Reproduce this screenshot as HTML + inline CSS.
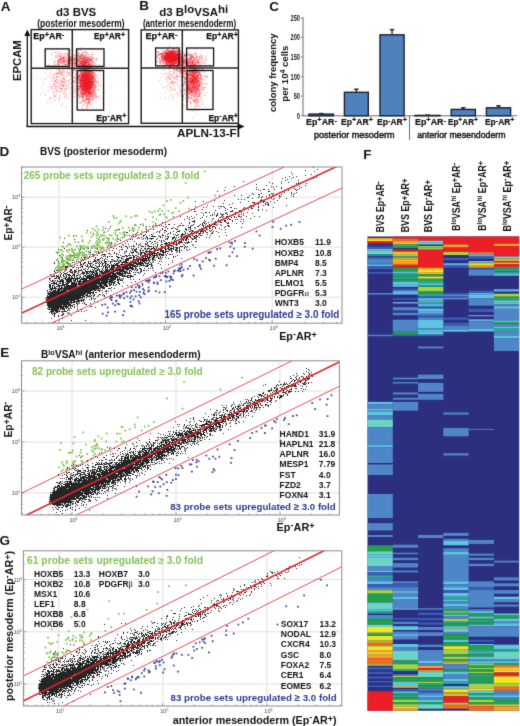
<!DOCTYPE html>
<html><head><meta charset="utf-8"><style>
html,body{margin:0;padding:0;background:#fff;width:520px;height:726px;overflow:hidden}
svg{display:block}
text{font-family:"Liberation Sans",sans-serif}
</style></head><body>
<svg width="520" height="726" viewBox="0 0 520 726"><defs><filter id="bl" filterUnits="userSpaceOnUse" x="-6" y="-6" width="532" height="738" color-interpolation-filters="sRGB"><feConvolveMatrix order="3" kernelMatrix="0.0113 0.0838 0.0113 0.0838 0.6193 0.0838 0.0113 0.0838 0.0113" edgeMode="duplicate" preserveAlpha="true"/></filter></defs><g filter="url(#bl)">
<rect x="-6" y="-6" width="532" height="738" fill="#fff"/>
<text x="0.8" y="10.7" font-size="13.5" font-weight="bold" fill="#111" text-anchor="start" >A</text>
<text x="139.3" y="9.8" font-size="13.5" font-weight="bold" fill="#111" text-anchor="start" >B</text>
<text x="56" y="16.3" font-size="11.5" font-weight="bold" fill="#111" text-anchor="start" textLength="40.3" lengthAdjust="spacingAndGlyphs" >d3 BVS</text>
<text x="37.3" y="26.6" font-size="10.3" font-weight="bold" fill="#111" text-anchor="start" textLength="87.3" lengthAdjust="spacingAndGlyphs" >(posterior mesoderm)</text>
<text x="159.2" y="16.3" font-size="11.5" font-weight="bold" fill="#111">d3 B<tspan dy="-3.5">lo</tspan><tspan dy="3.5">VSA</tspan><tspan dy="-3.5">hi</tspan></text>
<text x="142.9" y="26.6" font-size="10.3" font-weight="bold" fill="#111" text-anchor="start" textLength="93.3" lengthAdjust="spacingAndGlyphs" >(anterior mesendoderm)</text>
<radialGradient id="rg1"><stop offset="0" stop-color="#ee1c25" stop-opacity="0.9"/><stop offset="0.55" stop-color="#ee1c25" stop-opacity="0.54"/><stop offset="1" stop-color="#ee1c25" stop-opacity="0"/></radialGradient>
<ellipse cx="86" cy="81" rx="9.0" ry="15.3" fill="url(#rg1)"/>
<radialGradient id="rg2"><stop offset="0" stop-color="#ee1c25" stop-opacity="0.35"/><stop offset="0.55" stop-color="#ee1c25" stop-opacity="0.21"/><stop offset="1" stop-color="#ee1c25" stop-opacity="0"/></radialGradient>
<ellipse cx="83" cy="62" rx="10.8" ry="8.1" fill="url(#rg2)"/>
<path d="M84.8 85.3h1M84.9 78.3h1M81.5 79.2h1M91.3 84.6h1M91.0 83.1h1M87.9 82.6h1M78.0 88.3h1M88.4 85.2h1M77.9 66.2h1M81.7 77.0h1M87.5 80.6h1M88.5 75.5h1M87.5 84.4h1M82.8 95.6h1M88.7 91.2h1M83.0 74.7h1M84.3 80.1h1M89.0 83.1h1M83.9 72.9h1M83.5 91.4h1M82.1 83.1h1M88.0 68.3h1M86.2 92.1h1M76.3 78.3h1M85.5 74.1h1M88.4 80.5h1M79.0 88.0h1M89.2 89.0h1M92.9 84.1h1M86.6 70.0h1M89.0 75.8h1M83.8 70.2h1M81.4 76.5h1M92.2 63.7h1M79.0 83.0h1M92.9 85.9h1M76.9 59.6h1M87.7 74.7h1M80.6 89.3h1M91.3 82.3h1M87.2 84.7h1M93.7 86.3h1M88.5 85.7h1M78.5 91.9h1M90.6 85.5h1M76.5 75.6h1M90.0 65.6h1M85.1 89.7h1M79.7 94.7h1M88.6 79.7h1M87.6 86.5h1M86.6 90.7h1M82.8 77.5h1M91.0 81.2h1M81.8 89.0h1M93.0 77.2h1M79.4 79.9h1M85.3 78.5h1M92.7 72.3h1M92.1 70.2h1M82.2 86.4h1M91.4 88.3h1M87.7 82.2h1M86.7 85.9h1M85.2 83.4h1M88.7 81.0h1M89.7 85.8h1M95.7 83.8h1M83.9 77.8h1M85.9 88.9h1M84.4 84.3h1M94.8 59.2h1M80.6 83.1h1M87.9 83.0h1M83.9 86.6h1M87.4 76.6h1M97.7 84.0h1M83.3 80.2h1M84.9 80.5h1M72.9 76.9h1M90.8 71.1h1M85.7 89.1h1M90.1 93.7h1M77.8 78.0h1M84.4 86.3h1M91.2 58.2h1M91.2 68.7h1M89.3 68.3h1M86.8 91.2h1M85.3 82.6h1M89.8 82.2h1M85.6 94.0h1M91.0 78.5h1M99.2 71.3h1M90.4 78.7h1M86.6 87.0h1M87.1 86.4h1M78.7 68.2h1M89.0 72.8h1M81.1 68.5h1M92.1 87.3h1M93.1 73.0h1M86.0 71.3h1M89.7 94.5h1M81.7 94.3h1M90.7 79.5h1M76.5 93.0h1M85.5 75.9h1M87.9 84.5h1M93.2 72.3h1M91.5 93.6h1M93.0 79.5h1M82.4 89.7h1M86.6 82.1h1M92.8 78.8h1M75.0 77.7h1M77.1 88.0h1M87.5 75.8h1M86.0 88.1h1M86.4 92.3h1M85.7 89.8h1M93.2 94.7h1M82.8 88.5h1M77.0 71.8h1M76.6 90.1h1M80.1 80.9h1M85.1 80.8h1M83.2 83.0h1M94.6 81.4h1M88.5 89.5h1M85.0 70.3h1M83.3 90.1h1M78.1 75.9h1M90.8 87.7h1M86.0 87.8h1M86.8 71.0h1M78.5 75.6h1M90.4 76.2h1M81.7 74.4h1M78.6 80.0h1M80.3 84.1h1M74.7 83.8h1M82.9 64.5h1M89.5 78.7h1M75.3 73.6h1M87.4 77.1h1M89.7 87.4h1M89.2 83.8h1M92.4 86.6h1M88.2 63.3h1M90.3 92.1h1M84.6 77.0h1M95.3 66.1h1M88.3 101.6h1M81.5 86.9h1M95.1 80.0h1M88.7 88.7h1M81.7 80.2h1M87.4 88.0h1M85.8 79.3h1M81.1 77.9h1M90.3 81.9h1M81.9 73.8h1M98.8 90.7h1M89.1 59.0h1M89.0 85.1h1M94.1 84.6h1M85.7 85.4h1M76.7 89.8h1M87.6 75.0h1M92.4 96.4h1M79.3 75.3h1M87.4 82.6h1M84.1 72.7h1M96.2 89.8h1M80.3 69.6h1M94.2 89.4h1M94.7 87.9h1M81.8 83.2h1M75.6 74.6h1M85.7 85.4h1M82.5 79.9h1M88.2 84.2h1M89.1 82.8h1M84.4 87.7h1M86.2 74.0h1M83.0 81.0h1M85.5 82.3h1M86.0 82.5h1M85.4 70.3h1M88.0 90.0h1M88.1 79.4h1M88.1 72.8h1M76.9 81.5h1M81.5 87.3h1M80.8 58.7h1M81.0 94.4h1M84.2 69.4h1M82.3 85.4h1M88.4 82.5h1M93.1 87.0h1M85.9 86.1h1M93.9 89.3h1M90.9 71.8h1M85.3 87.2h1M84.6 90.1h1M88.9 88.7h1M85.0 102.6h1M92.0 79.2h1M86.4 103.1h1M84.4 88.4h1M90.7 81.1h1M80.4 82.6h1M87.7 90.6h1M89.8 81.2h1M90.1 85.6h1M87.0 81.5h1M84.8 86.8h1M80.9 75.7h1M86.0 68.6h1M83.9 63.9h1M82.7 85.8h1M88.7 80.5h1M84.9 69.0h1M94.8 85.4h1M91.2 73.5h1M85.1 65.5h1M89.7 88.9h1M76.9 80.6h1M89.0 66.0h1M77.2 71.9h1M83.0 69.1h1M86.2 83.1h1M89.0 87.0h1M93.2 90.9h1M79.7 76.7h1M80.9 71.8h1M85.6 81.0h1M88.4 67.5h1M80.1 80.8h1M85.0 78.4h1M85.7 74.5h1M89.4 84.0h1M85.6 75.3h1M85.2 57.9h1M81.3 81.3h1M78.8 82.7h1M86.7 69.3h1M84.8 78.3h1M88.2 86.2h1M85.8 73.8h1M85.3 80.4h1M89.5 83.5h1M82.5 69.5h1M84.2 74.7h1M80.7 80.0h1M83.6 81.9h1M88.5 77.5h1M97.2 78.3h1M91.3 82.0h1M91.4 60.8h1M82.4 83.1h1M88.9 100.9h1M87.5 91.9h1M89.7 89.1h1M88.4 79.7h1M88.4 71.8h1M91.7 72.4h1M87.2 99.0h1M84.9 81.2h1M91.6 81.2h1M82.1 83.2h1M88.8 87.0h1M82.3 95.9h1M94.0 81.2h1M87.3 77.4h1M92.8 75.0h1M89.2 76.9h1M82.7 87.1h1M92.4 80.9h1M82.7 87.9h1M85.8 83.6h1M93.3 90.6h1M83.5 100.4h1M86.0 87.7h1M82.9 80.6h1M77.6 96.2h1M92.6 70.7h1M78.8 67.2h1M91.6 77.1h1M85.7 78.3h1M85.4 71.8h1M86.1 68.8h1M85.7 83.6h1M88.2 79.0h1M81.7 82.4h1M83.7 94.3h1M89.7 80.0h1M83.7 75.0h1M81.5 78.0h1M87.4 85.4h1M88.7 98.8h1M82.6 81.1h1M99.4 65.1h1M83.5 82.4h1M86.7 84.5h1M84.9 84.1h1M86.3 87.6h1M76.9 73.5h1M86.0 72.2h1M81.0 86.3h1M82.9 86.4h1M89.6 83.6h1M88.4 80.1h1M79.2 80.7h1M88.2 76.5h1M85.5 87.4h1M81.8 86.4h1M94.9 76.3h1M86.7 79.7h1M93.4 83.7h1M90.3 75.1h1M85.9 80.9h1M77.5 93.2h1M90.3 66.1h1M89.6 79.9h1M88.2 84.1h1M78.8 79.2h1M93.2 76.1h1M81.1 69.4h1M80.1 83.9h1M94.1 84.7h1M87.2 100.0h1M83.5 75.3h1M88.5 85.7h1M81.1 71.1h1M87.4 83.1h1M79.7 79.3h1M83.4 84.9h1M85.4 80.3h1M84.3 90.0h1M92.7 77.9h1M90.1 74.6h1M86.3 87.4h1M93.3 77.7h1M85.6 82.7h1M78.8 81.1h1M82.8 84.2h1M80.6 64.2h1M86.2 83.2h1M83.4 88.6h1M84.7 75.9h1M88.3 67.7h1M82.7 80.8h1M90.1 79.6h1M87.5 75.4h1M87.4 95.1h1M82.7 101.1h1M82.9 81.1h1M86.8 89.7h1M80.1 63.1h1M88.9 87.8h1M89.0 103.4h1M87.0 83.2h1M90.5 84.1h1M94.0 70.5h1M84.2 51.7h1M89.9 77.8h1M90.4 99.3h1M86.0 78.8h1M83.6 73.9h1M83.0 86.4h1M86.2 81.6h1M85.2 88.8h1M88.4 79.8h1M89.2 79.7h1M80.5 93.4h1M88.2 72.9h1M91.2 83.9h1M78.5 94.7h1M87.6 88.6h1M86.9 79.7h1M78.6 89.3h1M86.1 78.6h1M87.7 81.7h1M89.2 77.8h1M85.8 62.8h1M84.0 86.7h1M92.4 77.9h1M85.4 94.5h1M84.4 87.2h1M94.1 81.3h1M91.9 75.0h1M87.0 80.3h1M86.6 90.6h1M97.5 75.3h1M83.2 85.2h1M80.9 85.2h1M88.7 78.6h1M88.5 67.8h1M89.6 67.9h1M82.7 76.3h1M84.1 88.3h1M86.4 77.6h1M88.6 94.4h1M86.0 84.1h1M92.0 83.3h1M79.8 102.2h1M96.6 64.1h1M85.8 84.5h1M90.6 86.7h1M84.7 72.0h1M86.5 89.8h1M80.8 72.3h1M85.9 64.5h1M84.8 77.3h1M88.2 75.0h1M81.8 77.6h1M85.8 75.4h1M86.1 87.4h1M91.7 95.5h1M82.2 77.4h1M74.1 97.1h1M82.5 80.7h1M88.5 69.5h1M88.2 80.8h1M77.2 83.5h1M91.7 65.1h1M89.9 82.8h1M88.3 84.8h1M92.3 79.1h1M90.2 77.5h1M89.5 74.1h1M85.5 95.7h1M88.1 79.7h1M80.5 74.3h1M86.9 89.0h1M88.0 85.5h1M85.8 92.5h1M84.1 76.3h1M90.3 81.5h1M84.7 76.1h1M84.8 86.3h1M87.7 70.7h1M88.0 82.5h1M81.2 87.6h1M84.7 78.1h1M89.8 92.2h1M82.7 84.7h1M81.8 100.7h1M83.6 91.2h1M82.9 87.9h1M96.7 59.4h1M83.9 85.3h1M85.6 75.3h1M96.3 81.7h1M78.1 88.3h1M77.7 90.8h1M83.2 82.2h1M92.1 82.0h1M79.3 66.6h1M91.7 87.3h1M82.1 88.3h1M88.4 86.5h1M75.2 78.4h1M90.3 87.2h1M90.2 60.1h1M86.8 85.2h1M98.2 72.9h1M84.4 81.3h1M90.3 77.2h1M91.5 74.3h1M87.3 76.5h1M86.8 75.1h1M78.3 90.3h1M87.5 76.3h1M87.0 89.4h1M81.3 80.1h1M88.6 85.5h1M84.4 63.1h1M92.0 83.8h1M86.1 78.6h1M87.3 77.4h1M81.1 74.7h1M83.1 75.8h1M80.4 86.4h1M79.7 86.6h1M81.1 84.0h1M92.6 82.7h1M82.5 81.4h1M86.7 66.3h1M83.1 82.4h1M83.7 81.7h1M89.5 87.5h1M90.3 86.0h1M84.6 80.8h1M84.7 78.3h1M85.1 66.3h1M84.4 80.8h1M81.3 80.8h1M88.5 79.6h1M96.0 58.8h1M85.0 65.5h1M90.7 103.6h1M74.0 82.1h1M88.5 78.4h1M88.6 61.9h1M90.1 84.2h1M86.1 76.0h1M89.1 76.9h1M87.1 76.7h1M75.2 80.7h1M87.0 87.4h1M81.8 80.7h1M89.0 82.2h1M92.0 97.9h1M81.6 64.7h1M90.1 94.0h1M90.4 87.9h1M83.0 74.9h1M90.3 73.3h1M77.3 72.5h1M98.0 97.3h1M82.7 74.8h1M87.1 74.6h1M92.3 80.3h1M80.8 92.1h1M83.2 82.9h1M85.9 78.3h1M87.6 75.1h1M77.1 62.2h1M79.9 74.6h1M85.9 81.5h1M88.7 82.0h1M82.2 75.0h1M75.8 79.6h1M88.3 85.5h1M85.4 79.5h1M90.5 81.1h1M89.5 86.0h1M87.0 92.1h1M83.3 77.9h1M82.1 74.2h1M93.5 96.0h1M86.1 85.8h1M91.6 87.9h1M91.8 70.3h1M82.9 84.8h1M92.9 81.9h1M81.9 78.0h1M82.8 73.7h1M93.2 75.7h1M86.1 99.4h1M91.7 83.9h1M83.1 84.5h1M93.8 86.3h1M92.1 81.8h1M88.5 79.3h1M88.0 92.1h1M79.1 80.5h1M87.2 76.1h1M84.5 87.7h1M95.6 86.4h1M87.6 67.8h1M95.3 81.7h1M85.8 71.5h1M85.7 71.7h1M86.3 85.0h1M86.1 83.4h1M81.9 93.2h1M82.9 65.5h1M85.1 74.5h1M81.2 78.0h1M87.4 71.0h1M85.3 93.1h1M89.3 79.7h1M86.6 80.0h1M85.8 87.2h1M85.6 60.6h1M85.9 73.4h1M89.1 75.8h1M86.7 99.5h1M81.0 71.4h1M79.2 60.6h1M77.0 84.1h1M82.9 65.1h1M78.9 86.2h1M82.3 77.9h1M87.6 92.5h1M95.3 89.8h1M86.7 82.6h1M94.7 93.1h1M84.5 84.9h1M87.4 81.4h1M83.6 69.7h1M83.4 67.9h1M91.9 85.6h1M80.2 92.9h1M90.3 64.8h1M94.8 87.9h1M95.9 70.5h1M88.5 84.6h1M87.0 82.5h1M91.1 68.3h1M80.0 69.1h1M83.3 75.9h1M87.8 83.3h1M86.2 75.2h1M83.9 89.1h1M89.7 81.9h1M84.5 94.2h1M83.1 86.5h1M91.5 78.7h1M90.0 71.5h1M90.9 82.7h1M78.4 86.7h1M81.7 91.9h1M82.7 79.6h1M87.4 78.2h1M87.2 76.3h1M89.2 81.0h1M87.0 57.6h1M91.6 81.3h1M77.4 81.8h1M88.2 90.1h1M80.8 94.1h1M85.2 101.4h1M85.3 86.8h1M84.2 71.5h1M91.3 88.7h1M93.4 88.3h1M83.2 66.9h1M82.9 75.3h1M82.1 86.0h1M87.6 78.7h1M86.8 79.8h1M87.0 87.4h1M90.6 75.2h1M78.8 93.1h1M86.5 90.4h1M78.1 78.2h1M86.1 68.7h1M83.5 87.2h1M91.2 94.5h1M81.9 69.1h1M88.5 89.0h1M86.9 69.9h1M89.8 87.7h1M88.7 76.9h1M87.5 87.7h1M83.3 65.3h1M87.6 85.1h1M86.1 88.6h1M83.2 80.3h1M84.5 85.9h1M93.7 78.9h1M95.9 94.0h1M89.8 86.0h1M94.5 79.5h1M85.5 72.0h1M88.3 92.4h1M88.6 84.6h1M85.0 82.4h1M79.2 89.9h1M84.0 71.6h1M82.4 74.0h1M90.1 90.0h1M79.5 88.9h1M90.3 76.1h1M78.9 74.7h1M83.0 83.9h1M84.3 63.8h1M87.1 68.0h1M90.3 70.7h1M82.7 73.7h1M83.4 92.0h1M90.1 86.1h1M87.5 67.8h1M83.5 76.3h1M81.3 85.3h1M82.4 75.0h1M81.0 63.5h1M88.9 92.3h1M86.8 72.7h1M73.0 82.5h1M91.8 83.5h1M90.5 93.6h1M91.4 77.2h1M91.1 87.6h1M78.6 77.6h1M79.2 80.1h1M88.8 71.9h1M76.1 92.0h1M87.8 93.5h1M79.6 90.0h1M96.0 98.1h1M85.0 83.3h1M85.3 89.5h1M91.0 81.7h1M79.5 87.3h1M83.7 86.3h1M87.3 94.8h1M91.5 77.2h1M87.7 96.0h1M83.4 84.7h1M91.7 91.7h1M88.5 69.8h1M79.9 83.1h1M87.9 102.7h1M81.9 90.7h1M89.7 66.8h1M82.1 82.4h1M83.6 79.7h1M88.3 74.1h1M88.2 75.6h1M83.4 85.6h1M83.2 83.4h1M93.7 81.2h1M85.3 87.2h1M84.2 90.2h1M79.8 86.3h1M83.5 74.2h1M94.5 73.8h1M94.4 86.6h1M93.0 72.7h1M91.8 93.4h1M85.4 79.9h1M97.8 82.5h1M84.0 75.6h1M88.1 83.8h1M86.9 95.6h1M84.4 85.0h1M93.0 72.5h1M91.0 96.6h1M79.5 71.7h1M81.0 65.3h1M88.2 65.2h1M88.4 93.4h1M78.2 78.3h1M76.8 87.6h1M82.5 78.7h1M86.3 85.6h1M84.3 81.1h1M83.4 82.0h1M80.4 81.5h1M76.7 76.8h1M95.2 81.7h1M80.0 83.2h1M81.3 67.0h1M82.5 87.3h1M87.8 80.2h1M81.6 71.8h1M92.5 83.1h1M81.4 63.1h1M79.4 102.0h1M80.5 80.3h1M87.0 79.7h1M84.7 69.3h1M81.0 95.4h1M82.4 88.2h1M77.9 78.7h1M87.3 89.8h1M80.6 86.1h1M87.9 74.7h1M88.3 73.4h1M82.2 80.8h1M73.0 80.1h1M81.2 68.6h1M84.0 87.5h1M84.1 91.8h1M80.4 69.8h1M93.4 84.4h1M90.5 74.0h1M89.9 83.2h1M89.1 81.2h1M91.8 75.5h1M81.4 68.4h1M91.6 74.7h1M81.0 73.0h1M83.9 70.2h1M84.6 75.7h1M83.4 72.8h1M86.2 77.1h1M86.6 83.1h1M87.6 62.4h1M83.4 74.2h1M89.7 67.6h1M82.6 78.5h1M84.4 89.4h1M83.9 89.2h1M79.0 65.6h1M91.9 84.7h1M88.3 82.0h1M88.3 70.7h1M90.6 76.5h1M90.7 81.7h1M76.5 70.1h1M91.4 79.8h1M84.1 83.1h1M84.0 76.4h1M86.5 82.2h1M93.3 81.4h1M95.0 96.3h1M94.2 90.0h1M86.6 82.2h1M85.3 74.8h1M85.7 75.6h1M93.9 85.5h1M83.9 64.7h1M85.7 77.5h1M80.8 71.3h1M75.2 85.8h1M85.7 102.9h1M85.9 79.7h1M92.9 82.1h1M86.8 77.8h1M83.1 93.7h1M90.8 95.6h1M84.3 81.3h1M81.8 89.2h1M79.3 85.8h1M91.3 93.0h1M81.5 90.3h1M82.6 74.6h1M79.6 90.8h1M93.9 75.9h1M82.4 78.1h1M98.0 89.5h1M83.4 65.7h1M82.8 91.1h1M95.0 78.7h1M82.7 76.7h1M76.9 88.7h1M80.8 90.0h1M77.8 70.2h1M87.4 74.5h1M89.8 81.1h1M80.4 86.3h1M90.0 64.7h1M94.8 85.2h1M89.6 65.2h1M82.5 78.0h1M91.2 68.6h1M81.8 63.7h1M84.8 83.9h1M77.9 76.0h1M88.4 94.5h1M89.2 78.4h1M80.3 73.0h1M82.8 82.2h1M85.8 95.2h1M87.4 71.9h1M93.4 89.1h1M86.5 74.9h1M77.0 72.3h1M90.4 74.2h1M79.7 82.7h1M87.2 86.2h1M89.1 93.0h1M82.0 89.3h1M81.3 86.9h1M86.9 83.1h1M90.6 80.9h1M91.3 88.4h1M86.7 76.2h1M82.4 76.5h1M85.0 80.8h1M100.3 86.4h1M89.7 73.7h1M82.6 78.3h1M86.9 72.2h1M93.7 76.2h1M91.2 61.1h1M86.0 83.4h1M86.9 86.1h1M87.3 82.4h1M76.9 74.9h1M74.8 86.3h1M87.5 79.3h1M82.1 76.1h1M94.9 95.7h1M85.7 91.9h1M78.4 64.6h1M83.7 73.6h1M83.3 82.6h1M100.5 75.4h1M86.2 83.3h1M85.8 88.9h1M94.5 70.4h1M86.8 78.7h1M87.7 68.0h1M77.6 61.3h1M88.5 82.6h1M86.4 60.9h1M84.2 74.6h1M79.2 73.2h1M89.3 85.6h1M85.9 85.4h1M83.1 81.6h1M86.2 85.7h1M85.7 79.8h1M85.4 75.5h1M96.7 85.4h1M88.1 100.5h1M92.7 67.8h1M89.3 88.1h1M95.0 92.2h1M89.7 71.0h1M81.8 83.3h1M88.4 72.3h1M84.2 77.6h1M86.3 83.9h1M84.6 70.5h1M92.0 94.6h1M85.5 89.7h1M88.1 86.6h1M88.3 74.5h1M88.8 89.6h1M81.7 97.7h1M96.0 96.5h1M95.5 87.3h1M84.4 75.9h1M82.1 82.0h1M85.8 86.7h1M76.3 100.7h1M96.9 80.8h1M89.2 85.0h1M87.3 79.2h1M85.4 74.0h1M86.9 80.8h1M87.5 73.7h1M86.2 81.4h1M88.9 72.0h1M88.0 89.4h1M88.9 77.9h1M83.6 79.0h1M89.5 94.2h1M85.2 75.5h1M87.8 82.7h1M81.6 74.7h1M85.5 86.7h1M80.3 72.3h1M88.4 70.6h1M86.5 84.0h1M85.5 72.3h1M85.7 78.2h1M87.6 73.9h1M91.2 66.8h1M85.2 81.1h1M90.6 75.8h1M88.6 76.2h1M89.5 95.8h1M84.1 84.8h1M81.5 89.3h1M91.8 81.3h1M80.6 84.4h1M91.5 90.3h1M89.9 65.4h1M82.7 93.1h1M80.1 90.6h1M95.0 87.5h1M91.4 78.2h1M80.1 80.1h1M85.0 80.6h1M89.3 79.8h1M86.9 84.6h1M86.0 96.7h1M88.1 81.7h1M85.0 75.7h1M92.5 82.3h1M80.8 76.2h1M85.3 77.2h1M91.2 71.1h1M88.4 82.2h1M80.3 81.4h1M85.5 85.3h1M83.8 83.6h1M78.0 71.8h1M89.8 89.9h1M85.9 75.9h1M91.2 63.2h1M82.2 86.7h1M89.1 72.2h1M76.9 93.3h1M86.7 73.4h1M86.3 88.7h1M73.6 90.4h1M89.6 63.3h1M89.7 65.9h1M91.5 84.4h1M96.8 75.8h1M86.0 89.9h1M82.9 75.0h1M84.2 80.4h1M80.8 85.1h1M88.6 81.6h1M94.2 78.2h1M92.3 76.4h1M89.6 64.6h1M87.0 79.5h1M83.6 75.8h1M84.3 74.9h1M75.5 75.9h1M83.4 76.5h1M80.9 79.8h1M89.8 78.9h1M83.6 92.5h1M90.7 88.8h1M91.5 78.2h1M85.4 90.5h1M83.3 80.0h1M87.8 84.2h1M84.7 89.4h1M85.1 87.2h1M91.1 86.6h1M89.5 71.1h1M79.7 75.7h1M88.3 93.8h1M80.1 83.6h1M81.9 74.8h1M84.7 86.9h1M87.0 91.0h1M81.3 88.6h1M90.5 81.6h1M88.3 76.2h1M80.8 77.6h1M82.9 105.6h1M83.7 95.0h1M87.0 83.7h1M89.6 74.4h1M90.4 84.2h1M78.7 86.1h1M88.7 84.8h1M93.6 77.5h1M88.5 87.4h1M81.7 91.2h1M79.0 69.9h1M88.5 71.7h1M85.4 67.0h1M86.3 71.4h1M87.6 68.0h1M88.2 78.7h1M86.3 80.4h1M86.6 69.8h1M73.7 81.3h1M81.5 77.1h1M88.0 64.1h1M82.3 75.8h1M80.9 83.8h1M85.3 74.0h1M81.3 87.9h1M82.8 86.0h1M88.2 64.9h1M80.8 81.0h1M87.6 87.6h1M89.9 89.8h1M84.2 79.2h1M89.7 77.4h1M91.1 67.5h1M89.1 79.5h1M76.6 89.3h1M87.5 81.2h1M80.8 77.0h1M93.3 74.0h1M69.3 73.7h1M80.2 79.9h1M84.1 73.2h1M82.0 89.9h1M79.1 97.6h1M83.4 71.7h1M89.8 85.8h1M81.0 87.4h1M77.2 73.1h1M91.4 78.8h1M79.8 85.4h1M90.4 80.8h1M77.3 78.1h1M88.0 87.5h1M94.9 78.9h1M83.7 80.7h1M91.8 73.0h1M92.3 57.6h1M89.8 75.3h1M88.2 86.9h1M80.3 80.3h1M87.2 86.0h1M81.5 72.6h1M76.8 102.6h1M85.1 79.1h1M78.8 88.9h1M83.4 93.2h1M90.1 81.2h1M89.5 71.5h1M84.4 76.1h1M79.9 81.1h1M85.3 93.2h1M69.9 75.3h1M81.6 77.1h1M88.0 84.4h1M86.1 77.0h1M88.4 84.1h1M77.2 78.8h1M79.4 71.0h1M86.7 81.5h1M86.5 73.6h1M85.0 73.2h1M87.8 86.9h1M94.4 91.8h1M82.1 77.1h1M81.5 83.6h1M95.5 87.0h1M75.4 70.3h1M79.8 85.4h1M86.0 83.5h1M94.6 74.0h1M81.9 97.7h1M87.6 74.4h1M76.3 68.0h1M74.3 81.6h1M86.2 89.4h1M85.3 75.1h1M82.4 97.2h1M77.5 82.5h1M86.1 86.2h1M84.1 85.2h1M89.9 79.7h1M83.8 79.4h1M81.4 79.2h1M84.6 82.8h1M92.4 92.1h1M83.9 86.1h1M87.4 87.5h1M86.1 83.3h1M83.7 74.3h1M90.2 92.0h1M89.2 84.7h1M87.3 77.2h1M77.4 86.6h1M87.0 76.3h1M81.4 91.9h1M77.3 96.0h1M89.1 101.2h1M82.6 80.8h1M83.6 82.3h1M85.0 74.6h1M91.2 74.3h1M83.6 85.7h1M83.4 77.3h1M87.7 77.9h1M80.0 80.1h1M84.9 95.5h1M80.7 89.2h1M82.2 78.0h1M84.4 83.3h1M90.1 95.9h1M82.9 92.3h1M90.8 87.9h1M82.4 88.7h1M85.5 84.0h1M84.7 86.6h1M91.4 90.6h1M85.0 89.5h1M93.0 73.0h1M93.1 69.6h1M88.6 86.0h1M93.1 83.4h1M83.7 74.2h1M80.0 87.5h1M84.9 74.9h1M88.6 74.5h1M83.9 77.1h1M93.9 93.4h1M85.2 67.6h1M87.3 81.6h1M87.7 85.8h1M84.5 88.9h1M90.0 82.8h1M84.0 76.9h1M89.3 71.7h1M85.2 74.6h1M79.3 86.1h1M85.9 81.3h1M90.2 68.3h1M85.7 83.5h1M90.0 71.8h1M89.4 82.9h1M92.5 90.7h1M88.6 99.3h1M86.0 77.4h1M84.4 73.0h1M85.9 65.0h1M85.6 84.6h1M90.8 78.0h1M92.7 75.5h1M85.4 65.0h1M82.3 74.3h1M93.0 85.4h1M80.8 85.4h1M88.3 79.1h1M86.1 78.5h1M83.5 66.3h1M85.6 91.7h1M92.7 78.7h1M82.5 79.2h1M90.2 83.9h1M83.3 84.0h1M85.0 85.3h1M84.1 68.8h1M86.3 87.3h1M80.8 80.1h1M90.1 77.9h1M83.0 97.8h1M89.9 89.5h1M81.6 94.5h1M78.3 76.7h1M89.5 92.0h1M81.7 75.5h1M86.9 65.0h1M89.0 85.6h1M83.9 85.4h1M89.6 83.6h1M88.4 93.5h1M83.8 82.3h1M83.6 89.5h1M84.1 84.9h1M86.6 81.5h1M94.0 80.3h1M92.6 87.8h1M92.1 79.6h1M90.3 87.2h1M83.1 83.2h1M85.4 80.7h1M92.0 75.1h1M78.2 66.7h1M83.9 75.7h1M86.1 85.6h1M94.2 83.5h1M88.1 75.0h1M88.7 92.1h1M92.2 65.0h1M90.1 94.0h1M89.8 68.8h1M84.6 85.8h1M87.9 74.4h1M81.9 88.9h1M79.8 92.7h1M86.1 83.5h1M79.8 76.1h1M89.2 69.0h1M95.6 69.5h1M80.4 81.4h1M88.2 87.0h1M84.3 79.3h1M84.9 76.3h1M74.1 88.9h1M87.2 82.3h1M83.1 83.1h1M85.9 80.4h1M91.1 66.9h1M87.2 72.3h1M84.5 93.2h1M81.0 80.2h1M83.3 88.8h1M81.5 67.3h1M88.4 78.1h1M84.5 89.8h1M81.9 78.0h1M86.7 84.4h1M83.6 89.4h1M96.3 77.7h1M94.6 63.8h1M92.5 78.2h1M86.6 78.2h1M83.1 70.6h1M84.2 91.6h1M91.3 78.2h1M83.6 75.3h1M80.5 95.7h1M89.1 82.0h1M83.7 72.7h1M92.1 87.4h1M81.6 89.1h1M80.9 86.2h1M81.6 77.6h1M88.3 84.5h1M90.7 74.2h1M93.3 92.0h1M86.0 84.8h1M82.4 79.8h1M79.9 81.7h1M86.9 92.0h1M90.4 87.6h1M84.3 79.2h1M84.4 82.8h1M77.1 87.3h1M78.8 76.8h1M86.1 76.8h1M93.7 80.2h1M93.2 90.6h1M83.7 84.3h1M92.0 78.3h1M86.4 76.4h1M86.3 78.1h1M86.4 89.2h1M92.4 82.1h1M86.9 88.0h1M84.7 72.4h1M91.1 73.4h1M90.3 73.1h1M94.4 72.5h1M89.9 93.2h1M81.6 93.1h1M82.2 66.6h1M89.3 86.7h1M85.1 60.4h1M85.7 78.5h1M84.3 78.6h1M77.8 76.4h1M94.3 93.6h1M84.3 75.2h1M87.8 89.7h1M89.3 71.5h1M86.7 82.1h1M92.6 90.8h1M88.4 90.9h1M84.2 93.6h1M84.0 84.2h1M90.2 73.5h1M82.8 66.7h1M86.8 80.6h1M84.5 85.1h1M76.2 80.8h1M86.4 78.8h1M89.7 95.3h1M83.9 73.3h1M83.2 81.8h1M88.7 74.0h1M90.6 72.6h1M89.8 84.5h1M88.1 98.6h1M84.8 79.6h1M88.2 88.0h1M79.8 83.2h1M82.6 86.1h1M92.3 81.4h1M85.5 82.5h1M72.4 87.3h1M88.6 82.3h1M84.2 75.0h1M85.2 90.9h1M85.5 92.0h1M74.1 77.2h1M87.3 80.9h1M78.4 75.6h1M91.8 70.5h1M81.4 72.0h1M83.5 86.2h1M88.7 64.4h1M92.7 76.2h1M83.3 94.6h1M85.6 70.9h1M83.1 75.1h1M81.3 78.3h1M90.0 83.9h1M79.6 103.7h1M81.4 81.9h1M86.1 87.2h1M84.5 84.7h1M95.7 81.8h1M81.0 83.7h1M82.3 78.0h1M86.9 83.7h1M84.7 87.9h1M85.1 70.4h1M90.0 78.0h1M91.6 75.7h1M88.6 83.6h1M73.6 68.8h1M80.8 92.5h1M77.3 88.5h1M91.0 85.0h1M89.1 77.0h1M86.0 82.8h1M87.9 86.8h1M85.0 75.3h1M83.4 84.4h1M78.3 70.8h1M84.1 76.5h1M84.8 59.3h1M84.4 79.0h1M89.6 64.8h1M84.6 84.9h1M88.3 90.8h1M90.9 72.4h1M88.9 78.3h1M82.3 93.5h1M83.1 74.0h1M84.1 74.0h1M90.6 84.1h1M92.5 84.4h1M83.2 89.6h1M83.0 77.2h1M85.2 81.3h1M91.5 76.0h1M87.6 80.8h1M80.2 72.0h1M85.0 84.3h1M87.5 84.9h1M86.2 77.3h1M88.0 72.8h1M79.8 78.3h1M79.4 76.8h1M82.5 76.5h1M85.8 74.4h1M84.0 67.0h1M86.7 73.8h1M87.9 57.8h1M82.3 83.0h1M74.7 78.0h1M86.4 81.8h1M79.1 82.9h1M86.7 73.0h1M89.4 80.6h1M86.1 77.3h1M88.5 81.8h1M91.3 84.7h1M83.1 79.2h1M90.3 78.0h1M87.8 85.3h1M85.2 61.9h1M86.6 82.8h1M86.6 74.8h1M91.6 79.9h1M83.1 75.1h1M87.7 72.0h1M81.4 97.4h1M92.1 89.7h1M92.3 85.9h1M78.2 90.8h1M91.8 85.0h1M76.9 91.2h1M92.3 77.0h1M86.6 87.4h1M85.6 90.0h1M86.4 86.7h1M86.4 68.8h1M81.4 107.1h1M87.3 91.8h1M91.3 95.1h1M88.6 76.1h1M86.1 65.2h1M85.1 88.5h1M75.9 82.6h1M89.8 91.9h1M81.7 75.6h1M77.3 72.6h1M88.5 98.1h1M80.7 92.4h1M88.0 76.9h1M96.2 60.2h1M85.7 82.8h1M95.9 95.8h1M96.6 82.1h1M90.6 92.3h1M88.4 84.0h1M85.1 77.6h1M80.3 97.1h1M83.9 63.8h1M87.2 80.7h1M86.8 96.0h1M85.5 78.8h1M82.5 80.8h1M84.0 82.7h1M100.6 84.3h1M82.0 97.0h1M90.0 87.7h1M89.3 87.8h1M89.2 92.7h1M90.7 92.2h1M83.7 81.0h1M82.6 88.9h1M89.9 77.1h1M88.7 102.7h1M91.8 71.8h1M85.6 86.3h1M85.8 84.2h1M91.5 83.7h1M80.9 86.9h1M85.5 81.9h1M83.4 69.6h1M80.2 78.1h1M81.0 58.5h1M91.4 71.4h1M82.6 85.4h1M74.7 92.1h1M82.4 86.5h1M83.7 83.5h1M86.5 81.0h1M77.5 68.8h1M85.8 92.7h1" stroke="#ee1c25" stroke-width="1" stroke-opacity="0.45" fill="none"/>
<path d="M84.9 98.1h1M87.6 97.8h1M90.9 86.2h1M88.1 94.0h1M85.8 90.0h1M83.9 89.0h1M82.7 109.7h1M93.6 95.1h1M89.9 89.3h1M76.2 84.3h1M87.6 103.4h1M86.8 89.1h1M86.1 89.2h1M81.6 93.6h1M85.4 90.3h1M83.5 89.6h1M87.9 103.1h1M86.2 108.1h1M80.7 96.6h1M82.5 94.1h1M87.4 98.3h1M91.4 91.8h1M82.2 93.9h1M88.1 90.9h1M90.5 104.8h1M81.5 97.1h1M91.0 83.8h1M87.8 93.7h1M81.5 102.7h1M87.8 92.2h1M88.7 98.8h1M90.0 98.4h1M88.6 88.1h1M85.4 95.8h1M76.2 107.5h1M85.5 88.8h1M79.9 96.5h1M87.1 91.6h1M85.4 89.8h1M84.1 94.4h1M84.5 99.0h1M86.4 95.8h1M88.6 102.4h1M89.3 96.3h1M86.4 90.3h1M85.7 99.0h1M87.9 92.7h1M81.8 86.0h1M88.3 101.0h1M88.5 87.0h1M86.2 96.3h1M83.4 97.0h1M86.2 90.1h1M82.2 99.7h1M88.4 89.8h1M83.0 100.2h1M89.3 93.2h1M93.2 93.3h1M82.9 101.4h1M86.3 97.0h1M87.1 89.1h1M82.4 93.9h1M92.5 89.1h1M92.3 96.3h1M82.7 96.6h1M89.2 89.7h1M78.7 97.1h1M82.7 97.6h1M79.6 94.2h1M83.8 86.4h1M86.1 96.0h1M84.8 88.1h1M87.8 84.8h1M89.1 97.9h1M93.5 100.2h1M88.4 96.5h1M87.1 87.3h1M92.7 98.1h1M85.9 88.3h1M92.8 98.1h1M82.4 98.9h1M94.4 94.9h1M88.6 92.6h1M84.6 101.3h1M99.0 95.7h1M86.5 99.6h1M85.8 99.2h1M90.2 89.1h1M82.8 94.6h1M90.2 96.6h1M91.8 87.0h1M88.9 91.4h1M87.4 96.9h1M83.2 93.7h1M82.5 96.5h1M83.7 92.1h1M87.8 91.2h1M91.5 91.3h1M90.3 96.6h1M83.0 93.7h1M83.8 92.9h1M85.9 105.6h1M85.4 104.1h1M88.7 87.4h1M78.0 98.9h1M79.3 99.2h1M91.0 97.3h1M86.2 93.5h1M88.0 93.2h1M84.9 92.8h1M91.5 91.4h1M88.5 88.3h1M84.2 87.0h1M86.2 99.0h1M88.2 92.1h1M89.4 93.0h1M88.4 96.6h1M89.1 80.6h1M82.0 99.5h1M86.6 108.0h1M86.1 91.8h1M92.8 98.2h1M94.3 98.0h1M86.2 99.2h1M84.0 92.4h1M84.9 93.7h1M90.0 92.2h1M88.2 92.1h1M90.4 79.0h1M86.2 96.0h1M82.8 100.9h1M87.8 102.4h1M90.7 98.7h1M86.4 88.7h1M86.1 92.3h1M88.0 92.3h1M98.8 85.7h1M91.5 92.3h1M86.1 100.4h1M87.0 88.0h1M88.6 93.9h1M79.0 96.1h1M82.9 90.7h1M88.9 96.7h1M85.9 107.6h1M88.6 91.4h1M87.9 94.3h1M78.5 85.9h1M81.6 107.0h1M86.3 93.4h1M84.8 100.7h1M87.1 104.9h1M90.0 104.5h1M86.5 97.2h1M85.3 94.0h1M80.3 91.6h1M83.3 91.2h1M91.7 96.5h1M91.7 100.0h1M90.5 100.8h1M84.7 99.6h1M85.8 91.9h1M91.6 107.5h1M83.2 105.0h1M90.2 90.1h1M88.1 97.1h1M88.4 92.9h1M82.0 95.2h1M90.3 99.5h1M89.5 101.4h1M83.2 94.8h1M88.3 100.8h1M87.6 98.0h1M87.5 107.1h1M78.6 94.9h1M96.5 96.4h1M79.9 95.8h1M81.5 91.1h1M87.9 104.9h1M88.8 98.9h1M90.9 96.2h1M83.7 94.4h1M88.3 93.4h1M84.4 92.9h1M81.2 89.1h1M86.7 92.9h1M87.1 103.1h1M88.2 94.8h1M82.5 88.8h1M88.4 90.0h1M88.7 88.8h1M87.5 94.6h1M90.8 92.7h1M85.6 96.4h1M87.2 104.8h1M86.0 91.9h1M85.8 97.7h1M87.9 99.0h1M81.7 109.3h1M94.1 94.8h1M82.3 95.9h1M88.6 82.1h1M87.1 86.5h1M88.8 103.0h1M91.0 86.3h1M92.3 100.2h1M85.6 97.9h1M92.8 93.1h1M86.9 91.8h1M91.5 82.6h1M92.5 89.4h1M90.6 85.6h1M83.4 91.5h1M90.2 85.6h1M89.3 91.3h1M91.8 93.2h1M88.9 94.0h1M93.9 92.9h1M86.9 106.5h1M87.3 99.0h1M84.2 96.2h1M78.3 95.6h1M84.5 86.3h1M81.5 101.6h1M88.6 86.2h1M94.0 91.0h1M85.6 96.4h1M82.6 85.7h1M84.1 101.8h1M90.7 85.9h1M91.6 95.2h1M88.9 95.3h1M88.6 89.2h1M83.5 90.9h1M85.6 98.6h1M82.3 104.2h1M84.6 91.6h1M89.7 97.5h1M85.7 88.8h1M83.2 85.8h1M91.4 101.3h1M94.2 97.9h1M88.3 99.4h1M90.7 93.5h1M88.4 107.4h1M80.5 86.9h1M83.3 99.4h1M91.6 93.0h1M89.6 94.7h1M88.2 91.9h1" stroke="#ee1c25" stroke-width="1" stroke-opacity="0.35" fill="none"/>
<path d="M82.9 61.0h1M88.4 70.7h1M74.3 63.3h1M83.0 65.2h1M88.1 64.4h1M86.9 56.9h1M74.8 68.2h1M88.8 56.9h1M89.2 63.9h1M71.2 64.9h1M78.2 66.1h1M79.7 57.8h1M75.6 60.1h1M87.9 58.1h1M74.0 70.3h1M91.9 64.0h1M80.4 55.7h1M75.1 63.4h1M89.3 56.4h1M83.0 59.8h1M81.8 63.2h1M93.1 58.2h1M87.1 65.7h1M81.6 60.4h1M76.5 65.7h1M80.4 58.2h1M83.3 57.3h1M78.0 59.7h1M90.2 60.1h1M85.5 54.6h1M73.6 68.9h1M81.1 54.3h1M82.5 63.6h1M74.7 57.2h1M84.3 57.0h1M86.8 65.2h1M85.1 59.1h1M82.8 58.3h1M82.4 62.4h1M81.6 65.2h1M95.5 58.6h1M84.7 64.6h1M86.1 60.0h1M80.7 65.4h1M86.0 63.2h1M79.1 63.7h1M86.8 60.2h1M86.1 70.4h1M73.9 63.6h1M77.3 55.1h1M81.9 63.4h1M83.3 55.9h1M76.1 58.6h1M83.1 57.4h1M75.7 68.6h1M78.9 60.3h1M80.3 58.5h1M83.2 59.7h1M86.0 55.8h1M75.8 69.5h1M82.6 64.3h1M88.7 63.4h1M83.2 54.2h1M75.3 65.3h1M86.3 63.5h1M75.0 51.7h1M77.9 55.9h1M83.8 56.5h1M90.7 58.3h1M80.3 64.8h1M84.6 57.1h1M87.0 69.4h1M77.1 59.9h1M77.8 52.5h1M86.0 64.0h1M87.7 62.9h1M73.2 60.9h1M79.8 55.9h1M77.6 64.3h1M81.6 69.6h1M85.3 52.7h1M87.3 66.5h1M83.2 55.7h1M91.6 55.3h1M82.6 52.7h1M76.9 53.6h1M88.3 66.2h1M81.0 55.1h1M82.7 62.7h1M75.6 55.9h1M82.5 64.1h1M83.4 63.0h1M76.9 50.1h1M84.5 57.0h1M82.4 59.3h1M85.3 57.6h1M90.0 61.1h1M85.6 63.8h1M88.1 62.8h1M74.5 58.2h1M92.1 63.1h1M85.7 63.1h1M79.9 58.0h1M79.8 66.1h1M84.8 68.8h1M85.4 69.3h1M85.2 55.8h1M91.5 62.5h1M88.8 61.9h1M81.4 61.7h1M77.5 55.7h1M78.6 58.7h1M76.4 60.5h1M84.5 69.9h1M92.0 60.8h1M87.3 60.0h1M84.9 60.9h1M80.3 61.3h1M75.7 62.9h1M81.6 56.2h1M81.2 63.4h1M79.7 63.1h1M85.8 67.9h1M77.7 60.5h1M85.5 67.6h1M84.3 64.3h1M75.8 58.4h1M91.2 59.7h1M93.6 57.8h1M81.6 53.9h1M86.1 62.2h1M92.9 61.7h1M81.8 54.8h1M82.6 65.2h1M86.7 66.5h1M87.3 60.8h1M86.0 61.8h1M76.4 68.6h1M84.8 56.3h1M84.9 62.3h1M87.9 67.4h1M68.0 63.5h1M90.6 56.8h1M73.8 62.2h1M84.7 62.6h1M77.5 58.9h1M84.0 64.3h1M93.8 62.3h1M80.0 50.5h1M88.3 60.4h1M82.5 56.6h1M86.6 53.0h1M83.5 61.5h1M84.5 66.8h1M82.5 61.4h1M87.2 54.1h1M81.6 61.3h1M87.7 57.4h1M87.0 62.7h1M75.6 54.4h1M75.9 61.6h1M84.0 64.2h1M87.1 58.5h1M88.3 64.7h1M85.3 63.1h1M76.6 62.6h1M77.9 55.7h1M81.3 61.6h1M82.7 59.5h1M78.0 61.8h1M79.3 54.7h1M83.5 67.5h1M81.0 56.2h1M89.9 68.7h1M81.5 60.1h1M84.1 74.2h1M83.7 65.5h1M85.2 52.9h1M77.5 55.5h1M85.2 61.5h1M91.9 59.8h1M84.5 61.3h1M83.7 71.4h1M84.4 67.6h1M89.5 58.3h1M86.4 59.3h1M83.5 61.7h1M83.1 58.9h1M90.8 59.8h1M86.5 68.5h1M86.1 65.6h1M89.9 65.9h1M91.6 54.6h1M92.8 61.1h1M74.3 58.1h1M76.0 60.9h1M75.6 56.5h1M84.5 61.7h1M79.0 59.9h1M82.5 61.3h1M83.0 60.0h1M87.4 53.8h1M80.5 61.6h1M81.0 58.5h1M80.8 61.9h1M89.2 60.2h1M81.7 62.6h1M81.8 52.3h1M84.3 59.3h1M80.1 63.8h1M83.2 58.5h1M72.1 53.3h1M83.1 60.5h1M85.2 62.0h1M80.6 55.3h1M77.5 60.4h1M77.3 64.4h1M76.4 52.9h1M82.0 53.0h1M91.1 56.5h1M82.7 59.9h1M78.9 53.0h1M73.7 64.9h1M88.1 70.7h1M75.7 63.5h1M82.9 64.8h1M80.4 64.2h1M87.5 63.7h1M90.2 60.2h1M90.7 57.8h1M91.3 48.6h1M83.1 57.4h1M83.0 65.6h1M86.6 61.4h1M91.5 54.4h1M78.9 67.8h1M84.6 51.7h1M84.7 55.7h1M90.4 66.1h1M80.3 66.8h1M78.8 65.1h1M85.9 60.4h1M75.9 59.7h1M71.6 58.5h1M73.7 66.5h1M78.2 50.1h1M85.9 62.7h1M80.5 70.5h1M86.9 61.3h1M79.8 47.7h1M85.4 65.3h1M80.0 54.6h1M82.8 53.5h1M83.0 64.5h1M90.5 62.2h1M84.0 64.4h1M90.0 59.6h1M76.9 57.4h1M76.7 57.0h1M82.4 62.5h1M83.8 61.3h1M81.2 62.9h1M87.4 64.4h1M90.5 59.7h1M81.7 68.6h1M84.0 62.9h1M81.3 65.4h1M81.0 56.5h1M82.7 59.0h1M87.2 59.3h1M83.6 60.0h1M84.7 58.2h1M88.5 54.6h1M81.1 57.8h1M86.2 61.2h1M85.4 59.5h1M79.4 56.0h1M81.3 58.6h1M84.4 62.6h1M87.9 60.5h1M79.3 56.2h1M83.3 62.6h1M92.7 61.8h1M91.8 69.4h1M77.8 66.4h1M88.7 67.1h1M83.0 65.3h1M80.6 60.7h1M83.1 69.0h1M81.9 65.3h1M83.3 57.8h1M84.2 64.0h1M79.4 63.9h1M79.4 57.1h1M84.1 59.9h1M78.1 53.7h1M83.1 62.1h1M80.7 61.8h1M75.4 62.8h1M85.1 62.3h1M79.9 61.4h1M83.7 65.8h1M84.4 62.1h1M79.4 64.9h1M88.9 58.8h1M86.2 62.4h1M82.8 55.2h1M91.8 52.6h1M84.5 59.3h1M88.7 59.1h1M83.2 63.7h1M85.3 58.7h1M86.4 62.8h1M87.9 58.7h1M82.8 59.2h1M78.8 62.1h1M85.0 67.4h1M81.4 62.7h1M88.7 60.5h1M83.3 61.6h1M79.6 56.6h1M88.6 61.8h1M82.6 55.4h1M83.6 66.3h1M77.3 57.0h1M88.5 67.4h1M90.7 58.5h1M86.0 57.6h1M85.6 59.4h1M84.0 67.0h1M84.7 59.9h1M83.3 62.2h1M80.4 61.9h1M86.0 68.0h1M72.7 55.7h1M76.8 64.9h1M95.1 61.9h1M83.6 66.1h1M70.9 60.2h1M67.5 61.7h1M80.5 58.8h1M84.7 58.4h1M88.5 61.0h1M84.9 72.3h1M80.8 65.1h1M78.9 66.6h1M87.8 61.6h1M87.9 68.2h1M89.8 61.0h1M82.7 65.9h1M75.7 58.3h1M85.4 63.5h1M92.2 68.9h1M84.6 63.0h1M76.5 60.2h1M84.3 60.0h1M83.3 63.7h1M78.3 58.5h1M74.2 66.1h1M77.8 53.4h1M86.8 60.0h1M87.8 59.4h1M93.5 64.2h1M83.7 61.5h1M82.0 64.6h1M92.9 59.1h1M77.6 63.7h1M88.3 54.4h1M79.6 56.6h1M85.8 63.2h1M79.4 56.0h1M86.4 51.9h1M86.2 60.3h1M92.5 65.4h1M80.1 59.8h1M81.6 57.8h1M83.4 65.3h1M75.6 60.0h1M90.4 64.3h1M79.0 57.4h1" stroke="#ee1c25" stroke-width="1" stroke-opacity="0.4" fill="none"/>
<path d="M54.1 62.6h1M67.9 80.8h1M55.2 64.5h1M57.4 74.5h1M71.9 75.0h1M60.8 91.6h1M64.6 78.0h1M45.0 95.2h1M64.1 75.3h1M59.4 69.7h1M53.8 63.9h1M63.5 85.6h1M61.2 88.4h1M63.7 81.3h1M53.9 86.4h1M68.2 86.8h1M68.6 74.9h1M53.3 93.5h1M56.0 82.6h1M58.7 80.2h1M58.1 74.2h1M47.7 100.6h1M61.4 59.2h1M53.8 67.8h1M54.9 52.5h1M64.0 97.7h1M58.3 88.0h1M64.1 66.6h1M68.4 61.8h1M56.1 76.1h1M68.6 81.3h1M59.1 71.3h1M60.6 80.5h1M65.0 95.0h1M65.1 80.2h1M59.0 97.3h1M61.4 79.8h1M72.3 96.9h1M63.9 78.8h1M55.7 91.5h1M56.9 90.3h1M54.6 81.1h1M62.8 81.6h1M61.6 84.1h1M52.3 68.1h1M59.0 99.4h1M59.1 70.0h1M55.5 80.4h1M68.1 73.9h1M63.8 82.0h1M57.6 69.8h1M59.0 72.2h1M63.7 61.1h1M67.7 88.2h1M64.0 96.1h1M64.1 61.6h1M60.4 84.8h1M55.3 67.9h1M63.0 85.5h1M57.1 77.4h1M56.5 73.9h1M59.6 91.5h1M49.0 76.3h1M71.0 83.4h1M61.1 89.0h1M53.1 67.0h1M48.7 64.4h1M61.7 89.1h1M57.2 72.7h1M62.8 86.6h1M61.8 59.6h1M56.3 52.8h1M61.7 70.9h1M55.5 96.1h1M69.0 85.2h1M61.9 81.9h1M56.0 79.5h1M73.0 70.6h1M55.5 81.7h1M66.1 88.9h1M53.4 78.6h1M58.2 66.8h1M60.5 74.9h1M66.3 84.6h1M54.7 80.9h1M57.6 73.2h1M56.7 91.4h1M57.2 61.7h1M54.7 88.6h1M74.7 68.7h1M57.6 76.5h1M50.4 84.3h1M59.7 83.0h1M75.2 77.2h1M65.4 88.9h1M55.7 73.7h1M70.6 87.7h1M61.0 68.3h1M66.0 85.6h1M75.0 95.8h1M65.5 82.9h1M60.4 74.1h1M62.1 82.6h1M64.4 91.6h1M62.1 74.2h1M65.5 96.6h1M54.3 84.5h1M63.7 85.7h1M63.4 79.0h1M59.3 98.0h1M71.8 65.0h1M42.7 84.7h1M55.4 74.5h1M49.2 83.8h1M59.6 74.2h1M66.1 106.0h1M70.0 92.6h1M57.2 87.0h1M59.7 92.4h1M64.0 79.6h1M63.8 72.3h1M65.4 96.1h1M57.5 85.9h1M48.7 90.0h1M66.0 69.1h1M71.9 81.2h1M48.2 65.4h1M65.9 77.1h1M67.5 63.4h1M59.3 90.4h1M55.4 87.3h1M57.6 83.7h1M62.2 103.9h1M51.6 88.3h1M68.9 68.0h1M60.6 104.7h1M67.1 48.3h1M58.4 61.7h1M62.1 72.2h1M56.2 71.1h1M62.0 75.0h1M53.9 77.6h1M62.8 70.9h1M67.6 62.3h1M62.8 75.8h1M70.7 73.1h1M55.5 65.7h1M73.5 86.6h1M52.6 76.4h1M53.5 96.3h1M62.8 58.2h1M61.4 89.8h1M60.0 85.1h1M59.3 82.2h1M61.4 72.4h1M62.4 81.8h1M59.7 72.7h1M53.1 82.6h1M65.6 54.2h1M56.4 94.5h1M66.2 72.4h1M69.2 69.5h1M54.6 100.7h1M57.0 77.7h1M48.8 69.2h1M52.0 78.5h1M47.5 91.4h1M57.6 73.5h1M55.7 88.0h1M70.4 75.6h1M71.0 97.2h1M69.1 83.2h1M49.9 87.2h1M57.2 82.1h1M47.2 77.0h1M61.6 70.0h1M62.0 97.9h1M61.6 72.7h1M76.2 57.0h1M53.7 84.4h1M56.0 55.4h1M61.8 88.9h1M54.6 95.7h1M63.4 92.8h1M49.6 80.0h1M70.9 101.6h1M69.0 80.0h1M61.2 73.3h1M67.5 72.6h1M60.8 57.9h1M49.7 99.1h1M60.4 82.3h1M45.0 79.6h1M74.1 64.0h1M43.8 78.3h1M56.4 77.7h1M51.4 65.4h1M51.6 86.9h1M59.7 88.8h1M52.6 86.3h1M57.0 81.0h1M66.4 80.4h1M57.6 62.1h1M60.4 88.4h1M55.7 79.3h1M47.9 65.6h1M62.8 93.9h1M57.9 62.0h1M57.4 63.2h1M58.1 100.8h1M62.1 78.4h1M67.1 75.9h1M62.3 82.2h1M63.1 64.2h1M64.9 89.5h1M44.3 50.7h1M53.9 96.1h1M60.1 87.3h1M63.8 89.6h1M55.6 73.7h1M62.6 86.6h1M63.9 83.7h1M56.7 91.9h1M63.2 91.5h1M42.5 90.9h1M43.2 82.3h1M55.4 81.3h1M56.7 76.6h1M61.3 83.8h1M54.5 52.6h1M54.6 85.9h1M54.2 84.6h1M57.5 69.8h1M68.1 98.0h1M59.3 79.5h1M66.6 65.6h1M54.0 92.3h1M66.2 74.6h1M54.6 83.8h1M50.3 74.6h1M58.4 53.3h1M64.1 88.3h1M67.4 64.4h1M51.1 71.1h1M51.0 102.4h1M53.2 76.6h1M61.4 85.0h1M70.1 68.1h1M66.1 81.6h1M51.9 81.6h1M50.3 97.7h1M54.9 91.0h1M69.0 73.3h1M53.8 81.4h1M52.7 89.8h1M61.2 71.7h1M55.2 87.9h1M49.9 98.4h1M54.5 77.9h1M53.6 97.7h1M65.7 94.2h1M64.5 81.0h1M71.8 87.3h1M63.0 86.3h1M65.1 83.0h1M58.8 62.5h1M74.3 65.8h1M45.0 72.2h1M73.5 93.4h1M55.8 82.9h1M59.8 58.2h1M57.7 83.2h1M68.2 66.8h1M44.3 62.7h1M62.3 80.9h1M61.0 81.6h1M57.4 65.0h1M63.2 84.2h1M64.0 93.7h1M51.3 54.3h1M47.5 103.5h1M53.6 84.4h1M59.9 88.0h1M82.5 74.3h1M58.8 73.4h1M61.7 85.7h1M53.2 94.5h1M68.0 84.9h1M59.2 77.4h1M48.5 87.2h1M53.2 74.5h1M67.0 69.9h1M56.3 89.4h1M73.0 72.4h1M67.7 72.8h1M62.7 85.3h1M52.0 91.3h1M72.6 80.6h1M61.9 67.1h1M72.5 80.7h1M51.1 88.4h1M49.8 72.5h1M45.1 95.1h1M75.5 73.0h1M55.4 73.6h1M56.0 86.1h1M70.2 68.9h1M63.1 60.2h1M70.7 79.0h1M55.1 96.8h1M59.3 95.1h1M67.5 98.2h1M54.4 80.6h1M62.6 77.9h1M70.7 72.1h1M67.0 95.0h1M46.3 69.3h1M53.7 74.0h1M62.7 78.1h1M60.6 74.9h1M59.4 85.3h1M65.2 71.4h1M59.2 71.6h1M58.8 64.2h1M66.7 87.4h1M59.1 72.5h1M56.8 72.7h1M49.2 98.0h1M83.0 66.5h1M51.8 86.4h1" stroke="#ee1c25" stroke-width="1" stroke-opacity="0.35" fill="none"/>
<path d="M66.0 53.7h1M53.4 62.2h1M53.0 65.7h1M60.5 60.3h1M63.0 57.8h1M62.3 58.8h1M69.2 59.6h1M62.8 57.9h1M59.8 57.1h1M63.1 67.3h1M68.6 60.9h1M71.3 64.1h1M64.0 59.3h1M57.5 61.0h1M61.4 53.7h1M56.6 67.7h1M64.1 62.0h1M64.0 58.1h1M65.3 64.3h1M61.5 62.0h1M68.1 58.1h1M63.8 57.0h1M66.0 58.5h1M68.7 56.9h1M71.4 58.8h1M58.8 56.4h1M66.3 56.6h1M72.0 65.1h1M65.6 54.3h1M62.9 57.1h1M53.9 61.7h1M74.0 57.9h1M67.0 65.1h1M58.2 58.6h1M64.3 61.9h1M57.3 60.9h1M62.5 63.8h1M55.0 57.7h1M60.5 58.7h1M66.6 57.5h1M76.7 57.2h1M67.2 64.1h1M67.8 59.2h1M58.9 59.0h1M66.3 60.5h1M65.9 62.3h1M58.6 56.3h1M70.2 58.1h1M55.1 67.4h1M58.8 56.3h1M67.8 55.5h1M58.6 64.2h1M58.9 70.0h1M63.5 70.7h1M63.6 60.2h1M59.8 59.1h1M60.5 59.9h1M66.9 54.9h1M58.4 51.6h1M70.5 59.7h1M62.9 59.8h1M68.0 61.3h1M67.3 59.3h1M62.4 59.8h1M53.7 64.4h1M55.1 56.0h1M66.4 60.2h1M67.1 66.8h1M72.3 65.5h1M61.9 68.2h1M58.6 59.7h1M68.0 59.1h1M62.4 58.6h1M69.8 50.1h1M69.4 64.2h1M62.6 62.2h1M58.2 64.4h1M78.3 56.3h1M70.0 59.8h1M61.3 58.1h1M62.1 55.0h1M56.2 66.6h1M62.9 62.2h1M64.6 61.9h1M55.4 56.2h1M66.2 64.0h1M57.3 57.7h1M57.7 62.6h1M64.7 60.1h1M59.8 61.4h1M63.2 57.0h1M64.7 57.3h1M67.8 62.5h1M59.6 62.3h1M63.3 57.2h1M58.4 53.3h1M57.3 61.4h1M69.0 57.5h1M63.8 61.4h1M66.9 61.8h1M69.1 63.1h1M59.2 61.6h1M51.3 59.3h1M63.1 62.3h1M61.5 63.3h1M69.6 56.6h1M60.3 61.0h1M65.5 60.6h1M67.2 55.3h1M66.9 64.7h1M68.6 61.7h1M61.8 61.6h1M62.6 53.7h1M60.0 59.8h1M60.4 56.3h1M61.8 58.5h1M63.3 59.8h1M63.9 64.0h1M63.7 61.6h1M56.9 48.2h1M61.0 62.7h1M61.3 57.5h1M56.8 63.6h1M60.4 61.0h1M68.7 62.1h1M74.2 59.5h1M67.8 62.8h1M59.7 60.2h1M60.2 55.9h1M64.5 56.9h1M71.4 57.0h1M60.3 60.4h1M60.4 60.2h1M60.0 54.3h1M50.9 54.8h1M70.6 61.8h1M63.8 58.1h1M62.3 61.2h1M56.1 56.8h1M58.5 65.0h1M57.7 64.7h1M60.7 70.9h1M62.6 60.1h1M69.8 63.5h1M67.7 55.7h1M68.7 66.7h1M62.5 58.1h1M57.5 64.1h1M64.5 60.0h1M56.8 66.5h1M67.4 59.9h1M70.4 56.2h1M67.4 56.0h1M70.1 58.9h1M69.1 58.3h1M65.0 64.6h1M58.5 60.4h1M58.8 63.4h1M60.0 58.5h1M62.0 64.7h1M57.8 59.9h1M61.4 57.8h1M59.1 59.4h1M64.0 53.8h1M64.2 55.3h1M63.1 69.1h1M58.2 59.7h1M61.7 63.9h1M60.6 52.9h1M54.9 60.7h1M64.3 64.3h1M60.3 62.7h1M57.7 65.2h1M62.6 57.3h1M63.9 67.0h1M58.8 55.0h1M57.9 55.4h1M62.7 61.4h1M62.2 60.8h1M68.9 58.8h1" stroke="#ee1c25" stroke-width="1" stroke-opacity="0.4" fill="none"/>
<path d="M67.0 52.9h1M73.0 59.3h1M71.0 63.6h1M73.9 55.7h1M68.2 62.3h1M71.4 66.6h1M70.0 53.7h1M76.7 55.5h1M68.1 63.6h1M67.8 72.0h1M73.0 64.1h1M70.3 70.9h1M74.2 59.1h1M77.0 55.2h1M69.7 63.2h1M72.6 58.2h1M78.3 67.9h1M68.3 63.5h1M69.5 60.3h1M75.9 62.5h1M71.6 62.4h1M67.3 66.9h1M69.0 67.2h1M70.2 60.2h1M77.9 62.8h1M69.4 59.9h1M74.4 69.5h1M74.5 60.4h1M67.5 59.3h1M71.5 63.0h1M69.4 67.1h1M68.2 59.1h1M74.0 63.9h1M70.4 65.8h1M66.4 68.5h1M80.7 69.8h1M72.5 69.9h1M72.2 67.3h1M71.2 62.8h1M74.1 55.0h1M71.2 68.9h1M60.3 63.5h1M75.7 63.3h1M72.8 67.5h1M73.3 54.4h1M68.2 60.8h1M72.6 60.2h1M71.6 68.7h1M60.3 66.6h1M75.7 64.4h1M72.1 62.3h1M73.5 63.0h1M69.1 65.1h1M68.7 61.8h1M70.6 57.4h1M74.4 61.7h1M67.3 61.7h1M66.5 67.7h1M74.1 69.9h1M69.7 64.8h1M68.1 58.6h1M71.6 63.6h1M75.7 60.9h1M76.4 65.9h1M68.5 61.3h1M68.3 68.8h1M69.8 65.5h1M75.6 61.0h1M70.1 63.4h1M68.9 57.0h1M68.1 63.4h1M72.8 69.0h1M64.7 64.0h1M67.4 66.6h1M74.8 62.5h1M77.9 60.5h1M69.9 57.8h1M69.4 62.5h1M74.7 67.1h1M70.9 59.1h1M70.7 60.3h1M70.1 60.4h1M68.5 61.8h1M70.0 61.3h1M66.5 62.6h1M74.3 64.6h1M69.8 57.5h1M66.8 57.3h1M69.4 60.8h1M65.0 64.7h1M65.9 59.3h1M69.1 65.3h1M79.3 60.6h1M70.9 60.4h1M71.2 61.3h1M81.8 57.7h1M71.6 58.9h1M73.4 59.9h1M74.3 57.7h1M80.4 62.8h1M65.0 64.8h1M70.1 57.4h1M73.7 60.0h1M74.9 59.8h1M75.6 62.6h1M73.4 62.6h1M70.6 60.6h1M73.8 64.8h1M70.4 70.8h1M78.7 57.5h1M76.3 61.7h1M72.9 58.9h1M78.5 58.7h1M71.7 59.1h1M79.6 67.0h1M66.8 60.2h1M73.4 60.3h1M70.6 57.8h1M73.0 57.7h1M75.3 71.5h1" stroke="#ee1c25" stroke-width="1" stroke-opacity="0.4" fill="none"/>
<path d="M67.9 115.7h0.8M83.1 65.5h0.8M67.5 59.2h0.8M77.5 95.2h0.8M95.2 74.0h0.8M49.1 78.4h0.8M111.3 86.1h0.8M73.6 35.1h0.8M65.6 91.8h0.8M54.5 109.2h0.8M62.7 61.2h0.8M62.4 78.0h0.8M96.7 67.8h0.8M36.3 78.3h0.8M86.3 113.4h0.8M50.7 112.1h0.8M89.7 89.9h0.8M58.4 61.0h0.8M54.3 100.2h0.8M79.7 103.1h0.8M114.4 80.5h0.8M74.0 121.5h0.8M46.7 70.4h0.8M67.0 71.9h0.8M78.1 62.0h0.8M100.2 50.7h0.8M57.4 43.6h0.8M44.7 92.8h0.8M88.6 75.8h0.8M93.3 93.4h0.8M62.5 79.2h0.8M65.5 88.1h0.8M86.8 106.4h0.8M84.2 103.2h0.8M52.0 74.4h0.8M33.1 79.0h0.8M125.4 85.3h0.8M76.9 85.8h0.8M78.1 51.6h0.8M60.0 76.4h0.8M78.7 61.5h0.8M72.7 64.3h0.8M46.5 65.9h0.8M57.6 98.2h0.8M104.0 92.6h0.8M70.4 68.2h0.8M41.0 68.8h0.8M108.8 104.9h0.8M79.9 74.8h0.8M75.1 89.2h0.8M74.8 89.3h0.8M58.3 81.1h0.8M67.4 103.3h0.8M48.2 108.0h0.8M73.2 69.3h0.8M75.5 82.8h0.8M70.0 89.2h0.8M62.5 43.8h0.8M90.1 79.6h0.8M111.0 88.4h0.8M31.7 106.8h0.8M60.1 91.9h0.8M123.0 103.6h0.8M51.4 78.2h0.8M40.3 94.5h0.8M87.2 58.1h0.8M84.8 100.2h0.8M92.5 65.8h0.8M60.0 56.1h0.8M47.1 86.9h0.8M75.9 108.1h0.8M80.9 73.3h0.8M44.2 113.3h0.8M78.6 79.5h0.8M53.3 57.7h0.8M88.7 59.3h0.8M87.6 93.6h0.8M66.8 45.5h0.8M83.9 110.3h0.8M57.2 53.2h0.8M98.5 83.3h0.8M61.5 106.4h0.8M69.0 89.9h0.8M66.3 64.1h0.8M79.7 61.8h0.8M36.7 68.6h0.8M101.7 103.7h0.8M122.0 101.4h0.8M109.9 85.6h0.8M65.6 90.2h0.8M54.5 95.9h0.8M65.3 85.7h0.8M56.6 77.3h0.8M96.2 75.6h0.8M60.5 86.3h0.8M94.0 76.2h0.8M49.8 46.9h0.8M46.1 103.0h0.8M73.1 90.4h0.8M98.2 86.3h0.8M85.4 69.4h0.8M40.3 93.6h0.8M72.9 92.5h0.8M52.0 77.2h0.8M118.5 62.3h0.8M77.1 108.1h0.8M70.0 82.9h0.8M65.5 107.6h0.8M73.0 72.3h0.8M84.4 75.1h0.8M63.9 113.1h0.8M96.2 82.6h0.8M92.4 97.8h0.8M87.5 81.2h0.8M76.6 88.9h0.8M87.2 87.8h0.8M63.1 78.7h0.8M84.9 59.4h0.8M74.8 96.3h0.8M78.6 74.2h0.8M74.5 70.0h0.8M96.2 72.3h0.8M39.1 54.7h0.8M81.5 84.7h0.8M64.8 52.5h0.8M71.8 62.5h0.8M60.9 80.3h0.8M58.5 86.9h0.8M59.1 70.5h0.8M70.1 111.2h0.8M109.0 100.2h0.8M59.1 80.4h0.8M94.7 97.3h0.8M39.9 79.1h0.8M59.1 96.2h0.8M88.7 69.0h0.8M121.1 74.5h0.8M127.6 76.8h0.8M73.2 120.3h0.8M63.7 70.4h0.8M106.8 79.5h0.8M85.3 53.8h0.8M113.5 101.0h0.8M82.7 95.2h0.8M64.2 70.4h0.8M41.2 88.1h0.8M101.6 98.3h0.8M94.8 95.3h0.8M55.2 52.9h0.8M88.8 83.8h0.8M96.2 74.6h0.8M56.0 89.7h0.8M63.0 45.9h0.8M61.9 61.9h0.8M51.0 68.8h0.8M112.2 71.6h0.8M99.6 78.8h0.8" stroke="#ee1c25" stroke-width="0.8" stroke-opacity="0.3" fill="none"/>
<rect x="31.2" y="29.6" width="97.4" height="94.0" fill="none" stroke="#1a1a1a" stroke-width="1.4" />
<line x1="72.3" y1="29.6" x2="72.3" y2="123.6" stroke="#222" stroke-width="1.5" />
<line x1="31.2" y1="68.3" x2="128.6" y2="68.3" stroke="#222" stroke-width="1.5" />
<rect x="45.2" y="48.9" width="23.89999999999999" height="17.500000000000007" fill="none" stroke="#111" stroke-width="1.3" />
<rect x="76.6" y="48.9" width="27.400000000000006" height="17.500000000000007" fill="none" stroke="#111" stroke-width="1.3" />
<rect x="77.2" y="70.5" width="26.39999999999999" height="39.599999999999994" fill="none" stroke="#111" stroke-width="1.3" />
<text x="33.3" y="39.3" font-size="9" font-weight="bold" fill="#111" textLength="31" lengthAdjust="spacingAndGlyphs" stroke="#111" stroke-width="0.25">Ep<tspan dy="-2.3" font-size="7.6">+</tspan><tspan dy="2.3">AR</tspan><tspan dy="-2.7" font-size="7.6">-</tspan></text>
<text x="94" y="39.3" font-size="9" font-weight="bold" fill="#111" textLength="31" lengthAdjust="spacingAndGlyphs" stroke="#111" stroke-width="0.25">Ep<tspan dy="-2.3" font-size="7.6">+</tspan><tspan dy="2.3">AR</tspan><tspan dy="-2.3" font-size="7.6">+</tspan></text>
<text x="96.3" y="120.6" font-size="9" font-weight="bold" fill="#111" textLength="30.3" lengthAdjust="spacingAndGlyphs" stroke="#111" stroke-width="0.25">Ep<tspan dy="-2.7" font-size="7.6">-</tspan><tspan dy="2.7">AR</tspan><tspan dy="-2.3" font-size="7.6">+</tspan></text>
<radialGradient id="rg3"><stop offset="0" stop-color="#ee1c25" stop-opacity="0.95"/><stop offset="0.55" stop-color="#ee1c25" stop-opacity="0.57"/><stop offset="1" stop-color="#ee1c25" stop-opacity="0"/></radialGradient>
<ellipse cx="171" cy="57.5" rx="9.9" ry="7.6" fill="url(#rg3)"/>
<radialGradient id="rg4"><stop offset="0" stop-color="#ee1c25" stop-opacity="0.55"/><stop offset="0.55" stop-color="#ee1c25" stop-opacity="0.33"/><stop offset="1" stop-color="#ee1c25" stop-opacity="0"/></radialGradient>
<ellipse cx="193" cy="81" rx="9.0" ry="16.2" fill="url(#rg4)"/>
<path d="M173.2 55.0h1M170.6 51.2h1M180.6 54.6h1M174.2 55.3h1M172.5 53.1h1M169.0 61.0h1M174.2 50.2h1M175.6 52.6h1M172.5 59.5h1M167.5 56.4h1M169.7 59.1h1M175.9 62.8h1M172.8 65.2h1M165.9 64.3h1M169.6 60.5h1M170.3 57.9h1M166.1 59.0h1M181.9 58.1h1M170.9 57.6h1M174.8 56.8h1M171.0 58.4h1M178.0 61.2h1M165.3 55.2h1M171.1 60.8h1M176.2 56.8h1M182.5 56.9h1M178.6 63.0h1M179.6 58.3h1M174.1 51.8h1M161.4 55.2h1M174.9 61.6h1M170.4 61.5h1M174.1 63.4h1M162.4 54.4h1M165.8 53.6h1M179.9 54.1h1M166.5 56.1h1M175.8 55.8h1M175.0 59.7h1M167.6 48.6h1M166.1 52.8h1M179.8 54.8h1M165.2 59.0h1M171.3 54.0h1M176.9 61.0h1M172.5 54.7h1M166.3 49.8h1M173.1 59.1h1M166.0 57.7h1M188.7 53.3h1M161.8 59.9h1M168.7 55.7h1M174.4 57.1h1M176.4 59.5h1M177.3 58.0h1M159.4 62.7h1M161.8 61.5h1M172.4 52.3h1M171.4 60.9h1M165.5 57.7h1M167.0 53.7h1M167.7 62.4h1M174.7 57.4h1M170.6 58.0h1M172.5 58.3h1M161.7 61.0h1M166.4 47.6h1M174.8 53.0h1M170.2 57.2h1M167.8 59.6h1M169.5 56.5h1M165.8 56.5h1M165.4 57.7h1M178.1 61.4h1M173.3 52.4h1M176.6 61.1h1M182.1 49.0h1M171.1 56.3h1M176.9 53.4h1M168.9 66.4h1M176.4 50.0h1M171.1 62.7h1M167.7 59.8h1M171.5 52.0h1M167.6 61.9h1M177.4 55.2h1M177.1 54.8h1M172.3 57.5h1M164.2 58.8h1M168.9 47.1h1M166.5 54.3h1M166.5 53.8h1M167.3 48.2h1M175.8 57.8h1M172.4 56.5h1M171.3 56.5h1M165.1 51.7h1M171.4 61.4h1M172.3 63.7h1M163.6 56.5h1M167.7 62.2h1M180.2 55.5h1M175.0 56.6h1M165.6 57.1h1M165.4 63.4h1M174.2 62.1h1M172.9 48.2h1M175.3 57.9h1M158.1 57.9h1M176.5 64.1h1M165.5 60.5h1M172.8 56.9h1M169.5 59.5h1M174.1 60.0h1M168.8 52.5h1M178.1 62.5h1M167.9 57.4h1M175.4 50.8h1M173.7 66.8h1M172.5 54.8h1M182.1 57.6h1M172.1 55.9h1M172.0 50.6h1M164.1 51.9h1M175.9 57.2h1M177.2 49.7h1M167.8 63.1h1M166.7 50.4h1M167.0 56.2h1M170.9 62.5h1M178.2 63.5h1M174.1 55.6h1M168.3 51.8h1M177.9 62.3h1M171.5 54.1h1M174.7 59.4h1M171.8 53.1h1M172.3 55.3h1M175.0 59.8h1M173.4 55.9h1M179.2 60.5h1M177.9 60.7h1M174.6 59.0h1M165.2 50.5h1M165.9 59.9h1M175.9 58.2h1M171.5 64.5h1M168.9 50.7h1M162.6 56.3h1M174.8 60.3h1M169.8 60.6h1M170.7 54.7h1M169.0 60.4h1M176.2 53.2h1M165.7 58.0h1M182.5 53.0h1M164.2 59.1h1M173.7 55.2h1M170.9 59.4h1M161.6 57.4h1M174.2 61.0h1M177.3 57.2h1M163.2 62.7h1M175.2 55.1h1M176.6 61.5h1M170.2 48.5h1M168.5 54.6h1M166.5 57.2h1M165.2 59.0h1M181.2 52.9h1M176.6 55.5h1M173.9 57.0h1M177.9 54.8h1M175.0 54.5h1M172.2 57.4h1M176.9 51.5h1M163.7 62.8h1M173.1 64.0h1M165.5 58.3h1M174.3 64.3h1M170.7 55.8h1M174.9 57.1h1M167.0 60.4h1M160.7 53.6h1M178.3 55.6h1M169.3 58.9h1M177.0 59.5h1M165.8 55.3h1M176.6 57.0h1M167.6 60.9h1M177.1 65.8h1M165.2 54.8h1M167.3 58.9h1M168.4 61.8h1M156.5 61.2h1M167.5 56.4h1M174.1 58.3h1M165.6 63.3h1M174.1 55.6h1M172.1 53.3h1M164.4 56.3h1M173.0 57.9h1M166.8 52.2h1M162.0 63.6h1M173.0 54.4h1M177.4 59.6h1M168.8 55.1h1M177.1 58.8h1M179.8 58.9h1M167.9 55.2h1M167.2 58.5h1M172.4 59.8h1M173.4 53.5h1M169.9 53.9h1M173.6 52.5h1M167.9 54.2h1M167.7 56.5h1M179.1 56.5h1M163.3 56.3h1M175.0 59.6h1M172.3 65.1h1M176.9 57.9h1M177.5 52.4h1M170.1 54.2h1M172.0 63.7h1M168.3 63.6h1M165.5 63.0h1M161.9 54.2h1M176.3 57.1h1M171.8 57.5h1M172.0 56.8h1M165.8 56.4h1M171.6 54.0h1M173.5 64.3h1M162.2 55.4h1M169.5 57.6h1M171.5 54.7h1M170.8 57.5h1M170.5 63.4h1M171.7 51.8h1M162.6 59.8h1M169.2 55.1h1M163.8 56.3h1M170.5 54.9h1M169.1 60.9h1M175.2 59.6h1M170.1 52.3h1M175.2 63.2h1M177.8 62.0h1M172.5 58.9h1M170.9 62.3h1M169.6 65.7h1M175.2 56.3h1M171.0 51.3h1M167.1 56.3h1M184.1 54.4h1M175.9 57.8h1M169.4 59.9h1M160.4 61.1h1M181.3 58.6h1M170.7 58.1h1M174.5 55.6h1M171.6 59.4h1M169.1 59.0h1M172.8 60.2h1M165.7 55.4h1M168.7 62.1h1M172.3 51.2h1M164.2 64.9h1M172.8 52.5h1M166.1 58.0h1M178.6 63.7h1M169.1 56.4h1M181.3 53.7h1M179.4 58.8h1M171.5 62.4h1M173.6 54.3h1M162.9 57.6h1M173.7 62.7h1M157.0 62.7h1M174.3 63.3h1M175.3 58.3h1M173.3 59.0h1M167.6 57.1h1M171.7 55.8h1M163.2 52.0h1M173.7 59.5h1M171.6 53.0h1M175.5 56.0h1M159.9 63.5h1M163.0 66.2h1M173.8 55.8h1M158.4 54.8h1M178.9 62.7h1M172.4 50.9h1M169.0 56.4h1M173.5 57.0h1M172.8 51.2h1M167.6 63.0h1M163.2 61.1h1M183.3 60.0h1M163.6 62.3h1M161.1 58.8h1M168.8 62.3h1M177.3 58.2h1M180.6 61.3h1M168.4 53.7h1M184.1 55.9h1M173.2 57.1h1M168.5 51.3h1M170.2 57.1h1M176.2 55.5h1M162.6 53.4h1M170.8 58.5h1M174.9 56.0h1M173.9 58.1h1M180.0 57.3h1M171.8 59.7h1M177.5 54.0h1M168.5 56.4h1M159.6 62.5h1M176.7 57.6h1M189.0 62.4h1M181.8 63.5h1M175.8 52.0h1M179.2 59.1h1M164.6 57.7h1M175.0 61.3h1M171.9 55.5h1M175.1 54.6h1M170.6 60.4h1M163.3 58.9h1M160.5 53.9h1M164.4 57.2h1M174.8 57.3h1M175.9 57.9h1M169.9 59.4h1M169.7 58.0h1M176.6 55.3h1M177.2 53.2h1M169.8 50.8h1M168.2 63.6h1M172.9 62.4h1M163.1 53.6h1M173.5 60.7h1M175.5 51.0h1M173.7 57.2h1M171.6 59.3h1M169.5 51.0h1M165.3 51.9h1M164.0 57.0h1M178.0 54.7h1M166.9 53.1h1M161.8 57.8h1M168.4 56.6h1M165.9 59.4h1M164.6 59.6h1M167.5 60.5h1M166.3 59.2h1M173.4 57.2h1M179.7 58.2h1M166.3 60.2h1M166.6 55.4h1M171.1 58.2h1M180.1 50.8h1M169.6 61.9h1M170.1 58.7h1M179.2 52.7h1M171.2 60.6h1M167.9 50.7h1M165.7 58.3h1M172.0 64.6h1M178.1 51.5h1M176.6 61.0h1M179.7 56.9h1M168.0 58.1h1M179.3 59.9h1M180.1 60.5h1M167.9 53.6h1M180.9 51.6h1M169.1 56.3h1M166.1 55.3h1M171.0 66.7h1M170.7 55.5h1M171.7 61.1h1M166.6 55.9h1M161.6 60.2h1M174.6 63.3h1M164.6 65.9h1M175.7 56.4h1M168.9 56.3h1M164.5 60.5h1M167.7 54.7h1M173.8 57.9h1M167.9 56.6h1M168.4 62.7h1M176.4 54.7h1M170.8 62.8h1M169.5 64.4h1M173.4 60.1h1M159.9 60.8h1M172.8 59.8h1M173.6 59.5h1M168.3 61.0h1M171.3 53.4h1M165.5 58.1h1M172.8 49.0h1M159.9 61.6h1M170.9 68.5h1M162.8 56.5h1M167.8 59.7h1M178.6 63.7h1M165.6 62.3h1M164.5 58.7h1M171.9 59.9h1M166.7 62.7h1M170.6 57.4h1M169.6 53.4h1M174.9 58.8h1M173.4 64.7h1M166.3 56.4h1M171.0 60.8h1M170.0 61.1h1M173.5 50.7h1M167.3 49.6h1M169.5 55.9h1M174.2 58.2h1M170.7 62.4h1M174.2 52.7h1M167.3 58.8h1M180.1 56.7h1M170.1 58.5h1M175.2 57.2h1M172.6 55.9h1M168.0 54.4h1M174.5 55.3h1M174.0 59.1h1M176.2 47.1h1M165.8 52.8h1M170.1 60.6h1M184.6 63.5h1M178.3 59.0h1M168.9 59.6h1M159.3 61.1h1M171.0 59.9h1M165.5 53.2h1M167.5 57.3h1M172.9 56.1h1M172.9 60.1h1M164.8 57.1h1M162.6 55.4h1M175.9 54.7h1M181.0 59.5h1M175.8 57.9h1M175.6 61.8h1M171.6 55.4h1M168.0 65.0h1M170.0 55.7h1M167.2 50.9h1M168.3 58.8h1M168.4 54.6h1M173.2 59.3h1M168.7 58.7h1M165.8 60.8h1M165.7 56.2h1M171.7 55.9h1M164.8 65.7h1M179.2 50.7h1M171.7 52.6h1M172.7 52.4h1M174.1 59.6h1M180.2 62.2h1M168.5 61.2h1M168.5 57.1h1M168.3 50.6h1M174.2 49.6h1M169.7 59.5h1M171.6 51.4h1M167.5 60.1h1M176.9 63.7h1M161.2 59.3h1M168.4 60.5h1M161.9 56.9h1M174.8 55.0h1M169.1 53.7h1M177.0 52.3h1M166.1 56.2h1M169.3 65.7h1M172.5 54.3h1M174.1 58.8h1M172.5 57.2h1M173.5 52.9h1M164.5 55.8h1M165.1 60.2h1M181.4 62.3h1M173.4 58.8h1M167.3 52.4h1M173.9 51.7h1M172.6 57.0h1M175.0 57.7h1M171.6 55.2h1M161.7 56.2h1M174.7 61.6h1M178.4 53.6h1M166.0 60.2h1M168.6 67.5h1M172.7 51.6h1M168.0 63.6h1M161.2 58.1h1M163.5 63.7h1M168.6 53.5h1M161.8 54.7h1M157.3 55.7h1M182.7 57.9h1M169.6 53.0h1M172.8 55.7h1M166.4 62.9h1M173.4 54.0h1M178.9 57.3h1M173.7 58.1h1M177.3 59.9h1M169.1 60.3h1M168.9 58.0h1M179.8 53.4h1M165.4 55.9h1M168.3 62.6h1M162.4 66.4h1M179.5 55.7h1M172.0 56.1h1M174.6 60.1h1M175.0 60.5h1M181.4 56.8h1M174.8 56.8h1M171.2 58.4h1M170.7 58.8h1M166.4 56.9h1M167.7 52.9h1M167.2 55.6h1M170.2 51.4h1M169.6 53.1h1M166.6 58.2h1M177.0 58.6h1M168.4 55.8h1M178.2 51.2h1M177.1 51.6h1M167.6 57.7h1M169.8 64.0h1M173.7 57.3h1M176.1 57.6h1M166.7 61.9h1M179.1 62.5h1M164.7 64.9h1M168.8 60.5h1M177.4 66.8h1M162.3 53.5h1M177.3 59.4h1M169.3 46.1h1M173.4 56.8h1M156.9 68.0h1M157.5 55.3h1M171.0 58.4h1M175.1 56.5h1M166.2 56.1h1M159.7 53.1h1M181.6 54.8h1M170.6 64.9h1M176.7 58.0h1M175.0 56.4h1M166.1 61.4h1M171.7 63.8h1M169.6 56.0h1M172.9 56.8h1M169.3 54.0h1M172.4 58.8h1M180.9 57.4h1M161.5 59.3h1M183.3 55.8h1M166.7 56.8h1M155.6 56.2h1M170.0 51.6h1M174.1 54.1h1M161.0 54.7h1M174.4 65.0h1M177.7 58.3h1M168.2 56.5h1M176.2 55.5h1M173.2 61.3h1M166.1 55.2h1M173.4 57.5h1M170.3 55.4h1M170.7 64.8h1M178.3 51.2h1M171.3 57.9h1M171.2 52.1h1M170.3 58.1h1M167.3 58.7h1M157.9 51.6h1M171.5 59.0h1M170.1 55.7h1M172.0 61.7h1M175.9 57.2h1M168.5 61.7h1M173.9 61.0h1M169.5 54.1h1M172.0 55.1h1M177.2 60.8h1M159.2 60.1h1M178.2 61.6h1M168.4 54.1h1M176.2 61.5h1M171.3 53.0h1M162.8 58.5h1M166.5 54.8h1M173.4 61.6h1M159.9 54.9h1M178.0 57.3h1M169.2 60.0h1M164.9 52.7h1M171.1 63.6h1M176.5 57.5h1M176.5 55.9h1M164.6 50.9h1M172.5 61.0h1M173.0 57.4h1M168.8 61.8h1M170.7 51.9h1M178.4 55.0h1M173.1 57.5h1M176.7 58.5h1M177.6 58.3h1M168.5 55.5h1M174.5 54.3h1M176.0 56.6h1M166.0 54.1h1M170.2 64.4h1M175.2 57.6h1M166.1 65.0h1M169.5 57.5h1M168.7 62.7h1M172.0 55.7h1M172.0 53.6h1M165.3 56.9h1M155.5 62.1h1M181.7 53.1h1M170.2 51.3h1M171.9 58.3h1M175.0 52.3h1M167.8 55.0h1M169.7 66.5h1M169.9 57.3h1M168.3 60.6h1M184.8 62.1h1M179.3 53.3h1M176.7 57.6h1M177.8 61.7h1M174.5 50.9h1M171.7 55.5h1M173.4 57.6h1M176.7 51.2h1M167.0 57.2h1M172.7 55.9h1M170.8 57.7h1M176.7 57.1h1M172.3 50.4h1M156.9 51.8h1M172.9 48.5h1M173.2 57.1h1M171.0 54.6h1M168.7 60.8h1M172.9 57.4h1M168.4 58.3h1M177.4 57.4h1M169.0 52.9h1M171.5 53.9h1M163.2 60.9h1M167.6 49.5h1M167.1 64.7h1M170.4 52.3h1M165.0 60.3h1M173.2 58.3h1M169.9 59.4h1M179.3 59.4h1M170.1 52.0h1M173.4 63.7h1M174.5 52.6h1M172.0 62.6h1M167.6 59.4h1M177.5 63.9h1M162.4 50.6h1M173.0 60.3h1M169.1 57.4h1M168.8 62.2h1M159.0 58.5h1M164.1 54.8h1M162.7 53.9h1M170.9 57.6h1M180.7 56.6h1M172.9 58.9h1M172.4 63.3h1M171.8 58.1h1M170.4 57.5h1M170.7 61.4h1M171.1 57.8h1M170.7 60.5h1M168.4 61.2h1M167.9 60.2h1M181.4 58.4h1M170.5 52.9h1M175.0 57.6h1M175.9 54.9h1M173.8 64.6h1M173.2 56.2h1M163.9 57.5h1M174.6 59.9h1M164.9 53.5h1M165.7 53.5h1M169.5 58.5h1M181.4 58.3h1M178.9 51.0h1M179.4 60.6h1M173.4 60.8h1M174.4 65.0h1M175.4 50.6h1M161.5 63.9h1M170.5 62.7h1M169.1 54.9h1M169.1 58.7h1M172.0 55.1h1M173.9 59.9h1M166.0 53.1h1M160.3 56.3h1M171.1 54.8h1M167.7 57.0h1M171.2 59.8h1M175.5 59.2h1M177.1 53.7h1M174.3 59.0h1M165.3 54.8h1M173.4 57.8h1M164.2 55.3h1M179.3 60.8h1M171.4 62.8h1M166.1 56.8h1M176.2 56.2h1M164.9 59.8h1M179.7 47.5h1M171.8 52.6h1M169.4 51.9h1M185.1 54.8h1M171.2 54.7h1M165.6 55.7h1M172.1 64.4h1M172.6 63.7h1M165.2 57.8h1M168.6 51.3h1M191.3 56.5h1M172.3 54.5h1M167.9 53.4h1M176.6 55.9h1M170.2 58.2h1M164.3 58.4h1M170.1 59.3h1M168.9 57.7h1M173.8 61.3h1M167.3 61.3h1M165.6 56.8h1M171.7 58.1h1M157.4 53.6h1M170.0 61.2h1M167.2 63.5h1M161.2 57.8h1M173.9 57.6h1M172.4 61.2h1M166.6 59.8h1M176.8 56.6h1M158.4 52.8h1M166.4 53.3h1M173.3 54.3h1M184.5 59.8h1M163.9 56.4h1M179.3 60.2h1M165.5 61.6h1M168.4 66.3h1M168.0 59.9h1M174.1 55.7h1M170.2 62.1h1M173.7 57.3h1M173.4 64.4h1M176.1 59.4h1M172.8 51.3h1M171.7 55.6h1M175.0 55.1h1M173.4 53.3h1M175.9 54.6h1M170.8 59.8h1M169.2 57.5h1M176.8 64.5h1M161.2 53.9h1M174.7 61.2h1M168.4 57.9h1M170.0 66.5h1M169.9 52.8h1M162.6 52.5h1M178.1 56.0h1M181.6 60.0h1M173.1 60.0h1M175.3 61.1h1M165.7 55.3h1M168.0 57.9h1M169.6 52.6h1M167.2 64.6h1M182.5 54.1h1M173.1 57.4h1M166.4 60.3h1M170.6 64.1h1M173.5 56.3h1M156.6 57.1h1M175.6 54.7h1M175.8 60.2h1M161.4 56.7h1M172.7 60.5h1M171.8 57.4h1M169.1 56.4h1M171.0 53.3h1M174.5 56.2h1M173.8 55.5h1M173.2 58.0h1M175.8 59.3h1M176.1 56.8h1M170.7 56.5h1M164.2 57.0h1M176.9 60.5h1M166.4 58.7h1M175.1 52.1h1M172.9 58.8h1M175.1 58.5h1M161.5 49.5h1M181.8 55.9h1M177.9 62.5h1M171.5 53.0h1M178.4 57.4h1M173.8 59.4h1M176.2 61.5h1M163.3 51.9h1M171.8 57.5h1M175.2 57.0h1M170.0 65.5h1M178.5 62.1h1M176.6 54.4h1M170.5 57.2h1M165.1 54.1h1M171.9 52.7h1M173.9 59.4h1M169.7 56.2h1M174.3 59.4h1M173.0 52.7h1M162.2 65.6h1M167.5 56.1h1M161.1 54.4h1M167.0 60.6h1M156.6 52.0h1M168.8 55.6h1M166.8 55.8h1M162.4 58.6h1M177.5 58.1h1M168.1 62.5h1M173.7 53.4h1M167.9 55.1h1M170.8 62.3h1M167.2 56.9h1M171.6 52.8h1M168.4 59.9h1M177.2 50.1h1M174.8 56.4h1M178.0 59.9h1M181.7 58.7h1M168.9 54.2h1M163.2 59.7h1M173.8 60.7h1M172.9 51.6h1M168.8 56.5h1M171.9 60.5h1M178.7 58.6h1M159.8 53.5h1M159.4 54.5h1M164.5 58.4h1M169.8 61.9h1M176.9 55.7h1M176.1 57.6h1M173.5 62.8h1M164.8 57.2h1M179.4 54.5h1M172.2 58.0h1M168.7 52.4h1M167.3 53.6h1M176.9 58.5h1M174.8 52.8h1M173.7 58.1h1M176.7 54.7h1M175.4 62.9h1M180.8 53.9h1M164.9 51.8h1M176.2 59.8h1M172.9 54.1h1M177.8 63.8h1M170.8 57.0h1M177.5 59.5h1M178.3 55.9h1M172.8 56.2h1M167.9 56.3h1M169.5 59.5h1M169.4 57.8h1M166.6 52.7h1M178.8 53.6h1M180.9 61.2h1M158.6 55.0h1M168.7 57.6h1M170.0 55.1h1M177.8 57.0h1M176.2 54.8h1M167.3 62.7h1M169.5 53.2h1M170.1 61.6h1M170.1 54.7h1M174.5 61.4h1M169.9 56.3h1M169.0 68.1h1M170.0 64.3h1M170.2 59.1h1M159.9 58.2h1M171.3 56.3h1M168.8 52.2h1M162.9 58.2h1M167.5 57.2h1M170.0 55.5h1M167.1 64.8h1M165.0 55.5h1M169.4 53.0h1M165.8 60.9h1M176.1 58.0h1M188.6 60.7h1M177.7 54.3h1M176.9 64.1h1M169.0 64.6h1M166.6 53.1h1M170.8 54.3h1M174.5 53.2h1M171.5 49.9h1M170.8 61.6h1M169.6 58.7h1M176.9 53.2h1M164.1 57.8h1M172.5 56.5h1M165.7 62.2h1M164.7 56.5h1M170.8 60.3h1M168.6 54.3h1M181.9 54.2h1M175.3 56.9h1M168.4 57.3h1M169.6 58.7h1M157.2 57.4h1M171.4 53.7h1M168.9 66.6h1M181.0 60.0h1M172.3 56.3h1M178.6 55.8h1M166.6 60.2h1M165.8 54.4h1M178.9 51.2h1M170.7 58.0h1M172.4 51.8h1M169.8 56.2h1M181.5 61.4h1M166.9 60.9h1M174.6 57.1h1M169.7 56.4h1M162.6 55.0h1M176.1 63.1h1M181.1 56.0h1M174.4 48.1h1M169.6 52.6h1M175.5 51.0h1M165.4 53.2h1M173.2 60.8h1M166.0 64.5h1M171.9 54.2h1M172.9 57.4h1M175.5 58.8h1M182.9 62.1h1M167.6 60.6h1M175.2 53.6h1M167.0 54.4h1M157.6 60.0h1M169.9 62.3h1M168.0 57.8h1M175.0 61.3h1M172.8 53.4h1M183.0 60.9h1M178.4 63.8h1M178.6 59.1h1M173.6 60.0h1M162.9 60.7h1M165.7 59.1h1M165.5 60.3h1M168.4 67.2h1M172.1 59.5h1M166.1 56.4h1M170.7 56.4h1M168.7 54.1h1M175.2 56.0h1M166.6 58.9h1M166.6 56.8h1M168.3 53.9h1M169.8 54.3h1M164.2 58.9h1M169.4 51.8h1M168.9 58.2h1M173.4 59.0h1M172.4 59.8h1M168.4 54.4h1M174.4 55.9h1M171.1 60.0h1M176.1 62.3h1M167.3 56.1h1M174.1 51.9h1M164.2 59.9h1M167.7 53.9h1M175.4 59.6h1M176.0 56.2h1M169.5 56.2h1M172.7 49.6h1M167.3 60.3h1M166.8 57.3h1M171.7 59.5h1M168.5 53.1h1M184.6 54.7h1M180.3 50.7h1M171.6 56.7h1M181.3 65.4h1M176.3 53.6h1M166.7 54.6h1M168.3 58.5h1M166.8 56.5h1M179.0 63.1h1M161.0 53.8h1M169.0 62.5h1M169.3 64.9h1M173.0 63.1h1M166.4 56.3h1M176.6 59.7h1M161.0 56.4h1M172.0 60.0h1M167.6 64.3h1M171.9 63.1h1M173.2 57.8h1M169.3 53.0h1M175.7 60.4h1M176.1 56.0h1M165.6 56.0h1M169.4 57.5h1M176.4 54.0h1M168.4 60.2h1M175.9 66.1h1M173.9 54.2h1M165.4 54.4h1M171.4 58.5h1M170.7 55.1h1M170.1 57.2h1M174.3 57.8h1M166.7 53.0h1M179.1 57.2h1M170.1 57.4h1M177.2 56.3h1M172.0 56.6h1M174.2 53.6h1M172.2 61.5h1M177.5 59.9h1M172.7 63.6h1M174.9 62.9h1M164.6 53.3h1M175.4 56.5h1M168.7 53.8h1M179.1 52.9h1M171.6 52.1h1M170.1 66.2h1M184.2 55.6h1M165.6 63.8h1M166.5 50.6h1M172.9 53.3h1M163.2 61.9h1M167.1 53.4h1M172.0 56.8h1M177.1 57.9h1M179.7 61.9h1M180.7 61.9h1M171.5 59.6h1M171.2 51.5h1M164.7 60.4h1M158.3 54.3h1" stroke="#ee1c25" stroke-width="1" stroke-opacity="0.5" fill="none"/>
<path d="M186.9 79.8h1M187.8 82.7h1M192.5 76.9h1M190.9 61.4h1M194.6 69.9h1M191.3 84.1h1M197.6 87.6h1M201.5 69.4h1M195.0 94.9h1M196.0 71.6h1M195.5 76.7h1M189.0 89.9h1M193.2 71.3h1M188.1 97.7h1M188.4 86.5h1M192.9 91.2h1M192.5 72.7h1M190.9 71.8h1M205.5 84.0h1M190.4 91.8h1M196.4 79.8h1M195.9 83.7h1M197.1 95.9h1M191.6 80.6h1M191.1 91.5h1M194.3 88.0h1M198.0 76.0h1M192.5 93.1h1M196.9 88.5h1M192.0 77.8h1M189.1 78.3h1M194.0 68.6h1M199.4 75.0h1M193.8 86.4h1M192.0 65.1h1M197.4 85.0h1M190.9 90.7h1M198.3 73.2h1M194.2 65.7h1M190.6 93.1h1M188.3 87.8h1M186.0 77.7h1M196.2 96.4h1M194.6 87.8h1M203.6 60.7h1M183.1 96.6h1M204.5 87.4h1M193.2 83.3h1M193.8 75.7h1M193.1 79.9h1M195.7 87.3h1M197.3 86.6h1M187.2 92.6h1M180.0 80.7h1M195.1 76.6h1M203.1 72.5h1M187.9 76.1h1M194.4 88.1h1M193.0 86.9h1M190.2 75.5h1M194.9 69.5h1M194.3 77.7h1M197.3 72.6h1M191.0 75.9h1M192.2 72.2h1M193.0 69.2h1M195.1 87.1h1M193.2 79.4h1M189.6 72.3h1M192.8 73.1h1M187.2 81.9h1M193.3 77.5h1M189.2 80.2h1M190.1 77.0h1M193.4 87.4h1M197.3 76.1h1M199.9 71.6h1M191.1 92.2h1M204.4 83.3h1M191.7 77.6h1M187.3 79.2h1M191.7 74.3h1M199.5 74.9h1M200.5 89.1h1M196.7 76.3h1M192.4 63.5h1M194.6 78.8h1M195.5 75.4h1M196.7 68.3h1M182.1 84.1h1M201.0 54.3h1M199.6 78.6h1M193.6 67.6h1M187.6 86.7h1M189.6 80.3h1M190.6 98.2h1M198.5 70.0h1M191.8 70.9h1M187.0 74.5h1M198.3 82.0h1M196.4 80.2h1M191.0 81.5h1M191.0 97.7h1M201.4 85.2h1M197.7 64.1h1M190.4 101.7h1M188.5 87.7h1M199.3 78.2h1M192.4 77.0h1M196.9 81.6h1M199.3 92.0h1M190.8 103.5h1M192.1 75.6h1M192.7 73.3h1M191.1 80.2h1M198.7 67.8h1M187.0 73.7h1M191.2 84.8h1M188.0 93.7h1M190.7 78.9h1M192.3 91.2h1M194.5 81.4h1M190.3 82.2h1M195.3 78.2h1M194.6 65.1h1M189.5 91.0h1M199.9 81.1h1M181.1 95.9h1M190.0 103.2h1M190.2 89.5h1M188.9 92.6h1M199.5 72.3h1M196.8 106.4h1M193.0 70.4h1M194.7 77.7h1M186.8 71.2h1M195.6 67.9h1M197.9 85.4h1M191.0 93.1h1M188.0 86.5h1M186.8 77.5h1M196.6 76.7h1M191.9 86.6h1M199.2 93.1h1M195.5 79.0h1M184.6 95.2h1M203.9 63.2h1M197.3 81.1h1M196.2 84.1h1M192.1 80.9h1M191.9 91.1h1M192.3 76.2h1M195.6 86.9h1M194.9 83.7h1M199.1 91.4h1M194.2 79.3h1M197.8 65.1h1M191.2 74.6h1M194.2 77.7h1M204.2 88.6h1M193.0 100.8h1M193.3 78.2h1M198.2 88.8h1M196.4 92.0h1M191.9 75.1h1M189.5 81.6h1M198.8 72.3h1M191.7 69.1h1M201.9 88.9h1M195.2 70.5h1M188.7 74.9h1M194.3 70.0h1M190.9 91.5h1M193.0 81.9h1M183.3 77.6h1M193.0 74.9h1M186.5 79.7h1M188.6 75.8h1M185.5 79.4h1M198.1 74.1h1M195.9 68.0h1M195.3 86.0h1M190.4 88.5h1M188.8 81.0h1M201.1 81.6h1M186.7 90.5h1M195.9 78.9h1M186.0 63.7h1M184.5 93.2h1M195.2 73.7h1M197.3 94.3h1M188.6 84.8h1M184.8 83.5h1M203.0 69.6h1M193.9 75.5h1M192.5 81.7h1M193.6 88.9h1M194.6 90.4h1M196.9 91.1h1M189.5 84.3h1M192.0 73.5h1M202.1 84.5h1M195.1 62.7h1M191.3 87.6h1M192.6 76.2h1M200.4 79.0h1M191.5 80.0h1M191.0 90.1h1M195.8 80.7h1M191.5 78.9h1M201.4 79.1h1M197.5 67.6h1M194.0 87.2h1M198.8 84.4h1M195.5 84.1h1M196.3 99.4h1M194.7 74.0h1M196.0 80.3h1M195.4 88.1h1M194.2 77.2h1M195.6 70.3h1M195.1 73.4h1M195.1 82.3h1M193.1 70.4h1M193.9 75.1h1M191.8 87.0h1M198.7 70.2h1M196.3 93.4h1M198.2 84.0h1M191.1 96.2h1M192.9 67.5h1M193.2 83.6h1M189.2 69.9h1M202.4 82.9h1M197.3 76.3h1M186.0 78.7h1M200.0 75.8h1M184.7 78.6h1M191.7 81.0h1M188.4 77.8h1M189.7 88.5h1M193.0 88.7h1M194.7 62.3h1M183.3 84.8h1M196.5 89.1h1M194.3 65.4h1M190.4 84.3h1M199.9 78.7h1M191.1 74.0h1M197.1 89.1h1M183.3 90.7h1M190.0 67.7h1M186.1 73.9h1M201.8 104.4h1M187.7 74.5h1M193.4 84.7h1M192.2 66.9h1M191.7 74.9h1M184.4 81.4h1M187.6 65.1h1M199.5 90.0h1M199.8 82.7h1M191.2 80.1h1M185.9 86.8h1M194.6 78.5h1M184.3 79.1h1M199.5 94.5h1M197.5 78.3h1M193.2 85.9h1M193.1 90.3h1M191.9 60.4h1M182.3 71.9h1M185.9 86.2h1M198.2 81.5h1M195.6 81.9h1M194.3 77.0h1M190.1 91.2h1M191.8 80.5h1M197.9 90.2h1M191.0 83.0h1M188.1 81.7h1M194.6 81.1h1M193.5 84.3h1M181.7 72.6h1M193.9 76.7h1M188.7 78.5h1M200.9 79.8h1M190.4 76.5h1M187.0 84.7h1M187.6 88.5h1M196.9 86.5h1M198.1 80.8h1M184.7 79.6h1M197.5 67.8h1M186.3 90.0h1M194.0 93.0h1M196.2 81.9h1M194.4 88.6h1M193.1 79.2h1M194.8 78.4h1M205.2 75.5h1M187.0 69.0h1M198.4 78.0h1M194.0 79.2h1M195.7 68.4h1M194.0 76.0h1M197.7 87.0h1M187.9 71.9h1M194.7 91.7h1M196.9 80.0h1M200.4 60.9h1M191.4 72.2h1M187.6 85.4h1M194.1 83.6h1M191.9 86.4h1M197.3 76.4h1M198.4 73.3h1M202.6 70.4h1M192.6 71.4h1M192.1 92.6h1M187.9 96.2h1M199.5 85.1h1M189.4 88.6h1M180.0 72.9h1M197.7 81.1h1M205.6 76.3h1M186.9 78.5h1M194.3 96.2h1M184.5 81.5h1M199.7 75.7h1M191.9 70.2h1M196.0 88.7h1M195.7 83.5h1M197.9 80.4h1M195.8 88.5h1M198.9 86.1h1M192.8 87.3h1M187.2 64.8h1M200.7 83.0h1M188.5 75.4h1M192.3 81.6h1M188.5 89.4h1M182.4 104.8h1M186.4 95.1h1M197.8 66.5h1M187.1 80.9h1M194.8 77.4h1M193.0 82.4h1M187.5 81.0h1M204.6 76.4h1M187.6 86.4h1M198.7 90.8h1M190.1 80.0h1M194.2 79.3h1M194.0 90.7h1M195.7 81.2h1M190.5 96.7h1M185.3 98.1h1M196.6 82.1h1M187.8 96.8h1M198.2 89.6h1M204.8 66.2h1M193.8 78.3h1M189.5 81.3h1M195.2 85.9h1M193.6 69.3h1M195.2 86.6h1M202.6 90.3h1M194.2 70.9h1M206.9 76.4h1M193.4 87.7h1M194.3 93.0h1M188.6 74.4h1M195.0 70.2h1M188.8 92.9h1M194.6 80.3h1M190.2 81.2h1M193.9 71.5h1M198.1 70.1h1M199.6 78.6h1M183.3 66.2h1M195.3 73.5h1M200.7 94.1h1M202.6 89.9h1M200.2 76.3h1M199.8 77.8h1M194.0 68.9h1M193.0 84.6h1M193.7 71.2h1M196.7 89.5h1M191.9 87.9h1M198.8 72.8h1M194.6 64.5h1M187.6 84.3h1M188.4 84.1h1M196.7 62.9h1M189.3 94.2h1M193.0 82.1h1M191.0 66.4h1M182.7 105.8h1M192.9 73.2h1M195.3 63.8h1M198.4 96.9h1M189.1 83.5h1M187.8 88.2h1M189.0 79.3h1M199.1 86.3h1M192.8 67.3h1M184.1 90.9h1M195.6 81.8h1M199.2 82.9h1M189.6 79.7h1M192.6 80.8h1M204.9 87.4h1M194.6 78.9h1M190.6 71.8h1M184.2 76.0h1M187.2 63.7h1M190.2 62.4h1M198.8 92.8h1M186.4 98.8h1M198.6 58.8h1M194.1 72.1h1M184.6 77.8h1M198.4 85.6h1M186.4 74.4h1M188.3 90.9h1M193.5 72.2h1M190.3 62.9h1M188.1 88.6h1M183.4 81.8h1M191.8 88.2h1M186.5 88.6h1M198.7 102.3h1M185.0 79.9h1M191.9 82.0h1M187.4 88.2h1M203.4 95.7h1M188.8 75.4h1M196.6 82.6h1M188.1 91.7h1M194.7 90.4h1M191.0 92.4h1M191.7 70.8h1M194.3 68.5h1M198.6 88.2h1M184.5 81.7h1M197.6 78.2h1M195.6 76.0h1M192.8 80.2h1M196.3 72.6h1M187.1 83.4h1M190.0 85.4h1M191.7 69.0h1M196.5 83.8h1M197.0 78.3h1M190.1 92.2h1M183.0 95.8h1M195.7 80.7h1M192.9 86.5h1M188.9 83.1h1M189.9 63.9h1M193.9 82.0h1M195.8 86.3h1M195.8 88.5h1M186.7 91.4h1M206.9 77.3h1M186.1 86.5h1M196.7 90.5h1M201.9 69.3h1M194.5 85.4h1M200.1 73.6h1M193.5 77.7h1M192.3 79.6h1M193.9 65.0h1M192.8 81.6h1M194.3 48.9h1M190.1 74.8h1M187.2 95.0h1M197.8 79.8h1M193.1 110.9h1M187.7 84.8h1M188.7 94.0h1M198.7 80.5h1M196.8 74.2h1M184.3 87.8h1M201.5 79.1h1M192.0 64.6h1M204.8 71.3h1M188.3 78.8h1M199.0 82.1h1M192.9 81.2h1M197.3 81.1h1M193.9 80.4h1M186.2 92.5h1M190.7 68.8h1M190.8 81.1h1M198.4 68.2h1M186.5 82.0h1M195.9 71.3h1M187.2 82.0h1M193.8 66.4h1M187.3 93.9h1M186.8 89.9h1M184.0 93.6h1M201.6 76.1h1M189.0 86.3h1M186.3 85.3h1M198.9 84.0h1M194.8 79.7h1M198.8 74.1h1M201.0 81.6h1M192.9 66.1h1M190.6 82.9h1M200.7 67.1h1M193.0 74.8h1M187.0 80.4h1M188.4 88.5h1M178.9 86.3h1M185.2 62.5h1M195.9 78.2h1M194.5 72.4h1M188.4 73.9h1M193.5 73.4h1M191.7 73.1h1M195.2 70.9h1M185.0 56.3h1M192.8 81.9h1M198.5 74.8h1M188.7 67.0h1M197.4 75.8h1M198.0 80.8h1M193.3 64.1h1M188.9 87.8h1M189.3 86.8h1M183.9 89.3h1M205.9 92.4h1M195.7 70.1h1M191.0 74.8h1M195.8 62.9h1M188.0 87.7h1M193.1 87.7h1M198.3 71.1h1M185.9 84.5h1M193.1 81.7h1M188.0 89.8h1M194.5 91.5h1M190.6 87.0h1M193.6 72.5h1M194.1 66.1h1M191.9 82.5h1M197.4 71.9h1M187.0 73.8h1M183.2 74.1h1M205.9 83.6h1M189.8 74.5h1M202.9 71.4h1M192.5 80.2h1M190.0 74.2h1M185.4 72.6h1M198.2 94.4h1M191.0 87.2h1M195.2 82.2h1M191.2 91.9h1M196.0 79.3h1M191.0 89.3h1M190.7 74.3h1M192.1 76.4h1M199.0 84.8h1M193.0 76.2h1M199.7 85.7h1M202.6 90.2h1M192.4 76.0h1M191.4 82.5h1M196.5 85.8h1M202.2 68.1h1M194.4 68.3h1M188.4 75.1h1M190.6 72.0h1M184.4 90.5h1M190.5 89.5h1M189.6 59.6h1M189.2 88.6h1M189.9 84.3h1M186.4 93.0h1M194.2 90.7h1M190.5 92.4h1M193.8 76.6h1M189.8 81.2h1M189.5 69.8h1M193.0 87.4h1M190.8 88.4h1M202.1 70.4h1M195.2 72.5h1M189.6 82.3h1M180.6 85.2h1M196.7 86.3h1M194.6 97.6h1M190.2 90.6h1M199.8 86.1h1M184.2 78.7h1M193.0 66.3h1M192.0 87.8h1M191.9 79.2h1M200.9 76.2h1M188.3 80.9h1M198.1 86.9h1M193.8 76.6h1M198.4 89.6h1M184.0 83.1h1M179.7 93.2h1M196.6 75.6h1M186.8 77.6h1M183.8 85.2h1M192.0 64.8h1M191.8 91.6h1M187.0 77.2h1M201.9 83.6h1M190.1 82.4h1M197.8 72.4h1M194.0 66.3h1M186.5 66.4h1M196.9 84.2h1M195.6 92.3h1M193.0 83.1h1M194.6 85.4h1M187.9 78.0h1M192.2 81.2h1M189.4 79.4h1M194.3 82.8h1M195.2 88.7h1M194.9 89.9h1M195.9 93.9h1M196.7 75.7h1M203.6 92.3h1M198.6 88.2h1M194.3 70.7h1M195.5 78.0h1M192.9 61.6h1M201.8 71.3h1M187.1 84.6h1M196.5 74.2h1M192.7 83.3h1M193.3 85.8h1M197.2 78.1h1M183.0 99.6h1M192.0 71.9h1M196.2 86.6h1M187.8 101.8h1M180.1 91.3h1M192.5 83.7h1M194.8 79.1h1M195.8 69.5h1M189.3 97.4h1M179.0 90.8h1M182.6 72.2h1M197.7 77.8h1M191.5 67.2h1M192.6 79.3h1M191.2 66.6h1M193.4 84.8h1M198.2 86.2h1M199.5 92.5h1M177.4 94.5h1M193.4 71.5h1M194.3 89.8h1M186.4 69.1h1M196.9 76.4h1M200.1 83.7h1M191.4 68.8h1M197.5 65.8h1M187.7 68.6h1M200.0 97.2h1M192.2 77.4h1M195.4 92.5h1M187.0 100.4h1M190.9 91.1h1M181.2 79.3h1M187.7 98.5h1M193.1 69.4h1M203.4 75.8h1M194.1 69.8h1M196.2 83.1h1M191.9 77.2h1M190.8 74.2h1M184.9 91.1h1M198.7 68.9h1M186.8 84.1h1M204.5 80.3h1M191.7 78.6h1M194.4 79.5h1M197.5 90.4h1M194.3 95.4h1M192.3 75.9h1M209.6 65.1h1M187.3 59.0h1M195.7 71.6h1M200.2 62.7h1M192.7 77.4h1M186.6 90.5h1M190.6 84.8h1M190.2 82.1h1M190.7 81.4h1M193.1 74.8h1M195.3 79.5h1M189.1 71.1h1M194.0 93.2h1M186.8 76.6h1M194.3 90.6h1M197.6 70.7h1M192.4 89.1h1M194.4 79.1h1M186.9 81.9h1M192.6 81.2h1M199.4 92.4h1M188.8 82.7h1M191.4 81.7h1M200.3 90.0h1M193.8 75.1h1M191.9 84.2h1M189.5 90.6h1M194.2 70.4h1M205.8 55.9h1M191.8 79.8h1M196.9 91.5h1M198.9 95.7h1M194.5 82.2h1M198.1 81.3h1M187.1 76.3h1M195.8 86.8h1M186.4 91.2h1M195.9 67.6h1M194.4 90.3h1M195.9 78.5h1M188.0 90.7h1M194.1 81.1h1M191.9 71.5h1M183.9 77.0h1M197.8 88.4h1M188.2 94.4h1M192.8 71.8h1M196.6 93.9h1M192.2 69.8h1M194.9 59.1h1M191.9 94.7h1M195.0 74.5h1M197.0 76.9h1M199.6 78.4h1M203.5 78.9h1M194.8 72.7h1M186.3 83.4h1M195.6 72.4h1M196.2 77.6h1M190.3 80.1h1M194.3 87.7h1M198.8 85.0h1M190.0 74.5h1M195.9 70.4h1M192.5 77.5h1M192.3 82.6h1M196.7 96.2h1M196.5 90.5h1M186.7 89.8h1M200.7 69.5h1M206.1 77.2h1M179.5 95.7h1M194.0 73.8h1M189.2 90.3h1M194.6 77.8h1M199.6 73.1h1M189.3 75.5h1M188.6 86.8h1M192.8 71.4h1M192.5 62.9h1M193.7 82.0h1M196.3 79.2h1M195.8 72.8h1M193.0 82.4h1M186.4 85.6h1M193.7 81.5h1M188.8 98.7h1M193.7 74.1h1M188.2 85.9h1M192.7 73.8h1M188.5 89.0h1M192.5 90.5h1M194.0 70.4h1M197.0 84.3h1M190.0 77.9h1M187.4 88.0h1M190.5 85.1h1M194.5 78.8h1M195.1 79.0h1M187.5 76.7h1M186.4 87.2h1M196.8 76.1h1M195.9 83.5h1M198.7 73.1h1M194.0 72.1h1M188.4 92.9h1M183.8 71.8h1M194.7 88.2h1M190.9 62.4h1M184.1 83.4h1M197.7 89.7h1M188.1 92.7h1M191.5 86.4h1M190.6 95.2h1M192.4 61.5h1M191.3 82.5h1M195.0 74.7h1M192.9 70.7h1M191.8 81.7h1M192.7 95.8h1M182.6 84.6h1M196.2 70.9h1M193.4 81.0h1M187.4 86.9h1M201.9 88.0h1M195.9 90.9h1M191.5 89.6h1M188.8 82.2h1M195.3 93.0h1M191.8 78.2h1M195.4 80.5h1M193.0 88.2h1M188.4 88.4h1M195.1 78.8h1M187.3 74.7h1M191.9 89.4h1M182.6 86.4h1M195.0 71.0h1M196.9 85.0h1M196.0 72.5h1M186.7 88.5h1M199.6 85.0h1M192.4 76.9h1M183.6 88.9h1M191.4 91.9h1M188.5 90.0h1M188.9 85.9h1M200.4 75.4h1M197.5 81.4h1M188.2 82.3h1M196.8 75.0h1M192.2 75.8h1M189.4 78.8h1M197.5 77.0h1M199.5 78.2h1M188.6 90.2h1M200.5 75.9h1M196.9 71.0h1M191.3 77.5h1M197.6 70.2h1M191.1 74.6h1M194.6 70.1h1M183.9 105.4h1M195.4 67.7h1M198.3 69.7h1M182.2 94.9h1M199.9 74.2h1M187.2 84.7h1M202.5 87.3h1M197.3 70.8h1M183.9 83.5h1M197.9 82.7h1M191.7 93.3h1M187.9 90.3h1M197.6 75.9h1M193.5 82.0h1M196.7 72.6h1M191.8 81.7h1M193.1 81.2h1M194.4 79.4h1M189.6 89.9h1M190.1 77.9h1M189.7 70.4h1M195.2 80.8h1M191.9 84.9h1M191.5 86.9h1M201.6 85.0h1M190.2 95.5h1M197.9 66.6h1M199.3 83.5h1M198.2 71.2h1M189.4 74.9h1M196.7 71.3h1M188.7 89.1h1M189.7 81.7h1M190.1 65.5h1M192.7 79.9h1M185.1 88.9h1M196.2 89.2h1M191.5 70.6h1M192.4 82.4h1M192.7 75.7h1M188.8 74.0h1M193.0 76.7h1M201.4 79.4h1M195.6 77.1h1" stroke="#ee1c25" stroke-width="1" stroke-opacity="0.4" fill="none"/>
<path d="M183.1 61.2h1M181.6 58.6h1M173.8 72.6h1M178.8 68.1h1M183.4 63.2h1M187.6 63.3h1M186.1 64.2h1M188.8 70.7h1M184.3 71.4h1M186.5 73.6h1M183.4 58.4h1M185.0 67.2h1M182.2 65.0h1M182.7 59.8h1M192.4 62.2h1M178.7 58.2h1M179.9 65.8h1M191.2 68.9h1M180.4 59.9h1M178.5 65.6h1M188.2 63.6h1M191.8 75.5h1M184.8 55.4h1M189.3 65.5h1M187.3 70.8h1M179.1 66.3h1M184.9 62.3h1M187.4 65.4h1M182.0 75.2h1M184.8 74.0h1M183.2 71.1h1M180.3 66.7h1M189.3 55.3h1M186.6 64.7h1M189.3 66.9h1M183.6 59.7h1M198.4 62.4h1M182.4 62.5h1M182.5 67.1h1M177.4 71.2h1M182.7 68.9h1M173.7 63.4h1M182.5 64.1h1M180.7 67.5h1M186.0 61.2h1M174.4 69.6h1M182.4 71.2h1M188.2 65.5h1M177.0 64.2h1M180.4 72.1h1M175.7 70.5h1M176.5 63.2h1M177.1 62.6h1M181.8 67.8h1M181.1 69.4h1M192.5 66.8h1M178.3 65.1h1M183.5 64.2h1M189.6 71.6h1M193.8 68.6h1M171.0 65.3h1M187.2 62.0h1M181.0 70.4h1M184.7 60.5h1M181.1 50.9h1M184.0 60.0h1M183.7 60.2h1M179.4 63.5h1M197.6 60.2h1M178.2 63.3h1M189.1 69.9h1M187.4 64.4h1M184.6 62.2h1M183.1 62.0h1M176.9 61.1h1M193.4 67.9h1M180.3 65.4h1M181.8 72.0h1M183.8 62.9h1M187.3 67.5h1M180.6 62.2h1M184.7 58.0h1M179.5 70.9h1M188.2 71.4h1M181.8 63.1h1M182.6 63.6h1M190.2 64.9h1M190.6 62.5h1M185.8 73.9h1M180.3 62.8h1M181.0 58.1h1M182.5 62.8h1M194.7 63.6h1M173.5 70.6h1M188.6 65.8h1M185.4 69.5h1M181.2 66.2h1M184.6 74.1h1M190.8 66.8h1M177.4 70.3h1M183.7 71.7h1M184.2 66.9h1M187.1 62.4h1M180.7 77.2h1M179.7 70.5h1M187.3 70.0h1M190.6 59.4h1M188.6 55.9h1M184.2 67.6h1M189.0 71.3h1M179.4 64.6h1M183.2 62.6h1M180.0 62.7h1M189.5 72.6h1M187.6 74.2h1M184.4 60.7h1M180.8 67.0h1M188.9 71.9h1M179.6 70.7h1M181.3 68.9h1M188.4 73.2h1M181.4 67.2h1M186.0 63.9h1M184.4 68.9h1M175.9 62.8h1M195.2 68.2h1M181.2 57.0h1M179.3 68.5h1M187.2 68.2h1M186.8 63.0h1M191.7 60.5h1M186.4 64.7h1M175.6 70.4h1M182.6 69.5h1M190.1 66.8h1M180.7 64.9h1M183.6 73.1h1M188.1 73.8h1M187.6 62.2h1M188.4 70.7h1M183.3 68.3h1M182.4 59.8h1M183.5 69.7h1M182.2 55.0h1M180.0 71.3h1M185.0 71.5h1M180.3 63.9h1M179.1 62.2h1M186.4 66.7h1M181.6 67.5h1M177.6 64.1h1M176.6 58.6h1M177.3 60.6h1M191.6 72.7h1M190.0 63.1h1M187.0 60.4h1M181.3 67.2h1M176.2 67.0h1M186.9 55.8h1M172.0 64.6h1M183.3 66.7h1M178.4 68.8h1M184.5 62.4h1M191.9 67.3h1M187.5 75.1h1M181.5 64.9h1M175.5 64.9h1M186.1 78.3h1M186.7 67.0h1M177.8 61.8h1M174.9 59.2h1M184.5 67.5h1M179.5 64.9h1M180.0 69.0h1M187.0 63.2h1M181.7 60.0h1M181.6 76.8h1M183.9 70.2h1M186.7 73.3h1M182.3 61.5h1M189.0 70.5h1M180.7 71.4h1M183.9 65.8h1M192.9 68.6h1M185.4 64.4h1M184.9 71.2h1M186.1 62.3h1M186.1 65.4h1M185.4 65.0h1M173.3 58.0h1M182.0 55.1h1M176.6 76.0h1M187.3 63.7h1M185.5 54.9h1M185.1 70.9h1M184.8 59.5h1M188.6 63.4h1M181.1 67.0h1M182.4 76.1h1M183.2 76.6h1M186.1 59.9h1M183.9 66.3h1M190.9 72.3h1M196.4 62.7h1M181.8 77.5h1M179.5 67.8h1M191.8 61.0h1M182.2 62.3h1M186.5 68.0h1M183.7 69.3h1M180.1 64.1h1M186.2 76.0h1M183.7 66.3h1M190.3 66.4h1M190.3 67.2h1M189.6 66.9h1M179.4 61.8h1M186.0 75.3h1M193.0 64.4h1M196.1 60.5h1M179.8 70.6h1M176.5 70.5h1M185.8 69.1h1M178.0 67.9h1M188.5 65.7h1M189.0 66.1h1M185.6 64.4h1M177.3 65.2h1M186.4 62.2h1M174.4 58.3h1M190.4 64.9h1M180.2 72.2h1M183.1 58.5h1M181.8 61.6h1M183.0 61.5h1M184.3 68.3h1M181.1 65.0h1M183.2 70.1h1M180.4 69.7h1M190.0 65.0h1M179.2 64.5h1M175.2 63.3h1M178.1 65.2h1M182.1 68.6h1M184.5 68.1h1M183.7 67.4h1M178.4 69.3h1M190.3 71.5h1M177.3 68.1h1M175.9 69.8h1M182.9 63.7h1M180.3 64.8h1M183.9 61.2h1M184.2 67.3h1M186.5 65.8h1M183.9 77.6h1M188.9 67.6h1M177.1 69.1h1M186.7 52.7h1M183.1 67.9h1M184.1 66.5h1M183.2 72.9h1M185.8 64.6h1M182.8 76.4h1M179.7 63.4h1M185.5 66.7h1M185.4 72.8h1M189.5 68.1h1M184.1 65.7h1M182.8 71.0h1M177.7 60.8h1M181.7 61.2h1M180.3 72.0h1M172.9 68.9h1M177.5 64.8h1M181.1 61.0h1M176.6 66.4h1M169.4 55.4h1M182.0 71.5h1M193.1 64.5h1M180.0 64.6h1M186.2 70.7h1M179.2 68.4h1M183.8 71.7h1M181.9 65.0h1M179.7 59.4h1M185.3 69.6h1M189.5 67.3h1M181.7 61.4h1M178.2 62.4h1M185.6 66.5h1M172.6 65.5h1M182.5 60.8h1M183.8 68.7h1M178.8 59.2h1M182.3 67.3h1M182.7 73.7h1M184.7 61.0h1M187.8 62.8h1M187.3 66.5h1M190.0 61.0h1M187.5 68.1h1M179.5 69.5h1M195.1 67.8h1M180.2 65.2h1M190.4 67.3h1M191.3 62.7h1M190.4 58.1h1M183.1 64.5h1M181.5 72.1h1M181.0 67.8h1M193.1 70.1h1M181.9 62.3h1M174.0 67.9h1M188.3 71.5h1M185.2 76.8h1M187.8 54.4h1M179.6 70.0h1M182.0 70.2h1M196.7 62.2h1M194.9 65.6h1M176.7 66.5h1M188.4 63.1h1M191.8 61.6h1M183.0 70.6h1M182.9 63.2h1M183.9 69.3h1M192.6 72.8h1M193.3 65.9h1M175.7 65.8h1M181.9 61.0h1M181.4 65.7h1M184.2 70.6h1M179.4 71.7h1M184.2 69.7h1M190.2 59.8h1M191.9 62.4h1M186.0 71.4h1M188.6 58.2h1M184.8 71.7h1M183.4 65.6h1M184.3 74.2h1M181.3 61.3h1M178.5 63.4h1M182.8 67.7h1M183.6 57.4h1M176.1 69.4h1M187.6 59.2h1M188.6 53.8h1M195.6 69.0h1" stroke="#ee1c25" stroke-width="1" stroke-opacity="0.4" fill="none"/>
<path d="M182.1 62.0h1M191.8 58.2h1M189.8 59.1h1M191.4 56.4h1M188.6 62.2h1M195.1 54.7h1M189.0 66.3h1M196.3 66.6h1M183.9 55.8h1M179.0 52.2h1M189.7 55.8h1M185.5 57.2h1M190.9 63.3h1M195.3 53.0h1M200.9 58.7h1M186.0 59.9h1M189.6 54.4h1M201.3 57.7h1M188.4 62.2h1M202.0 61.9h1M186.6 61.8h1M198.6 61.5h1M195.9 58.1h1M191.6 53.3h1M187.7 55.4h1M192.0 66.0h1M178.5 54.7h1M186.4 59.6h1M199.0 56.9h1M187.3 64.9h1M194.2 62.1h1M197.0 57.0h1M193.3 57.4h1M187.7 60.5h1M194.6 54.9h1M187.4 62.4h1M193.0 62.7h1M190.1 56.8h1M196.7 62.4h1M174.9 63.5h1M187.4 62.7h1M201.4 58.9h1M186.2 61.0h1M192.5 62.3h1M183.5 61.0h1M197.4 62.8h1M195.8 64.8h1M187.0 64.9h1M193.3 56.0h1M190.2 61.1h1M194.0 65.4h1M193.1 58.0h1M205.1 58.7h1M187.0 63.7h1M189.5 56.8h1M185.6 64.8h1M185.6 60.4h1M189.2 59.2h1M187.1 60.6h1M195.6 64.2h1M189.8 55.3h1M183.1 60.0h1M177.0 65.3h1M192.2 60.5h1M183.6 57.4h1M187.5 62.7h1M189.5 62.5h1M195.1 52.3h1M190.6 65.1h1M188.9 60.5h1M191.2 55.1h1M205.1 59.5h1M195.8 58.2h1M200.4 64.6h1M199.1 63.8h1M196.2 65.6h1M194.4 60.6h1M196.9 56.4h1M176.7 63.3h1M192.9 57.2h1M190.4 56.2h1M186.9 60.8h1M192.7 63.4h1M191.4 62.6h1M196.1 57.2h1M181.8 57.3h1M190.5 57.9h1M205.3 57.3h1M194.9 57.0h1M196.2 55.0h1M197.7 60.8h1M189.6 55.3h1M202.0 57.7h1M200.7 50.4h1M184.8 67.3h1M202.7 60.1h1M198.0 62.5h1M189.8 60.6h1M185.1 54.7h1M192.7 63.0h1M193.0 55.1h1M197.1 60.4h1M196.5 58.9h1M190.4 64.2h1M200.3 55.2h1M185.3 63.9h1M194.2 60.3h1M186.1 64.1h1M193.1 60.9h1M194.3 58.0h1M194.4 60.6h1M196.3 61.6h1M184.3 57.2h1M190.4 64.7h1M188.1 64.6h1M198.5 63.5h1M205.6 60.0h1M193.9 64.9h1M194.4 64.0h1M191.2 65.7h1M194.1 52.4h1M198.5 59.3h1M186.7 58.9h1M190.3 64.6h1M194.0 59.8h1M191.9 56.5h1M188.1 58.2h1M190.6 55.4h1M189.6 64.1h1M194.7 60.1h1M194.1 59.1h1M184.9 63.6h1M205.5 62.1h1M196.1 69.9h1M184.7 62.2h1M189.9 59.0h1M182.0 59.7h1M194.4 53.7h1M190.7 58.1h1M186.0 62.6h1M201.9 61.7h1M198.2 63.1h1M191.6 62.4h1M200.0 58.4h1M191.1 54.6h1M180.8 56.8h1M197.4 61.5h1M193.6 65.3h1M181.4 65.5h1M192.5 63.1h1M200.3 56.8h1M186.8 61.7h1M191.7 57.7h1M191.2 57.2h1M192.8 58.5h1M202.2 55.9h1M195.5 60.4h1M201.5 56.2h1M189.2 66.9h1M188.0 58.5h1M189.6 56.2h1M199.4 66.1h1M191.1 57.1h1M183.8 62.7h1M188.8 62.2h1M177.5 58.4h1M195.8 61.7h1M174.7 61.2h1M192.8 60.0h1M189.9 58.3h1M192.9 62.1h1M172.9 60.0h1M197.6 59.2h1M199.4 56.4h1M203.5 63.9h1M189.6 71.0h1M200.7 66.3h1M184.8 59.6h1M194.8 64.2h1M192.5 54.9h1M199.4 59.4h1M194.6 58.8h1M191.3 54.6h1M196.0 57.6h1M181.3 61.7h1M191.8 63.9h1M196.9 55.2h1M190.9 60.0h1M192.5 55.9h1M192.5 63.9h1M199.5 65.8h1M196.6 50.1h1M190.4 57.9h1M174.5 66.2h1M197.5 60.0h1M194.2 62.0h1M190.7 65.5h1M203.0 63.3h1M188.7 61.0h1M197.9 62.9h1M187.9 63.8h1M196.4 62.4h1M189.5 59.9h1M180.5 59.9h1M189.3 58.9h1M190.3 58.8h1M192.5 60.4h1M188.3 59.5h1M191.5 62.0h1M194.7 58.6h1M187.0 53.6h1M184.5 61.7h1M186.5 66.4h1M191.0 58.5h1M191.1 57.9h1M188.2 60.3h1M183.3 60.6h1M191.4 56.5h1M198.2 61.5h1M198.5 57.4h1M184.5 55.4h1M182.5 52.6h1M201.4 58.2h1M193.2 57.9h1M191.1 66.3h1M181.6 56.1h1M192.8 56.5h1M196.2 65.2h1M197.4 63.0h1M191.0 64.0h1M187.2 55.3h1M190.4 59.0h1M199.4 56.1h1M198.9 57.0h1M184.4 53.3h1M191.8 54.3h1M193.3 60.2h1M189.6 52.4h1M188.9 61.8h1M181.3 62.8h1M192.1 57.9h1M193.2 62.6h1M191.9 57.0h1M196.7 57.3h1M194.2 63.9h1M199.9 66.3h1M198.2 60.6h1M190.8 60.8h1M195.2 71.8h1M196.0 56.8h1" stroke="#ee1c25" stroke-width="1" stroke-opacity="0.35" fill="none"/>
<path d="M181.2 62.4h1M178.0 65.4h1M165.4 73.1h1M170.3 64.7h1M175.7 76.9h1M180.1 68.0h1M161.1 84.9h1M170.6 87.7h1M157.9 65.7h1M172.5 97.4h1M164.6 59.2h1M169.3 92.0h1M181.5 64.6h1M168.3 59.9h1M166.9 68.5h1M174.6 89.3h1M186.3 74.5h1M176.9 80.2h1M172.8 97.2h1M176.2 93.5h1M173.8 86.6h1M175.1 77.1h1M167.8 74.1h1M172.1 74.3h1M170.0 71.1h1M177.2 75.6h1M171.3 75.9h1M179.9 72.7h1M180.5 69.5h1M181.2 84.1h1M169.1 82.6h1M178.8 68.6h1M170.6 81.1h1M170.8 75.2h1M172.1 81.1h1M176.7 92.7h1M170.1 107.1h1M170.0 95.6h1M171.2 63.7h1M169.4 74.6h1M178.4 58.1h1M168.2 76.7h1M176.0 82.0h1M177.2 76.5h1M170.6 90.0h1M182.3 81.8h1M172.9 69.6h1M184.6 82.0h1M175.7 62.2h1M175.7 102.1h1M171.0 76.0h1M181.2 76.2h1M177.1 97.3h1M165.0 69.8h1M176.1 79.2h1M172.3 76.4h1M172.8 81.6h1M169.2 75.3h1M173.4 67.3h1M174.7 56.3h1M175.9 76.8h1M165.0 91.4h1M165.0 98.5h1M167.7 90.0h1M171.6 94.0h1M170.7 88.2h1M170.1 59.5h1M174.4 82.8h1M174.4 94.6h1M167.6 63.9h1M173.6 71.2h1M171.4 78.0h1M167.1 88.9h1M171.3 95.8h1M173.5 88.5h1M170.3 71.5h1M168.9 69.3h1M174.7 79.4h1M165.6 62.8h1M166.9 60.0h1M166.7 63.0h1M176.2 66.6h1M168.5 76.8h1M172.2 82.2h1M176.6 84.4h1M170.0 90.4h1M174.2 71.0h1M181.0 66.3h1M174.9 90.5h1M172.7 81.5h1M172.8 84.6h1M173.4 78.1h1M176.2 59.3h1M173.5 75.0h1M183.7 80.9h1M168.1 84.5h1M169.7 66.3h1M170.4 83.0h1M179.1 88.4h1M173.4 76.4h1M173.2 90.0h1M171.3 89.5h1M167.3 77.9h1M176.6 85.0h1M173.2 72.9h1M161.4 73.7h1M167.0 74.0h1M181.4 70.4h1M177.1 77.8h1M165.5 79.1h1M176.5 66.3h1M165.1 74.3h1M176.3 72.1h1M174.5 82.6h1M172.1 82.5h1M179.6 76.1h1M174.0 67.5h1M167.8 77.0h1M176.8 71.4h1M163.8 87.2h1M186.1 52.5h1M165.7 79.2h1M174.9 68.7h1M174.0 88.9h1M170.4 85.2h1M172.8 68.8h1M168.4 72.0h1M179.9 89.5h1M173.5 62.6h1M169.1 74.1h1M160.6 77.8h1M173.7 64.9h1M169.5 73.5h1M182.9 84.6h1M176.6 78.9h1M164.5 87.1h1M168.1 59.0h1M176.3 74.6h1M172.0 83.1h1M170.7 82.1h1M179.6 74.8h1M169.9 78.2h1M175.8 74.1h1M172.5 71.3h1M171.6 83.4h1M167.2 76.2h1M163.4 71.1h1M172.5 83.3h1M166.0 77.0h1M166.6 81.1h1M173.6 82.4h1M170.8 64.0h1M168.7 64.8h1M168.0 77.4h1M178.3 71.7h1M167.5 80.0h1M159.9 97.6h1M163.0 88.0h1M177.8 87.5h1M171.4 85.2h1M170.0 87.5h1M168.2 70.0h1M174.2 73.6h1M175.9 69.5h1M173.6 68.3h1M171.4 99.2h1M165.7 65.9h1M162.6 75.8h1M181.5 73.6h1M177.5 76.2h1M168.3 97.8h1M178.3 59.9h1M166.3 82.1h1M175.8 75.8h1M173.8 83.3h1M170.0 87.8h1M167.1 85.4h1M177.4 80.0h1M170.0 77.8h1M159.1 80.5h1M163.7 58.2h1M176.5 69.0h1M174.1 78.5h1M161.8 69.1h1M170.4 82.6h1M172.4 65.6h1M168.9 79.0h1M164.6 73.7h1M168.8 57.1h1M182.1 86.6h1M169.3 87.3h1M165.9 93.1h1M169.8 79.4h1M168.6 78.9h1M173.9 78.3h1M167.2 85.5h1M175.3 78.0h1M178.1 70.8h1M179.4 76.4h1M180.8 73.7h1" stroke="#ee1c25" stroke-width="1" stroke-opacity="0.3" fill="none"/>
<path d="M194.0 99.3h1M199.3 106.5h1M193.2 93.7h1M198.0 105.3h1M197.7 96.1h1M199.9 97.9h1M195.7 101.7h1M192.8 84.6h1M195.9 102.2h1M196.7 101.2h1M195.6 104.2h1M195.5 106.8h1M195.2 102.7h1M192.9 99.8h1M196.7 98.8h1M201.0 98.3h1M199.4 100.1h1M199.2 92.7h1M193.6 103.7h1M191.8 100.3h1M197.2 99.2h1M196.7 101.2h1M194.1 100.4h1M193.0 95.3h1M188.9 97.4h1M188.4 98.2h1M195.8 91.6h1M195.3 99.7h1M193.7 92.6h1M194.6 100.4h1M198.6 109.4h1M187.4 100.0h1M196.7 94.2h1M196.3 110.4h1M195.4 106.1h1M199.1 95.4h1M186.1 104.9h1M201.0 87.6h1M194.2 93.9h1M195.8 98.4h1M199.4 94.5h1M202.5 87.9h1M195.8 113.9h1M194.6 101.7h1M193.2 117.5h1M198.5 95.9h1M187.6 99.3h1M197.8 85.9h1M193.1 101.3h1M185.7 96.9h1M188.9 90.1h1M196.6 104.7h1M199.5 94.1h1M197.0 87.5h1M189.3 101.2h1M193.5 92.0h1M187.8 96.6h1M203.7 86.1h1M191.0 104.7h1M187.6 94.3h1M195.3 104.7h1M194.7 108.8h1M194.9 97.3h1M196.7 100.1h1M189.2 92.4h1M194.1 100.0h1M190.3 93.8h1M192.1 100.0h1M193.3 101.6h1M196.5 92.6h1M193.9 90.6h1M195.4 102.8h1M191.2 87.5h1M197.0 96.3h1M194.9 100.7h1M196.5 103.5h1M193.2 84.9h1M193.1 96.2h1M193.4 100.3h1M194.0 105.7h1M192.5 98.0h1M193.6 110.6h1M191.3 92.1h1M193.5 102.5h1M195.1 97.0h1M189.3 85.6h1M194.2 96.6h1M201.9 100.2h1M196.7 103.8h1M191.5 90.7h1M193.6 106.8h1M198.9 94.5h1M190.2 103.5h1M199.3 91.5h1M201.3 93.4h1M197.9 96.8h1M193.7 94.4h1M197.7 101.7h1M198.1 96.3h1M191.7 110.8h1M201.7 96.9h1M190.5 106.9h1M195.5 98.3h1M198.3 100.1h1M195.4 109.9h1M187.6 101.8h1M191.2 98.4h1M194.3 99.6h1M185.6 102.1h1M204.1 95.5h1M198.5 101.7h1M196.2 95.0h1M197.5 99.6h1M200.7 103.0h1M192.2 80.6h1M200.9 100.9h1M195.7 94.4h1M204.8 106.0h1M195.4 95.8h1M197.3 106.1h1M197.0 103.6h1M196.0 100.1h1M190.0 98.7h1M195.2 97.6h1M194.1 99.8h1M192.7 96.8h1M189.8 111.8h1M191.5 90.8h1M192.9 95.5h1M190.8 83.4h1M201.5 104.1h1M193.5 101.3h1M190.6 88.3h1M196.3 101.4h1M192.3 98.0h1M182.9 97.2h1M199.2 99.0h1M195.7 101.5h1M186.8 90.3h1M190.0 99.4h1M192.5 86.7h1M198.5 96.9h1M198.9 110.0h1M188.5 90.4h1M199.3 106.4h1M196.6 100.2h1M197.7 101.9h1M190.0 102.5h1M198.9 95.6h1M191.4 95.1h1" stroke="#ee1c25" stroke-width="1" stroke-opacity="0.3" fill="none"/>
<rect x="141.2" y="29.9" width="97.2" height="93.4" fill="none" stroke="#1a1a1a" stroke-width="1.4" />
<line x1="182.3" y1="29.9" x2="182.3" y2="123.3" stroke="#222" stroke-width="1.5" />
<line x1="141.2" y1="67.9" x2="238.4" y2="67.9" stroke="#222" stroke-width="1.5" />
<rect x="155.6" y="48" width="23.5" height="17.900000000000006" fill="none" stroke="#111" stroke-width="1.3" />
<rect x="186.6" y="48" width="27.0" height="17.900000000000006" fill="none" stroke="#111" stroke-width="1.3" />
<rect x="187" y="70.5" width="26" height="39.0" fill="none" stroke="#111" stroke-width="1.3" />
<text x="145.5" y="39.3" font-size="9" font-weight="bold" fill="#111" textLength="32" lengthAdjust="spacingAndGlyphs" stroke="#111" stroke-width="0.25">Ep<tspan dy="-2.3" font-size="7.6">+</tspan><tspan dy="2.3">AR</tspan><tspan dy="-2.7" font-size="7.6">-</tspan></text>
<text x="206.3" y="39.3" font-size="9" font-weight="bold" fill="#111" textLength="31.7" lengthAdjust="spacingAndGlyphs" stroke="#111" stroke-width="0.25">Ep<tspan dy="-2.3" font-size="7.6">+</tspan><tspan dy="2.3">AR</tspan><tspan dy="-2.3" font-size="7.6">+</tspan></text>
<text x="208.5" y="120.6" font-size="9" font-weight="bold" fill="#111" textLength="29.5" lengthAdjust="spacingAndGlyphs" stroke="#111" stroke-width="0.25">Ep<tspan dy="-2.7" font-size="7.6">-</tspan><tspan dy="2.7">AR</tspan><tspan dy="-2.3" font-size="7.6">+</tspan></text>
<line x1="26.5" y1="126.5" x2="239" y2="126.5" stroke="#111" stroke-width="1.3" />
<path d="M244.5 126.5 L237.5 123.3 L237.5 129.7Z" fill="#111"/>
<line x1="27.3" y1="126.5" x2="27.3" y2="33" stroke="#111" stroke-width="1.3" />
<path d="M27.3 29.5 L24.3 36 L30.3 36Z" fill="#111"/>
<text x="0" y="0" font-size="11.5" font-weight="bold" fill="#111" transform="translate(21.4 81) rotate(-90)" textLength="40.7" lengthAdjust="spacingAndGlyphs">EPCAM</text>
<text x="177" y="137" font-size="11" font-weight="bold" fill="#111" text-anchor="start" textLength="63" lengthAdjust="spacingAndGlyphs" >APLN-13-FI</text>
<text x="269.2" y="10.7" font-size="13.5" font-weight="bold" fill="#111" text-anchor="start" >C</text>
<line x1="303" y1="17.2" x2="303" y2="116.2" stroke="#6a6a6a" stroke-width="1" />
<line x1="303" y1="115.8" x2="517" y2="115.8" stroke="#6a6a6a" stroke-width="1" />
<line x1="301" y1="115.6" x2="303" y2="115.6" stroke="#6a6a6a" stroke-width="0.8" />
<text x="300" y="118.5" font-size="8.3" font-weight="bold" fill="#222" text-anchor="end" textLength="3.2" lengthAdjust="spacingAndGlyphs" >0</text>
<line x1="301" y1="96.1" x2="303" y2="96.1" stroke="#6a6a6a" stroke-width="0.8" />
<text x="300" y="99.0" font-size="8.3" font-weight="bold" fill="#222" text-anchor="end" textLength="6.3" lengthAdjust="spacingAndGlyphs" >50</text>
<line x1="301" y1="76.6" x2="303" y2="76.6" stroke="#6a6a6a" stroke-width="0.8" />
<text x="300" y="79.5" font-size="8.3" font-weight="bold" fill="#222" text-anchor="end" textLength="9.5" lengthAdjust="spacingAndGlyphs" >100</text>
<line x1="301" y1="57.0" x2="303" y2="57.0" stroke="#6a6a6a" stroke-width="0.8" />
<text x="300" y="59.9" font-size="8.3" font-weight="bold" fill="#222" text-anchor="end" textLength="9.5" lengthAdjust="spacingAndGlyphs" >150</text>
<line x1="301" y1="37.5" x2="303" y2="37.5" stroke="#6a6a6a" stroke-width="0.8" />
<text x="300" y="40.4" font-size="8.3" font-weight="bold" fill="#222" text-anchor="end" textLength="9.5" lengthAdjust="spacingAndGlyphs" >200</text>
<line x1="301" y1="18.0" x2="303" y2="18.0" stroke="#6a6a6a" stroke-width="0.8" />
<text x="300" y="20.9" font-size="8.3" font-weight="bold" fill="#222" text-anchor="end" textLength="9.5" lengthAdjust="spacingAndGlyphs" >250</text>
<line x1="321.15" y1="114.11648" x2="321.15" y2="113.6" stroke="#1b2230" stroke-width="1.3" />
<line x1="318.95" y1="113.6" x2="323.34999999999997" y2="113.6" stroke="#1b2230" stroke-width="1.5" />
<rect x="308.9" y="114.1" width="24.5" height="1.7" fill="#4f81bd" stroke="#1b2230" stroke-width="1.4" />
<line x1="356.35" y1="92.25407999999999" x2="356.35" y2="89.3" stroke="#1b2230" stroke-width="1.3" />
<line x1="354.15000000000003" y1="89.3" x2="358.55" y2="89.3" stroke="#1b2230" stroke-width="1.5" />
<rect x="344.4" y="92.3" width="23.9" height="23.5" fill="#4f81bd" stroke="#1b2230" stroke-width="1.4" />
<line x1="392.05" y1="34.78720000000001" x2="392.05" y2="29.7" stroke="#1b2230" stroke-width="1.3" />
<line x1="389.85" y1="29.7" x2="394.25" y2="29.7" stroke="#1b2230" stroke-width="1.5" />
<rect x="380" y="34.8" width="24.1" height="81.0" fill="#4f81bd" stroke="#1b2230" stroke-width="1.4" />
<line x1="427.5" y1="115.36576" x2="427.5" y2="115.2" stroke="#1b2230" stroke-width="1.3" />
<line x1="425.3" y1="115.2" x2="429.7" y2="115.2" stroke="#1b2230" stroke-width="1.5" />
<rect x="415" y="115.4" width="25" height="0.4" fill="#4f81bd" stroke="#1b2230" stroke-width="1.4" />
<line x1="463.29999999999995" y1="109.3536" x2="463.29999999999995" y2="107.8" stroke="#1b2230" stroke-width="1.3" />
<line x1="461.09999999999997" y1="107.8" x2="465.49999999999994" y2="107.8" stroke="#1b2230" stroke-width="1.5" />
<rect x="451.2" y="109.4" width="24.2" height="6.4" fill="#4f81bd" stroke="#1b2230" stroke-width="1.4" />
<line x1="498.5" y1="107.792" x2="498.5" y2="105.8" stroke="#1b2230" stroke-width="1.3" />
<line x1="496.3" y1="105.8" x2="500.7" y2="105.8" stroke="#1b2230" stroke-width="1.5" />
<rect x="486.4" y="107.8" width="24.2" height="8.0" fill="#4f81bd" stroke="#1b2230" stroke-width="1.4" />
<line x1="409.5" y1="115.8" x2="409.5" y2="140" stroke="#6a6a6a" stroke-width="1" />
<text x="306" y="125.2" font-size="9" font-weight="bold" fill="#111" textLength="31" lengthAdjust="spacingAndGlyphs" stroke="#111" stroke-width="0.2">Ep<tspan dy="-2.9" font-size="7.6">+</tspan><tspan dy="2.9">AR</tspan><tspan dy="-2.7" font-size="7.6">-</tspan></text>
<text x="341" y="125.2" font-size="9" font-weight="bold" fill="#111" textLength="32" lengthAdjust="spacingAndGlyphs" stroke="#111" stroke-width="0.2">Ep<tspan dy="-2.9" font-size="7.6">+</tspan><tspan dy="2.9">AR</tspan><tspan dy="-2.9" font-size="7.6">+</tspan></text>
<text x="377" y="125.2" font-size="9" font-weight="bold" fill="#111" textLength="30" lengthAdjust="spacingAndGlyphs" stroke="#111" stroke-width="0.2">Ep<tspan dy="-2.7" font-size="7.6">-</tspan><tspan dy="2.7">AR</tspan><tspan dy="-2.9" font-size="7.6">+</tspan></text>
<text x="415" y="125.2" font-size="9" font-weight="bold" fill="#111" textLength="31" lengthAdjust="spacingAndGlyphs" stroke="#111" stroke-width="0.2">Ep<tspan dy="-2.9" font-size="7.6">+</tspan><tspan dy="2.9">AR</tspan><tspan dy="-2.7" font-size="7.6">-</tspan></text>
<text x="448" y="125.2" font-size="9" font-weight="bold" fill="#111" textLength="30" lengthAdjust="spacingAndGlyphs" stroke="#111" stroke-width="0.2">Ep<tspan dy="-2.9" font-size="7.6">+</tspan><tspan dy="2.9">AR</tspan><tspan dy="-2.9" font-size="7.6">+</tspan></text>
<text x="485" y="125.2" font-size="9" font-weight="bold" fill="#111" textLength="29.5" lengthAdjust="spacingAndGlyphs" stroke="#111" stroke-width="0.2">Ep<tspan dy="-2.7" font-size="7.6">-</tspan><tspan dy="2.7">AR</tspan><tspan dy="-2.9" font-size="7.6">+</tspan></text>
<text x="314" y="137.6" font-size="9.8"  fill="#111" text-anchor="start" textLength="80.5" lengthAdjust="spacingAndGlyphs" stroke="#111" stroke-width="0.45">posterior mesoderm</text>
<text x="417.2" y="137.6" font-size="9.8"  fill="#111" text-anchor="start" textLength="88.4" lengthAdjust="spacingAndGlyphs" stroke="#111" stroke-width="0.45">anterior mesendoderm</text>
<text x="0" y="0" font-size="9.5" font-weight="bold" fill="#111" transform="translate(276.3 112) rotate(-90)" textLength="78.5" lengthAdjust="spacingAndGlyphs">colony frequency</text>
<text x="0" y="0" font-size="9.5" font-weight="bold" fill="#111" transform="translate(288 101.7) rotate(-90)" textLength="56" lengthAdjust="spacingAndGlyphs">per 10<tspan dy="-3" font-size="7">4</tspan><tspan dy="3"> cells</tspan></text>
<line x1="59.0" y1="167" x2="59.0" y2="323.2" stroke="#d8d8d8" stroke-width="0.8" />
<line x1="21.6" y1="297.2" x2="342" y2="297.2" stroke="#d8d8d8" stroke-width="0.8" />
<line x1="165.6" y1="167" x2="165.6" y2="323.2" stroke="#d8d8d8" stroke-width="0.8" />
<line x1="21.6" y1="247.2" x2="342" y2="247.2" stroke="#d8d8d8" stroke-width="0.8" />
<line x1="272.2" y1="167" x2="272.2" y2="323.2" stroke="#d8d8d8" stroke-width="0.8" />
<line x1="21.6" y1="197.2" x2="342" y2="197.2" stroke="#d8d8d8" stroke-width="0.8" />
<clipPath id="cD"><rect x="21.6" y="167" width="320.4" height="156.2"/></clipPath>
<g clip-path="url(#cD)">
<path d="M316 157h1m-33 5h1m26 2h1m-1 1h1m5 1h1m-5 1h1m3 2h1m-13 1h1m8 1h1m-24 1h1m0 2h1m18 0h1m-7 1h1m-17 1h1m6 0h1m-12 1h1m7 0h1m22 0h1m-35 1h1m8 0h1m21 0h1m-27 1h1m-3 1h1m12 0h1m-56 1h1m37 0h1m-13 1h1m18 0h1m9 0h1m-27 1h1m8 0h1m14 0h1m1 0h1m7 0h1m-51 1h1m9 1h1m38 0h1m-72 1h1m36 0h1m4 0h1m15 0h1m6 0h1m-75 1h1m30 0h1m16 0h1m7 0h1m19 0h1m-21 1h1m12 0h1m4 0h1m-44 1h1m1 0h1m4 0h1m0 0h1m3 0h1m5 0h1m12 0h1m7 0h1m1 0h1m-74 1h1m35 0h1m27 0h1m7 0h1m-80 1h1m50 0h1m0 0h1m14 1h1m6 0h1m4 0h1m-45 1h1m8 0h1m9 0h1m1 0h1m17 0h1m2 0h1m-42 1h1m4 0h1m0 0h1m9 0h1m2 0h1m8 0h1m11 0h1m-75 1h1m14 0h1m6 0h1m7 0h1m19 0h1m9 0h1m11 0h1m-33 1h1m2 0h1m3 0h1m6 0h1m5 0h1m0 0h1m12 0h1m-47 1h1m0 0h1m9 0h1m2 0h1m-10 1h1m15 0h1m2 0h1m2 0h1m4 0h1m6 0h1m-49 1h1m2 0h1m2 0h1m16 0h1m11 0h1m-60 1h1m9 0h1m35 0h1m0 0h1m15 0h1m-83 1h1m7 0h1m44 0h1m14 0h1m0 0h1m5 0h1m-31 1h1m11 0h1m0 0h1m0 0h1m8 0h1m2 0h1m0 0h1m6 0h1m-52 1h1m8 0h1m21 0h1m3 0h1m6 0h1m2 0h1m-40 1h1m28 0h1m6 0h1m1 0h1m0 0h1m-62 1h1m42 0h1m2 0h1m9 0h1m4 0h1m17 0h1m-92 1h1m17 0h1m4 0h1m1 0h1m0 0h1m1 0h1m29 0h1m4 0h1m-56 1h1m2 0h1m17 0h1m5 0h1m0 0h1m12 0h1m6 0h1m6 0h1m14 0h1m-55 1h1m5 0h1m8 0h1m1 0h1m6 0h1m7 0h1m0 0h1m-62 1h1m2 0h1m7 0h1m24 0h1m20 0h1m9 0h1m3 0h1m-48 1h1m9 0h1m6 0h1m6 0h1m0 0h1m1 0h1m15 0h1m7 0h1m-79 1h1m5 0h1m0 0h1m34 0h1m0 0h1m0 0h1m-32 1h1m3 0h1m0 0h1m2 0h1m4 0h1m11 0h1m8 0h1m5 0h1m5 0h1m-45 1h1m13 0h1m2 0h1m4 0h1m0 0h1m16 0h1m8 0h1m-93 1h1m35 0h1m15 0h1m1 0h1m2 0h1m3 0h1m0 0h1m0 0h1m3 0h1m4 0h1m2 0h1m3 0h1m1 0h1m-39 1h1m6 0h1m1 0h1m3 0h1m0 0h1m4 0h1m15 0h1m4 0h1m-71 1h1m6 0h1m6 0h1m3 0h1m14 0h1m9 0h1m4 0h1m1 0h1m2 0h1m0 0h1m6 0h1m3 0h1m0 0h1m1 0h1m4 0h1m7 0h1m4 0h1m-71 1h1m4 0h1m7 0h1m16 0h1m0 0h1m1 0h1m3 0h1m4 0h1m2 0h1m1 0h1m3 0h1m-54 1h1m4 0h1m7 0h1m12 0h1m10 0h1m0 0h1m2 0h1m21 0h1m-106 1h1m38 0h1m4 0h1m22 0h1m5 0h1m4 0h1m3 0h1m1 0h1m0 0h1m4 0h1m1 0h1m3 0h1m1 0h1m-50 1h1m9 0h1m13 0h1m5 0h1m0 0h1m6 0h1m-41 1h1m0 0h1m0 0h1m10 0h1m5 0h1m3 0h1m2 0h1m0 0h1m0 0h1m3 0h1m0 0h1m6 0h1m7 0h1m2 0h1m-82 1h1m2 0h1m23 0h1m4 0h1m8 0h1m0 0h1m3 0h1m5 0h1m5 0h1m0 0h1m4 0h1m1 0h1m-74 1h1m25 0h1m7 0h1m12 0h1m1 0h1m1 0h1m6 0h1m1 0h1m11 0h1m0 0h1m7 0h1m5 0h1m-103 1h1m24 0h1m2 0h1m0 0h1m4 0h1m18 0h1m6 0h1m1 0h1m2 0h1m3 0h1m3 0h1m0 0h1m0 0h1m1 0h1m2 0h1m-87 1h1m8 0h1m9 0h1m2 0h1m2 0h1m1 0h1m17 0h1m0 0h1m1 0h1m0 0h1m4 0h1m2 0h1m0 0h1m6 0h1m2 0h1m0 0h1m3 0h1m2 0h1m5 0h1m4 0h1m5 0h1m0 0h1m-119 1h1m35 0h1m2 0h1m2 0h1m10 0h1m2 0h1m11 0h1m11 0h1m6 0h1m0 0h1m4 0h1m1 0h1m2 0h1m0 0h1m0 0h1m1 0h1m0 0h1m0 0h1m10 0h1m2 0h1m0 0h1m-98 1h1m32 0h1m7 0h1m3 0h1m10 0h1m0 0h1m0 0h1m3 0h1m9 0h1m0 0h1m0 0h1m2 0h1m2 0h1m2 0h1m8 0h1m16 0h1m-137 1h1m3 0h1m52 0h1m4 0h1m3 0h1m0 0h1m2 0h1m9 0h1m4 0h1m4 0h1m5 0h1m2 0h1m1 0h1m2 0h1m0 0h1m4 0h1m3 0h1m-102 1h1m0 0h1m26 0h1m6 0h1m8 0h1m13 0h1m0 0h1m7 0h1m0 0h1m1 0h1m1 0h1m8 0h1m0 0h1m1 0h1m0 0h1m2 0h1m0 0h1m4 0h1m8 0h1m3 0h1m-139 1h1m28 0h1m12 0h1m30 0h1m3 0h1m0 0h1m13 0h1m6 0h1m4 0h1m0 0h1m8 0h1m0 0h1m1 0h1m0 0h1m3 0h1m1 0h1m-79 1h1m12 0h1m1 0h1m8 0h1m1 0h1m6 0h1m6 0h1m3 0h1m0 0h1m0 0h1m4 0h1m4 0h1m0 0h1m1 0h1m0 0h1m1 0h1m2 0h1m1 0h1m0 0h1m0 0h1m0 0h1m1 0h1m4 0h1m2 0h1m2 0h1m-91 1h1m0 0h1m9 0h1m8 0h1m9 0h1m2 0h1m4 0h1m5 0h1m5 0h1m8 0h1m5 0h1m4 0h1m0 0h1m2 0h1m2 0h1m2 0h1m0 0h1m4 0h1m5 0h1m6 0h1m-133 1h1m42 0h1m16 0h1m14 0h1m1 0h1m11 0h1m2 0h1m1 0h1m2 0h1m2 0h1m0 0h1m1 0h1m1 0h1m0 0h1m0 0h1m1 0h1m8 0h1m0 0h1m-98 1h1m17 0h1m1 0h1m5 0h1m3 0h1m5 0h1m10 0h1m4 0h1m5 0h1m1 0h1m2 0h1m2 0h1m0 0h1m0 0h1m0 0h1m3 0h1m0 0h1m0 0h1m1 0h1m6 0h1m7 0h1m-91 1h1m6 0h1m4 0h1m2 0h1m3 0h1m6 0h1m0 0h1m4 0h1m2 0h1m5 0h1m3 0h1m0 0h1m12 0h1m0 0h1m3 0h1m0 0h1m2 0h1m0 0h1m5 0h1m2 0h1m0 0h1m1 0h1m1 0h1m0 0h1m8 0h1m15 0h1m-154 1h1m57 0h1m1 0h1m1 0h1m7 0h1m2 0h1m4 0h1m0 0h1m0 0h1m0 0h1m0 0h1m3 0h1m0 0h1m4 0h1m1 0h1m0 0h1m5 0h1m5 0h1m0 0h1m1 0h1m0 0h1m1 0h1m0 0h1m0 0h1m0 0h1m0 0h1m2 0h1m0 0h1m1 0h1m0 0h1m21 0h1m-121 1h1m22 0h1m15 0h1m2 0h1m4 0h1m0 0h1m12 0h1m1 0h1m5 0h1m3 0h1m0 0h1m0 0h1m1 0h1m1 0h1m2 0h1m3 0h1m0 0h1m0 0h1m2 0h1m3 0h1m0 0h1m0 0h1m2 0h1m6 0h1m2 0h1m-146 1h1m42 0h1m9 0h1m19 0h1m1 0h1m3 0h1m1 0h1m1 0h1m1 0h1m0 0h1m0 0h1m0 0h1m0 0h1m3 0h1m8 0h1m0 0h1m4 0h1m0 0h1m1 0h1m5 0h1m0 0h1m1 0h1m1 0h1m0 0h1m3 0h1m0 0h1m1 0h1m0 0h1m-122 1h1m23 0h1m16 0h1m2 0h1m11 0h1m1 0h1m9 0h1m4 0h1m3 0h1m4 0h1m8 0h1m1 0h1m4 0h1m2 0h1m3 0h1m2 0h1m0 0h1m1 0h1m0 0h1m1 0h1m3 0h1m0 0h1m2 0h1m-77 1h1m38 0h1m1 0h1m1 0h1m10 0h1m1 0h1m4 0h1m1 0h1m1 0h1m0 0h1m-70 1h1m9 0h1m6 0h1m11 0h1m2 0h1m0 0h1m3 0h1m0 0h1m5 0h1m2 0h1m6 0h1m2 0h1m0 0h1m3 0h1m0 0h1m0 0h1m6 0h1m2 0h1m3 0h1m0 0h1m-134 1h1m14 0h1m26 0h1m3 0h1m1 0h1m35 0h1m4 0h1m4 0h1m3 0h1m4 0h1m1 0h1m0 0h1m2 0h1m1 0h1m1 0h1m1 0h1m0 0h1m0 0h1m0 0h1m0 0h1m1 0h1m1 0h1m0 0h1m0 0h1m0 0h1m-79 1h1m13 0h1m10 0h1m3 0h1m4 0h1m1 0h1m3 0h1m3 0h1m8 0h1m0 0h1m0 0h1m0 0h1m1 0h1m0 0h1m1 0h1m0 0h1m0 0h1m1 0h1m1 0h1m0 0h1m5 0h1m1 0h1m-79 1h1m0 0h1m11 0h1m5 0h1m7 0h1m2 0h1m5 0h1m0 0h1m6 0h1m3 0h1m3 0h1m0 0h1m2 0h1m0 0h1m1 0h1m4 0h1m1 0h1m0 0h1m0 0h1m5 0h1m8 0h1m-100 1h1m3 0h1m10 0h1m5 0h1m8 0h1m9 0h1m4 0h1m1 0h1m6 0h1m0 0h1m8 0h1m2 0h1m5 0h1m1 0h1m0 0h1m0 0h1m0 0h1m0 0h1m3 0h1m7 0h1m8 0h1m-84 1h1m8 0h1m1 0h1m3 0h1m0 0h1m2 0h1m1 0h1m1 0h1m0 0h1m6 0h1m0 0h1m0 0h1m1 0h1m2 0h1m0 0h1m0 0h1m0 0h1m1 0h1m1 0h1m1 0h1m3 0h1m0 0h1m1 0h1m2 0h1m0 0h1m2 0h1m1 0h1m6 0h1m0 0h1m0 0h1m2 0h1m1 0h1m-108 1h1m11 0h1m6 0h1m7 0h1m3 0h1m9 0h1m5 0h1m10 0h1m14 0h1m2 0h1m4 0h1m0 0h1m0 0h1m1 0h1m2 0h1m0 0h1m3 0h1m1 0h1m0 0h1m0 0h1m1 0h1m4 0h1m1 0h1m8 0h1m-132 1h1m19 0h1m3 0h1m2 0h1m5 0h1m15 0h1m2 0h1m10 0h1m3 0h1m1 0h1m2 0h1m4 0h1m2 0h1m0 0h1m1 0h1m0 0h1m0 0h1m1 0h1m0 0h1m0 0h1m0 0h1m1 0h1m1 0h1m1 0h1m0 0h1m0 0h1m1 0h1m0 0h1m1 0h1m0 0h1m1 0h1m0 0h1m0 0h1m0 0h1m2 0h1m0 0h1m1 0h1m4 0h1m-127 1h1m1 0h1m13 0h1m5 0h1m16 0h1m23 0h1m0 0h1m9 0h1m1 0h1m0 0h1m0 0h1m3 0h1m4 0h1m1 0h1m2 0h1m0 0h1m2 0h1m0 0h1m2 0h1m0 0h1m0 0h1m0 0h1m3 0h1m0 0h1m1 0h1m0 0h1m0 0h1m0 0h1m1 0h1m1 0h1m0 0h1m2 0h1m6 0h1m2 0h1m-124 1h1m12 0h1m10 0h1m18 0h1m2 0h1m6 0h1m6 0h1m5 0h1m1 0h1m0 0h1m4 0h1m1 0h1m0 0h1m2 0h1m2 0h1m4 0h1m0 0h1m0 0h1m0 0h1m0 0h1m1 0h1m0 0h1m0 0h1m0 0h1m1 0h1m3 0h1m1 0h1m3 0h1m0 0h1m0 0h1m1 0h1m1 0h1m5 0h1m-102 1h1m1 0h1m9 0h1m7 0h1m17 0h1m1 0h1m3 0h1m2 0h1m1 0h1m0 0h1m3 0h1m4 0h1m0 0h1m0 0h1m0 0h1m0 0h1m0 0h1m0 0h1m8 0h1m0 0h1m0 0h1m0 0h1m1 0h1m0 0h1m0 0h1m0 0h1m2 0h1m0 0h1m4 0h1m1 0h1m-107 1h1m15 0h1m0 0h1m5 0h1m1 0h1m3 0h1m11 0h1m4 0h1m5 0h1m5 0h1m0 0h1m0 0h1m2 0h1m0 0h1m2 0h1m0 0h1m0 0h1m0 0h1m0 0h1m1 0h1m2 0h1m0 0h1m0 0h1m1 0h1m0 0h1m2 0h1m0 0h1m3 0h1m0 0h1m0 0h1m0 0h1m10 0h1m2 0h1m-123 1h1m22 0h1m18 0h1m8 0h1m0 0h1m4 0h1m1 0h1m7 0h1m4 0h1m2 0h1m5 0h1m1 0h1m0 0h1m2 0h1m0 0h1m1 0h1m0 0h1m0 0h1m1 0h1m0 0h1m0 0h1m0 0h1m0 0h1m0 0h1m0 0h1m1 0h1m0 0h1m2 0h1m3 0h1m-82 1h1m3 0h1m1 0h1m0 0h1m8 0h1m0 0h1m0 0h1m0 0h1m4 0h1m5 0h1m1 0h1m19 0h1m1 0h1m0 0h1m2 0h1m0 0h1m0 0h1m0 0h1m1 0h1m0 0h1m0 0h1m0 0h1m1 0h1m1 0h1m1 0h1m0 0h1m0 0h1m0 0h1m0 0h1m0 0h1m1 0h1m3 0h1m0 0h1m1 0h1m-114 1h1m10 0h1m0 0h1m0 0h1m0 0h1m1 0h1m7 0h1m10 0h1m2 0h1m3 0h1m2 0h1m15 0h1m4 0h1m0 0h1m1 0h1m0 0h1m0 0h1m1 0h1m0 0h1m1 0h1m0 0h1m3 0h1m1 0h1m0 0h1m0 0h1m2 0h1m1 0h1m0 0h1m1 0h1m0 0h1m0 0h1m0 0h1m0 0h1m0 0h1m1 0h1m1 0h1m0 0h1m0 0h1m2 0h1m10 0h1m-100 1h1m5 0h1m4 0h1m3 0h1m9 0h1m1 0h1m1 0h1m1 0h1m1 0h1m0 0h1m3 0h1m0 0h1m4 0h1m0 0h1m0 0h1m1 0h1m0 0h1m5 0h1m0 0h1m2 0h1m0 0h1m2 0h1m0 0h1m0 0h1m1 0h1m0 0h1m0 0h1m1 0h1m1 0h1m1 0h1m0 0h1m2 0h1m2 0h1m12 0h1m1 0h1m-114 1h1m7 0h1m4 0h1m5 0h1m2 0h1m0 0h1m9 0h1m5 0h1m5 0h1m9 0h1m0 0h1m0 0h1m1 0h1m7 0h1m0 0h1m0 0h1m1 0h1m0 0h1m1 0h1m2 0h1m0 0h1m1 0h1m0 0h1m1 0h1m1 0h1m0 0h1m0 0h1m0 0h1m1 0h1m0 0h1m0 0h1m1 0h1m1 0h1m1 0h1m1 0h1m2 0h1m7 0h1m-112 1h1m21 0h1m3 0h1m6 0h1m4 0h1m1 0h1m2 0h1m12 0h1m2 0h1m0 0h1m3 0h1m0 0h1m0 0h1m0 0h1m0 0h1m0 0h1m1 0h1m2 0h1m0 0h1m0 0h1m1 0h1m1 0h1m0 0h1m0 0h1m0 0h1m0 0h1m0 0h1m0 0h1m0 0h1m2 0h1m0 0h1m4 0h1m0 0h1m1 0h1m6 0h1m12 0h1m-120 1h1m5 0h1m13 0h1m1 0h1m9 0h1m2 0h1m0 0h1m0 0h1m4 0h1m2 0h1m3 0h1m0 0h1m4 0h1m5 0h1m1 0h1m0 0h1m0 0h1m0 0h1m4 0h1m0 0h1m0 0h1m1 0h1m0 0h1m0 0h1m0 0h1m0 0h1m0 0h1m0 0h1m0 0h1m0 0h1m0 0h1m1 0h1m1 0h1m1 0h1m0 0h1m0 0h1m5 0h1m-105 1h1m4 0h1m1 0h1m9 0h1m7 0h1m1 0h1m10 0h1m0 0h1m1 0h1m0 0h1m3 0h1m1 0h1m8 0h1m0 0h1m2 0h1m1 0h1m0 0h1m0 0h1m3 0h1m0 0h1m0 0h1m0 0h1m3 0h1m0 0h1m0 0h1m0 0h1m0 0h1m0 0h1m0 0h1m1 0h1m0 0h1m0 0h1m0 0h1m0 0h1m0 0h1m0 0h1m0 0h1m0 0h1m0 0h1m2 0h1m2 0h1m16 0h1m-115 1h1m5 0h1m11 0h1m1 0h1m9 0h1m1 0h1m2 0h1m0 0h1m0 0h1m0 0h1m2 0h1m1 0h1m2 0h1m0 0h1m0 0h1m1 0h1m1 0h1m0 0h1m0 0h1m1 0h1m0 0h1m0 0h1m1 0h1m1 0h1m2 0h1m0 0h1m0 0h1m0 0h1m3 0h1m0 0h1m0 0h1m2 0h1m1 0h1m0 0h1m1 0h1m1 0h1m0 0h1m0 0h1m1 0h1m2 0h1m3 0h1m5 0h1m1 0h1m-108 1h1m6 0h1m5 0h1m4 0h1m1 0h1m5 0h1m3 0h1m0 0h1m2 0h1m3 0h1m4 0h1m1 0h1m1 0h1m2 0h1m0 0h1m4 0h1m7 0h1m0 0h1m1 0h1m0 0h1m0 0h1m0 0h1m0 0h1m0 0h1m0 0h1m2 0h1m0 0h1m0 0h1m0 0h1m0 0h1m0 0h1m0 0h1m1 0h1m0 0h1m0 0h1m0 0h1m0 0h1m1 0h1m0 0h1m2 0h1m1 0h1m1 0h1m19 0h1m-119 1h1m3 0h1m8 0h1m0 0h1m1 0h1m9 0h1m2 0h1m0 0h1m3 0h1m0 0h1m0 0h1m0 0h1m3 0h1m0 0h1m1 0h1m1 0h1m1 0h1m0 0h1m1 0h1m0 0h1m3 0h1m3 0h1m1 0h1m0 0h1m0 0h1m3 0h1m2 0h1m3 0h1m0 0h1m0 0h1m1 0h1m0 0h1m0 0h1m0 0h1m0 0h1m0 0h1m0 0h1m0 0h1m0 0h1m0 0h1m0 0h1m1 0h1m0 0h1m0 0h1m0 0h1m2 0h1m6 0h1m-85 1h1m5 0h1m0 0h1m1 0h1m3 0h1m2 0h1m2 0h1m5 0h1m2 0h1m2 0h1m1 0h1m0 0h1m2 0h1m1 0h1m1 0h1m0 0h1m0 0h1m2 0h1m0 0h1m0 0h1m0 0h1m0 0h1m1 0h1m0 0h1m0 0h1m0 0h1m0 0h1m0 0h1m0 0h1m0 0h1m2 0h1m0 0h1m0 0h1m0 0h1m0 0h1m0 0h1m1 0h1m3 0h1m1 0h1m0 0h1m0 0h1m8 0h1m7 0h1m-106 1h1m6 0h1m1 0h1m4 0h1m2 0h1m1 0h1m2 0h1m1 0h1m2 0h1m1 0h1m2 0h1m3 0h1m2 0h1m1 0h1m0 0h1m1 0h1m1 0h1m1 0h1m0 0h1m0 0h1m0 0h1m0 0h1m0 0h1m0 0h1m0 0h1m0 0h1m1 0h1m1 0h1m0 0h1m0 0h1m0 0h1m0 0h1m0 0h1m0 0h1m0 0h1m0 0h1m0 0h1m0 0h1m0 0h1m0 0h1m1 0h1m2 0h1m0 0h1m0 0h1m0 0h1m0 0h1m1 0h1m0 0h1m0 0h1m2 0h1m0 0h1m26 0h1m-123 1h1m4 0h1m2 0h1m0 0h1m0 0h1m3 0h1m2 0h1m6 0h1m0 0h1m3 0h1m0 0h1m1 0h1m0 0h1m0 0h1m4 0h1m0 0h1m0 0h1m0 0h1m1 0h1m1 0h1m1 0h1m0 0h1m1 0h1m0 0h1m1 0h1m0 0h1m0 0h1m0 0h1m2 0h1m0 0h1m0 0h1m0 0h1m0 0h1m1 0h1m0 0h1m0 0h1m0 0h1m0 0h1m1 0h1m0 0h1m1 0h1m0 0h1m0 0h1m0 0h1m0 0h1m0 0h1m1 0h1m5 0h1m0 0h1m0 0h1m3 0h1m-90 1h1m2 0h1m0 0h1m0 0h1m4 0h1m0 0h1m2 0h1m1 0h1m1 0h1m1 0h1m5 0h1m2 0h1m0 0h1m0 0h1m0 0h1m2 0h1m5 0h1m1 0h1m0 0h1m0 0h1m1 0h1m1 0h1m0 0h1m0 0h1m0 0h1m1 0h1m0 0h1m0 0h1m0 0h1m0 0h1m0 0h1m0 0h1m0 0h1m0 0h1m0 0h1m0 0h1m0 0h1m0 0h1m0 0h1m0 0h1m0 0h1m0 0h1m2 0h1m16 0h1m-98 1h1m3 0h1m18 0h1m6 0h1m2 0h1m5 0h1m0 0h1m0 0h1m1 0h1m3 0h1m2 0h1m1 0h1m2 0h1m0 0h1m0 0h1m0 0h1m1 0h1m0 0h1m1 0h1m0 0h1m0 0h1m1 0h1m0 0h1m0 0h1m0 0h1m0 0h1m0 0h1m0 0h1m0 0h1m0 0h1m0 0h1m0 0h1m0 0h1m1 0h1m0 0h1m2 0h1m0 0h1m3 0h1m3 0h1m1 0h1m1 0h1m8 0h1m-105 1h1m1 0h1m1 0h1m3 0h1m0 0h1m3 0h1m0 0h1m4 0h1m4 0h1m1 0h1m0 0h1m2 0h1m4 0h1m1 0h1m2 0h1m0 0h1m0 0h1m2 0h1m2 0h1m0 0h1m0 0h1m1 0h1m0 0h1m0 0h1m0 0h1m0 0h1m0 0h1m0 0h1m0 0h1m0 0h1m0 0h1m0 0h1m0 0h1m0 0h1m0 0h1m0 0h1m1 0h1m0 0h1m0 0h1m0 0h1m2 0h1m0 0h1m0 0h1m1 0h1m1 0h1m2 0h1m0 0h1m-88 1h1m1 0h1m0 0h1m1 0h1m5 0h1m4 0h1m0 0h1m2 0h1m0 0h1m2 0h1m0 0h1m0 0h1m0 0h1m3 0h1m4 0h1m2 0h1m1 0h1m0 0h1m0 0h1m1 0h1m1 0h1m1 0h1m1 0h1m0 0h1m0 0h1m0 0h1m0 0h1m1 0h1m0 0h1m0 0h1m0 0h1m0 0h1m0 0h1m0 0h1m0 0h1m0 0h1m0 0h1m0 0h1m0 0h1m0 0h1m0 0h1m2 0h1m1 0h1m0 0h1m3 0h1m1 0h1m0 0h1m3 0h1m1 0h1m0 0h1m1 0h1m1 0h1m4 0h1m-100 1h1m9 0h1m4 0h1m0 0h1m1 0h1m1 0h1m0 0h1m0 0h1m1 0h1m3 0h1m2 0h1m0 0h1m0 0h1m0 0h1m0 0h1m0 0h1m0 0h1m0 0h1m0 0h1m1 0h1m0 0h1m2 0h1m0 0h1m0 0h1m0 0h1m1 0h1m0 0h1m0 0h1m0 0h1m0 0h1m0 0h1m2 0h1m0 0h1m0 0h1m0 0h1m1 0h1m1 0h1m0 0h1m0 0h1m0 0h1m0 0h1m0 0h1m0 0h1m0 0h1m2 0h1m1 0h1m8 0h1m0 0h1m-87 1h1m1 0h1m2 0h1m2 0h1m3 0h1m2 0h1m0 0h1m0 0h1m1 0h1m0 0h1m2 0h1m3 0h1m0 0h1m0 0h1m1 0h1m0 0h1m1 0h1m1 0h1m0 0h1m0 0h1m0 0h1m1 0h1m0 0h1m2 0h1m0 0h1m0 0h1m0 0h1m0 0h1m0 0h1m0 0h1m0 0h1m0 0h1m0 0h1m0 0h1m0 0h1m0 0h1m0 0h1m2 0h1m0 0h1m0 0h1m0 0h1m0 0h1m1 0h1m1 0h1m0 0h1m0 0h1m0 0h1m1 0h1m3 0h1m1 0h1m1 0h1m0 0h1m1 0h1m14 0h1m-95 1h1m2 0h1m0 0h1m0 0h1m5 0h1m1 0h1m2 0h1m3 0h1m0 0h1m0 0h1m0 0h1m1 0h1m0 0h1m0 0h1m1 0h1m1 0h1m1 0h1m0 0h1m0 0h1m0 0h1m1 0h1m1 0h1m0 0h1m0 0h1m0 0h1m0 0h1m0 0h1m0 0h1m0 0h1m0 0h1m0 0h1m0 0h1m0 0h1m0 0h1m0 0h1m0 0h1m0 0h1m0 0h1m0 0h1m0 0h1m0 0h1m0 0h1m0 0h1m0 0h1m0 0h1m0 0h1m1 0h1m0 0h1m0 0h1m0 0h1m8 0h1m4 0h1m15 0h1m-111 1h1m2 0h1m6 0h1m2 0h1m1 0h1m1 0h1m0 0h1m0 0h1m3 0h1m0 0h1m3 0h1m1 0h1m2 0h1m2 0h1m2 0h1m1 0h1m0 0h1m0 0h1m1 0h1m0 0h1m0 0h1m1 0h1m0 0h1m1 0h1m0 0h1m0 0h1m0 0h1m0 0h1m0 0h1m0 0h1m0 0h1m0 0h1m1 0h1m0 0h1m0 0h1m0 0h1m1 0h1m0 0h1m0 0h1m0 0h1m0 0h1m0 0h1m2 0h1m8 0h1m0 0h1m-82 1h1m1 0h1m1 0h1m1 0h1m2 0h1m2 0h1m1 0h1m0 0h1m0 0h1m1 0h1m0 0h1m0 0h1m1 0h1m0 0h1m1 0h1m4 0h1m0 0h1m1 0h1m0 0h1m0 0h1m0 0h1m0 0h1m1 0h1m0 0h1m0 0h1m0 0h1m0 0h1m0 0h1m0 0h1m0 0h1m0 0h1m0 0h1m0 0h1m0 0h1m0 0h1m0 0h1m0 0h1m0 0h1m0 0h1m0 0h1m0 0h1m0 0h1m0 0h1m0 0h1m0 0h1m0 0h1m2 0h1m0 0h1m0 0h1m0 0h1m0 0h1m0 0h1m2 0h1m0 0h1m0 0h1m0 0h1m0 0h1m11 0h1m-93 1h1m0 0h1m0 0h1m0 0h1m1 0h1m0 0h1m0 0h1m1 0h1m2 0h1m0 0h1m1 0h1m2 0h1m1 0h1m2 0h1m1 0h1m3 0h1m2 0h1m1 0h1m0 0h1m0 0h1m0 0h1m0 0h1m0 0h1m0 0h1m0 0h1m0 0h1m1 0h1m0 0h1m0 0h1m0 0h1m0 0h1m0 0h1m0 0h1m0 0h1m0 0h1m0 0h1m0 0h1m0 0h1m0 0h1m0 0h1m0 0h1m0 0h1m0 0h1m0 0h1m0 0h1m0 0h1m0 0h1m0 0h1m0 0h1m0 0h1m3 0h1m0 0h1m0 0h1m0 0h1m0 0h1m0 0h1m2 0h1m0 0h1m0 0h1m0 0h1m-78 1h1m1 0h1m0 0h1m1 0h1m3 0h1m0 0h1m1 0h1m0 0h1m1 0h1m0 0h1m1 0h1m2 0h1m1 0h1m0 0h1m2 0h1m2 0h1m0 0h1m0 0h1m0 0h1m0 0h1m0 0h1m0 0h1m0 0h1m0 0h1m0 0h1m0 0h1m0 0h1m0 0h1m0 0h1m1 0h1m0 0h1m0 0h1m0 0h1m0 0h1m0 0h1m0 0h1m0 0h1m0 0h1m0 0h1m0 0h1m0 0h1m0 0h1m0 0h1m0 0h1m0 0h1m0 0h1m1 0h1m7 0h1m0 0h1m0 0h1m0 0h1m-82 1h1m0 0h1m3 0h1m0 0h1m0 0h1m1 0h1m0 0h1m3 0h1m0 0h1m0 0h1m1 0h1m0 0h1m0 0h1m0 0h1m0 0h1m0 0h1m0 0h1m0 0h1m0 0h1m0 0h1m0 0h1m0 0h1m0 0h1m1 0h1m0 0h1m0 0h1m0 0h1m0 0h1m0 0h1m0 0h1m0 0h1m0 0h1m0 0h1m0 0h1m0 0h1m0 0h1m0 0h1m0 0h1m0 0h1m0 0h1m0 0h1m0 0h1m0 0h1m0 0h1m0 0h1m0 0h1m0 0h1m0 0h1m0 0h1m0 0h1m0 0h1m1 0h1m0 0h1m0 0h1m0 0h1m0 0h1m0 0h1m1 0h1m1 0h1m1 0h1m1 0h1m-75 1h1m9 0h1m1 0h1m0 0h1m2 0h1m0 0h1m0 0h1m0 0h1m0 0h1m0 0h1m0 0h1m1 0h1m1 0h1m0 0h1m0 0h1m2 0h1m0 0h1m0 0h1m0 0h1m0 0h1m0 0h1m0 0h1m2 0h1m0 0h1m0 0h1m0 0h1m0 0h1m0 0h1m0 0h1m0 0h1m0 0h1m0 0h1m0 0h1m0 0h1m0 0h1m0 0h1m0 0h1m0 0h1m0 0h1m0 0h1m0 0h1m0 0h1m0 0h1m0 0h1m0 0h1m0 0h1m0 0h1m0 0h1m0 0h1m1 0h1m0 0h1m0 0h1m0 0h1m1 0h1m7 0h1m2 0h1m5 0h1m-90 1h1m1 0h1m0 0h1m1 0h1m1 0h1m2 0h1m0 0h1m0 0h1m0 0h1m2 0h1m0 0h1m0 0h1m0 0h1m0 0h1m0 0h1m1 0h1m0 0h1m0 0h1m1 0h1m1 0h1m0 0h1m2 0h1m0 0h1m0 0h1m0 0h1m0 0h1m0 0h1m0 0h1m0 0h1m1 0h1m0 0h1m0 0h1m0 0h1m0 0h1m0 0h1m0 0h1m0 0h1m0 0h1m0 0h1m0 0h1m0 0h1m0 0h1m0 0h1m0 0h1m0 0h1m1 0h1m0 0h1m0 0h1m0 0h1m0 0h1m3 0h1m0 0h1m1 0h1m0 0h1m0 0h1m-72 1h1m0 0h1m1 0h1m2 0h1m0 0h1m0 0h1m0 0h1m0 0h1m0 0h1m0 0h1m2 0h1m0 0h1m0 0h1m0 0h1m0 0h1m0 0h1m2 0h1m0 0h1m1 0h1m0 0h1m0 0h1m0 0h1m0 0h1m0 0h1m0 0h1m0 0h1m0 0h1m0 0h1m0 0h1m0 0h1m0 0h1m0 0h1m0 0h1m0 0h1m0 0h1m0 0h1m0 0h1m0 0h1m0 0h1m0 0h1m0 0h1m1 0h1m0 0h1m0 0h1m0 0h1m0 0h1m0 0h1m0 0h1m0 0h1m0 0h1m0 0h1m0 0h1m0 0h1m1 0h1m0 0h1m2 0h1m16 0h1m-87 1h1m3 0h1m0 0h1m1 0h1m3 0h1m1 0h1m0 0h1m1 0h1m1 0h1m0 0h1m0 0h1m1 0h1m0 0h1m0 0h1m0 0h1m1 0h1m1 0h1m0 0h1m0 0h1m1 0h1m0 0h1m0 0h1m0 0h1m0 0h1m0 0h1m0 0h1m0 0h1m0 0h1m0 0h1m0 0h1m0 0h1m0 0h1m0 0h1m0 0h1m0 0h1m0 0h1m0 0h1m0 0h1m0 0h1m0 0h1m0 0h1m0 0h1m0 0h1m0 0h1m0 0h1m1 0h1m0 0h1m0 0h1m0 0h1m0 0h1m0 0h1m2 0h1m0 0h1m4 0h1m7 0h1m-81 1h1m0 0h1m0 0h1m0 0h1m0 0h1m0 0h1m2 0h1m0 0h1m1 0h1m0 0h1m2 0h1m0 0h1m0 0h1m2 0h1m0 0h1m0 0h1m0 0h1m0 0h1m0 0h1m1 0h1m0 0h1m0 0h1m0 0h1m0 0h1m0 0h1m0 0h1m0 0h1m0 0h1m0 0h1m0 0h1m0 0h1m0 0h1m0 0h1m0 0h1m0 0h1m0 0h1m0 0h1m0 0h1m0 0h1m0 0h1m0 0h1m0 0h1m0 0h1m0 0h1m0 0h1m0 0h1m0 0h1m0 0h1m1 0h1m0 0h1m1 0h1m1 0h1m0 0h1m3 0h1m0 0h1m-71 1h1m0 0h1m3 0h1m1 0h1m0 0h1m0 0h1m3 0h1m0 0h1m0 0h1m0 0h1m0 0h1m0 0h1m3 0h1m0 0h1m0 0h1m0 0h1m0 0h1m0 0h1m0 0h1m0 0h1m0 0h1m0 0h1m0 0h1m0 0h1m0 0h1m0 0h1m0 0h1m0 0h1m0 0h1m0 0h1m0 0h1m0 0h1m0 0h1m0 0h1m0 0h1m0 0h1m0 0h1m0 0h1m1 0h1m0 0h1m0 0h1m0 0h1m1 0h1m0 0h1m0 0h1m0 0h1m2 0h1m0 0h1m0 0h1m1 0h1m2 0h1m2 0h1m-71 1h1m0 0h1m1 0h1m0 0h1m4 0h1m0 0h1m0 0h1m0 0h1m0 0h1m0 0h1m0 0h1m1 0h1m0 0h1m0 0h1m0 0h1m0 0h1m0 0h1m0 0h1m0 0h1m0 0h1m0 0h1m0 0h1m2 0h1m0 0h1m0 0h1m0 0h1m0 0h1m0 0h1m0 0h1m0 0h1m0 0h1m0 0h1m0 0h1m0 0h1m0 0h1m0 0h1m0 0h1m0 0h1m0 0h1m0 0h1m0 0h1m1 0h1m0 0h1m0 0h1m0 0h1m1 0h1m0 0h1m0 0h1m0 0h1m1 0h1m0 0h1m2 0h1m1 0h1m11 0h1m14 0h1m-94 1h1m0 0h1m1 0h1m1 0h1m1 0h1m0 0h1m0 0h1m0 0h1m1 0h1m2 0h1m0 0h1m0 0h1m0 0h1m0 0h1m0 0h1m0 0h1m0 0h1m0 0h1m0 0h1m0 0h1m0 0h1m0 0h1m0 0h1m0 0h1m0 0h1m0 0h1m0 0h1m0 0h1m0 0h1m0 0h1m0 0h1m0 0h1m0 0h1m0 0h1m0 0h1m0 0h1m0 0h1m0 0h1m0 0h1m0 0h1m0 0h1m0 0h1m0 0h1m0 0h1m0 0h1m0 0h1m0 0h1m0 0h1m0 0h1m1 0h1m0 0h1m0 0h1m14 0h1m-74 1h1m0 0h1m1 0h1m1 0h1m0 0h1m3 0h1m1 0h1m0 0h1m1 0h1m0 0h1m0 0h1m0 0h1m0 0h1m0 0h1m0 0h1m0 0h1m0 0h1m0 0h1m0 0h1m0 0h1m0 0h1m0 0h1m0 0h1m0 0h1m0 0h1m0 0h1m0 0h1m0 0h1m0 0h1m0 0h1m0 0h1m0 0h1m0 0h1m0 0h1m0 0h1m0 0h1m0 0h1m0 0h1m0 0h1m0 0h1m0 0h1m0 0h1m0 0h1m1 0h1m0 0h1m0 0h1m0 0h1m0 0h1m6 0h1m-62 1h1m0 0h1m0 0h1m0 0h1m0 0h1m0 0h1m0 0h1m1 0h1m0 0h1m0 0h1m0 0h1m0 0h1m0 0h1m0 0h1m0 0h1m0 0h1m0 0h1m0 0h1m0 0h1m0 0h1m0 0h1m0 0h1m0 0h1m0 0h1m0 0h1m0 0h1m0 0h1m0 0h1m0 0h1m0 0h1m0 0h1m0 0h1m0 0h1m0 0h1m0 0h1m0 0h1m0 0h1m0 0h1m0 0h1m0 0h1m0 0h1m0 0h1m0 0h1m0 0h1m0 0h1m0 0h1m0 0h1m0 0h1m0 0h1m0 0h1m1 0h1m0 0h1m0 0h1m3 0h1m0 0h1m0 0h1m3 0h1m-66 1h1m0 0h1m0 0h1m0 0h1m2 0h1m1 0h1m0 0h1m0 0h1m0 0h1m0 0h1m1 0h1m0 0h1m0 0h1m0 0h1m0 0h1m0 0h1m0 0h1m0 0h1m0 0h1m0 0h1m0 0h1m0 0h1m0 0h1m0 0h1m0 0h1m0 0h1m0 0h1m0 0h1m0 0h1m0 0h1m0 0h1m0 0h1m0 0h1m0 0h1m0 0h1m0 0h1m0 0h1m0 0h1m0 0h1m0 0h1m0 0h1m0 0h1m0 0h1m0 0h1m1 0h1m-52 1h1m3 0h1m1 0h1m0 0h1m0 0h1m1 0h1m0 0h1m0 0h1m1 0h1m0 0h1m0 0h1m0 0h1m0 0h1m0 0h1m1 0h1m0 0h1m0 0h1m0 0h1m0 0h1m0 0h1m0 0h1m0 0h1m0 0h1m0 0h1m0 0h1m0 0h1m0 0h1m0 0h1m0 0h1m0 0h1m0 0h1m0 0h1m0 0h1m0 0h1m0 0h1m0 0h1m0 0h1m0 0h1m0 0h1m1 0h1m0 0h1m1 0h1m0 0h1m0 0h1m0 0h1m1 0h1m3 0h1m4 0h1m-65 1h1m1 0h1m0 0h1m1 0h1m0 0h1m0 0h1m0 0h1m0 0h1m0 0h1m0 0h1m0 0h1m0 0h1m0 0h1m0 0h1m0 0h1m0 0h1m0 0h1m0 0h1m0 0h1m0 0h1m0 0h1m0 0h1m0 0h1m0 0h1m0 0h1m0 0h1m0 0h1m0 0h1m0 0h1m0 0h1m0 0h1m0 0h1m0 0h1m0 0h1m0 0h1m0 0h1m0 0h1m0 0h1m0 0h1m0 0h1m0 0h1m0 0h1m2 0h1m5 0h1m5 0h1m0 0h1m1 0h1m-61 1h1m1 0h1m0 0h1m0 0h1m0 0h1m0 0h1m0 0h1m0 0h1m0 0h1m0 0h1m0 0h1m0 0h1m0 0h1m0 0h1m0 0h1m0 0h1m0 0h1m0 0h1m0 0h1m0 0h1m0 0h1m0 0h1m0 0h1m0 0h1m0 0h1m0 0h1m0 0h1m0 0h1m0 0h1m0 0h1m0 0h1m0 0h1m0 0h1m0 0h1m0 0h1m0 0h1m0 0h1m0 0h1m0 0h1m0 0h1m0 0h1m0 0h1m0 0h1m0 0h1m0 0h1m1 0h1m0 0h1m5 0h1m-56 1h1m0 0h1m0 0h1m0 0h1m0 0h1m0 0h1m0 0h1m0 0h1m0 0h1m0 0h1m0 0h1m0 0h1m0 0h1m0 0h1m0 0h1m0 0h1m0 0h1m0 0h1m0 0h1m0 0h1m0 0h1m0 0h1m0 0h1m0 0h1m0 0h1m0 0h1m0 0h1m0 0h1m0 0h1m0 0h1m0 0h1m0 0h1m0 0h1m0 0h1m0 0h1m0 0h1m0 0h1m0 0h1m0 0h1m1 0h1m0 0h1m0 0h1m0 0h1m1 0h1m0 0h1m12 0h1m-59 1h1m0 0h1m0 0h1m0 0h1m0 0h1m0 0h1m0 0h1m0 0h1m0 0h1m0 0h1m0 0h1m0 0h1m0 0h1m0 0h1m0 0h1m0 0h1m0 0h1m0 0h1m0 0h1m0 0h1m0 0h1m0 0h1m0 0h1m0 0h1m0 0h1m0 0h1m0 0h1m0 0h1m0 0h1m0 0h1m0 0h1m0 0h1m0 0h1m0 0h1m0 0h1m0 0h1m0 0h1m1 0h1m0 0h1m2 0h1m3 0h1m4 0h1m0 0h1m2 0h1m-57 1h1m1 0h1m0 0h1m0 0h1m0 0h1m0 0h1m0 0h1m0 0h1m0 0h1m0 0h1m0 0h1m0 0h1m0 0h1m0 0h1m0 0h1m0 0h1m0 0h1m0 0h1m0 0h1m0 0h1m0 0h1m0 0h1m0 0h1m0 0h1m0 0h1m0 0h1m0 0h1m0 0h1m0 0h1m0 0h1m0 0h1m0 0h1m0 0h1m0 0h1m0 0h1m0 0h1m1 0h1m0 0h1m0 0h1m1 0h1m1 0h1m1 0h1m0 0h1m3 0h1m3 0h1m1 0h1m5 0h1m-64 1h1m0 0h1m0 0h1m0 0h1m0 0h1m0 0h1m0 0h1m0 0h1m0 0h1m0 0h1m0 0h1m0 0h1m0 0h1m0 0h1m0 0h1m0 0h1m0 0h1m0 0h1m0 0h1m0 0h1m0 0h1m0 0h1m0 0h1m0 0h1m0 0h1m0 0h1m0 0h1m0 0h1m0 0h1m0 0h1m0 0h1m0 0h1m0 0h1m0 0h1m1 0h1m0 0h1m0 0h1m2 0h1m0 0h1m0 0h1m0 0h1m2 0h1m3 0h1m6 0h1m-59 1h1m0 0h1m0 0h1m0 0h1m0 0h1m0 0h1m0 0h1m0 0h1m0 0h1m0 0h1m0 0h1m0 0h1m0 0h1m0 0h1m0 0h1m0 0h1m0 0h1m0 0h1m0 0h1m0 0h1m0 0h1m0 0h1m0 0h1m0 0h1m0 0h1m0 0h1m0 0h1m0 0h1m0 0h1m0 0h1m0 0h1m0 0h1m0 0h1m0 0h1m0 0h1m0 0h1m0 0h1m1 0h1m1 0h1m4 0h1m14 0h1m5 0h1m-68 1h1m1 0h1m0 0h1m0 0h1m0 0h1m0 0h1m0 0h1m0 0h1m0 0h1m0 0h1m0 0h1m0 0h1m0 0h1m0 0h1m0 0h1m0 0h1m0 0h1m0 0h1m0 0h1m0 0h1m0 0h1m0 0h1m0 0h1m0 0h1m0 0h1m0 0h1m0 0h1m0 0h1m0 0h1m0 0h1m0 0h1m0 0h1m0 0h1m0 0h1m0 0h1m1 0h1m8 0h1m1 0h1m1 0h1m-50 1h1m0 0h1m0 0h1m0 0h1m0 0h1m0 0h1m0 0h1m0 0h1m0 0h1m0 0h1m0 0h1m0 0h1m0 0h1m0 0h1m0 0h1m0 0h1m0 0h1m0 0h1m0 0h1m0 0h1m0 0h1m0 0h1m0 0h1m0 0h1m0 0h1m0 0h1m0 0h1m0 0h1m0 0h1m0 0h1m0 0h1m0 0h1m0 0h1m2 0h1m1 0h1m0 0h1m4 0h1m1 0h1m2 0h1m-49 1h1m0 0h1m0 0h1m0 0h1m0 0h1m0 0h1m0 0h1m0 0h1m0 0h1m0 0h1m0 0h1m0 0h1m0 0h1m0 0h1m0 0h1m0 0h1m0 0h1m0 0h1m0 0h1m0 0h1m0 0h1m0 0h1m0 0h1m0 0h1m0 0h1m0 0h1m0 0h1m0 0h1m0 0h1m2 0h1m0 0h1m0 0h1m0 0h1m0 0h1m0 0h1m0 0h1m-38 1h1m0 0h1m0 0h1m0 0h1m0 0h1m0 0h1m0 0h1m0 0h1m0 0h1m0 0h1m0 0h1m0 0h1m0 0h1m0 0h1m0 0h1m0 0h1m0 0h1m0 0h1m0 0h1m0 0h1m0 0h1m0 0h1m0 0h1m1 0h1m0 0h1m1 0h1m0 0h1m0 0h1m0 0h1m0 0h1m0 0h1m0 0h1m1 0h1m1 0h1m10 0h1m2 0h1m-52 1h1m0 0h1m0 0h1m0 0h1m0 0h1m0 0h1m0 0h1m0 0h1m0 0h1m0 0h1m0 0h1m0 0h1m0 0h1m0 0h1m0 0h1m0 0h1m0 0h1m0 0h1m0 0h1m0 0h1m0 0h1m0 0h1m0 0h1m0 0h1m0 0h1m0 0h1m0 0h1m0 0h1m0 0h1m1 0h1m1 0h1m5 0h1m-38 1h1m0 0h1m0 0h1m0 0h1m0 0h1m0 0h1m0 0h1m0 0h1m0 0h1m0 0h1m0 0h1m0 0h1m0 0h1m0 0h1m0 0h1m0 0h1m0 0h1m0 0h1m0 0h1m0 0h1m0 0h1m0 0h1m0 0h1m1 0h1m4 0h1m0 0h1m1 0h1m2 0h1m1 0h1m5 0h1m-44 1h1m0 0h1m0 0h1m0 0h1m0 0h1m0 0h1m0 0h1m0 0h1m0 0h1m0 0h1m0 0h1m0 0h1m0 0h1m0 0h1m0 0h1m0 0h1m0 0h1m0 0h1m0 0h1m0 0h1m0 0h1m0 0h1m0 0h1m0 0h1m2 0h1m0 0h1m2 0h1m7 0h1m0 0h1m-40 1h1m0 0h1m0 0h1m0 0h1m0 0h1m0 0h1m0 0h1m0 0h1m0 0h1m0 0h1m0 0h1m0 0h1m0 0h1m0 0h1m0 0h1m1 0h1m0 0h1m0 0h1m0 0h1m1 0h1m0 0h1m0 0h1m0 0h1m0 0h1m4 0h1m-30 1h1m0 0h1m0 0h1m0 0h1m0 0h1m0 0h1m0 0h1m0 0h1m0 0h1m0 0h1m0 0h1m0 0h1m0 0h1m0 0h1m0 0h1m0 0h1m0 0h1m0 0h1m0 0h1m0 0h1m0 0h1m1 0h1m1 0h1m1 0h1m15 0h1m0 0h1m-44 1h1m0 0h1m0 0h1m0 0h1m0 0h1m0 0h1m0 0h1m0 0h1m0 0h1m0 0h1m0 0h1m0 0h1m0 0h1m0 0h1m0 0h1m0 0h1m1 0h1m0 0h1m0 0h1m2 0h1m3 0h1m2 0h1m17 0h1m-49 1h1m1 0h1m1 0h1m0 0h1m0 0h1m0 0h1m0 0h1m0 0h1m0 0h1m0 0h1m1 0h1m0 0h1m0 0h1m0 0h1m0 0h1m1 0h1m1 0h1m0 0h1m1 0h1m-24 1h1m0 0h1m0 0h1m0 0h1m0 0h1m0 0h1m0 0h1m0 0h1m0 0h1m0 0h1m0 0h1m1 0h1m1 0h1m0 0h1m0 0h1m3 0h1m8 0h1m2 0h1m0 0h1m-31 1h1m0 0h1m0 0h1m0 0h1m0 0h1m0 0h1m0 0h1m1 0h1m4 0h1m2 0h1m1 0h1m16 0h1m-37 1h1m0 0h1m0 0h1m0 0h1m1 0h1m0 0h1m0 0h1m0 0h1m0 0h1m1 0h1m0 0h1m0 0h1m0 0h1m0 0h1m0 0h1m9 0h1m1 0h1m2 0h1m2 0h1m-36 1h1m1 0h1m0 0h1m1 0h1m1 0h1m0 0h1m4 0h1m5 0h1m-18 1h1m1 0h1m0 0h1m0 0h1m7 0h1m3 0h1m1 0h1m-18 1h1m1 0h1m7 0h1m0 0h1m-10 1h1m3 0h1m2 0h1m0 0h1m8 0h1m-18 1h1m3 0h1m-8 2h1m10 0h1m8 2h1m13 0h1m-31 1h1m7 3h1" stroke="#000" stroke-opacity="0.85" stroke-width="1.1" fill="none" transform="translate(0 0.5)"/>
<rect x="117.8" y="222.6" width="1.8" height="1.8" fill="#7cc04a" stroke="none" stroke-width="1" fill-opacity="0.9"/>
<rect x="59.4" y="236.79999999999998" width="1.8" height="1.8" fill="#7cc04a" stroke="none" stroke-width="1" fill-opacity="0.9"/>
<rect x="81.39999999999999" y="251.4" width="1.8" height="1.8" fill="#7cc04a" stroke="none" stroke-width="1" fill-opacity="0.9"/>
<rect x="60.1" y="255.9" width="1.8" height="1.8" fill="#7cc04a" stroke="none" stroke-width="1" fill-opacity="0.9"/>
<rect x="71.6" y="258.6" width="1.8" height="1.8" fill="#7cc04a" stroke="none" stroke-width="1" fill-opacity="0.9"/>
<rect x="122.69999999999999" y="233.2" width="1.8" height="1.8" fill="#7cc04a" stroke="none" stroke-width="1" fill-opacity="0.9"/>
<rect x="188.2" y="207.7" width="1.8" height="1.8" fill="#7cc04a" stroke="none" stroke-width="1" fill-opacity="0.9"/>
<rect x="81.6" y="239.1" width="1.8" height="1.8" fill="#7cc04a" stroke="none" stroke-width="1" fill-opacity="0.9"/>
<rect x="57.300000000000004" y="268.5" width="1.8" height="1.8" fill="#7cc04a" stroke="none" stroke-width="1" fill-opacity="0.9"/>
<rect x="166.1" y="200.2" width="1.8" height="1.8" fill="#7cc04a" stroke="none" stroke-width="1" fill-opacity="0.9"/>
<rect x="61.7" y="250.7" width="1.8" height="1.8" fill="#7cc04a" stroke="none" stroke-width="1" fill-opacity="0.9"/>
<rect x="68.6" y="264.0" width="1.8" height="1.8" fill="#7cc04a" stroke="none" stroke-width="1" fill-opacity="0.9"/>
<rect x="73.1" y="256.90000000000003" width="1.8" height="1.8" fill="#7cc04a" stroke="none" stroke-width="1" fill-opacity="0.9"/>
<rect x="119.1" y="232.4" width="1.8" height="1.8" fill="#7cc04a" stroke="none" stroke-width="1" fill-opacity="0.9"/>
<rect x="67.8" y="255.1" width="1.8" height="1.8" fill="#7cc04a" stroke="none" stroke-width="1" fill-opacity="0.9"/>
<rect x="77.6" y="257.90000000000003" width="1.8" height="1.8" fill="#7cc04a" stroke="none" stroke-width="1" fill-opacity="0.9"/>
<rect x="95.89999999999999" y="244.6" width="1.8" height="1.8" fill="#7cc04a" stroke="none" stroke-width="1" fill-opacity="0.9"/>
<rect x="114.1" y="242.5" width="1.8" height="1.8" fill="#7cc04a" stroke="none" stroke-width="1" fill-opacity="0.9"/>
<rect x="59.1" y="266.20000000000005" width="1.8" height="1.8" fill="#7cc04a" stroke="none" stroke-width="1" fill-opacity="0.9"/>
<rect x="95.19999999999999" y="247.1" width="1.8" height="1.8" fill="#7cc04a" stroke="none" stroke-width="1" fill-opacity="0.9"/>
<rect x="174.7" y="207.29999999999998" width="1.8" height="1.8" fill="#7cc04a" stroke="none" stroke-width="1" fill-opacity="0.9"/>
<rect x="130.4" y="216.29999999999998" width="1.8" height="1.8" fill="#7cc04a" stroke="none" stroke-width="1" fill-opacity="0.9"/>
<rect x="71.6" y="249.2" width="1.8" height="1.8" fill="#7cc04a" stroke="none" stroke-width="1" fill-opacity="0.9"/>
<rect x="66.19999999999999" y="245.29999999999998" width="1.8" height="1.8" fill="#7cc04a" stroke="none" stroke-width="1" fill-opacity="0.9"/>
<rect x="79.1" y="251.7" width="1.8" height="1.8" fill="#7cc04a" stroke="none" stroke-width="1" fill-opacity="0.9"/>
<rect x="101.6" y="234.5" width="1.8" height="1.8" fill="#7cc04a" stroke="none" stroke-width="1" fill-opacity="0.9"/>
<rect x="80.8" y="245.6" width="1.8" height="1.8" fill="#7cc04a" stroke="none" stroke-width="1" fill-opacity="0.9"/>
<rect x="152.1" y="221.1" width="1.8" height="1.8" fill="#7cc04a" stroke="none" stroke-width="1" fill-opacity="0.9"/>
<rect x="96.19999999999999" y="232.6" width="1.8" height="1.8" fill="#7cc04a" stroke="none" stroke-width="1" fill-opacity="0.9"/>
<rect x="154.7" y="224.0" width="1.8" height="1.8" fill="#7cc04a" stroke="none" stroke-width="1" fill-opacity="0.9"/>
<rect x="60.4" y="256.40000000000003" width="1.8" height="1.8" fill="#7cc04a" stroke="none" stroke-width="1" fill-opacity="0.9"/>
<rect x="83.0" y="251.9" width="1.8" height="1.8" fill="#7cc04a" stroke="none" stroke-width="1" fill-opacity="0.9"/>
<rect x="74.6" y="252.5" width="1.8" height="1.8" fill="#7cc04a" stroke="none" stroke-width="1" fill-opacity="0.9"/>
<rect x="57.7" y="269.3" width="1.8" height="1.8" fill="#7cc04a" stroke="none" stroke-width="1" fill-opacity="0.9"/>
<rect x="155.7" y="218.4" width="1.8" height="1.8" fill="#7cc04a" stroke="none" stroke-width="1" fill-opacity="0.9"/>
<rect x="67.1" y="264.5" width="1.8" height="1.8" fill="#7cc04a" stroke="none" stroke-width="1" fill-opacity="0.9"/>
<rect x="134.1" y="223.9" width="1.8" height="1.8" fill="#7cc04a" stroke="none" stroke-width="1" fill-opacity="0.9"/>
<rect x="60.4" y="249.0" width="1.8" height="1.8" fill="#7cc04a" stroke="none" stroke-width="1" fill-opacity="0.9"/>
<rect x="68.39999999999999" y="249.1" width="1.8" height="1.8" fill="#7cc04a" stroke="none" stroke-width="1" fill-opacity="0.9"/>
<rect x="151.29999999999998" y="211.79999999999998" width="1.8" height="1.8" fill="#7cc04a" stroke="none" stroke-width="1" fill-opacity="0.9"/>
<rect x="101.5" y="245.9" width="1.8" height="1.8" fill="#7cc04a" stroke="none" stroke-width="1" fill-opacity="0.9"/>
<rect x="83.6" y="248.29999999999998" width="1.8" height="1.8" fill="#7cc04a" stroke="none" stroke-width="1" fill-opacity="0.9"/>
<rect x="117.0" y="228.9" width="1.8" height="1.8" fill="#7cc04a" stroke="none" stroke-width="1" fill-opacity="0.9"/>
<rect x="96.0" y="237.2" width="1.8" height="1.8" fill="#7cc04a" stroke="none" stroke-width="1" fill-opacity="0.9"/>
<rect x="83.39999999999999" y="255.0" width="1.8" height="1.8" fill="#7cc04a" stroke="none" stroke-width="1" fill-opacity="0.9"/>
<rect x="169.79999999999998" y="199.0" width="1.8" height="1.8" fill="#7cc04a" stroke="none" stroke-width="1" fill-opacity="0.9"/>
<rect x="101.39999999999999" y="234.4" width="1.8" height="1.8" fill="#7cc04a" stroke="none" stroke-width="1" fill-opacity="0.9"/>
<rect x="99.0" y="246.5" width="1.8" height="1.8" fill="#7cc04a" stroke="none" stroke-width="1" fill-opacity="0.9"/>
<rect x="137.1" y="229.5" width="1.8" height="1.8" fill="#7cc04a" stroke="none" stroke-width="1" fill-opacity="0.9"/>
<rect x="89.3" y="239.79999999999998" width="1.8" height="1.8" fill="#7cc04a" stroke="none" stroke-width="1" fill-opacity="0.9"/>
<rect x="67.6" y="243.2" width="1.8" height="1.8" fill="#7cc04a" stroke="none" stroke-width="1" fill-opacity="0.9"/>
<rect x="90.6" y="245.6" width="1.8" height="1.8" fill="#7cc04a" stroke="none" stroke-width="1" fill-opacity="0.9"/>
<rect x="81.89999999999999" y="240.79999999999998" width="1.8" height="1.8" fill="#7cc04a" stroke="none" stroke-width="1" fill-opacity="0.9"/>
<rect x="106.89999999999999" y="229.6" width="1.8" height="1.8" fill="#7cc04a" stroke="none" stroke-width="1" fill-opacity="0.9"/>
<rect x="134.2" y="215.1" width="1.8" height="1.8" fill="#7cc04a" stroke="none" stroke-width="1" fill-opacity="0.9"/>
<rect x="103.6" y="235.0" width="1.8" height="1.8" fill="#7cc04a" stroke="none" stroke-width="1" fill-opacity="0.9"/>
<rect x="138.0" y="226.6" width="1.8" height="1.8" fill="#7cc04a" stroke="none" stroke-width="1" fill-opacity="0.9"/>
<rect x="68.19999999999999" y="256.8" width="1.8" height="1.8" fill="#7cc04a" stroke="none" stroke-width="1" fill-opacity="0.9"/>
<rect x="82.69999999999999" y="247.4" width="1.8" height="1.8" fill="#7cc04a" stroke="none" stroke-width="1" fill-opacity="0.9"/>
<rect x="74.5" y="254.2" width="1.8" height="1.8" fill="#7cc04a" stroke="none" stroke-width="1" fill-opacity="0.9"/>
<rect x="96.6" y="231.1" width="1.8" height="1.8" fill="#7cc04a" stroke="none" stroke-width="1" fill-opacity="0.9"/>
<rect x="108.6" y="243.1" width="1.8" height="1.8" fill="#7cc04a" stroke="none" stroke-width="1" fill-opacity="0.9"/>
<rect x="66.1" y="257.70000000000005" width="1.8" height="1.8" fill="#7cc04a" stroke="none" stroke-width="1" fill-opacity="0.9"/>
<rect x="101.0" y="247.6" width="1.8" height="1.8" fill="#7cc04a" stroke="none" stroke-width="1" fill-opacity="0.9"/>
<rect x="214.29999999999998" y="194.6" width="1.8" height="1.8" fill="#7cc04a" stroke="none" stroke-width="1" fill-opacity="0.9"/>
<rect x="102.39999999999999" y="226.4" width="1.8" height="1.8" fill="#7cc04a" stroke="none" stroke-width="1" fill-opacity="0.9"/>
<rect x="127.9" y="226.9" width="1.8" height="1.8" fill="#7cc04a" stroke="none" stroke-width="1" fill-opacity="0.9"/>
<rect x="98.1" y="244.79999999999998" width="1.8" height="1.8" fill="#7cc04a" stroke="none" stroke-width="1" fill-opacity="0.9"/>
<rect x="119.5" y="237.7" width="1.8" height="1.8" fill="#7cc04a" stroke="none" stroke-width="1" fill-opacity="0.9"/>
<rect x="79.89999999999999" y="247.2" width="1.8" height="1.8" fill="#7cc04a" stroke="none" stroke-width="1" fill-opacity="0.9"/>
<rect x="68.19999999999999" y="263.5" width="1.8" height="1.8" fill="#7cc04a" stroke="none" stroke-width="1" fill-opacity="0.9"/>
<rect x="114.8" y="229.29999999999998" width="1.8" height="1.8" fill="#7cc04a" stroke="none" stroke-width="1" fill-opacity="0.9"/>
<rect x="75.39999999999999" y="234.79999999999998" width="1.8" height="1.8" fill="#7cc04a" stroke="none" stroke-width="1" fill-opacity="0.9"/>
<rect x="94.39999999999999" y="229.7" width="1.8" height="1.8" fill="#7cc04a" stroke="none" stroke-width="1" fill-opacity="0.9"/>
<rect x="79.3" y="244.79999999999998" width="1.8" height="1.8" fill="#7cc04a" stroke="none" stroke-width="1" fill-opacity="0.9"/>
<rect x="95.69999999999999" y="225.7" width="1.8" height="1.8" fill="#7cc04a" stroke="none" stroke-width="1" fill-opacity="0.9"/>
<rect x="91.3" y="246.9" width="1.8" height="1.8" fill="#7cc04a" stroke="none" stroke-width="1" fill-opacity="0.9"/>
<rect x="56.1" y="259.40000000000003" width="1.8" height="1.8" fill="#7cc04a" stroke="none" stroke-width="1" fill-opacity="0.9"/>
<rect x="136.1" y="214.9" width="1.8" height="1.8" fill="#7cc04a" stroke="none" stroke-width="1" fill-opacity="0.9"/>
<rect x="178.2" y="210.29999999999998" width="1.8" height="1.8" fill="#7cc04a" stroke="none" stroke-width="1" fill-opacity="0.9"/>
<rect x="123.5" y="231.0" width="1.8" height="1.8" fill="#7cc04a" stroke="none" stroke-width="1" fill-opacity="0.9"/>
<rect x="99.19999999999999" y="241.29999999999998" width="1.8" height="1.8" fill="#7cc04a" stroke="none" stroke-width="1" fill-opacity="0.9"/>
<rect x="125.69999999999999" y="234.2" width="1.8" height="1.8" fill="#7cc04a" stroke="none" stroke-width="1" fill-opacity="0.9"/>
<rect x="87.0" y="246.0" width="1.8" height="1.8" fill="#7cc04a" stroke="none" stroke-width="1" fill-opacity="0.9"/>
<rect x="73.19999999999999" y="253.0" width="1.8" height="1.8" fill="#7cc04a" stroke="none" stroke-width="1" fill-opacity="0.9"/>
<rect x="123.5" y="236.0" width="1.8" height="1.8" fill="#7cc04a" stroke="none" stroke-width="1" fill-opacity="0.9"/>
<rect x="119.8" y="219.79999999999998" width="1.8" height="1.8" fill="#7cc04a" stroke="none" stroke-width="1" fill-opacity="0.9"/>
<rect x="57.9" y="264.1" width="1.8" height="1.8" fill="#7cc04a" stroke="none" stroke-width="1" fill-opacity="0.9"/>
<rect x="95.39999999999999" y="234.4" width="1.8" height="1.8" fill="#7cc04a" stroke="none" stroke-width="1" fill-opacity="0.9"/>
<rect x="80.0" y="258.5" width="1.8" height="1.8" fill="#7cc04a" stroke="none" stroke-width="1" fill-opacity="0.9"/>
<rect x="113.19999999999999" y="217.0" width="1.8" height="1.8" fill="#7cc04a" stroke="none" stroke-width="1" fill-opacity="0.9"/>
<rect x="95.1" y="242.4" width="1.8" height="1.8" fill="#7cc04a" stroke="none" stroke-width="1" fill-opacity="0.9"/>
<rect x="90.0" y="231.6" width="1.8" height="1.8" fill="#7cc04a" stroke="none" stroke-width="1" fill-opacity="0.9"/>
<rect x="77.8" y="247.79999999999998" width="1.8" height="1.8" fill="#7cc04a" stroke="none" stroke-width="1" fill-opacity="0.9"/>
<rect x="103.69999999999999" y="231.2" width="1.8" height="1.8" fill="#7cc04a" stroke="none" stroke-width="1" fill-opacity="0.9"/>
<rect x="72.8" y="235.0" width="1.8" height="1.8" fill="#7cc04a" stroke="none" stroke-width="1" fill-opacity="0.9"/>
<rect x="163.1" y="213.4" width="1.8" height="1.8" fill="#7cc04a" stroke="none" stroke-width="1" fill-opacity="0.9"/>
<rect x="68.19999999999999" y="259.8" width="1.8" height="1.8" fill="#7cc04a" stroke="none" stroke-width="1" fill-opacity="0.9"/>
<rect x="78.5" y="254.29999999999998" width="1.8" height="1.8" fill="#7cc04a" stroke="none" stroke-width="1" fill-opacity="0.9"/>
<rect x="60.9" y="259.3" width="1.8" height="1.8" fill="#7cc04a" stroke="none" stroke-width="1" fill-opacity="0.9"/>
<rect x="114.0" y="231.6" width="1.8" height="1.8" fill="#7cc04a" stroke="none" stroke-width="1" fill-opacity="0.9"/>
<rect x="112.19999999999999" y="237.79999999999998" width="1.8" height="1.8" fill="#7cc04a" stroke="none" stroke-width="1" fill-opacity="0.9"/>
<rect x="60.1" y="249.1" width="1.8" height="1.8" fill="#7cc04a" stroke="none" stroke-width="1" fill-opacity="0.9"/>
<rect x="80.89999999999999" y="235.4" width="1.8" height="1.8" fill="#7cc04a" stroke="none" stroke-width="1" fill-opacity="0.9"/>
<rect x="67.1" y="251.29999999999998" width="1.8" height="1.8" fill="#7cc04a" stroke="none" stroke-width="1" fill-opacity="0.9"/>
<rect x="73.8" y="254.5" width="1.8" height="1.8" fill="#7cc04a" stroke="none" stroke-width="1" fill-opacity="0.9"/>
<rect x="148.79999999999998" y="210.79999999999998" width="1.8" height="1.8" fill="#7cc04a" stroke="none" stroke-width="1" fill-opacity="0.9"/>
<rect x="121.89999999999999" y="227.2" width="1.8" height="1.8" fill="#7cc04a" stroke="none" stroke-width="1" fill-opacity="0.9"/>
<rect x="68.8" y="254.1" width="1.8" height="1.8" fill="#7cc04a" stroke="none" stroke-width="1" fill-opacity="0.9"/>
<rect x="87.6" y="242.29999999999998" width="1.8" height="1.8" fill="#7cc04a" stroke="none" stroke-width="1" fill-opacity="0.9"/>
<rect x="79.39999999999999" y="252.6" width="1.8" height="1.8" fill="#7cc04a" stroke="none" stroke-width="1" fill-opacity="0.9"/>
<rect x="60.300000000000004" y="265.90000000000003" width="1.8" height="1.8" fill="#7cc04a" stroke="none" stroke-width="1" fill-opacity="0.9"/>
<rect x="102.39999999999999" y="247.4" width="1.8" height="1.8" fill="#7cc04a" stroke="none" stroke-width="1" fill-opacity="0.9"/>
<rect x="131.0" y="229.0" width="1.8" height="1.8" fill="#7cc04a" stroke="none" stroke-width="1" fill-opacity="0.9"/>
<rect x="105.8" y="236.79999999999998" width="1.8" height="1.8" fill="#7cc04a" stroke="none" stroke-width="1" fill-opacity="0.9"/>
<rect x="65.69999999999999" y="260.20000000000005" width="1.8" height="1.8" fill="#7cc04a" stroke="none" stroke-width="1" fill-opacity="0.9"/>
<rect x="153.9" y="210.5" width="1.8" height="1.8" fill="#7cc04a" stroke="none" stroke-width="1" fill-opacity="0.9"/>
<rect x="95.19999999999999" y="250.7" width="1.8" height="1.8" fill="#7cc04a" stroke="none" stroke-width="1" fill-opacity="0.9"/>
<rect x="76.6" y="256.6" width="1.8" height="1.8" fill="#7cc04a" stroke="none" stroke-width="1" fill-opacity="0.9"/>
<rect x="83.5" y="253.7" width="1.8" height="1.8" fill="#7cc04a" stroke="none" stroke-width="1" fill-opacity="0.9"/>
<rect x="112.39999999999999" y="215.0" width="1.8" height="1.8" fill="#7cc04a" stroke="none" stroke-width="1" fill-opacity="0.9"/>
<rect x="77.69999999999999" y="252.6" width="1.8" height="1.8" fill="#7cc04a" stroke="none" stroke-width="1" fill-opacity="0.9"/>
<rect x="87.0" y="245.9" width="1.8" height="1.8" fill="#7cc04a" stroke="none" stroke-width="1" fill-opacity="0.9"/>
<rect x="95.89999999999999" y="240.1" width="1.8" height="1.8" fill="#7cc04a" stroke="none" stroke-width="1" fill-opacity="0.9"/>
<rect x="61.7" y="245.7" width="1.8" height="1.8" fill="#7cc04a" stroke="none" stroke-width="1" fill-opacity="0.9"/>
<rect x="162.7" y="204.4" width="1.8" height="1.8" fill="#7cc04a" stroke="none" stroke-width="1" fill-opacity="0.9"/>
<rect x="71.39999999999999" y="250.5" width="1.8" height="1.8" fill="#7cc04a" stroke="none" stroke-width="1" fill-opacity="0.9"/>
<rect x="61.1" y="260.0" width="1.8" height="1.8" fill="#7cc04a" stroke="none" stroke-width="1" fill-opacity="0.9"/>
<rect x="125.1" y="215.4" width="1.8" height="1.8" fill="#7cc04a" stroke="none" stroke-width="1" fill-opacity="0.9"/>
<rect x="58.5" y="268.6" width="1.8" height="1.8" fill="#7cc04a" stroke="none" stroke-width="1" fill-opacity="0.9"/>
<rect x="60.1" y="267.6" width="1.8" height="1.8" fill="#7cc04a" stroke="none" stroke-width="1" fill-opacity="0.9"/>
<rect x="133.29999999999998" y="228.4" width="1.8" height="1.8" fill="#7cc04a" stroke="none" stroke-width="1" fill-opacity="0.9"/>
<rect x="172.7" y="211.7" width="1.8" height="1.8" fill="#7cc04a" stroke="none" stroke-width="1" fill-opacity="0.9"/>
<rect x="135.0" y="224.4" width="1.8" height="1.8" fill="#7cc04a" stroke="none" stroke-width="1" fill-opacity="0.9"/>
<rect x="157.29999999999998" y="210.0" width="1.8" height="1.8" fill="#7cc04a" stroke="none" stroke-width="1" fill-opacity="0.9"/>
<rect x="184.79999999999998" y="182.0" width="1.8" height="1.8" fill="#7cc04a" stroke="none" stroke-width="1" fill-opacity="0.9"/>
<rect x="85.89999999999999" y="256.20000000000005" width="1.8" height="1.8" fill="#7cc04a" stroke="none" stroke-width="1" fill-opacity="0.9"/>
<rect x="93.8" y="245.6" width="1.8" height="1.8" fill="#7cc04a" stroke="none" stroke-width="1" fill-opacity="0.9"/>
<rect x="97.39999999999999" y="242.9" width="1.8" height="1.8" fill="#7cc04a" stroke="none" stroke-width="1" fill-opacity="0.9"/>
<rect x="71.5" y="254.9" width="1.8" height="1.8" fill="#7cc04a" stroke="none" stroke-width="1" fill-opacity="0.9"/>
<rect x="106.5" y="242.29999999999998" width="1.8" height="1.8" fill="#7cc04a" stroke="none" stroke-width="1" fill-opacity="0.9"/>
<rect x="101.89999999999999" y="238.4" width="1.8" height="1.8" fill="#7cc04a" stroke="none" stroke-width="1" fill-opacity="0.9"/>
<rect x="97.69999999999999" y="228.5" width="1.8" height="1.8" fill="#7cc04a" stroke="none" stroke-width="1" fill-opacity="0.9"/>
<rect x="58.1" y="263.70000000000005" width="1.8" height="1.8" fill="#7cc04a" stroke="none" stroke-width="1" fill-opacity="0.9"/>
<rect x="77.3" y="255.20000000000002" width="1.8" height="1.8" fill="#7cc04a" stroke="none" stroke-width="1" fill-opacity="0.9"/>
<rect x="164.9" y="216.29999999999998" width="1.8" height="1.8" fill="#7cc04a" stroke="none" stroke-width="1" fill-opacity="0.9"/>
<rect x="116.19999999999999" y="235.79999999999998" width="1.8" height="1.8" fill="#7cc04a" stroke="none" stroke-width="1" fill-opacity="0.9"/>
<rect x="88.5" y="253.29999999999998" width="1.8" height="1.8" fill="#7cc04a" stroke="none" stroke-width="1" fill-opacity="0.9"/>
<rect x="203.79999999999998" y="170.4" width="1.8" height="1.8" fill="#7cc04a" stroke="none" stroke-width="1" fill-opacity="0.9"/>
<rect x="102.0" y="229.0" width="1.8" height="1.8" fill="#7cc04a" stroke="none" stroke-width="1" fill-opacity="0.9"/>
<rect x="100.1" y="234.7" width="1.8" height="1.8" fill="#7cc04a" stroke="none" stroke-width="1" fill-opacity="0.9"/>
<rect x="67.69999999999999" y="249.2" width="1.8" height="1.8" fill="#7cc04a" stroke="none" stroke-width="1" fill-opacity="0.9"/>
<rect x="86.6" y="248.1" width="1.8" height="1.8" fill="#7cc04a" stroke="none" stroke-width="1" fill-opacity="0.9"/>
<rect x="182.29999999999998" y="200.1" width="1.8" height="1.8" fill="#7cc04a" stroke="none" stroke-width="1" fill-opacity="0.9"/>
<rect x="179.6" y="202.0" width="1.8" height="1.8" fill="#7cc04a" stroke="none" stroke-width="1" fill-opacity="0.9"/>
<rect x="70.8" y="248.0" width="1.8" height="1.8" fill="#7cc04a" stroke="none" stroke-width="1" fill-opacity="0.9"/>
<rect x="68.19999999999999" y="234.79999999999998" width="1.8" height="1.8" fill="#7cc04a" stroke="none" stroke-width="1" fill-opacity="0.9"/>
<rect x="69.39999999999999" y="263.20000000000005" width="1.8" height="1.8" fill="#7cc04a" stroke="none" stroke-width="1" fill-opacity="0.9"/>
<rect x="96.0" y="247.0" width="1.8" height="1.8" fill="#7cc04a" stroke="none" stroke-width="1" fill-opacity="0.9"/>
<rect x="152.1" y="216.29999999999998" width="1.8" height="1.8" fill="#7cc04a" stroke="none" stroke-width="1" fill-opacity="0.9"/>
<rect x="165.79999999999998" y="216.7" width="1.8" height="1.8" fill="#7cc04a" stroke="none" stroke-width="1" fill-opacity="0.9"/>
<rect x="102.89999999999999" y="238.0" width="1.8" height="1.8" fill="#7cc04a" stroke="none" stroke-width="1" fill-opacity="0.9"/>
<rect x="80.69999999999999" y="245.7" width="1.8" height="1.8" fill="#7cc04a" stroke="none" stroke-width="1" fill-opacity="0.9"/>
<rect x="132.5" y="228.4" width="1.8" height="1.8" fill="#7cc04a" stroke="none" stroke-width="1" fill-opacity="0.9"/>
<rect x="62.5" y="266.40000000000003" width="1.8" height="1.8" fill="#7cc04a" stroke="none" stroke-width="1" fill-opacity="0.9"/>
<rect x="57.7" y="251.1" width="1.8" height="1.8" fill="#7cc04a" stroke="none" stroke-width="1" fill-opacity="0.9"/>
<rect x="81.19999999999999" y="254.4" width="1.8" height="1.8" fill="#7cc04a" stroke="none" stroke-width="1" fill-opacity="0.9"/>
<rect x="107.89999999999999" y="221.1" width="1.8" height="1.8" fill="#7cc04a" stroke="none" stroke-width="1" fill-opacity="0.9"/>
<rect x="85.5" y="254.7" width="1.8" height="1.8" fill="#7cc04a" stroke="none" stroke-width="1" fill-opacity="0.9"/>
<rect x="102.5" y="247.6" width="1.8" height="1.8" fill="#7cc04a" stroke="none" stroke-width="1" fill-opacity="0.9"/>
<rect x="74.5" y="241.0" width="1.8" height="1.8" fill="#7cc04a" stroke="none" stroke-width="1" fill-opacity="0.9"/>
<rect x="58.300000000000004" y="262.20000000000005" width="1.8" height="1.8" fill="#7cc04a" stroke="none" stroke-width="1" fill-opacity="0.9"/>
<rect x="58.800000000000004" y="266.3" width="1.8" height="1.8" fill="#7cc04a" stroke="none" stroke-width="1" fill-opacity="0.9"/>
<rect x="167.6" y="210.0" width="1.8" height="1.8" fill="#7cc04a" stroke="none" stroke-width="1" fill-opacity="0.9"/>
<rect x="74.19999999999999" y="248.79999999999998" width="1.8" height="1.8" fill="#7cc04a" stroke="none" stroke-width="1" fill-opacity="0.9"/>
<rect x="97.6" y="234.4" width="1.8" height="1.8" fill="#7cc04a" stroke="none" stroke-width="1" fill-opacity="0.9"/>
<rect x="62.9" y="260.20000000000005" width="1.8" height="1.8" fill="#7cc04a" stroke="none" stroke-width="1" fill-opacity="0.9"/>
<rect x="90.39999999999999" y="236.1" width="1.8" height="1.8" fill="#7cc04a" stroke="none" stroke-width="1" fill-opacity="0.9"/>
<rect x="82.89999999999999" y="255.49999999999997" width="1.8" height="1.8" fill="#7cc04a" stroke="none" stroke-width="1" fill-opacity="0.9"/>
<rect x="62.5" y="245.7" width="1.8" height="1.8" fill="#7cc04a" stroke="none" stroke-width="1" fill-opacity="0.9"/>
<rect x="144.9" y="227.0" width="1.8" height="1.8" fill="#7cc04a" stroke="none" stroke-width="1" fill-opacity="0.9"/>
<rect x="83.1" y="244.7" width="1.8" height="1.8" fill="#7cc04a" stroke="none" stroke-width="1" fill-opacity="0.9"/>
<rect x="106.5" y="245.5" width="1.8" height="1.8" fill="#7cc04a" stroke="none" stroke-width="1" fill-opacity="0.9"/>
<rect x="161.29999999999998" y="210.29999999999998" width="1.8" height="1.8" fill="#7cc04a" stroke="none" stroke-width="1" fill-opacity="0.9"/>
<rect x="110.3" y="244.2" width="1.8" height="1.8" fill="#7cc04a" stroke="none" stroke-width="1" fill-opacity="0.9"/>
<rect x="65.6" y="256.70000000000005" width="1.8" height="1.8" fill="#7cc04a" stroke="none" stroke-width="1" fill-opacity="0.9"/>
<rect x="58.9" y="268.20000000000005" width="1.8" height="1.8" fill="#7cc04a" stroke="none" stroke-width="1" fill-opacity="0.9"/>
<rect x="63.4" y="263.1" width="1.8" height="1.8" fill="#7cc04a" stroke="none" stroke-width="1" fill-opacity="0.9"/>
<rect x="82.3" y="252.5" width="1.8" height="1.8" fill="#7cc04a" stroke="none" stroke-width="1" fill-opacity="0.9"/>
<rect x="58.6" y="266.3" width="1.8" height="1.8" fill="#7cc04a" stroke="none" stroke-width="1" fill-opacity="0.9"/>
<rect x="68.39999999999999" y="243.29999999999998" width="1.8" height="1.8" fill="#7cc04a" stroke="none" stroke-width="1" fill-opacity="0.9"/>
<rect x="100.5" y="247.1" width="1.8" height="1.8" fill="#7cc04a" stroke="none" stroke-width="1" fill-opacity="0.9"/>
<rect x="140.9" y="230.6" width="1.8" height="1.8" fill="#7cc04a" stroke="none" stroke-width="1" fill-opacity="0.9"/>
<rect x="61.1" y="257.3" width="1.8" height="1.8" fill="#7cc04a" stroke="none" stroke-width="1" fill-opacity="0.9"/>
<rect x="170.9" y="212.2" width="1.8" height="1.8" fill="#7cc04a" stroke="none" stroke-width="1" fill-opacity="0.9"/>
<rect x="60.6" y="253.7" width="1.8" height="1.8" fill="#7cc04a" stroke="none" stroke-width="1" fill-opacity="0.9"/>
<rect x="82.3" y="252.2" width="1.8" height="1.8" fill="#7cc04a" stroke="none" stroke-width="1" fill-opacity="0.9"/>
<rect x="104.8" y="241.79999999999998" width="1.8" height="1.8" fill="#7cc04a" stroke="none" stroke-width="1" fill-opacity="0.9"/>
<rect x="56.800000000000004" y="258.0" width="1.8" height="1.8" fill="#7cc04a" stroke="none" stroke-width="1" fill-opacity="0.9"/>
<rect x="122.19999999999999" y="232.2" width="1.8" height="1.8" fill="#7cc04a" stroke="none" stroke-width="1" fill-opacity="0.9"/>
<rect x="108.0" y="238.2" width="1.8" height="1.8" fill="#7cc04a" stroke="none" stroke-width="1" fill-opacity="0.9"/>
<rect x="55.7" y="251.2" width="1.8" height="1.8" fill="#7cc04a" stroke="none" stroke-width="1" fill-opacity="0.9"/>
<rect x="69.69999999999999" y="244.2" width="1.8" height="1.8" fill="#7cc04a" stroke="none" stroke-width="1" fill-opacity="0.9"/>
<rect x="187.2" y="196.7" width="1.8" height="1.8" fill="#7cc04a" stroke="none" stroke-width="1" fill-opacity="0.9"/>
<rect x="123.39999999999999" y="232.2" width="1.8" height="1.8" fill="#7cc04a" stroke="none" stroke-width="1" fill-opacity="0.9"/>
<rect x="56.300000000000004" y="266.40000000000003" width="1.8" height="1.8" fill="#7cc04a" stroke="none" stroke-width="1" fill-opacity="0.9"/>
<rect x="76.19999999999999" y="258.70000000000005" width="1.8" height="1.8" fill="#7cc04a" stroke="none" stroke-width="1" fill-opacity="0.9"/>
<rect x="58.4" y="267.70000000000005" width="1.8" height="1.8" fill="#7cc04a" stroke="none" stroke-width="1" fill-opacity="0.9"/>
<rect x="58.9" y="266.6" width="1.8" height="1.8" fill="#7cc04a" stroke="none" stroke-width="1" fill-opacity="0.9"/>
<rect x="71.3" y="250.4" width="1.8" height="1.8" fill="#7cc04a" stroke="none" stroke-width="1" fill-opacity="0.9"/>
<rect x="62.2" y="254.1" width="1.8" height="1.8" fill="#7cc04a" stroke="none" stroke-width="1" fill-opacity="0.9"/>
<rect x="97.1" y="241.5" width="1.8" height="1.8" fill="#7cc04a" stroke="none" stroke-width="1" fill-opacity="0.9"/>
<rect x="62.300000000000004" y="263.20000000000005" width="1.8" height="1.8" fill="#7cc04a" stroke="none" stroke-width="1" fill-opacity="0.9"/>
<rect x="94.1" y="250.6" width="1.8" height="1.8" fill="#7cc04a" stroke="none" stroke-width="1" fill-opacity="0.9"/>
<rect x="110.8" y="234.7" width="1.8" height="1.8" fill="#7cc04a" stroke="none" stroke-width="1" fill-opacity="0.9"/>
<rect x="65.5" y="262.0" width="1.8" height="1.8" fill="#7cc04a" stroke="none" stroke-width="1" fill-opacity="0.9"/>
<rect x="141.79999999999998" y="223.2" width="1.8" height="1.8" fill="#7cc04a" stroke="none" stroke-width="1" fill-opacity="0.9"/>
<rect x="99.5" y="249.4" width="1.8" height="1.8" fill="#7cc04a" stroke="none" stroke-width="1" fill-opacity="0.9"/>
<rect x="69.19999999999999" y="253.6" width="1.8" height="1.8" fill="#7cc04a" stroke="none" stroke-width="1" fill-opacity="0.9"/>
<rect x="106.8" y="240.7" width="1.8" height="1.8" fill="#7cc04a" stroke="none" stroke-width="1" fill-opacity="0.9"/>
<rect x="65.6" y="255.20000000000002" width="1.8" height="1.8" fill="#7cc04a" stroke="none" stroke-width="1" fill-opacity="0.9"/>
<rect x="63.300000000000004" y="264.20000000000005" width="1.8" height="1.8" fill="#7cc04a" stroke="none" stroke-width="1" fill-opacity="0.9"/>
<rect x="103.1" y="231.79999999999998" width="1.8" height="1.8" fill="#7cc04a" stroke="none" stroke-width="1" fill-opacity="0.9"/>
<rect x="61.6" y="261.3" width="1.8" height="1.8" fill="#7cc04a" stroke="none" stroke-width="1" fill-opacity="0.9"/>
<rect x="85.6" y="231.6" width="1.8" height="1.8" fill="#7cc04a" stroke="none" stroke-width="1" fill-opacity="0.9"/>
<rect x="109.0" y="234.2" width="1.8" height="1.8" fill="#7cc04a" stroke="none" stroke-width="1" fill-opacity="0.9"/>
<rect x="81.8" y="247.5" width="1.8" height="1.8" fill="#7cc04a" stroke="none" stroke-width="1" fill-opacity="0.9"/>
<rect x="66.5" y="258.0" width="1.8" height="1.8" fill="#7cc04a" stroke="none" stroke-width="1" fill-opacity="0.9"/>
<rect x="70.39999999999999" y="255.6" width="1.8" height="1.8" fill="#7cc04a" stroke="none" stroke-width="1" fill-opacity="0.9"/>
<rect x="92.0" y="234.4" width="1.8" height="1.8" fill="#7cc04a" stroke="none" stroke-width="1" fill-opacity="0.9"/>
<rect x="62.300000000000004" y="266.8" width="1.8" height="1.8" fill="#7cc04a" stroke="none" stroke-width="1" fill-opacity="0.9"/>
<rect x="93.89999999999999" y="247.0" width="1.8" height="1.8" fill="#7cc04a" stroke="none" stroke-width="1" fill-opacity="0.9"/>
<rect x="107.6" y="239.7" width="1.8" height="1.8" fill="#7cc04a" stroke="none" stroke-width="1" fill-opacity="0.9"/>
<rect x="63.199999999999996" y="265.5" width="1.8" height="1.8" fill="#7cc04a" stroke="none" stroke-width="1" fill-opacity="0.9"/>
<rect x="158.9" y="207.79999999999998" width="1.8" height="1.8" fill="#7cc04a" stroke="none" stroke-width="1" fill-opacity="0.9"/>
<rect x="77.6" y="252.2" width="1.8" height="1.8" fill="#7cc04a" stroke="none" stroke-width="1" fill-opacity="0.9"/>
<rect x="106.3" y="237.5" width="1.8" height="1.8" fill="#7cc04a" stroke="none" stroke-width="1" fill-opacity="0.9"/>
<rect x="61.5" y="263.6" width="1.8" height="1.8" fill="#7cc04a" stroke="none" stroke-width="1" fill-opacity="0.9"/>
<rect x="115.5" y="216.9" width="1.8" height="1.8" fill="#7cc04a" stroke="none" stroke-width="1" fill-opacity="0.9"/>
<rect x="76.5" y="254.4" width="1.8" height="1.8" fill="#7cc04a" stroke="none" stroke-width="1" fill-opacity="0.9"/>
<rect x="69.3" y="258.8" width="1.8" height="1.8" fill="#7cc04a" stroke="none" stroke-width="1" fill-opacity="0.9"/>
<rect x="91.89999999999999" y="228.1" width="1.8" height="1.8" fill="#7cc04a" stroke="none" stroke-width="1" fill-opacity="0.9"/>
<rect x="77.89999999999999" y="255.0" width="1.8" height="1.8" fill="#7cc04a" stroke="none" stroke-width="1" fill-opacity="0.9"/>
<rect x="108.19999999999999" y="237.9" width="1.8" height="1.8" fill="#7cc04a" stroke="none" stroke-width="1" fill-opacity="0.9"/>
<rect x="100.5" y="248.0" width="1.8" height="1.8" fill="#7cc04a" stroke="none" stroke-width="1" fill-opacity="0.9"/>
<rect x="98.8" y="239.5" width="1.8" height="1.8" fill="#7cc04a" stroke="none" stroke-width="1" fill-opacity="0.9"/>
<rect x="119.39999999999999" y="220.79999999999998" width="1.8" height="1.8" fill="#7cc04a" stroke="none" stroke-width="1" fill-opacity="0.9"/>
<rect x="76.1" y="245.2" width="1.8" height="1.8" fill="#7cc04a" stroke="none" stroke-width="1" fill-opacity="0.9"/>
<rect x="110.8" y="243.2" width="1.8" height="1.8" fill="#7cc04a" stroke="none" stroke-width="1" fill-opacity="0.9"/>
<rect x="71.0" y="259.40000000000003" width="1.8" height="1.8" fill="#7cc04a" stroke="none" stroke-width="1" fill-opacity="0.9"/>
<rect x="105.0" y="242.2" width="1.8" height="1.8" fill="#7cc04a" stroke="none" stroke-width="1" fill-opacity="0.9"/>
<rect x="158.5" y="214.1" width="1.8" height="1.8" fill="#7cc04a" stroke="none" stroke-width="1" fill-opacity="0.9"/>
<rect x="73.6" y="255.6" width="1.8" height="1.8" fill="#7cc04a" stroke="none" stroke-width="1" fill-opacity="0.9"/>
<rect x="101.8" y="239.29999999999998" width="1.8" height="1.8" fill="#7cc04a" stroke="none" stroke-width="1" fill-opacity="0.9"/>
<rect x="85.1" y="246.2" width="1.8" height="1.8" fill="#7cc04a" stroke="none" stroke-width="1" fill-opacity="0.9"/>
<rect x="63.50000000000001" y="260.40000000000003" width="1.8" height="1.8" fill="#7cc04a" stroke="none" stroke-width="1" fill-opacity="0.9"/>
<rect x="78.6" y="250.4" width="1.8" height="1.8" fill="#7cc04a" stroke="none" stroke-width="1" fill-opacity="0.9"/>
<rect x="76.3" y="253.79999999999998" width="1.8" height="1.8" fill="#7cc04a" stroke="none" stroke-width="1" fill-opacity="0.9"/>
<rect x="115.0" y="239.0" width="1.8" height="1.8" fill="#7cc04a" stroke="none" stroke-width="1" fill-opacity="0.9"/>
<rect x="76.5" y="254.4" width="1.8" height="1.8" fill="#7cc04a" stroke="none" stroke-width="1" fill-opacity="0.9"/>
<rect x="109.69999999999999" y="296.90000000000003" width="1.8" height="1.8" fill="#2e3a92" stroke="none" stroke-width="1" fill-opacity="0.9"/>
<rect x="170.1" y="278.6" width="1.8" height="1.8" fill="#2e3a92" stroke="none" stroke-width="1" fill-opacity="0.9"/>
<rect x="164.9" y="271.90000000000003" width="1.8" height="1.8" fill="#2e3a92" stroke="none" stroke-width="1" fill-opacity="0.9"/>
<rect x="231.2" y="242.7" width="1.8" height="1.8" fill="#2e3a92" stroke="none" stroke-width="1" fill-opacity="0.9"/>
<rect x="214.79999999999998" y="257.8" width="1.8" height="1.8" fill="#2e3a92" stroke="none" stroke-width="1" fill-opacity="0.9"/>
<rect x="201.79999999999998" y="260.5" width="1.8" height="1.8" fill="#2e3a92" stroke="none" stroke-width="1" fill-opacity="0.9"/>
<rect x="138.4" y="294.40000000000003" width="1.8" height="1.8" fill="#2e3a92" stroke="none" stroke-width="1" fill-opacity="0.9"/>
<rect x="134.9" y="286.3" width="1.8" height="1.8" fill="#2e3a92" stroke="none" stroke-width="1" fill-opacity="0.9"/>
<rect x="285.3" y="224.79999999999998" width="1.8" height="1.8" fill="#2e3a92" stroke="none" stroke-width="1" fill-opacity="0.9"/>
<rect x="129.6" y="300.90000000000003" width="1.8" height="1.8" fill="#2e3a92" stroke="none" stroke-width="1" fill-opacity="0.9"/>
<rect x="148.1" y="279.40000000000003" width="1.8" height="1.8" fill="#2e3a92" stroke="none" stroke-width="1" fill-opacity="0.9"/>
<rect x="155.2" y="275.1" width="1.8" height="1.8" fill="#2e3a92" stroke="none" stroke-width="1" fill-opacity="0.9"/>
<rect x="198.6" y="264.1" width="1.8" height="1.8" fill="#2e3a92" stroke="none" stroke-width="1" fill-opacity="0.9"/>
<rect x="130.5" y="290.0" width="1.8" height="1.8" fill="#2e3a92" stroke="none" stroke-width="1" fill-opacity="0.9"/>
<rect x="170.29999999999998" y="277.40000000000003" width="1.8" height="1.8" fill="#2e3a92" stroke="none" stroke-width="1" fill-opacity="0.9"/>
<rect x="115.6" y="299.90000000000003" width="1.8" height="1.8" fill="#2e3a92" stroke="none" stroke-width="1" fill-opacity="0.9"/>
<rect x="123.19999999999999" y="297.1" width="1.8" height="1.8" fill="#2e3a92" stroke="none" stroke-width="1" fill-opacity="0.9"/>
<rect x="187.1" y="267.90000000000003" width="1.8" height="1.8" fill="#2e3a92" stroke="none" stroke-width="1" fill-opacity="0.9"/>
<rect x="231.6" y="251.4" width="1.8" height="1.8" fill="#2e3a92" stroke="none" stroke-width="1" fill-opacity="0.9"/>
<rect x="153.0" y="276.70000000000005" width="1.8" height="1.8" fill="#2e3a92" stroke="none" stroke-width="1" fill-opacity="0.9"/>
<rect x="135.6" y="290.8" width="1.8" height="1.8" fill="#2e3a92" stroke="none" stroke-width="1" fill-opacity="0.9"/>
<rect x="122.1" y="314.20000000000005" width="1.8" height="1.8" fill="#2e3a92" stroke="none" stroke-width="1" fill-opacity="0.9"/>
<rect x="172.1" y="279.1" width="1.8" height="1.8" fill="#2e3a92" stroke="none" stroke-width="1" fill-opacity="0.9"/>
<rect x="176.79999999999998" y="269.70000000000005" width="1.8" height="1.8" fill="#2e3a92" stroke="none" stroke-width="1" fill-opacity="0.9"/>
<rect x="101.3" y="304.0" width="1.8" height="1.8" fill="#2e3a92" stroke="none" stroke-width="1" fill-opacity="0.9"/>
<rect x="141.5" y="282.90000000000003" width="1.8" height="1.8" fill="#2e3a92" stroke="none" stroke-width="1" fill-opacity="0.9"/>
<rect x="178.0" y="269.8" width="1.8" height="1.8" fill="#2e3a92" stroke="none" stroke-width="1" fill-opacity="0.9"/>
<rect x="258.70000000000005" y="234.6" width="1.8" height="1.8" fill="#2e3a92" stroke="none" stroke-width="1" fill-opacity="0.9"/>
<rect x="107.19999999999999" y="311.5" width="1.8" height="1.8" fill="#2e3a92" stroke="none" stroke-width="1" fill-opacity="0.9"/>
<rect x="118.8" y="295.40000000000003" width="1.8" height="1.8" fill="#2e3a92" stroke="none" stroke-width="1" fill-opacity="0.9"/>
<rect x="172.7" y="272.5" width="1.8" height="1.8" fill="#2e3a92" stroke="none" stroke-width="1" fill-opacity="0.9"/>
<rect x="207.9" y="251.7" width="1.8" height="1.8" fill="#2e3a92" stroke="none" stroke-width="1" fill-opacity="0.9"/>
<rect x="110.69999999999999" y="295.8" width="1.8" height="1.8" fill="#2e3a92" stroke="none" stroke-width="1" fill-opacity="0.9"/>
<rect x="147.7" y="286.6" width="1.8" height="1.8" fill="#2e3a92" stroke="none" stroke-width="1" fill-opacity="0.9"/>
<rect x="228.7" y="241.6" width="1.8" height="1.8" fill="#2e3a92" stroke="none" stroke-width="1" fill-opacity="0.9"/>
<rect x="114.19999999999999" y="310.70000000000005" width="1.8" height="1.8" fill="#2e3a92" stroke="none" stroke-width="1" fill-opacity="0.9"/>
<rect x="125.6" y="291.3" width="1.8" height="1.8" fill="#2e3a92" stroke="none" stroke-width="1" fill-opacity="0.9"/>
<rect x="199.0" y="265.5" width="1.8" height="1.8" fill="#2e3a92" stroke="none" stroke-width="1" fill-opacity="0.9"/>
<rect x="111.89999999999999" y="302.70000000000005" width="1.8" height="1.8" fill="#2e3a92" stroke="none" stroke-width="1" fill-opacity="0.9"/>
<rect x="120.5" y="294.6" width="1.8" height="1.8" fill="#2e3a92" stroke="none" stroke-width="1" fill-opacity="0.9"/>
<rect x="233.1" y="247.7" width="1.8" height="1.8" fill="#2e3a92" stroke="none" stroke-width="1" fill-opacity="0.9"/>
<rect x="208.2" y="258.90000000000003" width="1.8" height="1.8" fill="#2e3a92" stroke="none" stroke-width="1" fill-opacity="0.9"/>
<rect x="130.6" y="295.3" width="1.8" height="1.8" fill="#2e3a92" stroke="none" stroke-width="1" fill-opacity="0.9"/>
<rect x="159.9" y="279.20000000000005" width="1.8" height="1.8" fill="#2e3a92" stroke="none" stroke-width="1" fill-opacity="0.9"/>
<rect x="168.5" y="280.0" width="1.8" height="1.8" fill="#2e3a92" stroke="none" stroke-width="1" fill-opacity="0.9"/>
<rect x="143.6" y="293.20000000000005" width="1.8" height="1.8" fill="#2e3a92" stroke="none" stroke-width="1" fill-opacity="0.9"/>
<rect x="225.79999999999998" y="264.40000000000003" width="1.8" height="1.8" fill="#2e3a92" stroke="none" stroke-width="1" fill-opacity="0.9"/>
<rect x="122.8" y="292.20000000000005" width="1.8" height="1.8" fill="#2e3a92" stroke="none" stroke-width="1" fill-opacity="0.9"/>
<rect x="142.6" y="292.0" width="1.8" height="1.8" fill="#2e3a92" stroke="none" stroke-width="1" fill-opacity="0.9"/>
<rect x="180.0" y="267.1" width="1.8" height="1.8" fill="#2e3a92" stroke="none" stroke-width="1" fill-opacity="0.9"/>
<rect x="116.89999999999999" y="302.90000000000003" width="1.8" height="1.8" fill="#2e3a92" stroke="none" stroke-width="1" fill-opacity="0.9"/>
<rect x="134.7" y="295.5" width="1.8" height="1.8" fill="#2e3a92" stroke="none" stroke-width="1" fill-opacity="0.9"/>
<rect x="168.79999999999998" y="275.6" width="1.8" height="1.8" fill="#2e3a92" stroke="none" stroke-width="1" fill-opacity="0.9"/>
<rect x="207.6" y="251.79999999999998" width="1.8" height="1.8" fill="#2e3a92" stroke="none" stroke-width="1" fill-opacity="0.9"/>
<rect x="192.7" y="274.6" width="1.8" height="1.8" fill="#2e3a92" stroke="none" stroke-width="1" fill-opacity="0.9"/>
<rect x="101.8" y="312.8" width="1.8" height="1.8" fill="#2e3a92" stroke="none" stroke-width="1" fill-opacity="0.9"/>
<rect x="169.1" y="285.6" width="1.8" height="1.8" fill="#2e3a92" stroke="none" stroke-width="1" fill-opacity="0.9"/>
<rect x="138.6" y="302.6" width="1.8" height="1.8" fill="#2e3a92" stroke="none" stroke-width="1" fill-opacity="0.9"/>
<rect x="173.1" y="270.1" width="1.8" height="1.8" fill="#2e3a92" stroke="none" stroke-width="1" fill-opacity="0.9"/>
<rect x="154.79999999999998" y="276.20000000000005" width="1.8" height="1.8" fill="#2e3a92" stroke="none" stroke-width="1" fill-opacity="0.9"/>
<rect x="209.79999999999998" y="251.1" width="1.8" height="1.8" fill="#2e3a92" stroke="none" stroke-width="1" fill-opacity="0.9"/>
<rect x="158.6" y="291.6" width="1.8" height="1.8" fill="#2e3a92" stroke="none" stroke-width="1" fill-opacity="0.9"/>
<rect x="173.9" y="269.70000000000005" width="1.8" height="1.8" fill="#2e3a92" stroke="none" stroke-width="1" fill-opacity="0.9"/>
<rect x="230.7" y="241.6" width="1.8" height="1.8" fill="#2e3a92" stroke="none" stroke-width="1" fill-opacity="0.9"/>
<rect x="167.5" y="270.6" width="1.8" height="1.8" fill="#2e3a92" stroke="none" stroke-width="1" fill-opacity="0.9"/>
<rect x="129.4" y="297.40000000000003" width="1.8" height="1.8" fill="#2e3a92" stroke="none" stroke-width="1" fill-opacity="0.9"/>
<rect x="213.1" y="264.8" width="1.8" height="1.8" fill="#2e3a92" stroke="none" stroke-width="1" fill-opacity="0.9"/>
<rect x="138.9" y="291.0" width="1.8" height="1.8" fill="#2e3a92" stroke="none" stroke-width="1" fill-opacity="0.9"/>
<rect x="147.29999999999998" y="290.70000000000005" width="1.8" height="1.8" fill="#2e3a92" stroke="none" stroke-width="1" fill-opacity="0.9"/>
<rect x="119.3" y="296.8" width="1.8" height="1.8" fill="#2e3a92" stroke="none" stroke-width="1" fill-opacity="0.9"/>
<rect x="205.0" y="257.20000000000005" width="1.8" height="1.8" fill="#2e3a92" stroke="none" stroke-width="1" fill-opacity="0.9"/>
<rect x="165.0" y="275.6" width="1.8" height="1.8" fill="#2e3a92" stroke="none" stroke-width="1" fill-opacity="0.9"/>
<rect x="129.9" y="305.0" width="1.8" height="1.8" fill="#2e3a92" stroke="none" stroke-width="1" fill-opacity="0.9"/>
<rect x="228.6" y="255.29999999999998" width="1.8" height="1.8" fill="#2e3a92" stroke="none" stroke-width="1" fill-opacity="0.9"/>
<rect x="209.29999999999998" y="259.6" width="1.8" height="1.8" fill="#2e3a92" stroke="none" stroke-width="1" fill-opacity="0.9"/>
<rect x="148.79999999999998" y="279.3" width="1.8" height="1.8" fill="#2e3a92" stroke="none" stroke-width="1" fill-opacity="0.9"/>
<rect x="243.79999999999998" y="245.79999999999998" width="1.8" height="1.8" fill="#2e3a92" stroke="none" stroke-width="1" fill-opacity="0.9"/>
<rect x="180.9" y="266.1" width="1.8" height="1.8" fill="#2e3a92" stroke="none" stroke-width="1" fill-opacity="0.9"/>
<rect x="138.4" y="286.8" width="1.8" height="1.8" fill="#2e3a92" stroke="none" stroke-width="1" fill-opacity="0.9"/>
<rect x="166.1" y="276.3" width="1.8" height="1.8" fill="#2e3a92" stroke="none" stroke-width="1" fill-opacity="0.9"/>
<rect x="115.1" y="300.3" width="1.8" height="1.8" fill="#2e3a92" stroke="none" stroke-width="1" fill-opacity="0.9"/>
<rect x="165.5" y="280.5" width="1.8" height="1.8" fill="#2e3a92" stroke="none" stroke-width="1" fill-opacity="0.9"/>
<rect x="189.0" y="265.1" width="1.8" height="1.8" fill="#2e3a92" stroke="none" stroke-width="1" fill-opacity="0.9"/>
<rect x="244.2" y="242.1" width="1.8" height="1.8" fill="#2e3a92" stroke="none" stroke-width="1" fill-opacity="0.9"/>
<rect x="114.3" y="304.40000000000003" width="1.8" height="1.8" fill="#2e3a92" stroke="none" stroke-width="1" fill-opacity="0.9"/>
<rect x="153.1" y="281.70000000000005" width="1.8" height="1.8" fill="#2e3a92" stroke="none" stroke-width="1" fill-opacity="0.9"/>
<rect x="145.29999999999998" y="280.1" width="1.8" height="1.8" fill="#2e3a92" stroke="none" stroke-width="1" fill-opacity="0.9"/>
<rect x="234.0" y="240.1" width="1.8" height="1.8" fill="#2e3a92" stroke="none" stroke-width="1" fill-opacity="0.9"/>
<rect x="110.6" y="299.0" width="1.8" height="1.8" fill="#2e3a92" stroke="none" stroke-width="1" fill-opacity="0.9"/>
<rect x="146.7" y="279.8" width="1.8" height="1.8" fill="#2e3a92" stroke="none" stroke-width="1" fill-opacity="0.9"/>
<rect x="142.1" y="288.1" width="1.8" height="1.8" fill="#2e3a92" stroke="none" stroke-width="1" fill-opacity="0.9"/>
<rect x="106.69999999999999" y="306.70000000000005" width="1.8" height="1.8" fill="#2e3a92" stroke="none" stroke-width="1" fill-opacity="0.9"/>
<rect x="118.39999999999999" y="294.40000000000003" width="1.8" height="1.8" fill="#2e3a92" stroke="none" stroke-width="1" fill-opacity="0.9"/>
<rect x="132.7" y="298.5" width="1.8" height="1.8" fill="#2e3a92" stroke="none" stroke-width="1" fill-opacity="0.9"/>
<rect x="164.6" y="275.20000000000005" width="1.8" height="1.8" fill="#2e3a92" stroke="none" stroke-width="1" fill-opacity="0.9"/>
<rect x="126.39999999999999" y="295.5" width="1.8" height="1.8" fill="#2e3a92" stroke="none" stroke-width="1" fill-opacity="0.9"/>
<rect x="272.40000000000003" y="220.9" width="1.8" height="1.8" fill="#2e3a92" stroke="none" stroke-width="1" fill-opacity="0.9"/>
<rect x="271.6" y="226.2" width="1.8" height="1.8" fill="#2e3a92" stroke="none" stroke-width="1" fill-opacity="0.9"/>
<rect x="148.1" y="289.70000000000005" width="1.8" height="1.8" fill="#2e3a92" stroke="none" stroke-width="1" fill-opacity="0.9"/>
<rect x="179.7" y="270.3" width="1.8" height="1.8" fill="#2e3a92" stroke="none" stroke-width="1" fill-opacity="0.9"/>
<rect x="290.3" y="223.9" width="1.8" height="1.8" fill="#2e3a92" stroke="none" stroke-width="1" fill-opacity="0.9"/>
<rect x="200.1" y="267.8" width="1.8" height="1.8" fill="#2e3a92" stroke="none" stroke-width="1" fill-opacity="0.9"/>
<rect x="182.6" y="268.90000000000003" width="1.8" height="1.8" fill="#2e3a92" stroke="none" stroke-width="1" fill-opacity="0.9"/>
<rect x="123.3" y="310.3" width="1.8" height="1.8" fill="#2e3a92" stroke="none" stroke-width="1" fill-opacity="0.9"/>
<rect x="122.6" y="293.20000000000005" width="1.8" height="1.8" fill="#2e3a92" stroke="none" stroke-width="1" fill-opacity="0.9"/>
<rect x="193.4" y="257.90000000000003" width="1.8" height="1.8" fill="#2e3a92" stroke="none" stroke-width="1" fill-opacity="0.9"/>
<rect x="129.1" y="291.70000000000005" width="1.8" height="1.8" fill="#2e3a92" stroke="none" stroke-width="1" fill-opacity="0.9"/>
<rect x="178.9" y="268.1" width="1.8" height="1.8" fill="#2e3a92" stroke="none" stroke-width="1" fill-opacity="0.9"/>
<rect x="180.79999999999998" y="275.40000000000003" width="1.8" height="1.8" fill="#2e3a92" stroke="none" stroke-width="1" fill-opacity="0.9"/>
<rect x="147.7" y="281.5" width="1.8" height="1.8" fill="#2e3a92" stroke="none" stroke-width="1" fill-opacity="0.9"/>
<rect x="158.5" y="275.40000000000003" width="1.8" height="1.8" fill="#2e3a92" stroke="none" stroke-width="1" fill-opacity="0.9"/>
<rect x="163.79999999999998" y="275.3" width="1.8" height="1.8" fill="#2e3a92" stroke="none" stroke-width="1" fill-opacity="0.9"/>
<rect x="229.5" y="245.7" width="1.8" height="1.8" fill="#2e3a92" stroke="none" stroke-width="1" fill-opacity="0.9"/>
<rect x="216.2" y="248.2" width="1.8" height="1.8" fill="#2e3a92" stroke="none" stroke-width="1" fill-opacity="0.9"/>
<rect x="139.9" y="296.5" width="1.8" height="1.8" fill="#2e3a92" stroke="none" stroke-width="1" fill-opacity="0.9"/>
<rect x="143.29999999999998" y="289.70000000000005" width="1.8" height="1.8" fill="#2e3a92" stroke="none" stroke-width="1" fill-opacity="0.9"/>
<rect x="279.8" y="227.9" width="1.8" height="1.8" fill="#2e3a92" stroke="none" stroke-width="1" fill-opacity="0.9"/>
<rect x="137.7" y="300.3" width="1.8" height="1.8" fill="#2e3a92" stroke="none" stroke-width="1" fill-opacity="0.9"/>
<rect x="156.5" y="281.5" width="1.8" height="1.8" fill="#2e3a92" stroke="none" stroke-width="1" fill-opacity="0.9"/>
<rect x="163.9" y="291.20000000000005" width="1.8" height="1.8" fill="#2e3a92" stroke="none" stroke-width="1" fill-opacity="0.9"/>
<rect x="156.7" y="283.1" width="1.8" height="1.8" fill="#2e3a92" stroke="none" stroke-width="1" fill-opacity="0.9"/>
<rect x="180.6" y="263.40000000000003" width="1.8" height="1.8" fill="#2e3a92" stroke="none" stroke-width="1" fill-opacity="0.9"/>
<rect x="131.29999999999998" y="305.6" width="1.8" height="1.8" fill="#2e3a92" stroke="none" stroke-width="1" fill-opacity="0.9"/>
<rect x="161.7" y="272.1" width="1.8" height="1.8" fill="#2e3a92" stroke="none" stroke-width="1" fill-opacity="0.9"/>
<rect x="181.6" y="274.1" width="1.8" height="1.8" fill="#2e3a92" stroke="none" stroke-width="1" fill-opacity="0.9"/>
<rect x="178.1" y="267.6" width="1.8" height="1.8" fill="#2e3a92" stroke="none" stroke-width="1" fill-opacity="0.9"/>
<rect x="109.6" y="297.5" width="1.8" height="1.8" fill="#2e3a92" stroke="none" stroke-width="1" fill-opacity="0.9"/>
<rect x="129.79999999999998" y="304.8" width="1.8" height="1.8" fill="#2e3a92" stroke="none" stroke-width="1" fill-opacity="0.9"/>
<rect x="105.8" y="314.8" width="1.8" height="1.8" fill="#2e3a92" stroke="none" stroke-width="1" fill-opacity="0.9"/>
<rect x="138.1" y="286.3" width="1.8" height="1.8" fill="#2e3a92" stroke="none" stroke-width="1" fill-opacity="0.9"/>
<rect x="104.3" y="303.5" width="1.8" height="1.8" fill="#2e3a92" stroke="none" stroke-width="1" fill-opacity="0.9"/>
<rect x="118.39999999999999" y="303.40000000000003" width="1.8" height="1.8" fill="#2e3a92" stroke="none" stroke-width="1" fill-opacity="0.9"/>
<rect x="138.79999999999998" y="285.20000000000005" width="1.8" height="1.8" fill="#2e3a92" stroke="none" stroke-width="1" fill-opacity="0.9"/>
<rect x="255.6" y="230.5" width="1.8" height="1.8" fill="#2e3a92" stroke="none" stroke-width="1" fill-opacity="0.9"/>
<rect x="133.2" y="289.20000000000005" width="1.8" height="1.8" fill="#2e3a92" stroke="none" stroke-width="1" fill-opacity="0.9"/>
<rect x="155.1" y="290.3" width="1.8" height="1.8" fill="#2e3a92" stroke="none" stroke-width="1" fill-opacity="0.9"/>
<rect x="152.9" y="282.0" width="1.8" height="1.8" fill="#2e3a92" stroke="none" stroke-width="1" fill-opacity="0.9"/>
<rect x="130.9" y="286.40000000000003" width="1.8" height="1.8" fill="#2e3a92" stroke="none" stroke-width="1" fill-opacity="0.9"/>
<rect x="136.9" y="284.0" width="1.8" height="1.8" fill="#2e3a92" stroke="none" stroke-width="1" fill-opacity="0.9"/>
<rect x="165.9" y="275.90000000000003" width="1.8" height="1.8" fill="#2e3a92" stroke="none" stroke-width="1" fill-opacity="0.9"/>
<rect x="219.29999999999998" y="247.5" width="1.8" height="1.8" fill="#2e3a92" stroke="none" stroke-width="1" fill-opacity="0.9"/>
<rect x="298.6" y="221.1" width="1.8" height="1.8" fill="#2e3a92" stroke="none" stroke-width="1" fill-opacity="0.9"/>
<rect x="236.0" y="255.29999999999998" width="1.8" height="1.8" fill="#2e3a92" stroke="none" stroke-width="1" fill-opacity="0.9"/>
<rect x="196.1" y="259.3" width="1.8" height="1.8" fill="#2e3a92" stroke="none" stroke-width="1" fill-opacity="0.9"/>
<rect x="115.89999999999999" y="294.70000000000005" width="1.8" height="1.8" fill="#2e3a92" stroke="none" stroke-width="1" fill-opacity="0.9"/>
<rect x="170.2" y="275.90000000000003" width="1.8" height="1.8" fill="#2e3a92" stroke="none" stroke-width="1" fill-opacity="0.9"/>
<rect x="251.79999999999998" y="247.7" width="1.8" height="1.8" fill="#2e3a92" stroke="none" stroke-width="1" fill-opacity="0.9"/>
<line x1="16.6" y1="315.4" x2="347" y2="161.7" stroke="#e0242b" stroke-width="1.6" />
<line x1="16.6" y1="291.4" x2="347" y2="137.7" stroke="#e0242b" stroke-width="0.8" />
<line x1="16.6" y1="339.4" x2="347" y2="185.7" stroke="#e0242b" stroke-width="0.8" />
</g>
<rect x="21.6" y="167" width="320.4" height="156.2" fill="none" stroke="#8a8a8a" stroke-width="1" />
<text x="20.1" y="299.2" font-size="5.6" fill="#444" text-anchor="end">10<tspan dy="-2" font-size="3.5">1</tspan></text>
<text x="56.4" y="329.8" font-size="5.6" fill="#444">10<tspan dy="-2" font-size="3.5">1</tspan></text>
<text x="20.1" y="249.2" font-size="5.6" fill="#444" text-anchor="end">10<tspan dy="-2" font-size="3.5">2</tspan></text>
<text x="163.0" y="329.8" font-size="5.6" fill="#444">10<tspan dy="-2" font-size="3.5">2</tspan></text>
<text x="20.1" y="199.2" font-size="5.6" fill="#444" text-anchor="end">10<tspan dy="-2" font-size="3.5">3</tspan></text>
<text x="269.6" y="329.8" font-size="5.6" fill="#444">10<tspan dy="-2" font-size="3.5">3</tspan></text>
<line x1="21.6" y1="317.1" x2="23.1" y2="317.1" stroke="#777" stroke-width="0.6" />
<line x1="26.9" y1="323.2" x2="26.9" y2="321.7" stroke="#777" stroke-width="0.6" />
<line x1="21.6" y1="312.3" x2="23.1" y2="312.3" stroke="#777" stroke-width="0.6" />
<line x1="35.4" y1="323.2" x2="35.4" y2="321.7" stroke="#777" stroke-width="0.6" />
<line x1="21.6" y1="308.3" x2="23.1" y2="308.3" stroke="#777" stroke-width="0.6" />
<line x1="42.5" y1="323.2" x2="42.5" y2="321.7" stroke="#777" stroke-width="0.6" />
<line x1="21.6" y1="304.9" x2="23.1" y2="304.9" stroke="#777" stroke-width="0.6" />
<line x1="48.7" y1="323.2" x2="48.7" y2="321.7" stroke="#777" stroke-width="0.6" />
<line x1="21.6" y1="302.0" x2="23.1" y2="302.0" stroke="#777" stroke-width="0.6" />
<line x1="54.1" y1="323.2" x2="54.1" y2="321.7" stroke="#777" stroke-width="0.6" />
<line x1="21.6" y1="299.5" x2="23.1" y2="299.5" stroke="#777" stroke-width="0.6" />
<line x1="59.0" y1="323.2" x2="59.0" y2="320.2" stroke="#777" stroke-width="0.6" />
<line x1="21.6" y1="297.2" x2="24.6" y2="297.2" stroke="#777" stroke-width="0.6" />
<line x1="91.1" y1="323.2" x2="91.1" y2="321.7" stroke="#777" stroke-width="0.6" />
<line x1="21.6" y1="282.1" x2="23.1" y2="282.1" stroke="#777" stroke-width="0.6" />
<line x1="109.9" y1="323.2" x2="109.9" y2="321.7" stroke="#777" stroke-width="0.6" />
<line x1="21.6" y1="273.3" x2="23.1" y2="273.3" stroke="#777" stroke-width="0.6" />
<line x1="123.2" y1="323.2" x2="123.2" y2="321.7" stroke="#777" stroke-width="0.6" />
<line x1="21.6" y1="267.1" x2="23.1" y2="267.1" stroke="#777" stroke-width="0.6" />
<line x1="133.5" y1="323.2" x2="133.5" y2="321.7" stroke="#777" stroke-width="0.6" />
<line x1="21.6" y1="262.3" x2="23.1" y2="262.3" stroke="#777" stroke-width="0.6" />
<line x1="142.0" y1="323.2" x2="142.0" y2="321.7" stroke="#777" stroke-width="0.6" />
<line x1="21.6" y1="258.3" x2="23.1" y2="258.3" stroke="#777" stroke-width="0.6" />
<line x1="149.1" y1="323.2" x2="149.1" y2="321.7" stroke="#777" stroke-width="0.6" />
<line x1="21.6" y1="254.9" x2="23.1" y2="254.9" stroke="#777" stroke-width="0.6" />
<line x1="155.3" y1="323.2" x2="155.3" y2="321.7" stroke="#777" stroke-width="0.6" />
<line x1="21.6" y1="252.0" x2="23.1" y2="252.0" stroke="#777" stroke-width="0.6" />
<line x1="160.7" y1="323.2" x2="160.7" y2="321.7" stroke="#777" stroke-width="0.6" />
<line x1="21.6" y1="249.5" x2="23.1" y2="249.5" stroke="#777" stroke-width="0.6" />
<line x1="165.6" y1="323.2" x2="165.6" y2="320.2" stroke="#777" stroke-width="0.6" />
<line x1="21.6" y1="247.2" x2="24.6" y2="247.2" stroke="#777" stroke-width="0.6" />
<line x1="197.7" y1="323.2" x2="197.7" y2="321.7" stroke="#777" stroke-width="0.6" />
<line x1="21.6" y1="232.1" x2="23.1" y2="232.1" stroke="#777" stroke-width="0.6" />
<line x1="216.5" y1="323.2" x2="216.5" y2="321.7" stroke="#777" stroke-width="0.6" />
<line x1="21.6" y1="223.3" x2="23.1" y2="223.3" stroke="#777" stroke-width="0.6" />
<line x1="229.8" y1="323.2" x2="229.8" y2="321.7" stroke="#777" stroke-width="0.6" />
<line x1="21.6" y1="217.1" x2="23.1" y2="217.1" stroke="#777" stroke-width="0.6" />
<line x1="240.1" y1="323.2" x2="240.1" y2="321.7" stroke="#777" stroke-width="0.6" />
<line x1="21.6" y1="212.3" x2="23.1" y2="212.3" stroke="#777" stroke-width="0.6" />
<line x1="248.6" y1="323.2" x2="248.6" y2="321.7" stroke="#777" stroke-width="0.6" />
<line x1="21.6" y1="208.3" x2="23.1" y2="208.3" stroke="#777" stroke-width="0.6" />
<line x1="255.7" y1="323.2" x2="255.7" y2="321.7" stroke="#777" stroke-width="0.6" />
<line x1="21.6" y1="204.9" x2="23.1" y2="204.9" stroke="#777" stroke-width="0.6" />
<line x1="261.9" y1="323.2" x2="261.9" y2="321.7" stroke="#777" stroke-width="0.6" />
<line x1="21.6" y1="202.0" x2="23.1" y2="202.0" stroke="#777" stroke-width="0.6" />
<line x1="267.3" y1="323.2" x2="267.3" y2="321.7" stroke="#777" stroke-width="0.6" />
<line x1="21.6" y1="199.5" x2="23.1" y2="199.5" stroke="#777" stroke-width="0.6" />
<line x1="272.2" y1="323.2" x2="272.2" y2="320.2" stroke="#777" stroke-width="0.6" />
<line x1="21.6" y1="197.2" x2="24.6" y2="197.2" stroke="#777" stroke-width="0.6" />
<line x1="304.3" y1="323.2" x2="304.3" y2="321.7" stroke="#777" stroke-width="0.6" />
<line x1="21.6" y1="182.1" x2="23.1" y2="182.1" stroke="#777" stroke-width="0.6" />
<line x1="323.1" y1="323.2" x2="323.1" y2="321.7" stroke="#777" stroke-width="0.6" />
<line x1="21.6" y1="173.3" x2="23.1" y2="173.3" stroke="#777" stroke-width="0.6" />
<line x1="336.4" y1="323.2" x2="336.4" y2="321.7" stroke="#777" stroke-width="0.6" />
<line x1="21.6" y1="167.1" x2="23.1" y2="167.1" stroke="#777" stroke-width="0.6" />
<line x1="72" y1="360.8" x2="72" y2="515" stroke="#d8d8d8" stroke-width="0.8" />
<line x1="21.5" y1="493" x2="339.4" y2="493" stroke="#d8d8d8" stroke-width="0.8" />
<line x1="176" y1="360.8" x2="176" y2="515" stroke="#d8d8d8" stroke-width="0.8" />
<line x1="21.5" y1="442" x2="339.4" y2="442" stroke="#d8d8d8" stroke-width="0.8" />
<line x1="280" y1="360.8" x2="280" y2="515" stroke="#d8d8d8" stroke-width="0.8" />
<line x1="21.5" y1="391" x2="339.4" y2="391" stroke="#d8d8d8" stroke-width="0.8" />
<clipPath id="cE"><rect x="21.5" y="360.8" width="317.9" height="154.2"/></clipPath>
<g clip-path="url(#cE)">
<path d="M306 368h1m1 1h1m0 1h1m-4 1h1m1 1h1m2 0h1m-16 1h1m6 0h1m5 0h1m-6 1h1m4 0h1m1 0h1m-19 1h1m3 0h1m10 0h1m-19 1h1m5 0h1m4 0h1m0 0h1m3 0h1m2 0h1m2 0h1m-18 1h1m3 0h1m3 0h1m-14 1h1m0 0h1m4 0h1m2 0h1m3 0h1m0 0h1m2 0h1m0 0h1m0 0h1m-17 1h1m2 0h1m1 0h1m5 0h1m0 0h1m1 0h1m0 0h1m-17 1h1m1 0h1m0 0h1m1 0h1m1 0h1m5 0h1m0 0h1m-28 1h1m11 0h1m2 0h1m5 0h1m0 0h1m3 0h1m-22 1h1m5 0h1m9 0h1m3 0h1m0 0h1m2 0h1m2 0h1m-28 1h1m1 0h1m2 0h1m3 0h1m0 0h1m7 0h1m0 0h1m0 0h1m1 0h1m1 0h1m-44 1h1m11 0h1m2 0h1m0 0h1m1 0h1m0 0h1m0 0h1m1 0h1m3 0h1m0 0h1m0 0h1m1 0h1m2 0h1m4 0h1m0 0h1m0 0h1m-43 1h1m12 0h1m1 0h1m4 0h1m4 0h1m0 0h1m3 0h1m0 0h1m0 0h1m4 0h1m-25 1h1m5 0h1m3 0h1m0 0h1m3 0h1m0 0h1m1 0h1m0 0h1m0 0h1m5 0h1m3 0h1m-33 1h1m0 0h1m4 0h1m3 0h1m3 0h1m-18 1h1m2 0h1m1 0h1m0 0h1m3 0h1m0 0h1m1 0h1m6 0h1m3 0h1m0 0h1m4 0h1m-31 1h1m4 0h1m0 0h1m4 0h1m3 0h1m3 0h1m0 0h1m11 0h1m1 0h1m-38 1h1m0 0h1m0 0h1m0 0h1m1 0h1m1 0h1m0 0h1m6 0h1m3 0h1m1 0h1m-22 1h1m0 0h1m4 0h1m1 0h1m3 0h1m2 0h1m2 0h1m1 0h1m0 0h1m0 0h1m0 0h1m3 0h1m2 0h1m3 0h1m-40 1h1m8 0h1m9 0h1m0 0h1m0 0h1m0 0h1m2 0h1m0 0h1m-28 1h1m0 0h1m6 0h1m3 0h1m1 0h1m0 0h1m0 0h1m6 0h1m0 0h1m-29 1h1m0 0h1m0 0h1m4 0h1m1 0h1m5 0h1m1 0h1m7 0h1m3 0h1m-29 1h1m0 0h1m0 0h1m0 0h1m1 0h1m2 0h1m11 0h1m0 0h1m0 0h1m1 0h1m3 0h1m-34 1h1m2 0h1m3 0h1m1 0h1m3 0h1m4 0h1m1 0h1m2 0h1m2 0h1m0 0h1m0 0h1m-31 1h1m5 0h1m5 0h1m0 0h1m0 0h1m3 0h1m3 0h1m2 0h1m1 0h1m0 0h1m0 0h1m-31 1h1m9 0h1m2 0h1m0 0h1m1 0h1m2 0h1m0 0h1m0 0h1m6 0h1m-35 1h1m1 0h1m3 0h1m3 0h1m2 0h1m0 0h1m0 0h1m5 0h1m0 0h1m3 0h1m-24 1h1m1 0h1m0 0h1m3 0h1m0 0h1m0 0h1m0 0h1m2 0h1m0 0h1m0 0h1m1 0h1m1 0h1m0 0h1m1 0h1m0 0h1m4 0h1m-37 1h1m5 0h1m1 0h1m3 0h1m1 0h1m6 0h1m0 0h1m1 0h1m4 0h1m0 0h1m4 0h1m-43 1h1m12 0h1m2 0h1m0 0h1m2 0h1m0 0h1m0 0h1m3 0h1m7 0h1m3 0h1m-31 1h1m2 0h1m0 0h1m1 0h1m0 0h1m1 0h1m1 0h1m3 0h1m0 0h1m2 0h1m-29 1h1m1 0h1m4 0h1m3 0h1m5 0h1m2 0h1m0 0h1m0 0h1m0 0h1m1 0h1m0 0h1m1 0h1m4 0h1m0 0h1m3 0h1m-49 1h1m3 0h1m4 0h1m6 0h1m1 0h1m1 0h1m0 0h1m2 0h1m0 0h1m0 0h1m1 0h1m3 0h1m0 0h1m0 0h1m1 0h1m2 0h1m0 0h1m2 0h1m1 0h1m0 0h1m-38 1h1m3 0h1m1 0h1m0 0h1m0 0h1m6 0h1m0 0h1m0 0h1m1 0h1m1 0h1m1 0h1m3 0h1m9 0h1m-46 1h1m0 0h1m1 0h1m6 0h1m1 0h1m2 0h1m1 0h1m3 0h1m2 0h1m0 0h1m1 0h1m1 0h1m1 0h1m0 0h1m0 0h1m0 0h1m1 0h1m0 0h1m2 0h1m-39 1h1m6 0h1m0 0h1m2 0h1m0 0h1m1 0h1m0 0h1m3 0h1m1 0h1m0 0h1m0 0h1m2 0h1m2 0h1m1 0h1m-47 1h1m12 0h1m1 0h1m6 0h1m1 0h1m2 0h1m0 0h1m2 0h1m1 0h1m0 0h1m0 0h1m2 0h1m4 0h1m2 0h1m2 0h1m-44 1h1m0 0h1m5 0h1m2 0h1m0 0h1m2 0h1m0 0h1m2 0h1m3 0h1m2 0h1m1 0h1m0 0h1m1 0h1m0 0h1m3 0h1m3 0h1m-36 1h1m6 0h1m1 0h1m3 0h1m0 0h1m3 0h1m0 0h1m0 0h1m0 0h1m0 0h1m0 0h1m0 0h1m1 0h1m0 0h1m2 0h1m0 0h1m0 0h1m-38 1h1m0 0h1m2 0h1m3 0h1m6 0h1m0 0h1m2 0h1m0 0h1m0 0h1m0 0h1m1 0h1m3 0h1m1 0h1m8 0h1m-50 1h1m8 0h1m3 0h1m6 0h1m3 0h1m1 0h1m1 0h1m0 0h1m0 0h1m0 0h1m0 0h1m0 0h1m2 0h1m1 0h1m4 0h1m-38 1h1m1 0h1m0 0h1m1 0h1m5 0h1m1 0h1m2 0h1m0 0h1m0 0h1m0 0h1m0 0h1m1 0h1m2 0h1m0 0h1m0 0h1m1 0h1m2 0h1m-31 1h1m0 0h1m1 0h1m2 0h1m0 0h1m0 0h1m0 0h1m1 0h1m3 0h1m0 0h1m1 0h1m0 0h1m0 0h1m0 0h1m1 0h1m2 0h1m0 0h1m2 0h1m2 0h1m1 0h1m-41 1h1m12 0h1m1 0h1m0 0h1m0 0h1m3 0h1m1 0h1m0 0h1m0 0h1m2 0h1m0 0h1m0 0h1m4 0h1m8 0h1m-60 1h1m9 0h1m9 0h1m0 0h1m1 0h1m2 0h1m0 0h1m0 0h1m1 0h1m0 0h1m0 0h1m0 0h1m2 0h1m0 0h1m1 0h1m0 0h1m0 0h1m2 0h1m0 0h1m2 0h1m3 0h1m-56 1h1m2 0h1m18 0h1m3 0h1m0 0h1m0 0h1m2 0h1m0 0h1m0 0h1m1 0h1m1 0h1m0 0h1m0 0h1m0 0h1m1 0h1m1 0h1m1 0h1m1 0h1m-46 1h1m10 0h1m0 0h1m1 0h1m3 0h1m0 0h1m0 0h1m1 0h1m0 0h1m4 0h1m0 0h1m0 0h1m0 0h1m0 0h1m1 0h1m0 0h1m3 0h1m2 0h1m0 0h1m-51 1h1m12 0h1m4 0h1m1 0h1m2 0h1m4 0h1m0 0h1m0 0h1m0 0h1m1 0h1m0 0h1m1 0h1m0 0h1m1 0h1m2 0h1m1 0h1m0 0h1m1 0h1m2 0h1m-62 1h1m14 0h1m3 0h1m5 0h1m0 0h1m1 0h1m2 0h1m0 0h1m0 0h1m0 0h1m1 0h1m2 0h1m0 0h1m0 0h1m0 0h1m0 0h1m2 0h1m0 0h1m0 0h1m0 0h1m0 0h1m9 0h1m2 0h1m4 0h1m-55 1h1m16 0h1m1 0h1m0 0h1m0 0h1m0 0h1m1 0h1m2 0h1m0 0h1m0 0h1m0 0h1m0 0h1m0 0h1m0 0h1m2 0h1m4 0h1m8 0h1m-44 1h1m8 0h1m0 0h1m0 0h1m2 0h1m1 0h1m0 0h1m1 0h1m0 0h1m0 0h1m0 0h1m0 0h1m3 0h1m2 0h1m2 0h1m5 0h1m0 0h1m-60 1h1m1 0h1m4 0h1m5 0h1m4 0h1m1 0h1m4 0h1m0 0h1m0 0h1m0 0h1m0 0h1m0 0h1m0 0h1m0 0h1m0 0h1m3 0h1m0 0h1m0 0h1m1 0h1m0 0h1m0 0h1m5 0h1m-43 1h1m2 0h1m1 0h1m2 0h1m2 0h1m3 0h1m0 0h1m0 0h1m0 0h1m0 0h1m0 0h1m5 0h1m0 0h1m1 0h1m1 0h1m0 0h1m2 0h1m0 0h1m1 0h1m2 0h1m-48 1h1m4 0h1m2 0h1m4 0h1m3 0h1m0 0h1m4 0h1m0 0h1m1 0h1m1 0h1m2 0h1m0 0h1m0 0h1m0 0h1m0 0h1m2 0h1m0 0h1m0 0h1m0 0h1m0 0h1m1 0h1m7 0h1m-58 1h1m11 0h1m0 0h1m1 0h1m7 0h1m0 0h1m1 0h1m1 0h1m1 0h1m0 0h1m0 0h1m0 0h1m0 0h1m0 0h1m0 0h1m0 0h1m1 0h1m0 0h1m1 0h1m1 0h1m1 0h1m0 0h1m1 0h1m-40 1h1m1 0h1m1 0h1m0 0h1m0 0h1m0 0h1m1 0h1m1 0h1m5 0h1m2 0h1m0 0h1m0 0h1m0 0h1m0 0h1m1 0h1m0 0h1m0 0h1m0 0h1m0 0h1m0 0h1m1 0h1m2 0h1m-31 1h1m0 0h1m2 0h1m1 0h1m1 0h1m0 0h1m0 0h1m0 0h1m0 0h1m0 0h1m1 0h1m0 0h1m0 0h1m1 0h1m1 0h1m0 0h1m1 0h1m1 0h1m0 0h1m3 0h1m0 0h1m6 0h1m-53 1h1m2 0h1m1 0h1m2 0h1m2 0h1m1 0h1m1 0h1m0 0h1m0 0h1m0 0h1m0 0h1m2 0h1m0 0h1m0 0h1m2 0h1m0 0h1m0 0h1m0 0h1m2 0h1m0 0h1m0 0h1m0 0h1m0 0h1m0 0h1m4 0h1m0 0h1m-53 1h1m1 0h1m2 0h1m9 0h1m0 0h1m1 0h1m0 0h1m0 0h1m0 0h1m0 0h1m0 0h1m3 0h1m0 0h1m0 0h1m0 0h1m1 0h1m1 0h1m0 0h1m2 0h1m2 0h1m0 0h1m0 0h1m2 0h1m0 0h1m-43 1h1m1 0h1m0 0h1m1 0h1m0 0h1m2 0h1m2 0h1m0 0h1m1 0h1m0 0h1m0 0h1m0 0h1m0 0h1m0 0h1m2 0h1m0 0h1m0 0h1m0 0h1m0 0h1m2 0h1m0 0h1m1 0h1m-57 1h1m7 0h1m10 0h1m5 0h1m0 0h1m2 0h1m0 0h1m0 0h1m0 0h1m1 0h1m0 0h1m0 0h1m0 0h1m1 0h1m0 0h1m0 0h1m0 0h1m0 0h1m0 0h1m0 0h1m0 0h1m0 0h1m0 0h1m0 0h1m0 0h1m0 0h1m1 0h1m3 0h1m2 0h1m12 0h1m-64 1h1m2 0h1m5 0h1m2 0h1m1 0h1m1 0h1m0 0h1m0 0h1m0 0h1m0 0h1m0 0h1m0 0h1m1 0h1m0 0h1m0 0h1m0 0h1m0 0h1m1 0h1m0 0h1m0 0h1m0 0h1m0 0h1m1 0h1m0 0h1m0 0h1m1 0h1m0 0h1m0 0h1m0 0h1m0 0h1m4 0h1m0 0h1m-46 1h1m1 0h1m3 0h1m4 0h1m0 0h1m0 0h1m0 0h1m0 0h1m0 0h1m0 0h1m0 0h1m1 0h1m0 0h1m0 0h1m0 0h1m0 0h1m0 0h1m0 0h1m0 0h1m0 0h1m0 0h1m0 0h1m1 0h1m2 0h1m0 0h1m2 0h1m0 0h1m4 0h1m1 0h1m-45 1h1m0 0h1m0 0h1m1 0h1m0 0h1m4 0h1m1 0h1m1 0h1m0 0h1m1 0h1m0 0h1m0 0h1m0 0h1m0 0h1m0 0h1m0 0h1m0 0h1m0 0h1m0 0h1m0 0h1m0 0h1m0 0h1m0 0h1m2 0h1m5 0h1m-51 1h1m0 0h1m1 0h1m1 0h1m1 0h1m0 0h1m0 0h1m0 0h1m4 0h1m1 0h1m2 0h1m0 0h1m2 0h1m0 0h1m1 0h1m0 0h1m0 0h1m0 0h1m0 0h1m0 0h1m1 0h1m2 0h1m0 0h1m1 0h1m0 0h1m0 0h1m0 0h1m1 0h1m1 0h1m1 0h1m-70 1h1m23 0h1m1 0h1m2 0h1m3 0h1m0 0h1m1 0h1m1 0h1m0 0h1m2 0h1m0 0h1m0 0h1m0 0h1m0 0h1m0 0h1m2 0h1m0 0h1m1 0h1m1 0h1m1 0h1m0 0h1m1 0h1m2 0h1m1 0h1m-54 1h1m8 0h1m3 0h1m1 0h1m0 0h1m1 0h1m0 0h1m0 0h1m1 0h1m0 0h1m0 0h1m0 0h1m0 0h1m0 0h1m0 0h1m0 0h1m2 0h1m0 0h1m0 0h1m0 0h1m0 0h1m0 0h1m1 0h1m0 0h1m1 0h1m1 0h1m0 0h1m0 0h1m3 0h1m4 0h1m4 0h1m-81 1h1m9 0h1m15 0h1m0 0h1m0 0h1m4 0h1m0 0h1m0 0h1m0 0h1m0 0h1m0 0h1m0 0h1m2 0h1m0 0h1m0 0h1m0 0h1m1 0h1m0 0h1m1 0h1m0 0h1m0 0h1m0 0h1m0 0h1m0 0h1m0 0h1m1 0h1m1 0h1m1 0h1m2 0h1m2 0h1m2 0h1m0 0h1m-53 1h1m11 0h1m1 0h1m1 0h1m0 0h1m1 0h1m0 0h1m2 0h1m1 0h1m0 0h1m0 0h1m0 0h1m1 0h1m2 0h1m0 0h1m0 0h1m0 0h1m1 0h1m0 0h1m0 0h1m0 0h1m0 0h1m0 0h1m0 0h1m0 0h1m0 0h1m2 0h1m-63 1h1m9 0h1m2 0h1m3 0h1m1 0h1m4 0h1m0 0h1m0 0h1m0 0h1m1 0h1m0 0h1m0 0h1m1 0h1m0 0h1m0 0h1m0 0h1m0 0h1m0 0h1m0 0h1m0 0h1m1 0h1m0 0h1m1 0h1m0 0h1m0 0h1m1 0h1m0 0h1m0 0h1m5 0h1m3 0h1m-66 1h1m14 0h1m2 0h1m2 0h1m0 0h1m2 0h1m1 0h1m1 0h1m3 0h1m0 0h1m1 0h1m0 0h1m2 0h1m0 0h1m1 0h1m1 0h1m0 0h1m0 0h1m0 0h1m0 0h1m1 0h1m0 0h1m1 0h1m1 0h1m3 0h1m1 0h1m1 0h1m-71 1h1m6 0h1m13 0h1m0 0h1m2 0h1m1 0h1m5 0h1m1 0h1m0 0h1m0 0h1m0 0h1m1 0h1m0 0h1m0 0h1m0 0h1m0 0h1m0 0h1m0 0h1m0 0h1m0 0h1m0 0h1m0 0h1m3 0h1m0 0h1m5 0h1m2 0h1m3 0h1m3 0h1m-62 1h1m3 0h1m1 0h1m2 0h1m2 0h1m1 0h1m0 0h1m0 0h1m3 0h1m2 0h1m0 0h1m1 0h1m0 0h1m0 0h1m0 0h1m0 0h1m0 0h1m0 0h1m0 0h1m1 0h1m1 0h1m0 0h1m0 0h1m0 0h1m0 0h1m0 0h1m5 0h1m5 0h1m-58 1h1m1 0h1m5 0h1m1 0h1m1 0h1m1 0h1m2 0h1m1 0h1m3 0h1m0 0h1m0 0h1m0 0h1m0 0h1m1 0h1m0 0h1m0 0h1m0 0h1m1 0h1m0 0h1m0 0h1m0 0h1m0 0h1m0 0h1m1 0h1m1 0h1m0 0h1m0 0h1m1 0h1m0 0h1m0 0h1m-77 1h1m17 0h1m18 0h1m4 0h1m0 0h1m0 0h1m3 0h1m0 0h1m0 0h1m1 0h1m1 0h1m0 0h1m0 0h1m1 0h1m0 0h1m0 0h1m0 0h1m1 0h1m0 0h1m0 0h1m0 0h1m1 0h1m3 0h1m1 0h1m2 0h1m2 0h1m-79 1h1m4 0h1m3 0h1m0 0h1m5 0h1m4 0h1m2 0h1m0 0h1m5 0h1m1 0h1m0 0h1m0 0h1m0 0h1m0 0h1m0 0h1m0 0h1m0 0h1m0 0h1m0 0h1m1 0h1m0 0h1m0 0h1m0 0h1m0 0h1m0 0h1m0 0h1m0 0h1m0 0h1m0 0h1m0 0h1m0 0h1m0 0h1m0 0h1m0 0h1m0 0h1m0 0h1m0 0h1m0 0h1m1 0h1m0 0h1m0 0h1m1 0h1m1 0h1m0 0h1m3 0h1m1 0h1m-57 1h1m4 0h1m6 0h1m0 0h1m0 0h1m2 0h1m1 0h1m0 0h1m0 0h1m1 0h1m0 0h1m0 0h1m1 0h1m0 0h1m0 0h1m0 0h1m0 0h1m0 0h1m0 0h1m0 0h1m0 0h1m0 0h1m0 0h1m0 0h1m0 0h1m0 0h1m0 0h1m0 0h1m0 0h1m0 0h1m1 0h1m1 0h1m1 0h1m4 0h1m-69 1h1m6 0h1m4 0h1m9 0h1m1 0h1m0 0h1m1 0h1m0 0h1m0 0h1m1 0h1m0 0h1m1 0h1m1 0h1m0 0h1m0 0h1m0 0h1m0 0h1m0 0h1m0 0h1m0 0h1m1 0h1m0 0h1m0 0h1m1 0h1m0 0h1m0 0h1m0 0h1m0 0h1m0 0h1m0 0h1m0 0h1m0 0h1m9 0h1m-75 1h1m11 0h1m4 0h1m3 0h1m1 0h1m1 0h1m1 0h1m1 0h1m0 0h1m1 0h1m0 0h1m1 0h1m0 0h1m1 0h1m0 0h1m1 0h1m0 0h1m0 0h1m1 0h1m0 0h1m0 0h1m0 0h1m0 0h1m0 0h1m0 0h1m0 0h1m0 0h1m0 0h1m0 0h1m0 0h1m0 0h1m0 0h1m2 0h1m0 0h1m1 0h1m0 0h1m2 0h1m2 0h1m3 0h1m-85 1h1m18 0h1m8 0h1m0 0h1m1 0h1m0 0h1m4 0h1m0 0h1m0 0h1m0 0h1m1 0h1m0 0h1m0 0h1m0 0h1m0 0h1m0 0h1m1 0h1m0 0h1m0 0h1m0 0h1m0 0h1m0 0h1m0 0h1m0 0h1m0 0h1m0 0h1m0 0h1m0 0h1m0 0h1m0 0h1m0 0h1m0 0h1m1 0h1m0 0h1m0 0h1m0 0h1m1 0h1m0 0h1m3 0h1m-79 1h1m12 0h1m2 0h1m6 0h1m2 0h1m1 0h1m2 0h1m2 0h1m1 0h1m2 0h1m0 0h1m2 0h1m1 0h1m0 0h1m0 0h1m0 0h1m0 0h1m0 0h1m1 0h1m1 0h1m0 0h1m0 0h1m0 0h1m0 0h1m0 0h1m0 0h1m0 0h1m0 0h1m0 0h1m5 0h1m2 0h1m0 0h1m0 0h1m2 0h1m1 0h1m1 0h1m1 0h1m2 0h1m-76 1h1m2 0h1m6 0h1m2 0h1m2 0h1m0 0h1m0 0h1m4 0h1m0 0h1m3 0h1m0 0h1m0 0h1m1 0h1m0 0h1m0 0h1m0 0h1m0 0h1m0 0h1m1 0h1m0 0h1m0 0h1m0 0h1m0 0h1m0 0h1m0 0h1m1 0h1m0 0h1m0 0h1m0 0h1m0 0h1m0 0h1m0 0h1m0 0h1m2 0h1m3 0h1m1 0h1m-95 1h1m26 0h1m11 0h1m6 0h1m0 0h1m1 0h1m1 0h1m0 0h1m0 0h1m1 0h1m0 0h1m0 0h1m0 0h1m1 0h1m0 0h1m1 0h1m0 0h1m0 0h1m0 0h1m0 0h1m0 0h1m0 0h1m0 0h1m0 0h1m0 0h1m0 0h1m2 0h1m0 0h1m0 0h1m0 0h1m0 0h1m1 0h1m0 0h1m0 0h1m0 0h1m0 0h1m0 0h1m1 0h1m7 0h1m0 0h1m-97 1h1m13 0h1m16 0h1m0 0h1m3 0h1m3 0h1m0 0h1m0 0h1m1 0h1m1 0h1m0 0h1m1 0h1m0 0h1m1 0h1m1 0h1m0 0h1m0 0h1m0 0h1m0 0h1m0 0h1m0 0h1m0 0h1m0 0h1m0 0h1m0 0h1m0 0h1m0 0h1m0 0h1m0 0h1m0 0h1m0 0h1m0 0h1m1 0h1m1 0h1m0 0h1m0 0h1m0 0h1m0 0h1m0 0h1m0 0h1m1 0h1m1 0h1m-87 1h1m16 0h1m5 0h1m0 0h1m11 0h1m4 0h1m2 0h1m0 0h1m0 0h1m0 0h1m0 0h1m1 0h1m0 0h1m0 0h1m0 0h1m0 0h1m0 0h1m0 0h1m0 0h1m0 0h1m0 0h1m0 0h1m0 0h1m0 0h1m2 0h1m0 0h1m0 0h1m0 0h1m0 0h1m0 0h1m0 0h1m1 0h1m0 0h1m0 0h1m0 0h1m1 0h1m0 0h1m0 0h1m0 0h1m1 0h1m24 0h1m-98 1h1m24 0h1m4 0h1m0 0h1m1 0h1m0 0h1m0 0h1m0 0h1m0 0h1m1 0h1m1 0h1m0 0h1m0 0h1m0 0h1m0 0h1m0 0h1m0 0h1m0 0h1m0 0h1m0 0h1m0 0h1m0 0h1m0 0h1m0 0h1m0 0h1m0 0h1m1 0h1m1 0h1m0 0h1m0 0h1m2 0h1m0 0h1m0 0h1m0 0h1m0 0h1m0 0h1m0 0h1m1 0h1m1 0h1m2 0h1m1 0h1m-82 1h1m14 0h1m0 0h1m4 0h1m2 0h1m4 0h1m1 0h1m2 0h1m0 0h1m1 0h1m0 0h1m0 0h1m1 0h1m0 0h1m0 0h1m0 0h1m0 0h1m0 0h1m1 0h1m0 0h1m0 0h1m0 0h1m1 0h1m0 0h1m0 0h1m0 0h1m0 0h1m0 0h1m1 0h1m0 0h1m0 0h1m2 0h1m0 0h1m0 0h1m0 0h1m2 0h1m0 0h1m4 0h1m5 0h1m-87 1h1m11 0h1m1 0h1m0 0h1m6 0h1m0 0h1m1 0h1m1 0h1m3 0h1m0 0h1m0 0h1m0 0h1m0 0h1m0 0h1m0 0h1m0 0h1m0 0h1m0 0h1m0 0h1m0 0h1m0 0h1m0 0h1m0 0h1m0 0h1m0 0h1m0 0h1m0 0h1m0 0h1m0 0h1m0 0h1m0 0h1m0 0h1m0 0h1m0 0h1m0 0h1m0 0h1m0 0h1m0 0h1m0 0h1m0 0h1m1 0h1m0 0h1m1 0h1m1 0h1m4 0h1m1 0h1m-82 1h1m4 0h1m33 0h1m1 0h1m0 0h1m0 0h1m0 0h1m0 0h1m0 0h1m0 0h1m0 0h1m0 0h1m0 0h1m0 0h1m0 0h1m1 0h1m0 0h1m0 0h1m0 0h1m0 0h1m1 0h1m0 0h1m0 0h1m0 0h1m0 0h1m0 0h1m0 0h1m2 0h1m7 0h1m-64 1h1m1 0h1m2 0h1m3 0h1m0 0h1m3 0h1m0 0h1m0 0h1m1 0h1m1 0h1m0 0h1m1 0h1m0 0h1m0 0h1m0 0h1m0 0h1m0 0h1m0 0h1m0 0h1m0 0h1m0 0h1m0 0h1m0 0h1m0 0h1m1 0h1m0 0h1m0 0h1m0 0h1m0 0h1m0 0h1m0 0h1m0 0h1m0 0h1m0 0h1m0 0h1m1 0h1m0 0h1m0 0h1m0 0h1m0 0h1m1 0h1m0 0h1m1 0h1m2 0h1m6 0h1m-73 1h1m4 0h1m1 0h1m1 0h1m1 0h1m0 0h1m1 0h1m0 0h1m0 0h1m0 0h1m0 0h1m0 0h1m3 0h1m0 0h1m1 0h1m0 0h1m1 0h1m0 0h1m0 0h1m0 0h1m0 0h1m0 0h1m0 0h1m0 0h1m0 0h1m0 0h1m1 0h1m0 0h1m1 0h1m0 0h1m0 0h1m0 0h1m1 0h1m0 0h1m0 0h1m0 0h1m0 0h1m1 0h1m0 0h1m7 0h1m0 0h1m2 0h1m1 0h1m7 0h1m-97 1h1m8 0h1m4 0h1m7 0h1m0 0h1m0 0h1m0 0h1m0 0h1m0 0h1m0 0h1m0 0h1m1 0h1m0 0h1m0 0h1m1 0h1m0 0h1m3 0h1m1 0h1m0 0h1m0 0h1m0 0h1m0 0h1m0 0h1m0 0h1m0 0h1m0 0h1m0 0h1m0 0h1m0 0h1m0 0h1m1 0h1m0 0h1m0 0h1m0 0h1m0 0h1m0 0h1m0 0h1m0 0h1m0 0h1m0 0h1m0 0h1m0 0h1m0 0h1m0 0h1m0 0h1m2 0h1m3 0h1m1 0h1m1 0h1m-84 1h1m4 0h1m0 0h1m2 0h1m4 0h1m2 0h1m6 0h1m7 0h1m5 0h1m0 0h1m1 0h1m1 0h1m1 0h1m0 0h1m0 0h1m0 0h1m0 0h1m0 0h1m0 0h1m0 0h1m0 0h1m0 0h1m0 0h1m0 0h1m0 0h1m0 0h1m0 0h1m0 0h1m0 0h1m0 0h1m1 0h1m0 0h1m0 0h1m1 0h1m0 0h1m0 0h1m0 0h1m1 0h1m0 0h1m1 0h1m0 0h1m0 0h1m-78 1h1m5 0h1m13 0h1m0 0h1m4 0h1m0 0h1m0 0h1m3 0h1m0 0h1m0 0h1m0 0h1m1 0h1m0 0h1m0 0h1m0 0h1m0 0h1m0 0h1m0 0h1m0 0h1m0 0h1m0 0h1m0 0h1m0 0h1m0 0h1m0 0h1m0 0h1m0 0h1m0 0h1m0 0h1m0 0h1m0 0h1m0 0h1m0 0h1m0 0h1m0 0h1m1 0h1m0 0h1m1 0h1m0 0h1m0 0h1m0 0h1m1 0h1m0 0h1m0 0h1m0 0h1m1 0h1m2 0h1m-84 1h1m1 0h1m4 0h1m11 0h1m0 0h1m0 0h1m3 0h1m1 0h1m0 0h1m2 0h1m1 0h1m0 0h1m1 0h1m0 0h1m1 0h1m1 0h1m1 0h1m0 0h1m0 0h1m0 0h1m0 0h1m0 0h1m0 0h1m0 0h1m0 0h1m0 0h1m0 0h1m0 0h1m1 0h1m0 0h1m0 0h1m0 0h1m0 0h1m0 0h1m0 0h1m0 0h1m0 0h1m0 0h1m0 0h1m0 0h1m0 0h1m0 0h1m0 0h1m0 0h1m0 0h1m1 0h1m1 0h1m1 0h1m1 0h1m0 0h1m-82 1h1m4 0h1m0 0h1m1 0h1m6 0h1m4 0h1m9 0h1m0 0h1m0 0h1m0 0h1m3 0h1m1 0h1m0 0h1m1 0h1m0 0h1m0 0h1m0 0h1m0 0h1m1 0h1m0 0h1m0 0h1m0 0h1m0 0h1m0 0h1m0 0h1m0 0h1m0 0h1m1 0h1m0 0h1m0 0h1m0 0h1m0 0h1m0 0h1m0 0h1m0 0h1m0 0h1m0 0h1m0 0h1m0 0h1m0 0h1m0 0h1m0 0h1m0 0h1m0 0h1m5 0h1m0 0h1m-80 1h1m4 0h1m2 0h1m10 0h1m3 0h1m0 0h1m0 0h1m0 0h1m1 0h1m1 0h1m0 0h1m0 0h1m2 0h1m0 0h1m0 0h1m1 0h1m0 0h1m0 0h1m0 0h1m2 0h1m0 0h1m0 0h1m0 0h1m0 0h1m0 0h1m0 0h1m0 0h1m0 0h1m0 0h1m0 0h1m0 0h1m0 0h1m0 0h1m0 0h1m0 0h1m0 0h1m0 0h1m0 0h1m0 0h1m1 0h1m0 0h1m0 0h1m3 0h1m2 0h1m2 0h1m2 0h1m-76 1h1m0 0h1m1 0h1m0 0h1m0 0h1m2 0h1m0 0h1m0 0h1m2 0h1m1 0h1m0 0h1m0 0h1m1 0h1m1 0h1m0 0h1m1 0h1m0 0h1m0 0h1m0 0h1m0 0h1m1 0h1m0 0h1m0 0h1m0 0h1m0 0h1m0 0h1m0 0h1m0 0h1m0 0h1m0 0h1m0 0h1m0 0h1m0 0h1m0 0h1m0 0h1m0 0h1m0 0h1m0 0h1m0 0h1m0 0h1m0 0h1m0 0h1m0 0h1m0 0h1m0 0h1m1 0h1m0 0h1m0 0h1m1 0h1m0 0h1m0 0h1m0 0h1m3 0h1m-66 1h1m0 0h1m0 0h1m0 0h1m4 0h1m1 0h1m0 0h1m1 0h1m1 0h1m0 0h1m0 0h1m1 0h1m0 0h1m0 0h1m0 0h1m0 0h1m1 0h1m0 0h1m0 0h1m0 0h1m0 0h1m0 0h1m1 0h1m0 0h1m0 0h1m0 0h1m0 0h1m0 0h1m0 0h1m0 0h1m0 0h1m0 0h1m0 0h1m0 0h1m0 0h1m0 0h1m0 0h1m0 0h1m0 0h1m0 0h1m0 0h1m0 0h1m0 0h1m0 0h1m0 0h1m1 0h1m0 0h1m1 0h1m1 0h1m6 0h1m-80 1h1m1 0h1m0 0h1m3 0h1m3 0h1m3 0h1m0 0h1m0 0h1m0 0h1m4 0h1m1 0h1m0 0h1m0 0h1m0 0h1m0 0h1m0 0h1m3 0h1m0 0h1m0 0h1m0 0h1m0 0h1m0 0h1m0 0h1m0 0h1m0 0h1m0 0h1m0 0h1m0 0h1m0 0h1m0 0h1m0 0h1m0 0h1m0 0h1m0 0h1m0 0h1m0 0h1m0 0h1m0 0h1m0 0h1m1 0h1m0 0h1m0 0h1m0 0h1m0 0h1m0 0h1m0 0h1m2 0h1m0 0h1m2 0h1m3 0h1m-75 1h1m3 0h1m5 0h1m0 0h1m0 0h1m0 0h1m3 0h1m2 0h1m0 0h1m0 0h1m1 0h1m0 0h1m0 0h1m0 0h1m0 0h1m1 0h1m0 0h1m0 0h1m1 0h1m0 0h1m0 0h1m0 0h1m0 0h1m0 0h1m0 0h1m0 0h1m0 0h1m0 0h1m0 0h1m0 0h1m0 0h1m0 0h1m0 0h1m2 0h1m0 0h1m0 0h1m0 0h1m0 0h1m0 0h1m1 0h1m0 0h1m0 0h1m0 0h1m0 0h1m0 0h1m0 0h1m7 0h1m2 0h1m-85 1h1m5 0h1m1 0h1m3 0h1m2 0h1m1 0h1m0 0h1m0 0h1m2 0h1m0 0h1m0 0h1m0 0h1m0 0h1m0 0h1m2 0h1m0 0h1m1 0h1m1 0h1m0 0h1m0 0h1m0 0h1m0 0h1m0 0h1m0 0h1m0 0h1m0 0h1m0 0h1m0 0h1m0 0h1m0 0h1m0 0h1m0 0h1m0 0h1m0 0h1m0 0h1m0 0h1m0 0h1m0 0h1m0 0h1m0 0h1m0 0h1m0 0h1m0 0h1m0 0h1m0 0h1m0 0h1m1 0h1m0 0h1m1 0h1m0 0h1m4 0h1m0 0h1m10 0h1m-87 1h1m3 0h1m3 0h1m4 0h1m0 0h1m0 0h1m1 0h1m3 0h1m0 0h1m4 0h1m0 0h1m0 0h1m0 0h1m0 0h1m0 0h1m0 0h1m0 0h1m0 0h1m0 0h1m2 0h1m0 0h1m0 0h1m0 0h1m1 0h1m0 0h1m0 0h1m0 0h1m0 0h1m0 0h1m0 0h1m0 0h1m0 0h1m0 0h1m0 0h1m0 0h1m0 0h1m0 0h1m0 0h1m0 0h1m0 0h1m1 0h1m0 0h1m0 0h1m0 0h1m0 0h1m0 0h1m0 0h1m0 0h1m0 0h1m0 0h1m0 0h1m4 0h1m1 0h1m1 0h1m-73 1h1m2 0h1m3 0h1m3 0h1m1 0h1m1 0h1m0 0h1m0 0h1m0 0h1m2 0h1m0 0h1m0 0h1m0 0h1m0 0h1m0 0h1m0 0h1m0 0h1m0 0h1m1 0h1m0 0h1m0 0h1m0 0h1m0 0h1m0 0h1m0 0h1m0 0h1m0 0h1m0 0h1m0 0h1m0 0h1m0 0h1m0 0h1m0 0h1m0 0h1m0 0h1m0 0h1m0 0h1m0 0h1m0 0h1m0 0h1m0 0h1m0 0h1m0 0h1m0 0h1m1 0h1m10 0h1m-71 1h1m0 0h1m2 0h1m0 0h1m0 0h1m3 0h1m3 0h1m0 0h1m0 0h1m0 0h1m0 0h1m0 0h1m0 0h1m0 0h1m0 0h1m0 0h1m0 0h1m0 0h1m0 0h1m0 0h1m0 0h1m0 0h1m0 0h1m1 0h1m0 0h1m0 0h1m0 0h1m0 0h1m0 0h1m0 0h1m0 0h1m0 0h1m0 0h1m0 0h1m0 0h1m0 0h1m0 0h1m0 0h1m0 0h1m0 0h1m0 0h1m0 0h1m0 0h1m1 0h1m0 0h1m0 0h1m3 0h1m2 0h1m7 0h1m-77 1h1m1 0h1m1 0h1m3 0h1m0 0h1m0 0h1m0 0h1m3 0h1m0 0h1m0 0h1m0 0h1m1 0h1m0 0h1m0 0h1m0 0h1m0 0h1m1 0h1m0 0h1m0 0h1m0 0h1m0 0h1m1 0h1m0 0h1m0 0h1m0 0h1m0 0h1m0 0h1m0 0h1m0 0h1m0 0h1m0 0h1m0 0h1m0 0h1m0 0h1m0 0h1m1 0h1m0 0h1m0 0h1m0 0h1m0 0h1m0 0h1m0 0h1m0 0h1m0 0h1m0 0h1m1 0h1m1 0h1m0 0h1m2 0h1m0 0h1m2 0h1m1 0h1m-65 1h1m1 0h1m0 0h1m0 0h1m1 0h1m1 0h1m0 0h1m0 0h1m1 0h1m0 0h1m0 0h1m0 0h1m1 0h1m0 0h1m0 0h1m0 0h1m1 0h1m0 0h1m0 0h1m0 0h1m0 0h1m0 0h1m0 0h1m0 0h1m0 0h1m0 0h1m0 0h1m0 0h1m0 0h1m0 0h1m0 0h1m0 0h1m0 0h1m0 0h1m0 0h1m1 0h1m0 0h1m0 0h1m0 0h1m0 0h1m0 0h1m1 0h1m1 0h1m0 0h1m0 0h1m0 0h1m0 0h1m2 0h1m0 0h1m0 0h1m2 0h1m2 0h1m-63 1h1m3 0h1m0 0h1m0 0h1m0 0h1m0 0h1m0 0h1m0 0h1m0 0h1m0 0h1m0 0h1m0 0h1m0 0h1m0 0h1m0 0h1m0 0h1m0 0h1m0 0h1m0 0h1m0 0h1m0 0h1m0 0h1m0 0h1m0 0h1m0 0h1m0 0h1m0 0h1m0 0h1m0 0h1m0 0h1m0 0h1m0 0h1m0 0h1m0 0h1m0 0h1m0 0h1m0 0h1m0 0h1m1 0h1m0 0h1m0 0h1m0 0h1m0 0h1m0 0h1m0 0h1m0 0h1m2 0h1m2 0h1m4 0h1m-71 1h1m1 0h1m2 0h1m0 0h1m0 0h1m0 0h1m0 0h1m0 0h1m0 0h1m2 0h1m0 0h1m1 0h1m0 0h1m0 0h1m0 0h1m1 0h1m0 0h1m0 0h1m0 0h1m0 0h1m0 0h1m0 0h1m0 0h1m0 0h1m0 0h1m0 0h1m0 0h1m0 0h1m0 0h1m0 0h1m0 0h1m0 0h1m0 0h1m0 0h1m0 0h1m0 0h1m0 0h1m0 0h1m0 0h1m0 0h1m0 0h1m0 0h1m0 0h1m0 0h1m1 0h1m0 0h1m0 0h1m3 0h1m5 0h1m0 0h1m-70 1h1m0 0h1m1 0h1m0 0h1m3 0h1m2 0h1m1 0h1m0 0h1m0 0h1m1 0h1m1 0h1m0 0h1m1 0h1m0 0h1m1 0h1m0 0h1m0 0h1m0 0h1m0 0h1m0 0h1m0 0h1m0 0h1m0 0h1m0 0h1m0 0h1m0 0h1m0 0h1m0 0h1m0 0h1m0 0h1m0 0h1m0 0h1m0 0h1m0 0h1m0 0h1m0 0h1m0 0h1m0 0h1m0 0h1m0 0h1m0 0h1m0 0h1m0 0h1m1 0h1m0 0h1m0 0h1m0 0h1m0 0h1m1 0h1m2 0h1m8 0h1m-72 1h1m0 0h1m1 0h1m0 0h1m2 0h1m0 0h1m0 0h1m0 0h1m0 0h1m0 0h1m0 0h1m0 0h1m0 0h1m0 0h1m0 0h1m0 0h1m0 0h1m0 0h1m0 0h1m0 0h1m0 0h1m0 0h1m0 0h1m0 0h1m0 0h1m0 0h1m0 0h1m0 0h1m0 0h1m0 0h1m0 0h1m0 0h1m0 0h1m0 0h1m0 0h1m0 0h1m0 0h1m0 0h1m0 0h1m0 0h1m0 0h1m0 0h1m0 0h1m1 0h1m1 0h1m0 0h1m2 0h1m0 0h1m0 0h1m1 0h1m9 0h1m-66 1h1m2 0h1m0 0h1m0 0h1m0 0h1m0 0h1m0 0h1m0 0h1m0 0h1m0 0h1m0 0h1m0 0h1m0 0h1m0 0h1m0 0h1m0 0h1m0 0h1m0 0h1m0 0h1m0 0h1m0 0h1m0 0h1m0 0h1m0 0h1m0 0h1m0 0h1m0 0h1m0 0h1m0 0h1m0 0h1m0 0h1m0 0h1m0 0h1m0 0h1m0 0h1m0 0h1m0 0h1m0 0h1m1 0h1m0 0h1m0 0h1m0 0h1m0 0h1m0 0h1m0 0h1m0 0h1m0 0h1m4 0h1m0 0h1m-59 1h1m0 0h1m0 0h1m1 0h1m3 0h1m0 0h1m0 0h1m0 0h1m0 0h1m1 0h1m0 0h1m0 0h1m0 0h1m0 0h1m0 0h1m0 0h1m0 0h1m0 0h1m0 0h1m0 0h1m0 0h1m0 0h1m0 0h1m0 0h1m0 0h1m0 0h1m0 0h1m0 0h1m0 0h1m0 0h1m0 0h1m0 0h1m0 0h1m0 0h1m0 0h1m0 0h1m0 0h1m1 0h1m0 0h1m1 0h1m0 0h1m0 0h1m6 0h1m0 0h1m3 0h1m-63 1h1m1 0h1m0 0h1m0 0h1m1 0h1m0 0h1m0 0h1m0 0h1m0 0h1m0 0h1m0 0h1m0 0h1m0 0h1m0 0h1m0 0h1m0 0h1m0 0h1m0 0h1m0 0h1m0 0h1m0 0h1m0 0h1m0 0h1m0 0h1m0 0h1m0 0h1m0 0h1m0 0h1m0 0h1m0 0h1m0 0h1m0 0h1m0 0h1m0 0h1m0 0h1m0 0h1m0 0h1m1 0h1m0 0h1m0 0h1m0 0h1m0 0h1m0 0h1m0 0h1m0 0h1m0 0h1m0 0h1m0 0h1m1 0h1m1 0h1m0 0h1m0 0h1m1 0h1m10 0h1m11 0h1m-83 1h1m0 0h1m0 0h1m0 0h1m1 0h1m0 0h1m0 0h1m0 0h1m0 0h1m0 0h1m0 0h1m0 0h1m0 0h1m0 0h1m0 0h1m0 0h1m0 0h1m0 0h1m0 0h1m0 0h1m0 0h1m0 0h1m0 0h1m0 0h1m0 0h1m0 0h1m0 0h1m0 0h1m0 0h1m0 0h1m0 0h1m0 0h1m0 0h1m0 0h1m0 0h1m0 0h1m2 0h1m0 0h1m0 0h1m0 0h1m0 0h1m0 0h1m0 0h1m0 0h1m1 0h1m1 0h1m1 0h1m1 0h1m3 0h1m-60 1h1m0 0h1m2 0h1m0 0h1m0 0h1m0 0h1m0 0h1m0 0h1m0 0h1m0 0h1m0 0h1m0 0h1m1 0h1m0 0h1m0 0h1m0 0h1m0 0h1m0 0h1m0 0h1m0 0h1m0 0h1m0 0h1m0 0h1m0 0h1m0 0h1m0 0h1m0 0h1m0 0h1m0 0h1m0 0h1m0 0h1m0 0h1m0 0h1m0 0h1m0 0h1m0 0h1m0 0h1m0 0h1m1 0h1m0 0h1m0 0h1m0 0h1m0 0h1m0 0h1m1 0h1m0 0h1m0 0h1m0 0h1m2 0h1m3 0h1m1 0h1m0 0h1m-62 1h1m2 0h1m0 0h1m0 0h1m0 0h1m0 0h1m0 0h1m0 0h1m0 0h1m0 0h1m0 0h1m0 0h1m0 0h1m0 0h1m0 0h1m0 0h1m0 0h1m0 0h1m0 0h1m0 0h1m0 0h1m0 0h1m0 0h1m0 0h1m0 0h1m0 0h1m0 0h1m0 0h1m0 0h1m0 0h1m0 0h1m0 0h1m0 0h1m0 0h1m0 0h1m0 0h1m0 0h1m0 0h1m0 0h1m0 0h1m0 0h1m0 0h1m0 0h1m0 0h1m8 0h1m7 0h1m-64 1h1m0 0h1m1 0h1m0 0h1m0 0h1m0 0h1m0 0h1m0 0h1m0 0h1m0 0h1m0 0h1m0 0h1m0 0h1m0 0h1m0 0h1m0 0h1m0 0h1m0 0h1m0 0h1m0 0h1m0 0h1m0 0h1m0 0h1m0 0h1m0 0h1m0 0h1m0 0h1m0 0h1m0 0h1m0 0h1m0 0h1m0 0h1m0 0h1m0 0h1m0 0h1m0 0h1m1 0h1m0 0h1m1 0h1m0 0h1m1 0h1m0 0h1m2 0h1m0 0h1m3 0h1m0 0h1m4 0h1m-60 1h1m0 0h1m0 0h1m0 0h1m0 0h1m0 0h1m0 0h1m0 0h1m0 0h1m0 0h1m0 0h1m0 0h1m0 0h1m0 0h1m0 0h1m0 0h1m0 0h1m0 0h1m0 0h1m0 0h1m0 0h1m0 0h1m0 0h1m0 0h1m0 0h1m0 0h1m0 0h1m0 0h1m1 0h1m0 0h1m0 0h1m0 0h1m0 0h1m0 0h1m0 0h1m0 0h1m0 0h1m1 0h1m0 0h1m0 0h1m0 0h1m3 0h1m4 0h1m3 0h1m-59 1h1m1 0h1m0 0h1m0 0h1m0 0h1m0 0h1m0 0h1m0 0h1m0 0h1m0 0h1m0 0h1m0 0h1m0 0h1m0 0h1m0 0h1m0 0h1m0 0h1m0 0h1m0 0h1m0 0h1m0 0h1m0 0h1m0 0h1m0 0h1m0 0h1m0 0h1m0 0h1m0 0h1m0 0h1m0 0h1m0 0h1m0 0h1m1 0h1m0 0h1m0 0h1m0 0h1m0 0h1m0 0h1m0 0h1m0 0h1m0 0h1m1 0h1m0 0h1m1 0h1m0 0h1m6 0h1m-54 1h1m0 0h1m0 0h1m0 0h1m0 0h1m0 0h1m0 0h1m0 0h1m0 0h1m0 0h1m0 0h1m0 0h1m0 0h1m0 0h1m0 0h1m0 0h1m0 0h1m0 0h1m0 0h1m0 0h1m0 0h1m0 0h1m0 0h1m0 0h1m0 0h1m0 0h1m0 0h1m0 0h1m0 0h1m0 0h1m0 0h1m0 0h1m0 0h1m0 0h1m0 0h1m0 0h1m0 0h1m0 0h1m0 0h1m0 0h1m1 0h1m1 0h1m1 0h1m1 0h1m1 0h1m1 0h1m11 0h1m-66 1h1m0 0h1m0 0h1m0 0h1m0 0h1m0 0h1m0 0h1m0 0h1m0 0h1m0 0h1m0 0h1m0 0h1m0 0h1m0 0h1m0 0h1m0 0h1m0 0h1m0 0h1m0 0h1m0 0h1m0 0h1m0 0h1m0 0h1m0 0h1m0 0h1m0 0h1m0 0h1m0 0h1m0 0h1m0 0h1m0 0h1m0 0h1m0 0h1m2 0h1m0 0h1m0 0h1m0 0h1m2 0h1m0 0h1m0 0h1m2 0h1m0 0h1m-48 1h1m0 0h1m0 0h1m0 0h1m0 0h1m0 0h1m0 0h1m0 0h1m0 0h1m0 0h1m0 0h1m0 0h1m0 0h1m0 0h1m0 0h1m0 0h1m0 0h1m0 0h1m0 0h1m0 0h1m0 0h1m0 0h1m0 0h1m0 0h1m0 0h1m0 0h1m0 0h1m0 0h1m0 0h1m0 0h1m0 0h1m0 0h1m0 0h1m0 0h1m0 0h1m1 0h1m1 0h1m1 0h1m16 0h1m-58 1h1m0 0h1m0 0h1m0 0h1m0 0h1m0 0h1m0 0h1m0 0h1m0 0h1m0 0h1m0 0h1m0 0h1m0 0h1m0 0h1m0 0h1m0 0h1m0 0h1m0 0h1m0 0h1m0 0h1m0 0h1m0 0h1m0 0h1m0 0h1m0 0h1m0 0h1m0 0h1m0 0h1m0 0h1m0 0h1m2 0h1m0 0h1m0 0h1m0 0h1m0 0h1m1 0h1m0 0h1m1 0h1m-43 1h1m0 0h1m0 0h1m0 0h1m0 0h1m0 0h1m0 0h1m0 0h1m0 0h1m0 0h1m0 0h1m0 0h1m0 0h1m0 0h1m0 0h1m0 0h1m0 0h1m0 0h1m0 0h1m0 0h1m0 0h1m0 0h1m0 0h1m0 0h1m0 0h1m0 0h1m1 0h1m0 0h1m0 0h1m1 0h1m0 0h1m1 0h1m0 0h1m0 0h1m0 0h1m2 0h1m1 0h1m1 0h1m1 0h1m1 0h1m1 0h1m-50 1h1m0 0h1m0 0h1m0 0h1m0 0h1m0 0h1m0 0h1m0 0h1m0 0h1m0 0h1m0 0h1m0 0h1m0 0h1m0 0h1m0 0h1m0 0h1m0 0h1m0 0h1m0 0h1m0 0h1m0 0h1m0 0h1m0 0h1m0 0h1m0 0h1m0 0h1m0 0h1m0 0h1m0 0h1m0 0h1m0 0h1m0 0h1m0 0h1m0 0h1m0 0h1m22 0h1m-59 1h1m0 0h1m0 0h1m0 0h1m0 0h1m0 0h1m0 0h1m0 0h1m0 0h1m0 0h1m0 0h1m0 0h1m0 0h1m0 0h1m0 0h1m0 0h1m0 0h1m0 0h1m0 0h1m0 0h1m0 0h1m0 0h1m0 0h1m0 0h1m0 0h1m0 0h1m0 0h1m3 0h1m0 0h1m1 0h1m1 0h1m0 0h1m0 0h1m1 0h1m0 0h1m5 0h1m-46 1h1m0 0h1m0 0h1m0 0h1m0 0h1m0 0h1m0 0h1m0 0h1m0 0h1m0 0h1m0 0h1m0 0h1m0 0h1m0 0h1m0 0h1m0 0h1m0 0h1m0 0h1m0 0h1m0 0h1m0 0h1m5 0h1m1 0h1m0 0h1m1 0h1m7 0h1m0 0h1m5 0h1m-48 1h1m0 0h1m0 0h1m0 0h1m0 0h1m0 0h1m0 0h1m0 0h1m0 0h1m0 0h1m0 0h1m0 0h1m0 0h1m0 0h1m0 0h1m0 0h1m0 0h1m0 0h1m0 0h1m0 0h1m0 0h1m0 0h1m0 0h1m0 0h1m0 0h1m2 0h1m0 0h1m0 0h1m3 0h1m0 0h1m4 0h1m1 0h1m-42 1h1m1 0h1m0 0h1m0 0h1m0 0h1m0 0h1m0 0h1m0 0h1m0 0h1m0 0h1m0 0h1m0 0h1m0 0h1m0 0h1m0 0h1m0 0h1m0 0h1m0 0h1m0 0h1m0 0h1m0 0h1m0 0h1m3 0h1m1 0h1m0 0h1m5 0h1m-34 1h1m0 0h1m0 0h1m0 0h1m0 0h1m0 0h1m0 0h1m0 0h1m0 0h1m0 0h1m1 0h1m1 0h1m0 0h1m2 0h1m1 0h1m1 0h1m0 0h1m1 0h1m5 0h1m-32 1h1m1 0h1m0 0h1m0 0h1m0 0h1m0 0h1m0 0h1m0 0h1m0 0h1m0 0h1m0 0h1m0 0h1m1 0h1m1 0h1m0 0h1m0 0h1m1 0h1m1 0h1m3 0h1m6 0h1m2 0h1m-33 1h1m1 0h1m0 0h1m0 0h1m0 0h1m0 0h1m1 0h1m0 0h1m1 0h1m0 0h1m0 0h1m0 0h1m0 0h1m0 0h1m6 0h1m3 0h1m1 0h1m-27 1h1m5 0h1m1 0h1m0 0h1m0 0h1m7 0h1m-24 1h1m2 0h1m2 0h1m0 0h1m1 0h1m0 0h1m3 0h1m3 0h1m1 0h1m12 0h1m-30 1h1m13 0h1m8 0h1m-27 1h1m3 0h1m0 0h1m8 0h1m4 0h1m2 0h1m-14 1h1m2 0h1m9 0h1m13 0h1m-30 1h1m-5 1h1m5 1h1m-5 1h1m11 0h1m6 8h1" stroke="#000" stroke-opacity="0.85" stroke-width="1.1" fill="none" transform="translate(0 0.5)"/>
<rect x="93.69999999999999" y="448.3" width="1.8" height="1.8" fill="#7cc04a" stroke="none" stroke-width="1" fill-opacity="0.9"/>
<rect x="59.300000000000004" y="449.0" width="1.8" height="1.8" fill="#7cc04a" stroke="none" stroke-width="1" fill-opacity="0.9"/>
<rect x="92.5" y="454.70000000000005" width="1.8" height="1.8" fill="#7cc04a" stroke="none" stroke-width="1" fill-opacity="0.9"/>
<rect x="73.5" y="436.20000000000005" width="1.8" height="1.8" fill="#7cc04a" stroke="none" stroke-width="1" fill-opacity="0.9"/>
<rect x="62.4" y="463.70000000000005" width="1.8" height="1.8" fill="#7cc04a" stroke="none" stroke-width="1" fill-opacity="0.9"/>
<rect x="115.5" y="440.6" width="1.8" height="1.8" fill="#7cc04a" stroke="none" stroke-width="1" fill-opacity="0.9"/>
<rect x="120.1" y="437.6" width="1.8" height="1.8" fill="#7cc04a" stroke="none" stroke-width="1" fill-opacity="0.9"/>
<rect x="122.89999999999999" y="440.3" width="1.8" height="1.8" fill="#7cc04a" stroke="none" stroke-width="1" fill-opacity="0.9"/>
<rect x="96.39999999999999" y="444.70000000000005" width="1.8" height="1.8" fill="#7cc04a" stroke="none" stroke-width="1" fill-opacity="0.9"/>
<rect x="166.1" y="397.5" width="1.8" height="1.8" fill="#7cc04a" stroke="none" stroke-width="1" fill-opacity="0.9"/>
<rect x="105.69999999999999" y="432.6" width="1.8" height="1.8" fill="#7cc04a" stroke="none" stroke-width="1" fill-opacity="0.9"/>
<rect x="124.19999999999999" y="429.70000000000005" width="1.8" height="1.8" fill="#7cc04a" stroke="none" stroke-width="1" fill-opacity="0.9"/>
<rect x="94.69999999999999" y="444.8" width="1.8" height="1.8" fill="#7cc04a" stroke="none" stroke-width="1" fill-opacity="0.9"/>
<rect x="118.8" y="432.8" width="1.8" height="1.8" fill="#7cc04a" stroke="none" stroke-width="1" fill-opacity="0.9"/>
<rect x="74.5" y="459.90000000000003" width="1.8" height="1.8" fill="#7cc04a" stroke="none" stroke-width="1" fill-opacity="0.9"/>
<rect x="95.5" y="447.3" width="1.8" height="1.8" fill="#7cc04a" stroke="none" stroke-width="1" fill-opacity="0.9"/>
<rect x="66.0" y="462.0" width="1.8" height="1.8" fill="#7cc04a" stroke="none" stroke-width="1" fill-opacity="0.9"/>
<rect x="69.19999999999999" y="451.8" width="1.8" height="1.8" fill="#7cc04a" stroke="none" stroke-width="1" fill-opacity="0.9"/>
<rect x="121.5" y="426.0" width="1.8" height="1.8" fill="#7cc04a" stroke="none" stroke-width="1" fill-opacity="0.9"/>
<rect x="80.0" y="449.20000000000005" width="1.8" height="1.8" fill="#7cc04a" stroke="none" stroke-width="1" fill-opacity="0.9"/>
<rect x="81.6" y="455.20000000000005" width="1.8" height="1.8" fill="#7cc04a" stroke="none" stroke-width="1" fill-opacity="0.9"/>
<rect x="71.89999999999999" y="462.40000000000003" width="1.8" height="1.8" fill="#7cc04a" stroke="none" stroke-width="1" fill-opacity="0.9"/>
<rect x="100.6" y="448.8" width="1.8" height="1.8" fill="#7cc04a" stroke="none" stroke-width="1" fill-opacity="0.9"/>
<rect x="71.69999999999999" y="464.6" width="1.8" height="1.8" fill="#7cc04a" stroke="none" stroke-width="1" fill-opacity="0.9"/>
<rect x="82.3" y="431.5" width="1.8" height="1.8" fill="#7cc04a" stroke="none" stroke-width="1" fill-opacity="0.9"/>
<rect x="61.2" y="461.40000000000003" width="1.8" height="1.8" fill="#7cc04a" stroke="none" stroke-width="1" fill-opacity="0.9"/>
<rect x="79.6" y="451.90000000000003" width="1.8" height="1.8" fill="#7cc04a" stroke="none" stroke-width="1" fill-opacity="0.9"/>
<rect x="183.29999999999998" y="380.90000000000003" width="1.8" height="1.8" fill="#7cc04a" stroke="none" stroke-width="1" fill-opacity="0.9"/>
<rect x="94.0" y="439.0" width="1.8" height="1.8" fill="#7cc04a" stroke="none" stroke-width="1" fill-opacity="0.9"/>
<rect x="62.0" y="468.8" width="1.8" height="1.8" fill="#7cc04a" stroke="none" stroke-width="1" fill-opacity="0.9"/>
<rect x="136.7" y="416.5" width="1.8" height="1.8" fill="#7cc04a" stroke="none" stroke-width="1" fill-opacity="0.9"/>
<rect x="97.39999999999999" y="435.40000000000003" width="1.8" height="1.8" fill="#7cc04a" stroke="none" stroke-width="1" fill-opacity="0.9"/>
<rect x="94.39999999999999" y="453.20000000000005" width="1.8" height="1.8" fill="#7cc04a" stroke="none" stroke-width="1" fill-opacity="0.9"/>
<rect x="68.19999999999999" y="466.90000000000003" width="1.8" height="1.8" fill="#7cc04a" stroke="none" stroke-width="1" fill-opacity="0.9"/>
<rect x="85.1" y="443.70000000000005" width="1.8" height="1.8" fill="#7cc04a" stroke="none" stroke-width="1" fill-opacity="0.9"/>
<rect x="93.8" y="440.20000000000005" width="1.8" height="1.8" fill="#7cc04a" stroke="none" stroke-width="1" fill-opacity="0.9"/>
<rect x="120.69999999999999" y="426.20000000000005" width="1.8" height="1.8" fill="#7cc04a" stroke="none" stroke-width="1" fill-opacity="0.9"/>
<rect x="100.69999999999999" y="437.6" width="1.8" height="1.8" fill="#7cc04a" stroke="none" stroke-width="1" fill-opacity="0.9"/>
<rect x="93.5" y="445.3" width="1.8" height="1.8" fill="#7cc04a" stroke="none" stroke-width="1" fill-opacity="0.9"/>
<rect x="75.8" y="455.70000000000005" width="1.8" height="1.8" fill="#7cc04a" stroke="none" stroke-width="1" fill-opacity="0.9"/>
<rect x="72.6" y="460.6" width="1.8" height="1.8" fill="#7cc04a" stroke="none" stroke-width="1" fill-opacity="0.9"/>
<rect x="90.89999999999999" y="446.3" width="1.8" height="1.8" fill="#7cc04a" stroke="none" stroke-width="1" fill-opacity="0.9"/>
<rect x="128.79999999999998" y="428.5" width="1.8" height="1.8" fill="#7cc04a" stroke="none" stroke-width="1" fill-opacity="0.9"/>
<rect x="72.1" y="449.6" width="1.8" height="1.8" fill="#7cc04a" stroke="none" stroke-width="1" fill-opacity="0.9"/>
<rect x="104.1" y="449.40000000000003" width="1.8" height="1.8" fill="#7cc04a" stroke="none" stroke-width="1" fill-opacity="0.9"/>
<rect x="153.1" y="421.20000000000005" width="1.8" height="1.8" fill="#7cc04a" stroke="none" stroke-width="1" fill-opacity="0.9"/>
<rect x="72.3" y="465.3" width="1.8" height="1.8" fill="#7cc04a" stroke="none" stroke-width="1" fill-opacity="0.9"/>
<rect x="92.39999999999999" y="451.1" width="1.8" height="1.8" fill="#7cc04a" stroke="none" stroke-width="1" fill-opacity="0.9"/>
<rect x="140.7" y="429.6" width="1.8" height="1.8" fill="#7cc04a" stroke="none" stroke-width="1" fill-opacity="0.9"/>
<rect x="116.19999999999999" y="432.70000000000005" width="1.8" height="1.8" fill="#7cc04a" stroke="none" stroke-width="1" fill-opacity="0.9"/>
<rect x="91.0" y="449.6" width="1.8" height="1.8" fill="#7cc04a" stroke="none" stroke-width="1" fill-opacity="0.9"/>
<rect x="105.39999999999999" y="440.5" width="1.8" height="1.8" fill="#7cc04a" stroke="none" stroke-width="1" fill-opacity="0.9"/>
<rect x="74.5" y="464.3" width="1.8" height="1.8" fill="#7cc04a" stroke="none" stroke-width="1" fill-opacity="0.9"/>
<rect x="219.6" y="388.70000000000005" width="1.8" height="1.8" fill="#7cc04a" stroke="none" stroke-width="1" fill-opacity="0.9"/>
<rect x="147.7" y="424.8" width="1.8" height="1.8" fill="#7cc04a" stroke="none" stroke-width="1" fill-opacity="0.9"/>
<rect x="101.1" y="448.3" width="1.8" height="1.8" fill="#7cc04a" stroke="none" stroke-width="1" fill-opacity="0.9"/>
<rect x="62.9" y="465.0" width="1.8" height="1.8" fill="#7cc04a" stroke="none" stroke-width="1" fill-opacity="0.9"/>
<rect x="72.69999999999999" y="442.40000000000003" width="1.8" height="1.8" fill="#7cc04a" stroke="none" stroke-width="1" fill-opacity="0.9"/>
<rect x="71.1" y="451.70000000000005" width="1.8" height="1.8" fill="#7cc04a" stroke="none" stroke-width="1" fill-opacity="0.9"/>
<rect x="80.69999999999999" y="460.0" width="1.8" height="1.8" fill="#7cc04a" stroke="none" stroke-width="1" fill-opacity="0.9"/>
<rect x="241.2" y="376.70000000000005" width="1.8" height="1.8" fill="#7cc04a" stroke="none" stroke-width="1" fill-opacity="0.9"/>
<rect x="120.89999999999999" y="441.1" width="1.8" height="1.8" fill="#7cc04a" stroke="none" stroke-width="1" fill-opacity="0.9"/>
<rect x="81.0" y="460.6" width="1.8" height="1.8" fill="#7cc04a" stroke="none" stroke-width="1" fill-opacity="0.9"/>
<rect x="65.8" y="460.20000000000005" width="1.8" height="1.8" fill="#7cc04a" stroke="none" stroke-width="1" fill-opacity="0.9"/>
<rect x="96.0" y="443.20000000000005" width="1.8" height="1.8" fill="#7cc04a" stroke="none" stroke-width="1" fill-opacity="0.9"/>
<rect x="73.3" y="461.40000000000003" width="1.8" height="1.8" fill="#7cc04a" stroke="none" stroke-width="1" fill-opacity="0.9"/>
<rect x="86.19999999999999" y="453.1" width="1.8" height="1.8" fill="#7cc04a" stroke="none" stroke-width="1" fill-opacity="0.9"/>
<rect x="144.1" y="425.6" width="1.8" height="1.8" fill="#7cc04a" stroke="none" stroke-width="1" fill-opacity="0.9"/>
<rect x="98.3" y="447.40000000000003" width="1.8" height="1.8" fill="#7cc04a" stroke="none" stroke-width="1" fill-opacity="0.9"/>
<rect x="58.4" y="466.5" width="1.8" height="1.8" fill="#7cc04a" stroke="none" stroke-width="1" fill-opacity="0.9"/>
<rect x="59.9" y="442.20000000000005" width="1.8" height="1.8" fill="#7cc04a" stroke="none" stroke-width="1" fill-opacity="0.9"/>
<rect x="60.4" y="470.3" width="1.8" height="1.8" fill="#7cc04a" stroke="none" stroke-width="1" fill-opacity="0.9"/>
<rect x="65.1" y="468.70000000000005" width="1.8" height="1.8" fill="#7cc04a" stroke="none" stroke-width="1" fill-opacity="0.9"/>
<rect x="109.39999999999999" y="446.3" width="1.8" height="1.8" fill="#7cc04a" stroke="none" stroke-width="1" fill-opacity="0.9"/>
<rect x="134.2" y="426.40000000000003" width="1.8" height="1.8" fill="#7cc04a" stroke="none" stroke-width="1" fill-opacity="0.9"/>
<rect x="181.7" y="407.8" width="1.8" height="1.8" fill="#7cc04a" stroke="none" stroke-width="1" fill-opacity="0.9"/>
<rect x="68.0" y="452.0" width="1.8" height="1.8" fill="#7cc04a" stroke="none" stroke-width="1" fill-opacity="0.9"/>
<rect x="65.8" y="468.5" width="1.8" height="1.8" fill="#7cc04a" stroke="none" stroke-width="1" fill-opacity="0.9"/>
<rect x="134.1" y="423.6" width="1.8" height="1.8" fill="#7cc04a" stroke="none" stroke-width="1" fill-opacity="0.9"/>
<rect x="93.6" y="447.90000000000003" width="1.8" height="1.8" fill="#7cc04a" stroke="none" stroke-width="1" fill-opacity="0.9"/>
<rect x="205.4" y="454.6" width="1.8" height="1.8" fill="#2e3a92" stroke="none" stroke-width="1" fill-opacity="0.9"/>
<rect x="156.79999999999998" y="481.20000000000005" width="1.8" height="1.8" fill="#2e3a92" stroke="none" stroke-width="1" fill-opacity="0.9"/>
<rect x="191.0" y="470.70000000000005" width="1.8" height="1.8" fill="#2e3a92" stroke="none" stroke-width="1" fill-opacity="0.9"/>
<rect x="195.4" y="461.40000000000003" width="1.8" height="1.8" fill="#2e3a92" stroke="none" stroke-width="1" fill-opacity="0.9"/>
<rect x="152.79999999999998" y="480.90000000000003" width="1.8" height="1.8" fill="#2e3a92" stroke="none" stroke-width="1" fill-opacity="0.9"/>
<rect x="230.0" y="461.90000000000003" width="1.8" height="1.8" fill="#2e3a92" stroke="none" stroke-width="1" fill-opacity="0.9"/>
<rect x="325.70000000000005" y="403.8" width="1.8" height="1.8" fill="#2e3a92" stroke="none" stroke-width="1" fill-opacity="0.9"/>
<rect x="170.4" y="481.8" width="1.8" height="1.8" fill="#2e3a92" stroke="none" stroke-width="1" fill-opacity="0.9"/>
<rect x="276.1" y="418.1" width="1.8" height="1.8" fill="#2e3a92" stroke="none" stroke-width="1" fill-opacity="0.9"/>
<rect x="151.7" y="490.3" width="1.8" height="1.8" fill="#2e3a92" stroke="none" stroke-width="1" fill-opacity="0.9"/>
<rect x="279.70000000000005" y="439.70000000000005" width="1.8" height="1.8" fill="#2e3a92" stroke="none" stroke-width="1" fill-opacity="0.9"/>
<rect x="166.4" y="489.0" width="1.8" height="1.8" fill="#2e3a92" stroke="none" stroke-width="1" fill-opacity="0.9"/>
<rect x="216.6" y="448.6" width="1.8" height="1.8" fill="#2e3a92" stroke="none" stroke-width="1" fill-opacity="0.9"/>
<rect x="175.0" y="478.1" width="1.8" height="1.8" fill="#2e3a92" stroke="none" stroke-width="1" fill-opacity="0.9"/>
<rect x="208.4" y="457.90000000000003" width="1.8" height="1.8" fill="#2e3a92" stroke="none" stroke-width="1" fill-opacity="0.9"/>
<rect x="326.70000000000005" y="398.20000000000005" width="1.8" height="1.8" fill="#2e3a92" stroke="none" stroke-width="1" fill-opacity="0.9"/>
<rect x="138.2" y="490.70000000000005" width="1.8" height="1.8" fill="#2e3a92" stroke="none" stroke-width="1" fill-opacity="0.9"/>
<rect x="197.7" y="460.40000000000003" width="1.8" height="1.8" fill="#2e3a92" stroke="none" stroke-width="1" fill-opacity="0.9"/>
<rect x="213.6" y="469.6" width="1.8" height="1.8" fill="#2e3a92" stroke="none" stroke-width="1" fill-opacity="0.9"/>
<rect x="283.20000000000005" y="419.0" width="1.8" height="1.8" fill="#2e3a92" stroke="none" stroke-width="1" fill-opacity="0.9"/>
<rect x="264.0" y="432.20000000000005" width="1.8" height="1.8" fill="#2e3a92" stroke="none" stroke-width="1" fill-opacity="0.9"/>
<rect x="159.4" y="485.70000000000005" width="1.8" height="1.8" fill="#2e3a92" stroke="none" stroke-width="1" fill-opacity="0.9"/>
<rect x="191.9" y="459.1" width="1.8" height="1.8" fill="#2e3a92" stroke="none" stroke-width="1" fill-opacity="0.9"/>
<rect x="175.0" y="473.8" width="1.8" height="1.8" fill="#2e3a92" stroke="none" stroke-width="1" fill-opacity="0.9"/>
<rect x="165.9" y="481.3" width="1.8" height="1.8" fill="#2e3a92" stroke="none" stroke-width="1" fill-opacity="0.9"/>
<rect x="152.0" y="480.8" width="1.8" height="1.8" fill="#2e3a92" stroke="none" stroke-width="1" fill-opacity="0.9"/>
<rect x="196.0" y="465.8" width="1.8" height="1.8" fill="#2e3a92" stroke="none" stroke-width="1" fill-opacity="0.9"/>
<rect x="135.7" y="495.8" width="1.8" height="1.8" fill="#2e3a92" stroke="none" stroke-width="1" fill-opacity="0.9"/>
<rect x="230.6" y="457.1" width="1.8" height="1.8" fill="#2e3a92" stroke="none" stroke-width="1" fill-opacity="0.9"/>
<rect x="255.6" y="430.6" width="1.8" height="1.8" fill="#2e3a92" stroke="none" stroke-width="1" fill-opacity="0.9"/>
<rect x="264.6" y="424.5" width="1.8" height="1.8" fill="#2e3a92" stroke="none" stroke-width="1" fill-opacity="0.9"/>
<rect x="237.0" y="440.0" width="1.8" height="1.8" fill="#2e3a92" stroke="none" stroke-width="1" fill-opacity="0.9"/>
<rect x="326.6" y="415.20000000000005" width="1.8" height="1.8" fill="#2e3a92" stroke="none" stroke-width="1" fill-opacity="0.9"/>
<rect x="284.0" y="417.1" width="1.8" height="1.8" fill="#2e3a92" stroke="none" stroke-width="1" fill-opacity="0.9"/>
<rect x="260.5" y="427.1" width="1.8" height="1.8" fill="#2e3a92" stroke="none" stroke-width="1" fill-opacity="0.9"/>
<rect x="292.0" y="415.20000000000005" width="1.8" height="1.8" fill="#2e3a92" stroke="none" stroke-width="1" fill-opacity="0.9"/>
<rect x="273.3" y="420.1" width="1.8" height="1.8" fill="#2e3a92" stroke="none" stroke-width="1" fill-opacity="0.9"/>
<rect x="158.0" y="492.3" width="1.8" height="1.8" fill="#2e3a92" stroke="none" stroke-width="1" fill-opacity="0.9"/>
<rect x="181.6" y="467.20000000000005" width="1.8" height="1.8" fill="#2e3a92" stroke="none" stroke-width="1" fill-opacity="0.9"/>
<rect x="195.9" y="458.90000000000003" width="1.8" height="1.8" fill="#2e3a92" stroke="none" stroke-width="1" fill-opacity="0.9"/>
<rect x="294.8" y="431.5" width="1.8" height="1.8" fill="#2e3a92" stroke="none" stroke-width="1" fill-opacity="0.9"/>
<rect x="233.6" y="449.20000000000005" width="1.8" height="1.8" fill="#2e3a92" stroke="none" stroke-width="1" fill-opacity="0.9"/>
<rect x="154.29999999999998" y="486.1" width="1.8" height="1.8" fill="#2e3a92" stroke="none" stroke-width="1" fill-opacity="0.9"/>
<rect x="212.7" y="468.20000000000005" width="1.8" height="1.8" fill="#2e3a92" stroke="none" stroke-width="1" fill-opacity="0.9"/>
<rect x="314.3" y="408.20000000000005" width="1.8" height="1.8" fill="#2e3a92" stroke="none" stroke-width="1" fill-opacity="0.9"/>
<rect x="311.3" y="402.1" width="1.8" height="1.8" fill="#2e3a92" stroke="none" stroke-width="1" fill-opacity="0.9"/>
<rect x="212.1" y="455.70000000000005" width="1.8" height="1.8" fill="#2e3a92" stroke="none" stroke-width="1" fill-opacity="0.9"/>
<rect x="271.20000000000005" y="427.5" width="1.8" height="1.8" fill="#2e3a92" stroke="none" stroke-width="1" fill-opacity="0.9"/>
<rect x="158.4" y="476.20000000000005" width="1.8" height="1.8" fill="#2e3a92" stroke="none" stroke-width="1" fill-opacity="0.9"/>
<rect x="161.2" y="478.5" width="1.8" height="1.8" fill="#2e3a92" stroke="none" stroke-width="1" fill-opacity="0.9"/>
<rect x="174.7" y="467.3" width="1.8" height="1.8" fill="#2e3a92" stroke="none" stroke-width="1" fill-opacity="0.9"/>
<rect x="214.6" y="457.8" width="1.8" height="1.8" fill="#2e3a92" stroke="none" stroke-width="1" fill-opacity="0.9"/>
<rect x="150.29999999999998" y="493.5" width="1.8" height="1.8" fill="#2e3a92" stroke="none" stroke-width="1" fill-opacity="0.9"/>
<rect x="177.4" y="467.40000000000003" width="1.8" height="1.8" fill="#2e3a92" stroke="none" stroke-width="1" fill-opacity="0.9"/>
<rect x="218.4" y="455.90000000000003" width="1.8" height="1.8" fill="#2e3a92" stroke="none" stroke-width="1" fill-opacity="0.9"/>
<rect x="287.8" y="423.20000000000005" width="1.8" height="1.8" fill="#2e3a92" stroke="none" stroke-width="1" fill-opacity="0.9"/>
<rect x="264.40000000000003" y="424.90000000000003" width="1.8" height="1.8" fill="#2e3a92" stroke="none" stroke-width="1" fill-opacity="0.9"/>
<rect x="147.2" y="485.5" width="1.8" height="1.8" fill="#2e3a92" stroke="none" stroke-width="1" fill-opacity="0.9"/>
<rect x="330.6" y="394.40000000000003" width="1.8" height="1.8" fill="#2e3a92" stroke="none" stroke-width="1" fill-opacity="0.9"/>
<rect x="249.2" y="437.20000000000005" width="1.8" height="1.8" fill="#2e3a92" stroke="none" stroke-width="1" fill-opacity="0.9"/>
<rect x="177.6" y="474.20000000000005" width="1.8" height="1.8" fill="#2e3a92" stroke="none" stroke-width="1" fill-opacity="0.9"/>
<rect x="319.1" y="398.6" width="1.8" height="1.8" fill="#2e3a92" stroke="none" stroke-width="1" fill-opacity="0.9"/>
<rect x="180.4" y="465.0" width="1.8" height="1.8" fill="#2e3a92" stroke="none" stroke-width="1" fill-opacity="0.9"/>
<rect x="162.7" y="483.40000000000003" width="1.8" height="1.8" fill="#2e3a92" stroke="none" stroke-width="1" fill-opacity="0.9"/>
<rect x="172.0" y="479.20000000000005" width="1.8" height="1.8" fill="#2e3a92" stroke="none" stroke-width="1" fill-opacity="0.9"/>
<rect x="190.5" y="463.5" width="1.8" height="1.8" fill="#2e3a92" stroke="none" stroke-width="1" fill-opacity="0.9"/>
<rect x="165.29999999999998" y="473.90000000000003" width="1.8" height="1.8" fill="#2e3a92" stroke="none" stroke-width="1" fill-opacity="0.9"/>
<rect x="165.7" y="494.90000000000003" width="1.8" height="1.8" fill="#2e3a92" stroke="none" stroke-width="1" fill-opacity="0.9"/>
<rect x="274.70000000000005" y="421.40000000000003" width="1.8" height="1.8" fill="#2e3a92" stroke="none" stroke-width="1" fill-opacity="0.9"/>
<rect x="228.79999999999998" y="443.40000000000003" width="1.8" height="1.8" fill="#2e3a92" stroke="none" stroke-width="1" fill-opacity="0.9"/>
<rect x="251.2" y="432.20000000000005" width="1.8" height="1.8" fill="#2e3a92" stroke="none" stroke-width="1" fill-opacity="0.9"/>
<rect x="211.6" y="471.3" width="1.8" height="1.8" fill="#2e3a92" stroke="none" stroke-width="1" fill-opacity="0.9"/>
<rect x="295.8" y="414.40000000000003" width="1.8" height="1.8" fill="#2e3a92" stroke="none" stroke-width="1" fill-opacity="0.9"/>
<rect x="159.7" y="477.3" width="1.8" height="1.8" fill="#2e3a92" stroke="none" stroke-width="1" fill-opacity="0.9"/>
<rect x="188.9" y="463.5" width="1.8" height="1.8" fill="#2e3a92" stroke="none" stroke-width="1" fill-opacity="0.9"/>
<line x1="16.5" y1="520.0" x2="344.4" y2="359.5" stroke="#e0242b" stroke-width="1.6" />
<line x1="16.5" y1="495.7" x2="344.4" y2="335.2" stroke="#e0242b" stroke-width="0.8" />
<line x1="16.5" y1="544.3" x2="344.4" y2="383.8" stroke="#e0242b" stroke-width="0.8" />
</g>
<rect x="21.5" y="360.8" width="317.9" height="154.2" fill="none" stroke="#8a8a8a" stroke-width="1" />
<text x="20.0" y="495.0" font-size="5.6" fill="#444" text-anchor="end">10<tspan dy="-2" font-size="3.5">1</tspan></text>
<text x="69.4" y="521.6" font-size="5.6" fill="#444">10<tspan dy="-2" font-size="3.5">1</tspan></text>
<text x="20.0" y="444.0" font-size="5.6" fill="#444" text-anchor="end">10<tspan dy="-2" font-size="3.5">2</tspan></text>
<text x="173.4" y="521.6" font-size="5.6" fill="#444">10<tspan dy="-2" font-size="3.5">2</tspan></text>
<text x="20.0" y="393.0" font-size="5.6" fill="#444" text-anchor="end">10<tspan dy="-2" font-size="3.5">3</tspan></text>
<text x="277.4" y="521.6" font-size="5.6" fill="#444">10<tspan dy="-2" font-size="3.5">3</tspan></text>
<line x1="30.6" y1="515" x2="30.6" y2="513.5" stroke="#777" stroke-width="0.6" />
<line x1="21.5" y1="513.3" x2="23.0" y2="513.3" stroke="#777" stroke-width="0.6" />
<line x1="40.7" y1="515" x2="40.7" y2="513.5" stroke="#777" stroke-width="0.6" />
<line x1="21.5" y1="508.4" x2="23.0" y2="508.4" stroke="#777" stroke-width="0.6" />
<line x1="48.9" y1="515" x2="48.9" y2="513.5" stroke="#777" stroke-width="0.6" />
<line x1="21.5" y1="504.3" x2="23.0" y2="504.3" stroke="#777" stroke-width="0.6" />
<line x1="55.9" y1="515" x2="55.9" y2="513.5" stroke="#777" stroke-width="0.6" />
<line x1="21.5" y1="500.9" x2="23.0" y2="500.9" stroke="#777" stroke-width="0.6" />
<line x1="61.9" y1="515" x2="61.9" y2="513.5" stroke="#777" stroke-width="0.6" />
<line x1="21.5" y1="497.9" x2="23.0" y2="497.9" stroke="#777" stroke-width="0.6" />
<line x1="67.2" y1="515" x2="67.2" y2="513.5" stroke="#777" stroke-width="0.6" />
<line x1="21.5" y1="495.3" x2="23.0" y2="495.3" stroke="#777" stroke-width="0.6" />
<line x1="72.0" y1="515" x2="72.0" y2="512" stroke="#777" stroke-width="0.6" />
<line x1="21.5" y1="493.0" x2="24.5" y2="493.0" stroke="#777" stroke-width="0.6" />
<line x1="103.3" y1="515" x2="103.3" y2="513.5" stroke="#777" stroke-width="0.6" />
<line x1="21.5" y1="477.6" x2="23.0" y2="477.6" stroke="#777" stroke-width="0.6" />
<line x1="121.6" y1="515" x2="121.6" y2="513.5" stroke="#777" stroke-width="0.6" />
<line x1="21.5" y1="468.7" x2="23.0" y2="468.7" stroke="#777" stroke-width="0.6" />
<line x1="134.6" y1="515" x2="134.6" y2="513.5" stroke="#777" stroke-width="0.6" />
<line x1="21.5" y1="462.3" x2="23.0" y2="462.3" stroke="#777" stroke-width="0.6" />
<line x1="144.7" y1="515" x2="144.7" y2="513.5" stroke="#777" stroke-width="0.6" />
<line x1="21.5" y1="457.4" x2="23.0" y2="457.4" stroke="#777" stroke-width="0.6" />
<line x1="152.9" y1="515" x2="152.9" y2="513.5" stroke="#777" stroke-width="0.6" />
<line x1="21.5" y1="453.3" x2="23.0" y2="453.3" stroke="#777" stroke-width="0.6" />
<line x1="159.9" y1="515" x2="159.9" y2="513.5" stroke="#777" stroke-width="0.6" />
<line x1="21.5" y1="449.9" x2="23.0" y2="449.9" stroke="#777" stroke-width="0.6" />
<line x1="165.9" y1="515" x2="165.9" y2="513.5" stroke="#777" stroke-width="0.6" />
<line x1="21.5" y1="446.9" x2="23.0" y2="446.9" stroke="#777" stroke-width="0.6" />
<line x1="171.2" y1="515" x2="171.2" y2="513.5" stroke="#777" stroke-width="0.6" />
<line x1="21.5" y1="444.3" x2="23.0" y2="444.3" stroke="#777" stroke-width="0.6" />
<line x1="176.0" y1="515" x2="176.0" y2="512" stroke="#777" stroke-width="0.6" />
<line x1="21.5" y1="442.0" x2="24.5" y2="442.0" stroke="#777" stroke-width="0.6" />
<line x1="207.3" y1="515" x2="207.3" y2="513.5" stroke="#777" stroke-width="0.6" />
<line x1="21.5" y1="426.6" x2="23.0" y2="426.6" stroke="#777" stroke-width="0.6" />
<line x1="225.6" y1="515" x2="225.6" y2="513.5" stroke="#777" stroke-width="0.6" />
<line x1="21.5" y1="417.7" x2="23.0" y2="417.7" stroke="#777" stroke-width="0.6" />
<line x1="238.6" y1="515" x2="238.6" y2="513.5" stroke="#777" stroke-width="0.6" />
<line x1="21.5" y1="411.3" x2="23.0" y2="411.3" stroke="#777" stroke-width="0.6" />
<line x1="248.7" y1="515" x2="248.7" y2="513.5" stroke="#777" stroke-width="0.6" />
<line x1="21.5" y1="406.4" x2="23.0" y2="406.4" stroke="#777" stroke-width="0.6" />
<line x1="256.9" y1="515" x2="256.9" y2="513.5" stroke="#777" stroke-width="0.6" />
<line x1="21.5" y1="402.3" x2="23.0" y2="402.3" stroke="#777" stroke-width="0.6" />
<line x1="263.9" y1="515" x2="263.9" y2="513.5" stroke="#777" stroke-width="0.6" />
<line x1="21.5" y1="398.9" x2="23.0" y2="398.9" stroke="#777" stroke-width="0.6" />
<line x1="269.9" y1="515" x2="269.9" y2="513.5" stroke="#777" stroke-width="0.6" />
<line x1="21.5" y1="395.9" x2="23.0" y2="395.9" stroke="#777" stroke-width="0.6" />
<line x1="275.2" y1="515" x2="275.2" y2="513.5" stroke="#777" stroke-width="0.6" />
<line x1="21.5" y1="393.3" x2="23.0" y2="393.3" stroke="#777" stroke-width="0.6" />
<line x1="280.0" y1="515" x2="280.0" y2="512" stroke="#777" stroke-width="0.6" />
<line x1="21.5" y1="391.0" x2="24.5" y2="391.0" stroke="#777" stroke-width="0.6" />
<line x1="311.3" y1="515" x2="311.3" y2="513.5" stroke="#777" stroke-width="0.6" />
<line x1="21.5" y1="375.6" x2="23.0" y2="375.6" stroke="#777" stroke-width="0.6" />
<line x1="329.6" y1="515" x2="329.6" y2="513.5" stroke="#777" stroke-width="0.6" />
<line x1="21.5" y1="366.7" x2="23.0" y2="366.7" stroke="#777" stroke-width="0.6" />
<line x1="58.75" y1="550.8" x2="58.75" y2="706" stroke="#d8d8d8" stroke-width="0.8" />
<line x1="23.4" y1="684.0" x2="341.8" y2="684.0" stroke="#d8d8d8" stroke-width="0.8" />
<line x1="162.85" y1="550.8" x2="162.85" y2="706" stroke="#d8d8d8" stroke-width="0.8" />
<line x1="23.4" y1="631.75" x2="341.8" y2="631.75" stroke="#d8d8d8" stroke-width="0.8" />
<line x1="266.95" y1="550.8" x2="266.95" y2="706" stroke="#d8d8d8" stroke-width="0.8" />
<line x1="23.4" y1="579.5" x2="341.8" y2="579.5" stroke="#d8d8d8" stroke-width="0.8" />
<clipPath id="cG"><rect x="23.4" y="550.8" width="318.40000000000003" height="155.20000000000005"/></clipPath>
<g clip-path="url(#cG)">
<path d="M299 557h1m-4 7h1m4 0h1m-3 1h1m-11 1h1m5 0h1m-10 2h1m2 0h1m6 0h1m-9 1h1m-19 2h1m6 0h1m4 0h1m5 0h1m-18 1h1m0 0h1m1 0h1m10 0h1m1 0h1m-21 1h1m4 0h1m8 0h1m-3 1h1m-13 1h1m6 0h1m1 0h1m3 0h1m-15 1h1m0 0h1m3 0h1m5 0h1m-17 2h1m15 0h1m0 0h1m5 0h1m-27 1h1m3 0h1m4 0h1m-13 1h1m-2 1h1m4 0h1m-8 1h1m2 0h1m7 0h1m-7 1h1m0 0h1m1 0h1m3 0h1m5 0h1m-27 1h1m9 0h1m6 0h1m-18 1h1m5 0h1m20 0h1m-32 1h1m13 0h1m0 0h1m2 0h1m2 0h1m-16 1h1m1 0h1m7 0h1m-24 1h1m17 0h1m2 0h1m3 0h1m-25 1h1m6 0h1m1 0h1m10 0h1m-22 1h1m9 0h1m-8 1h1m0 0h1m0 0h1m7 0h1m4 0h1m-20 1h1m11 0h1m0 0h1m5 0h1m-26 1h1m10 0h1m3 0h1m-22 1h1m15 0h1m2 0h1m3 0h1m6 0h1m-44 1h1m11 0h1m1 0h1m5 0h1m3 0h1m8 0h1m5 0h1m2 0h1m-23 1h1m6 0h1m-32 1h1m16 0h1m8 0h1m2 0h1m-19 1h1m8 0h1m4 0h1m0 0h1m0 0h1m2 0h1m4 0h1m3 0h1m-43 1h1m20 0h1m1 0h1m3 0h1m2 0h1m1 0h1m7 0h1m-30 1h1m5 0h1m0 0h1m4 0h1m4 0h1m4 0h1m3 0h1m-22 1h1m7 0h1m11 0h1m-26 1h1m11 0h1m6 0h1m2 0h1m-33 1h1m12 0h1m1 0h1m12 0h1m-17 1h1m0 0h1m17 0h1m-34 1h1m12 0h1m1 0h1m1 0h1m0 0h1m6 0h1m1 0h1m-34 1h1m4 0h1m17 0h1m1 0h1m0 0h1m3 0h1m-40 1h1m6 0h1m12 0h1m0 0h1m1 0h1m6 0h1m5 0h1m4 0h1m-45 1h1m17 0h1m8 0h1m6 0h1m2 0h1m2 0h1m-29 1h1m1 0h1m4 0h1m4 0h1m2 0h1m-38 1h1m8 0h1m11 0h1m3 0h1m1 0h1m8 0h1m3 0h1m6 0h1m-25 1h1m2 0h1m2 0h1m4 0h1m13 0h1m-34 1h1m5 0h1m3 0h1m1 0h1m4 0h1m0 0h1m5 0h1m-38 1h1m0 0h1m0 0h1m12 0h1m4 0h1m1 0h1m4 0h1m1 0h1m4 0h1m0 0h1m-30 1h1m8 0h1m0 0h1m0 0h1m0 0h1m5 0h1m0 0h1m0 0h1m0 0h1m1 0h1m1 0h1m0 0h1m-39 1h1m17 0h1m0 0h1m5 0h1m0 0h1m4 0h1m1 0h1m4 0h1m-40 1h1m0 0h1m11 0h1m4 0h1m6 0h1m0 0h1m2 0h1m0 0h1m1 0h1m1 0h1m5 0h1m-34 1h1m16 0h1m9 0h1m2 0h1m0 0h1m-44 1h1m4 0h1m12 0h1m5 0h1m0 0h1m4 0h1m10 0h1m-31 1h1m14 0h1m0 0h1m1 0h1m0 0h1m1 0h1m6 0h1m-27 1h1m3 0h1m3 0h1m0 0h1m7 0h1m5 0h1m-47 1h1m17 0h1m0 0h1m4 0h1m5 0h1m0 0h1m0 0h1m8 0h1m1 0h1m2 0h1m5 0h1m-51 1h1m0 0h1m11 0h1m3 0h1m0 0h1m1 0h1m0 0h1m2 0h1m0 0h1m0 0h1m1 0h1m0 0h1m1 0h1m1 0h1m1 0h1m1 0h1m-70 1h1m3 0h1m26 0h1m4 0h1m3 0h1m1 0h1m1 0h1m5 0h1m1 0h1m0 0h1m1 0h1m0 0h1m0 0h1m2 0h1m0 0h1m0 0h1m2 0h1m0 0h1m1 0h1m0 0h1m-87 1h1m57 0h1m2 0h1m3 0h1m1 0h1m4 0h1m0 0h1m0 0h1m2 0h1m0 0h1m0 0h1m0 0h1m0 0h1m1 0h1m3 0h1m-31 1h1m2 0h1m2 0h1m0 0h1m7 0h1m0 0h1m1 0h1m1 0h1m0 0h1m4 0h1m2 0h1m-49 1h1m4 0h1m8 0h1m7 0h1m0 0h1m1 0h1m3 0h1m1 0h1m0 0h1m1 0h1m3 0h1m0 0h1m2 0h1m-33 1h1m5 0h1m3 0h1m0 0h1m1 0h1m0 0h1m0 0h1m0 0h1m2 0h1m3 0h1m2 0h1m0 0h1m0 0h1m-51 1h1m10 0h1m15 0h1m1 0h1m1 0h1m8 0h1m1 0h1m1 0h1m0 0h1m4 0h1m4 0h1m-52 1h1m10 0h1m9 0h1m2 0h1m0 0h1m2 0h1m2 0h1m3 0h1m1 0h1m1 0h1m2 0h1m4 0h1m10 0h1m-62 1h1m3 0h1m7 0h1m3 0h1m7 0h1m1 0h1m3 0h1m2 0h1m2 0h1m0 0h1m0 0h1m-33 1h1m11 0h1m0 0h1m4 0h1m0 0h1m1 0h1m0 0h1m1 0h1m2 0h1m0 0h1m0 0h1m2 0h1m2 0h1m0 0h1m0 0h1m1 0h1m-54 1h1m3 0h1m6 0h1m0 0h1m0 0h1m4 0h1m5 0h1m0 0h1m3 0h1m1 0h1m5 0h1m1 0h1m0 0h1m2 0h1m4 0h1m0 0h1m0 0h1m1 0h1m5 0h1m-59 1h1m6 0h1m1 0h1m4 0h1m1 0h1m1 0h1m0 0h1m2 0h1m3 0h1m0 0h1m0 0h1m0 0h1m1 0h1m0 0h1m3 0h1m0 0h1m7 0h1m0 0h1m0 0h1m0 0h1m0 0h1m-56 1h1m15 0h1m0 0h1m3 0h1m2 0h1m1 0h1m1 0h1m0 0h1m0 0h1m3 0h1m0 0h1m2 0h1m4 0h1m2 0h1m2 0h1m2 0h1m7 0h1m-44 1h1m7 0h1m0 0h1m0 0h1m1 0h1m1 0h1m1 0h1m1 0h1m0 0h1m0 0h1m0 0h1m0 0h1m1 0h1m1 0h1m1 0h1m3 0h1m3 0h1m-73 1h1m22 0h1m4 0h1m9 0h1m1 0h1m2 0h1m0 0h1m1 0h1m2 0h1m0 0h1m0 0h1m0 0h1m0 0h1m7 0h1m2 0h1m2 0h1m2 0h1m-101 1h1m11 0h1m1 0h1m15 0h1m22 0h1m8 0h1m0 0h1m0 0h1m0 0h1m1 0h1m0 0h1m2 0h1m3 0h1m1 0h1m0 0h1m1 0h1m0 0h1m1 0h1m0 0h1m0 0h1m1 0h1m1 0h1m0 0h1m2 0h1m2 0h1m0 0h1m0 0h1m-100 1h1m47 0h1m5 0h1m5 0h1m1 0h1m3 0h1m0 0h1m0 0h1m0 0h1m0 0h1m2 0h1m2 0h1m1 0h1m0 0h1m0 0h1m1 0h1m0 0h1m0 0h1m0 0h1m0 0h1m1 0h1m1 0h1m2 0h1m0 0h1m1 0h1m-42 1h1m1 0h1m5 0h1m0 0h1m0 0h1m2 0h1m2 0h1m0 0h1m2 0h1m0 0h1m2 0h1m2 0h1m5 0h1m2 0h1m1 0h1m0 0h1m3 0h1m1 0h1m-54 1h1m11 0h1m0 0h1m3 0h1m0 0h1m4 0h1m0 0h1m0 0h1m2 0h1m0 0h1m2 0h1m0 0h1m0 0h1m1 0h1m0 0h1m1 0h1m7 0h1m14 0h1m-79 1h1m4 0h1m1 0h1m1 0h1m1 0h1m15 0h1m2 0h1m1 0h1m0 0h1m1 0h1m0 0h1m2 0h1m0 0h1m0 0h1m1 0h1m0 0h1m0 0h1m0 0h1m0 0h1m3 0h1m0 0h1m0 0h1m0 0h1m4 0h1m-53 1h1m1 0h1m7 0h1m4 0h1m7 0h1m1 0h1m0 0h1m1 0h1m0 0h1m0 0h1m0 0h1m0 0h1m0 0h1m3 0h1m0 0h1m0 0h1m2 0h1m0 0h1m0 0h1m5 0h1m-57 1h1m6 0h1m5 0h1m0 0h1m3 0h1m1 0h1m0 0h1m2 0h1m0 0h1m0 0h1m1 0h1m0 0h1m2 0h1m0 0h1m1 0h1m1 0h1m1 0h1m2 0h1m0 0h1m0 0h1m0 0h1m2 0h1m0 0h1m1 0h1m2 0h1m0 0h1m-85 1h1m13 0h1m11 0h1m13 0h1m7 0h1m5 0h1m0 0h1m1 0h1m0 0h1m0 0h1m0 0h1m1 0h1m0 0h1m1 0h1m0 0h1m0 0h1m0 0h1m0 0h1m0 0h1m0 0h1m6 0h1m0 0h1m3 0h1m-62 1h1m2 0h1m1 0h1m6 0h1m4 0h1m11 0h1m4 0h1m0 0h1m0 0h1m0 0h1m1 0h1m0 0h1m0 0h1m3 0h1m0 0h1m0 0h1m1 0h1m0 0h1m1 0h1m1 0h1m0 0h1m2 0h1m1 0h1m0 0h1m1 0h1m-59 1h1m3 0h1m8 0h1m11 0h1m0 0h1m0 0h1m0 0h1m0 0h1m0 0h1m0 0h1m2 0h1m1 0h1m0 0h1m0 0h1m1 0h1m1 0h1m0 0h1m1 0h1m0 0h1m0 0h1m2 0h1m-69 1h1m2 0h1m11 0h1m0 0h1m10 0h1m4 0h1m1 0h1m3 0h1m2 0h1m0 0h1m4 0h1m0 0h1m0 0h1m2 0h1m0 0h1m0 0h1m0 0h1m0 0h1m0 0h1m0 0h1m0 0h1m2 0h1m2 0h1m2 0h1m-85 1h1m13 0h1m12 0h1m7 0h1m4 0h1m1 0h1m0 0h1m0 0h1m1 0h1m2 0h1m0 0h1m4 0h1m0 0h1m0 0h1m1 0h1m2 0h1m0 0h1m0 0h1m3 0h1m0 0h1m0 0h1m2 0h1m0 0h1m0 0h1m1 0h1m3 0h1m-66 1h1m4 0h1m9 0h1m0 0h1m1 0h1m5 0h1m4 0h1m1 0h1m1 0h1m0 0h1m1 0h1m0 0h1m2 0h1m0 0h1m0 0h1m0 0h1m0 0h1m2 0h1m0 0h1m1 0h1m1 0h1m1 0h1m0 0h1m4 0h1m0 0h1m0 0h1m0 0h1m-64 1h1m5 0h1m6 0h1m2 0h1m2 0h1m7 0h1m2 0h1m0 0h1m1 0h1m2 0h1m0 0h1m1 0h1m0 0h1m1 0h1m0 0h1m0 0h1m0 0h1m0 0h1m0 0h1m0 0h1m2 0h1m0 0h1m0 0h1m3 0h1m0 0h1m0 0h1m0 0h1m7 0h1m1 0h1m0 0h1m-96 1h1m20 0h1m0 0h1m8 0h1m5 0h1m5 0h1m3 0h1m0 0h1m4 0h1m1 0h1m2 0h1m0 0h1m0 0h1m0 0h1m0 0h1m0 0h1m0 0h1m1 0h1m0 0h1m0 0h1m2 0h1m0 0h1m0 0h1m0 0h1m1 0h1m1 0h1m2 0h1m0 0h1m1 0h1m1 0h1m5 0h1m-72 1h1m2 0h1m2 0h1m2 0h1m5 0h1m2 0h1m0 0h1m3 0h1m0 0h1m0 0h1m3 0h1m1 0h1m0 0h1m1 0h1m0 0h1m0 0h1m0 0h1m1 0h1m0 0h1m0 0h1m0 0h1m0 0h1m0 0h1m0 0h1m0 0h1m0 0h1m0 0h1m0 0h1m1 0h1m0 0h1m0 0h1m2 0h1m0 0h1m0 0h1m0 0h1m0 0h1m0 0h1m0 0h1m0 0h1m-87 1h1m24 0h1m4 0h1m7 0h1m2 0h1m1 0h1m0 0h1m2 0h1m2 0h1m2 0h1m0 0h1m0 0h1m0 0h1m0 0h1m0 0h1m0 0h1m0 0h1m0 0h1m0 0h1m0 0h1m0 0h1m1 0h1m0 0h1m1 0h1m0 0h1m0 0h1m0 0h1m1 0h1m2 0h1m2 0h1m1 0h1m0 0h1m0 0h1m1 0h1m1 0h1m-89 1h1m17 0h1m12 0h1m13 0h1m3 0h1m1 0h1m0 0h1m0 0h1m0 0h1m0 0h1m1 0h1m1 0h1m0 0h1m1 0h1m0 0h1m0 0h1m0 0h1m0 0h1m0 0h1m2 0h1m0 0h1m0 0h1m3 0h1m0 0h1m7 0h1m2 0h1m-85 1h1m15 0h1m3 0h1m2 0h1m10 0h1m5 0h1m1 0h1m3 0h1m2 0h1m1 0h1m1 0h1m1 0h1m0 0h1m0 0h1m0 0h1m0 0h1m0 0h1m0 0h1m1 0h1m0 0h1m0 0h1m0 0h1m0 0h1m0 0h1m1 0h1m0 0h1m0 0h1m0 0h1m6 0h1m-73 1h1m7 0h1m0 0h1m6 0h1m3 0h1m1 0h1m1 0h1m2 0h1m0 0h1m0 0h1m0 0h1m0 0h1m0 0h1m2 0h1m0 0h1m1 0h1m0 0h1m0 0h1m0 0h1m0 0h1m0 0h1m0 0h1m0 0h1m1 0h1m0 0h1m0 0h1m0 0h1m0 0h1m2 0h1m0 0h1m0 0h1m0 0h1m1 0h1m0 0h1m0 0h1m0 0h1m1 0h1m5 0h1m-84 1h1m1 0h1m1 0h1m0 0h1m4 0h1m16 0h1m0 0h1m2 0h1m1 0h1m3 0h1m2 0h1m0 0h1m0 0h1m0 0h1m0 0h1m0 0h1m0 0h1m1 0h1m2 0h1m0 0h1m0 0h1m0 0h1m0 0h1m1 0h1m0 0h1m0 0h1m0 0h1m0 0h1m0 0h1m0 0h1m0 0h1m1 0h1m0 0h1m2 0h1m1 0h1m0 0h1m1 0h1m-68 1h1m0 0h1m0 0h1m2 0h1m4 0h1m1 0h1m1 0h1m4 0h1m0 0h1m0 0h1m0 0h1m1 0h1m2 0h1m0 0h1m1 0h1m0 0h1m1 0h1m0 0h1m1 0h1m2 0h1m0 0h1m0 0h1m0 0h1m0 0h1m0 0h1m0 0h1m0 0h1m0 0h1m0 0h1m1 0h1m0 0h1m0 0h1m0 0h1m0 0h1m0 0h1m1 0h1m0 0h1m0 0h1m0 0h1m0 0h1m0 0h1m0 0h1m1 0h1m-71 1h1m2 0h1m10 0h1m1 0h1m2 0h1m3 0h1m1 0h1m1 0h1m0 0h1m3 0h1m0 0h1m1 0h1m0 0h1m0 0h1m1 0h1m0 0h1m0 0h1m0 0h1m2 0h1m0 0h1m1 0h1m0 0h1m0 0h1m1 0h1m0 0h1m0 0h1m0 0h1m1 0h1m0 0h1m0 0h1m0 0h1m0 0h1m0 0h1m0 0h1m1 0h1m-68 1h1m0 0h1m1 0h1m1 0h1m1 0h1m3 0h1m3 0h1m1 0h1m1 0h1m4 0h1m1 0h1m0 0h1m3 0h1m0 0h1m0 0h1m0 0h1m0 0h1m1 0h1m0 0h1m0 0h1m0 0h1m0 0h1m0 0h1m0 0h1m1 0h1m0 0h1m0 0h1m0 0h1m0 0h1m0 0h1m0 0h1m0 0h1m0 0h1m0 0h1m0 0h1m0 0h1m0 0h1m0 0h1m0 0h1m0 0h1m0 0h1m0 0h1m0 0h1m0 0h1m1 0h1m0 0h1m1 0h1m8 0h1m-81 1h1m6 0h1m0 0h1m3 0h1m2 0h1m0 0h1m0 0h1m1 0h1m1 0h1m1 0h1m0 0h1m1 0h1m0 0h1m3 0h1m0 0h1m0 0h1m1 0h1m0 0h1m0 0h1m0 0h1m2 0h1m0 0h1m0 0h1m0 0h1m0 0h1m0 0h1m0 0h1m0 0h1m0 0h1m0 0h1m0 0h1m0 0h1m0 0h1m0 0h1m0 0h1m0 0h1m0 0h1m0 0h1m0 0h1m1 0h1m0 0h1m0 0h1m0 0h1m0 0h1m3 0h1m-72 1h1m5 0h1m4 0h1m3 0h1m6 0h1m0 0h1m5 0h1m0 0h1m0 0h1m1 0h1m0 0h1m2 0h1m0 0h1m0 0h1m0 0h1m0 0h1m0 0h1m0 0h1m0 0h1m0 0h1m1 0h1m0 0h1m0 0h1m0 0h1m0 0h1m0 0h1m0 0h1m0 0h1m0 0h1m0 0h1m0 0h1m0 0h1m1 0h1m1 0h1m0 0h1m0 0h1m0 0h1m0 0h1m-63 1h1m2 0h1m11 0h1m4 0h1m2 0h1m0 0h1m1 0h1m0 0h1m0 0h1m0 0h1m0 0h1m0 0h1m0 0h1m0 0h1m1 0h1m1 0h1m0 0h1m0 0h1m0 0h1m0 0h1m0 0h1m0 0h1m0 0h1m0 0h1m0 0h1m0 0h1m0 0h1m0 0h1m0 0h1m0 0h1m0 0h1m0 0h1m0 0h1m0 0h1m1 0h1m1 0h1m0 0h1m0 0h1m1 0h1m4 0h1m1 0h1m-74 1h1m1 0h1m0 0h1m2 0h1m0 0h1m1 0h1m2 0h1m1 0h1m0 0h1m1 0h1m1 0h1m0 0h1m0 0h1m0 0h1m0 0h1m1 0h1m0 0h1m0 0h1m0 0h1m0 0h1m0 0h1m0 0h1m0 0h1m2 0h1m0 0h1m0 0h1m0 0h1m0 0h1m0 0h1m0 0h1m0 0h1m0 0h1m0 0h1m0 0h1m0 0h1m0 0h1m0 0h1m0 0h1m0 0h1m0 0h1m0 0h1m0 0h1m0 0h1m0 0h1m0 0h1m0 0h1m0 0h1m0 0h1m0 0h1m0 0h1m3 0h1m8 0h1m-80 1h1m2 0h1m0 0h1m3 0h1m2 0h1m4 0h1m0 0h1m0 0h1m2 0h1m1 0h1m0 0h1m0 0h1m0 0h1m0 0h1m0 0h1m0 0h1m3 0h1m0 0h1m0 0h1m0 0h1m0 0h1m1 0h1m0 0h1m0 0h1m0 0h1m0 0h1m0 0h1m0 0h1m0 0h1m0 0h1m0 0h1m0 0h1m0 0h1m0 0h1m0 0h1m0 0h1m1 0h1m0 0h1m3 0h1m0 0h1m0 0h1m0 0h1m1 0h1m1 0h1m0 0h1m2 0h1m1 0h1m0 0h1m13 0h1m-90 1h1m5 0h1m3 0h1m9 0h1m0 0h1m0 0h1m0 0h1m2 0h1m1 0h1m1 0h1m2 0h1m0 0h1m0 0h1m0 0h1m1 0h1m0 0h1m0 0h1m0 0h1m0 0h1m0 0h1m0 0h1m0 0h1m0 0h1m0 0h1m0 0h1m0 0h1m0 0h1m0 0h1m0 0h1m0 0h1m0 0h1m0 0h1m0 0h1m0 0h1m0 0h1m1 0h1m4 0h1m4 0h1m0 0h1m0 0h1m-73 1h1m0 0h1m0 0h1m2 0h1m1 0h1m1 0h1m0 0h1m0 0h1m2 0h1m0 0h1m0 0h1m1 0h1m0 0h1m2 0h1m3 0h1m0 0h1m0 0h1m0 0h1m0 0h1m0 0h1m1 0h1m0 0h1m0 0h1m0 0h1m0 0h1m0 0h1m0 0h1m0 0h1m0 0h1m0 0h1m0 0h1m0 0h1m0 0h1m0 0h1m0 0h1m0 0h1m0 0h1m0 0h1m0 0h1m1 0h1m0 0h1m1 0h1m1 0h1m0 0h1m4 0h1m1 0h1m0 0h1m1 0h1m1 0h1m2 0h1m-69 1h1m1 0h1m8 0h1m0 0h1m0 0h1m0 0h1m1 0h1m0 0h1m0 0h1m1 0h1m0 0h1m0 0h1m0 0h1m0 0h1m0 0h1m0 0h1m0 0h1m0 0h1m0 0h1m0 0h1m0 0h1m0 0h1m0 0h1m0 0h1m0 0h1m0 0h1m0 0h1m0 0h1m0 0h1m0 0h1m0 0h1m0 0h1m0 0h1m0 0h1m0 0h1m1 0h1m0 0h1m1 0h1m1 0h1m1 0h1m2 0h1m3 0h1m-69 1h1m0 0h1m0 0h1m7 0h1m0 0h1m1 0h1m1 0h1m2 0h1m0 0h1m1 0h1m0 0h1m0 0h1m0 0h1m0 0h1m0 0h1m0 0h1m1 0h1m0 0h1m0 0h1m0 0h1m0 0h1m0 0h1m0 0h1m0 0h1m0 0h1m0 0h1m0 0h1m0 0h1m0 0h1m0 0h1m0 0h1m0 0h1m0 0h1m0 0h1m0 0h1m0 0h1m0 0h1m0 0h1m0 0h1m0 0h1m0 0h1m0 0h1m0 0h1m1 0h1m2 0h1m7 0h1m-65 1h1m0 0h1m2 0h1m1 0h1m2 0h1m0 0h1m0 0h1m0 0h1m1 0h1m0 0h1m1 0h1m0 0h1m0 0h1m0 0h1m0 0h1m0 0h1m0 0h1m0 0h1m0 0h1m0 0h1m0 0h1m0 0h1m0 0h1m0 0h1m0 0h1m0 0h1m0 0h1m0 0h1m0 0h1m0 0h1m0 0h1m0 0h1m0 0h1m0 0h1m0 0h1m0 0h1m0 0h1m0 0h1m0 0h1m0 0h1m0 0h1m0 0h1m0 0h1m0 0h1m2 0h1m3 0h1m1 0h1m6 0h1m4 0h1m-77 1h1m0 0h1m3 0h1m0 0h1m0 0h1m0 0h1m0 0h1m0 0h1m0 0h1m1 0h1m0 0h1m0 0h1m0 0h1m0 0h1m0 0h1m1 0h1m0 0h1m0 0h1m1 0h1m0 0h1m0 0h1m0 0h1m0 0h1m0 0h1m0 0h1m0 0h1m0 0h1m0 0h1m0 0h1m0 0h1m0 0h1m0 0h1m0 0h1m0 0h1m0 0h1m0 0h1m0 0h1m0 0h1m0 0h1m0 0h1m0 0h1m0 0h1m0 0h1m0 0h1m0 0h1m0 0h1m1 0h1m0 0h1m1 0h1m0 0h1m5 0h1m2 0h1m7 0h1m-72 1h1m2 0h1m0 0h1m3 0h1m0 0h1m1 0h1m3 0h1m0 0h1m0 0h1m0 0h1m0 0h1m0 0h1m0 0h1m0 0h1m0 0h1m0 0h1m0 0h1m0 0h1m0 0h1m0 0h1m0 0h1m0 0h1m0 0h1m0 0h1m0 0h1m0 0h1m0 0h1m0 0h1m0 0h1m0 0h1m0 0h1m0 0h1m0 0h1m0 0h1m0 0h1m0 0h1m0 0h1m0 0h1m0 0h1m0 0h1m0 0h1m1 0h1m0 0h1m1 0h1m0 0h1m0 0h1m-56 1h1m0 0h1m0 0h1m0 0h1m1 0h1m0 0h1m0 0h1m2 0h1m1 0h1m0 0h1m0 0h1m0 0h1m0 0h1m0 0h1m0 0h1m0 0h1m0 0h1m0 0h1m0 0h1m0 0h1m0 0h1m0 0h1m0 0h1m0 0h1m0 0h1m0 0h1m0 0h1m0 0h1m0 0h1m0 0h1m0 0h1m0 0h1m0 0h1m0 0h1m0 0h1m0 0h1m0 0h1m0 0h1m0 0h1m0 0h1m0 0h1m0 0h1m0 0h1m0 0h1m0 0h1m0 0h1m1 0h1m10 0h1m2 0h1m-70 1h1m0 0h1m1 0h1m0 0h1m0 0h1m1 0h1m1 0h1m0 0h1m0 0h1m0 0h1m0 0h1m0 0h1m0 0h1m0 0h1m0 0h1m0 0h1m0 0h1m0 0h1m0 0h1m0 0h1m0 0h1m0 0h1m0 0h1m0 0h1m0 0h1m0 0h1m0 0h1m0 0h1m0 0h1m1 0h1m0 0h1m0 0h1m0 0h1m0 0h1m0 0h1m0 0h1m0 0h1m0 0h1m0 0h1m0 0h1m0 0h1m1 0h1m0 0h1m0 0h1m6 0h1m0 0h1m0 0h1m5 0h1m-62 1h1m1 0h1m0 0h1m0 0h1m0 0h1m0 0h1m0 0h1m0 0h1m0 0h1m1 0h1m0 0h1m0 0h1m0 0h1m0 0h1m0 0h1m0 0h1m0 0h1m0 0h1m0 0h1m0 0h1m0 0h1m0 0h1m0 0h1m0 0h1m0 0h1m0 0h1m0 0h1m0 0h1m0 0h1m0 0h1m0 0h1m0 0h1m0 0h1m0 0h1m0 0h1m0 0h1m0 0h1m0 0h1m0 0h1m0 0h1m0 0h1m0 0h1m0 0h1m1 0h1m0 0h1m1 0h1m2 0h1m0 0h1m7 0h1m1 0h1m-67 1h1m1 0h1m2 0h1m0 0h1m0 0h1m0 0h1m0 0h1m1 0h1m0 0h1m0 0h1m0 0h1m0 0h1m0 0h1m0 0h1m0 0h1m0 0h1m0 0h1m0 0h1m0 0h1m0 0h1m0 0h1m0 0h1m0 0h1m0 0h1m0 0h1m0 0h1m0 0h1m0 0h1m0 0h1m0 0h1m0 0h1m0 0h1m0 0h1m0 0h1m0 0h1m0 0h1m0 0h1m0 0h1m0 0h1m0 0h1m0 0h1m1 0h1m1 0h1m2 0h1m0 0h1m5 0h1m2 0h1m4 0h1m-64 1h1m0 0h1m0 0h1m0 0h1m0 0h1m0 0h1m0 0h1m0 0h1m0 0h1m0 0h1m0 0h1m0 0h1m0 0h1m0 0h1m0 0h1m0 0h1m0 0h1m0 0h1m0 0h1m0 0h1m0 0h1m0 0h1m0 0h1m0 0h1m0 0h1m0 0h1m0 0h1m0 0h1m0 0h1m0 0h1m0 0h1m0 0h1m0 0h1m0 0h1m0 0h1m0 0h1m0 0h1m0 0h1m0 0h1m0 0h1m0 0h1m0 0h1m1 0h1m0 0h1m0 0h1m2 0h1m0 0h1m0 0h1m-53 1h1m0 0h1m0 0h1m0 0h1m0 0h1m0 0h1m0 0h1m0 0h1m0 0h1m0 0h1m0 0h1m1 0h1m0 0h1m0 0h1m0 0h1m0 0h1m0 0h1m0 0h1m0 0h1m0 0h1m0 0h1m0 0h1m0 0h1m0 0h1m0 0h1m0 0h1m0 0h1m0 0h1m1 0h1m0 0h1m0 0h1m0 0h1m0 0h1m0 0h1m0 0h1m0 0h1m0 0h1m0 0h1m3 0h1m1 0h1m0 0h1m12 0h1m-61 1h1m0 0h1m0 0h1m0 0h1m0 0h1m0 0h1m0 0h1m0 0h1m0 0h1m0 0h1m0 0h1m0 0h1m0 0h1m0 0h1m0 0h1m0 0h1m0 0h1m0 0h1m0 0h1m0 0h1m0 0h1m0 0h1m0 0h1m0 0h1m0 0h1m0 0h1m0 0h1m0 0h1m0 0h1m0 0h1m0 0h1m0 0h1m0 0h1m0 0h1m0 0h1m0 0h1m0 0h1m0 0h1m0 0h1m1 0h1m0 0h1m0 0h1m0 0h1m0 0h1m0 0h1m0 0h1m4 0h1m-54 1h1m1 0h1m0 0h1m0 0h1m0 0h1m0 0h1m0 0h1m0 0h1m0 0h1m0 0h1m0 0h1m0 0h1m0 0h1m0 0h1m0 0h1m0 0h1m0 0h1m0 0h1m0 0h1m0 0h1m0 0h1m0 0h1m0 0h1m0 0h1m0 0h1m0 0h1m0 0h1m0 0h1m0 0h1m0 0h1m0 0h1m0 0h1m0 0h1m0 0h1m0 0h1m0 0h1m0 0h1m0 0h1m0 0h1m1 0h1m0 0h1m0 0h1m1 0h1m1 0h1m2 0h1m2 0h1m4 0h1m-58 1h1m0 0h1m0 0h1m0 0h1m0 0h1m0 0h1m0 0h1m0 0h1m0 0h1m0 0h1m0 0h1m0 0h1m0 0h1m0 0h1m0 0h1m0 0h1m0 0h1m0 0h1m0 0h1m0 0h1m0 0h1m0 0h1m0 0h1m0 0h1m0 0h1m0 0h1m0 0h1m0 0h1m0 0h1m0 0h1m0 0h1m0 0h1m0 0h1m0 0h1m0 0h1m0 0h1m0 0h1m0 0h1m0 0h1m0 0h1m0 0h1m0 0h1m0 0h1m2 0h1m3 0h1m-49 1h1m0 0h1m0 0h1m0 0h1m0 0h1m0 0h1m0 0h1m0 0h1m0 0h1m0 0h1m0 0h1m0 0h1m0 0h1m0 0h1m0 0h1m0 0h1m0 0h1m0 0h1m0 0h1m0 0h1m0 0h1m0 0h1m0 0h1m0 0h1m0 0h1m0 0h1m0 0h1m0 0h1m0 0h1m0 0h1m0 0h1m0 0h1m1 0h1m0 0h1m0 0h1m0 0h1m0 0h1m1 0h1m0 0h1m0 0h1m-44 1h1m0 0h1m0 0h1m0 0h1m0 0h1m0 0h1m0 0h1m0 0h1m0 0h1m0 0h1m0 0h1m0 0h1m0 0h1m0 0h1m0 0h1m0 0h1m0 0h1m0 0h1m0 0h1m0 0h1m0 0h1m0 0h1m0 0h1m0 0h1m0 0h1m0 0h1m0 0h1m0 0h1m0 0h1m0 0h1m0 0h1m0 0h1m0 0h1m0 0h1m0 0h1m2 0h1m0 0h1m0 0h1m1 0h1m2 0h1m0 0h1m13 0h1m-60 1h1m0 0h1m0 0h1m0 0h1m0 0h1m0 0h1m0 0h1m0 0h1m0 0h1m0 0h1m0 0h1m0 0h1m0 0h1m0 0h1m0 0h1m0 0h1m0 0h1m0 0h1m0 0h1m0 0h1m0 0h1m0 0h1m0 0h1m0 0h1m0 0h1m0 0h1m0 0h1m0 0h1m0 0h1m0 0h1m0 0h1m0 0h1m2 0h1m2 0h1m0 0h1m1 0h1m7 0h1m0 0h1m4 0h1m-56 1h1m0 0h1m0 0h1m0 0h1m0 0h1m0 0h1m0 0h1m0 0h1m0 0h1m0 0h1m0 0h1m0 0h1m0 0h1m0 0h1m0 0h1m0 0h1m0 0h1m0 0h1m0 0h1m0 0h1m0 0h1m0 0h1m0 0h1m0 0h1m0 0h1m0 0h1m0 0h1m0 0h1m0 0h1m0 0h1m0 0h1m0 0h1m0 0h1m1 0h1m1 0h1m0 0h1m1 0h1m3 0h1m0 0h1m1 0h1m6 0h1m-53 1h1m0 0h1m0 0h1m0 0h1m0 0h1m0 0h1m0 0h1m0 0h1m0 0h1m0 0h1m0 0h1m0 0h1m0 0h1m0 0h1m0 0h1m0 0h1m0 0h1m0 0h1m0 0h1m0 0h1m0 0h1m0 0h1m0 0h1m0 0h1m0 0h1m0 0h1m0 0h1m0 0h1m0 0h1m0 0h1m0 0h1m0 0h1m0 0h1m6 0h1m-41 1h1m0 0h1m0 0h1m0 0h1m0 0h1m0 0h1m0 0h1m0 0h1m0 0h1m0 0h1m0 0h1m0 0h1m0 0h1m0 0h1m0 0h1m0 0h1m0 0h1m0 0h1m0 0h1m0 0h1m0 0h1m0 0h1m0 0h1m0 0h1m0 0h1m0 0h1m0 0h1m1 0h1m2 0h1m0 0h1m0 0h1m0 0h1m0 0h1m2 0h1m2 0h1m0 0h1m1 0h1m-45 1h1m0 0h1m0 0h1m0 0h1m0 0h1m0 0h1m0 0h1m0 0h1m0 0h1m0 0h1m0 0h1m0 0h1m0 0h1m0 0h1m0 0h1m0 0h1m0 0h1m0 0h1m0 0h1m0 0h1m0 0h1m1 0h1m0 0h1m1 0h1m0 0h1m0 0h1m0 0h1m0 0h1m3 0h1m3 0h1m-37 1h1m0 0h1m0 0h1m0 0h1m0 0h1m0 0h1m0 0h1m0 0h1m0 0h1m0 0h1m0 0h1m0 0h1m0 0h1m0 0h1m0 0h1m0 0h1m0 0h1m0 0h1m0 0h1m0 0h1m0 0h1m0 0h1m0 0h1m0 0h1m2 0h1m2 0h1m2 0h1m0 0h1m2 0h1m-37 1h1m0 0h1m0 0h1m0 0h1m0 0h1m0 0h1m0 0h1m0 0h1m0 0h1m0 0h1m0 0h1m0 0h1m0 0h1m0 0h1m0 0h1m0 0h1m0 0h1m0 0h1m0 0h1m1 0h1m0 0h1m0 0h1m1 0h1m0 0h1m1 0h1m1 0h1m0 0h1m0 0h1m3 0h1m3 0h1m-40 1h1m0 0h1m0 0h1m0 0h1m0 0h1m0 0h1m0 0h1m0 0h1m2 0h1m0 0h1m0 0h1m0 0h1m0 0h1m0 0h1m0 0h1m0 0h1m0 0h1m0 0h1m0 0h1m0 0h1m1 0h1m0 0h1m0 0h1m0 0h1m2 0h1m2 0h1m2 0h1m5 0h1m-41 1h1m0 0h1m0 0h1m0 0h1m0 0h1m0 0h1m0 0h1m0 0h1m0 0h1m0 0h1m0 0h1m0 0h1m0 0h1m0 0h1m1 0h1m0 0h1m0 0h1m0 0h1m3 0h1m4 0h1m-27 1h1m0 0h1m0 0h1m0 0h1m0 0h1m0 0h1m1 0h1m0 0h1m0 0h1m0 0h1m0 0h1m0 0h1m0 0h1m0 0h1m0 0h1m2 0h1m1 0h1m2 0h1m4 0h1m3 0h1m-35 1h1m0 0h1m1 0h1m1 0h1m0 0h1m0 0h1m0 0h1m0 0h1m0 0h1m1 0h1m0 0h1m0 0h1m0 0h1m1 0h1m2 0h1m0 0h1m0 0h1m0 0h1m6 0h1m20 0h1m-49 1h1m0 0h1m0 0h1m0 0h1m1 0h1m1 0h1m1 0h1m0 0h1m1 0h1m1 0h1m1 0h1m0 0h1m1 0h1m2 0h1m2 0h1m0 0h1m1 0h1m-29 1h1m0 0h1m1 0h1m2 0h1m0 0h1m0 0h1m4 0h1m0 0h1m4 0h1m-20 1h1m0 0h1m2 0h1m0 0h1m0 0h1m0 0h1m7 0h1m2 0h1m0 0h1m4 0h1m-25 1h1m4 0h1m1 0h1m1 0h1m1 0h1m-11 1h1m0 0h1m2 0h1m1 0h1m1 0h1m-6 1h1m5 0h1m1 0h1m-2 1h1m19 0h1m-27 1h1m1 0h1m12 0h1m-9 1h1m10 4h1" stroke="#000" stroke-opacity="0.85" stroke-width="1.1" fill="none" transform="translate(0 0.5)"/>
<rect x="145.7" y="608.9" width="1.8" height="1.8" fill="#7cc04a" stroke="none" stroke-width="1" fill-opacity="0.9"/>
<rect x="47.1" y="636.7" width="1.8" height="1.8" fill="#7cc04a" stroke="none" stroke-width="1" fill-opacity="0.9"/>
<rect x="104.3" y="629.9" width="1.8" height="1.8" fill="#7cc04a" stroke="none" stroke-width="1" fill-opacity="0.9"/>
<rect x="88.8" y="634.9" width="1.8" height="1.8" fill="#7cc04a" stroke="none" stroke-width="1" fill-opacity="0.9"/>
<rect x="46.5" y="661.2" width="1.8" height="1.8" fill="#7cc04a" stroke="none" stroke-width="1" fill-opacity="0.9"/>
<rect x="54.300000000000004" y="652.7" width="1.8" height="1.8" fill="#7cc04a" stroke="none" stroke-width="1" fill-opacity="0.9"/>
<rect x="67.8" y="630.1" width="1.8" height="1.8" fill="#7cc04a" stroke="none" stroke-width="1" fill-opacity="0.9"/>
<rect x="73.0" y="644.1" width="1.8" height="1.8" fill="#7cc04a" stroke="none" stroke-width="1" fill-opacity="0.9"/>
<rect x="66.0" y="649.8000000000001" width="1.8" height="1.8" fill="#7cc04a" stroke="none" stroke-width="1" fill-opacity="0.9"/>
<rect x="50.5" y="658.9" width="1.8" height="1.8" fill="#7cc04a" stroke="none" stroke-width="1" fill-opacity="0.9"/>
<rect x="44.7" y="646.6" width="1.8" height="1.8" fill="#7cc04a" stroke="none" stroke-width="1" fill-opacity="0.9"/>
<rect x="70.5" y="616.2" width="1.8" height="1.8" fill="#7cc04a" stroke="none" stroke-width="1" fill-opacity="0.9"/>
<rect x="48.300000000000004" y="656.2" width="1.8" height="1.8" fill="#7cc04a" stroke="none" stroke-width="1" fill-opacity="0.9"/>
<rect x="56.9" y="653.4" width="1.8" height="1.8" fill="#7cc04a" stroke="none" stroke-width="1" fill-opacity="0.9"/>
<rect x="83.1" y="643.2" width="1.8" height="1.8" fill="#7cc04a" stroke="none" stroke-width="1" fill-opacity="0.9"/>
<rect x="79.6" y="636.5" width="1.8" height="1.8" fill="#7cc04a" stroke="none" stroke-width="1" fill-opacity="0.9"/>
<rect x="50.4" y="658.5" width="1.8" height="1.8" fill="#7cc04a" stroke="none" stroke-width="1" fill-opacity="0.9"/>
<rect x="79.0" y="634.4" width="1.8" height="1.8" fill="#7cc04a" stroke="none" stroke-width="1" fill-opacity="0.9"/>
<rect x="72.3" y="634.8000000000001" width="1.8" height="1.8" fill="#7cc04a" stroke="none" stroke-width="1" fill-opacity="0.9"/>
<rect x="65.8" y="649.9" width="1.8" height="1.8" fill="#7cc04a" stroke="none" stroke-width="1" fill-opacity="0.9"/>
<rect x="50.800000000000004" y="628.4" width="1.8" height="1.8" fill="#7cc04a" stroke="none" stroke-width="1" fill-opacity="0.9"/>
<rect x="156.9" y="591.1" width="1.8" height="1.8" fill="#7cc04a" stroke="none" stroke-width="1" fill-opacity="0.9"/>
<rect x="50.6" y="657.8000000000001" width="1.8" height="1.8" fill="#7cc04a" stroke="none" stroke-width="1" fill-opacity="0.9"/>
<rect x="168.2" y="585.2" width="1.8" height="1.8" fill="#7cc04a" stroke="none" stroke-width="1" fill-opacity="0.9"/>
<rect x="90.19999999999999" y="633.1" width="1.8" height="1.8" fill="#7cc04a" stroke="none" stroke-width="1" fill-opacity="0.9"/>
<rect x="64.89999999999999" y="639.0" width="1.8" height="1.8" fill="#7cc04a" stroke="none" stroke-width="1" fill-opacity="0.9"/>
<rect x="69.0" y="650.1" width="1.8" height="1.8" fill="#7cc04a" stroke="none" stroke-width="1" fill-opacity="0.9"/>
<rect x="78.89999999999999" y="639.5" width="1.8" height="1.8" fill="#7cc04a" stroke="none" stroke-width="1" fill-opacity="0.9"/>
<rect x="184.9" y="584.3000000000001" width="1.8" height="1.8" fill="#7cc04a" stroke="none" stroke-width="1" fill-opacity="0.9"/>
<rect x="49.300000000000004" y="651.7" width="1.8" height="1.8" fill="#7cc04a" stroke="none" stroke-width="1" fill-opacity="0.9"/>
<rect x="156.4" y="602.8000000000001" width="1.8" height="1.8" fill="#7cc04a" stroke="none" stroke-width="1" fill-opacity="0.9"/>
<rect x="74.89999999999999" y="640.3000000000001" width="1.8" height="1.8" fill="#7cc04a" stroke="none" stroke-width="1" fill-opacity="0.9"/>
<rect x="46.7" y="652.6" width="1.8" height="1.8" fill="#7cc04a" stroke="none" stroke-width="1" fill-opacity="0.9"/>
<rect x="56.300000000000004" y="641.0" width="1.8" height="1.8" fill="#7cc04a" stroke="none" stroke-width="1" fill-opacity="0.9"/>
<rect x="71.8" y="637.8000000000001" width="1.8" height="1.8" fill="#7cc04a" stroke="none" stroke-width="1" fill-opacity="0.9"/>
<rect x="86.6" y="608.7" width="1.8" height="1.8" fill="#7cc04a" stroke="none" stroke-width="1" fill-opacity="0.9"/>
<rect x="61.4" y="651.3000000000001" width="1.8" height="1.8" fill="#7cc04a" stroke="none" stroke-width="1" fill-opacity="0.9"/>
<rect x="123.19999999999999" y="612.7" width="1.8" height="1.8" fill="#7cc04a" stroke="none" stroke-width="1" fill-opacity="0.9"/>
<rect x="74.89999999999999" y="636.6" width="1.8" height="1.8" fill="#7cc04a" stroke="none" stroke-width="1" fill-opacity="0.9"/>
<rect x="68.89999999999999" y="639.7" width="1.8" height="1.8" fill="#7cc04a" stroke="none" stroke-width="1" fill-opacity="0.9"/>
<rect x="55.5" y="656.8000000000001" width="1.8" height="1.8" fill="#7cc04a" stroke="none" stroke-width="1" fill-opacity="0.9"/>
<rect x="49.6" y="650.5" width="1.8" height="1.8" fill="#7cc04a" stroke="none" stroke-width="1" fill-opacity="0.9"/>
<rect x="54.1" y="654.8000000000001" width="1.8" height="1.8" fill="#7cc04a" stroke="none" stroke-width="1" fill-opacity="0.9"/>
<rect x="57.5" y="634.4" width="1.8" height="1.8" fill="#7cc04a" stroke="none" stroke-width="1" fill-opacity="0.9"/>
<rect x="51.7" y="642.3000000000001" width="1.8" height="1.8" fill="#7cc04a" stroke="none" stroke-width="1" fill-opacity="0.9"/>
<rect x="82.69999999999999" y="641.3000000000001" width="1.8" height="1.8" fill="#7cc04a" stroke="none" stroke-width="1" fill-opacity="0.9"/>
<rect x="117.89999999999999" y="613.1" width="1.8" height="1.8" fill="#7cc04a" stroke="none" stroke-width="1" fill-opacity="0.9"/>
<rect x="65.3" y="651.6" width="1.8" height="1.8" fill="#7cc04a" stroke="none" stroke-width="1" fill-opacity="0.9"/>
<rect x="65.6" y="642.8000000000001" width="1.8" height="1.8" fill="#7cc04a" stroke="none" stroke-width="1" fill-opacity="0.9"/>
<rect x="71.69999999999999" y="639.2" width="1.8" height="1.8" fill="#7cc04a" stroke="none" stroke-width="1" fill-opacity="0.9"/>
<rect x="78.3" y="620.6" width="1.8" height="1.8" fill="#7cc04a" stroke="none" stroke-width="1" fill-opacity="0.9"/>
<rect x="73.3" y="614.8000000000001" width="1.8" height="1.8" fill="#7cc04a" stroke="none" stroke-width="1" fill-opacity="0.9"/>
<rect x="45.800000000000004" y="652.1" width="1.8" height="1.8" fill="#7cc04a" stroke="none" stroke-width="1" fill-opacity="0.9"/>
<rect x="50.2" y="643.3000000000001" width="1.8" height="1.8" fill="#7cc04a" stroke="none" stroke-width="1" fill-opacity="0.9"/>
<rect x="110.3" y="626.1" width="1.8" height="1.8" fill="#7cc04a" stroke="none" stroke-width="1" fill-opacity="0.9"/>
<rect x="83.19999999999999" y="631.4" width="1.8" height="1.8" fill="#7cc04a" stroke="none" stroke-width="1" fill-opacity="0.9"/>
<rect x="81.1" y="634.6" width="1.8" height="1.8" fill="#7cc04a" stroke="none" stroke-width="1" fill-opacity="0.9"/>
<rect x="48.4" y="642.2" width="1.8" height="1.8" fill="#7cc04a" stroke="none" stroke-width="1" fill-opacity="0.9"/>
<rect x="55.4" y="652.8000000000001" width="1.8" height="1.8" fill="#7cc04a" stroke="none" stroke-width="1" fill-opacity="0.9"/>
<rect x="90.6" y="632.2" width="1.8" height="1.8" fill="#7cc04a" stroke="none" stroke-width="1" fill-opacity="0.9"/>
<rect x="108.3" y="600.3000000000001" width="1.8" height="1.8" fill="#7cc04a" stroke="none" stroke-width="1" fill-opacity="0.9"/>
<rect x="66.8" y="637.7" width="1.8" height="1.8" fill="#7cc04a" stroke="none" stroke-width="1" fill-opacity="0.9"/>
<rect x="67.19999999999999" y="649.4" width="1.8" height="1.8" fill="#7cc04a" stroke="none" stroke-width="1" fill-opacity="0.9"/>
<rect x="107.39999999999999" y="617.8000000000001" width="1.8" height="1.8" fill="#7cc04a" stroke="none" stroke-width="1" fill-opacity="0.9"/>
<rect x="62.800000000000004" y="652.6" width="1.8" height="1.8" fill="#7cc04a" stroke="none" stroke-width="1" fill-opacity="0.9"/>
<rect x="56.9" y="652.2" width="1.8" height="1.8" fill="#7cc04a" stroke="none" stroke-width="1" fill-opacity="0.9"/>
<rect x="54.0" y="652.1" width="1.8" height="1.8" fill="#7cc04a" stroke="none" stroke-width="1" fill-opacity="0.9"/>
<rect x="81.19999999999999" y="639.5" width="1.8" height="1.8" fill="#7cc04a" stroke="none" stroke-width="1" fill-opacity="0.9"/>
<rect x="52.5" y="656.2" width="1.8" height="1.8" fill="#7cc04a" stroke="none" stroke-width="1" fill-opacity="0.9"/>
<rect x="90.0" y="639.2" width="1.8" height="1.8" fill="#7cc04a" stroke="none" stroke-width="1" fill-opacity="0.9"/>
<rect x="210.7" y="634.9" width="1.8" height="1.8" fill="#2e3a92" stroke="none" stroke-width="1" fill-opacity="0.9"/>
<rect x="171.29999999999998" y="655.5" width="1.8" height="1.8" fill="#2e3a92" stroke="none" stroke-width="1" fill-opacity="0.9"/>
<rect x="133.0" y="688.6" width="1.8" height="1.8" fill="#2e3a92" stroke="none" stroke-width="1" fill-opacity="0.9"/>
<rect x="143.2" y="669.7" width="1.8" height="1.8" fill="#2e3a92" stroke="none" stroke-width="1" fill-opacity="0.9"/>
<rect x="113.1" y="691.9" width="1.8" height="1.8" fill="#2e3a92" stroke="none" stroke-width="1" fill-opacity="0.9"/>
<rect x="194.9" y="642.3000000000001" width="1.8" height="1.8" fill="#2e3a92" stroke="none" stroke-width="1" fill-opacity="0.9"/>
<rect x="143.9" y="667.8000000000001" width="1.8" height="1.8" fill="#2e3a92" stroke="none" stroke-width="1" fill-opacity="0.9"/>
<rect x="208.1" y="651.6" width="1.8" height="1.8" fill="#2e3a92" stroke="none" stroke-width="1" fill-opacity="0.9"/>
<rect x="136.9" y="675.9" width="1.8" height="1.8" fill="#2e3a92" stroke="none" stroke-width="1" fill-opacity="0.9"/>
<rect x="225.29999999999998" y="634.2" width="1.8" height="1.8" fill="#2e3a92" stroke="none" stroke-width="1" fill-opacity="0.9"/>
<rect x="161.0" y="658.8000000000001" width="1.8" height="1.8" fill="#2e3a92" stroke="none" stroke-width="1" fill-opacity="0.9"/>
<rect x="211.79999999999998" y="640.3000000000001" width="1.8" height="1.8" fill="#2e3a92" stroke="none" stroke-width="1" fill-opacity="0.9"/>
<rect x="134.9" y="678.4" width="1.8" height="1.8" fill="#2e3a92" stroke="none" stroke-width="1" fill-opacity="0.9"/>
<rect x="202.6" y="640.5" width="1.8" height="1.8" fill="#2e3a92" stroke="none" stroke-width="1" fill-opacity="0.9"/>
<rect x="191.2" y="657.1" width="1.8" height="1.8" fill="#2e3a92" stroke="none" stroke-width="1" fill-opacity="0.9"/>
<rect x="159.0" y="660.0" width="1.8" height="1.8" fill="#2e3a92" stroke="none" stroke-width="1" fill-opacity="0.9"/>
<rect x="158.1" y="661.3000000000001" width="1.8" height="1.8" fill="#2e3a92" stroke="none" stroke-width="1" fill-opacity="0.9"/>
<rect x="177.1" y="670.7" width="1.8" height="1.8" fill="#2e3a92" stroke="none" stroke-width="1" fill-opacity="0.9"/>
<rect x="201.29999999999998" y="646.8000000000001" width="1.8" height="1.8" fill="#2e3a92" stroke="none" stroke-width="1" fill-opacity="0.9"/>
<rect x="154.7" y="661.4" width="1.8" height="1.8" fill="#2e3a92" stroke="none" stroke-width="1" fill-opacity="0.9"/>
<rect x="129.9" y="679.4" width="1.8" height="1.8" fill="#2e3a92" stroke="none" stroke-width="1" fill-opacity="0.9"/>
<rect x="225.29999999999998" y="629.7" width="1.8" height="1.8" fill="#2e3a92" stroke="none" stroke-width="1" fill-opacity="0.9"/>
<rect x="119.6" y="700.3000000000001" width="1.8" height="1.8" fill="#2e3a92" stroke="none" stroke-width="1" fill-opacity="0.9"/>
<rect x="112.0" y="689.2" width="1.8" height="1.8" fill="#2e3a92" stroke="none" stroke-width="1" fill-opacity="0.9"/>
<rect x="187.5" y="653.9" width="1.8" height="1.8" fill="#2e3a92" stroke="none" stroke-width="1" fill-opacity="0.9"/>
<rect x="137.79999999999998" y="676.4" width="1.8" height="1.8" fill="#2e3a92" stroke="none" stroke-width="1" fill-opacity="0.9"/>
<rect x="143.4" y="675.6" width="1.8" height="1.8" fill="#2e3a92" stroke="none" stroke-width="1" fill-opacity="0.9"/>
<rect x="204.1" y="642.1" width="1.8" height="1.8" fill="#2e3a92" stroke="none" stroke-width="1" fill-opacity="0.9"/>
<rect x="162.29999999999998" y="671.6" width="1.8" height="1.8" fill="#2e3a92" stroke="none" stroke-width="1" fill-opacity="0.9"/>
<rect x="203.29999999999998" y="638.2" width="1.8" height="1.8" fill="#2e3a92" stroke="none" stroke-width="1" fill-opacity="0.9"/>
<rect x="172.2" y="653.7" width="1.8" height="1.8" fill="#2e3a92" stroke="none" stroke-width="1" fill-opacity="0.9"/>
<rect x="118.5" y="690.9" width="1.8" height="1.8" fill="#2e3a92" stroke="none" stroke-width="1" fill-opacity="0.9"/>
<rect x="326.20000000000005" y="584.5" width="1.8" height="1.8" fill="#2e3a92" stroke="none" stroke-width="1" fill-opacity="0.9"/>
<rect x="198.79999999999998" y="641.4" width="1.8" height="1.8" fill="#2e3a92" stroke="none" stroke-width="1" fill-opacity="0.9"/>
<rect x="285.3" y="605.4" width="1.8" height="1.8" fill="#2e3a92" stroke="none" stroke-width="1" fill-opacity="0.9"/>
<rect x="147.5" y="669.4" width="1.8" height="1.8" fill="#2e3a92" stroke="none" stroke-width="1" fill-opacity="0.9"/>
<rect x="118.69999999999999" y="694.0" width="1.8" height="1.8" fill="#2e3a92" stroke="none" stroke-width="1" fill-opacity="0.9"/>
<rect x="147.9" y="671.5" width="1.8" height="1.8" fill="#2e3a92" stroke="none" stroke-width="1" fill-opacity="0.9"/>
<rect x="135.6" y="677.1" width="1.8" height="1.8" fill="#2e3a92" stroke="none" stroke-width="1" fill-opacity="0.9"/>
<rect x="276.6" y="623.7" width="1.8" height="1.8" fill="#2e3a92" stroke="none" stroke-width="1" fill-opacity="0.9"/>
<rect x="193.4" y="649.6" width="1.8" height="1.8" fill="#2e3a92" stroke="none" stroke-width="1" fill-opacity="0.9"/>
<rect x="123.5" y="682.8000000000001" width="1.8" height="1.8" fill="#2e3a92" stroke="none" stroke-width="1" fill-opacity="0.9"/>
<rect x="237.5" y="623.7" width="1.8" height="1.8" fill="#2e3a92" stroke="none" stroke-width="1" fill-opacity="0.9"/>
<rect x="226.29999999999998" y="624.9" width="1.8" height="1.8" fill="#2e3a92" stroke="none" stroke-width="1" fill-opacity="0.9"/>
<rect x="173.2" y="652.5" width="1.8" height="1.8" fill="#2e3a92" stroke="none" stroke-width="1" fill-opacity="0.9"/>
<rect x="201.2" y="638.5" width="1.8" height="1.8" fill="#2e3a92" stroke="none" stroke-width="1" fill-opacity="0.9"/>
<rect x="116.69999999999999" y="689.9" width="1.8" height="1.8" fill="#2e3a92" stroke="none" stroke-width="1" fill-opacity="0.9"/>
<rect x="104.1" y="691.5" width="1.8" height="1.8" fill="#2e3a92" stroke="none" stroke-width="1" fill-opacity="0.9"/>
<rect x="196.0" y="648.0" width="1.8" height="1.8" fill="#2e3a92" stroke="none" stroke-width="1" fill-opacity="0.9"/>
<rect x="162.7" y="661.5" width="1.8" height="1.8" fill="#2e3a92" stroke="none" stroke-width="1" fill-opacity="0.9"/>
<rect x="126.8" y="677.5" width="1.8" height="1.8" fill="#2e3a92" stroke="none" stroke-width="1" fill-opacity="0.9"/>
<rect x="175.6" y="652.6" width="1.8" height="1.8" fill="#2e3a92" stroke="none" stroke-width="1" fill-opacity="0.9"/>
<rect x="297.1" y="605.9" width="1.8" height="1.8" fill="#2e3a92" stroke="none" stroke-width="1" fill-opacity="0.9"/>
<rect x="163.7" y="668.3000000000001" width="1.8" height="1.8" fill="#2e3a92" stroke="none" stroke-width="1" fill-opacity="0.9"/>
<rect x="123.89999999999999" y="687.7" width="1.8" height="1.8" fill="#2e3a92" stroke="none" stroke-width="1" fill-opacity="0.9"/>
<rect x="124.5" y="682.5" width="1.8" height="1.8" fill="#2e3a92" stroke="none" stroke-width="1" fill-opacity="0.9"/>
<rect x="131.0" y="676.3000000000001" width="1.8" height="1.8" fill="#2e3a92" stroke="none" stroke-width="1" fill-opacity="0.9"/>
<rect x="319.8" y="578.9" width="1.8" height="1.8" fill="#2e3a92" stroke="none" stroke-width="1" fill-opacity="0.9"/>
<rect x="203.9" y="637.3000000000001" width="1.8" height="1.8" fill="#2e3a92" stroke="none" stroke-width="1" fill-opacity="0.9"/>
<rect x="154.9" y="665.4" width="1.8" height="1.8" fill="#2e3a92" stroke="none" stroke-width="1" fill-opacity="0.9"/>
<rect x="232.79999999999998" y="632.6" width="1.8" height="1.8" fill="#2e3a92" stroke="none" stroke-width="1" fill-opacity="0.9"/>
<rect x="172.9" y="664.6" width="1.8" height="1.8" fill="#2e3a92" stroke="none" stroke-width="1" fill-opacity="0.9"/>
<rect x="140.1" y="691.9" width="1.8" height="1.8" fill="#2e3a92" stroke="none" stroke-width="1" fill-opacity="0.9"/>
<rect x="242.0" y="621.5" width="1.8" height="1.8" fill="#2e3a92" stroke="none" stroke-width="1" fill-opacity="0.9"/>
<rect x="131.4" y="675.6" width="1.8" height="1.8" fill="#2e3a92" stroke="none" stroke-width="1" fill-opacity="0.9"/>
<rect x="192.5" y="645.9" width="1.8" height="1.8" fill="#2e3a92" stroke="none" stroke-width="1" fill-opacity="0.9"/>
<rect x="159.0" y="664.3000000000001" width="1.8" height="1.8" fill="#2e3a92" stroke="none" stroke-width="1" fill-opacity="0.9"/>
<rect x="170.7" y="656.9" width="1.8" height="1.8" fill="#2e3a92" stroke="none" stroke-width="1" fill-opacity="0.9"/>
<rect x="247.4" y="617.8000000000001" width="1.8" height="1.8" fill="#2e3a92" stroke="none" stroke-width="1" fill-opacity="0.9"/>
<rect x="303.20000000000005" y="594.5" width="1.8" height="1.8" fill="#2e3a92" stroke="none" stroke-width="1" fill-opacity="0.9"/>
<rect x="149.0" y="670.8000000000001" width="1.8" height="1.8" fill="#2e3a92" stroke="none" stroke-width="1" fill-opacity="0.9"/>
<rect x="140.9" y="672.3000000000001" width="1.8" height="1.8" fill="#2e3a92" stroke="none" stroke-width="1" fill-opacity="0.9"/>
<rect x="156.2" y="660.2" width="1.8" height="1.8" fill="#2e3a92" stroke="none" stroke-width="1" fill-opacity="0.9"/>
<rect x="181.0" y="654.0" width="1.8" height="1.8" fill="#2e3a92" stroke="none" stroke-width="1" fill-opacity="0.9"/>
<rect x="127.19999999999999" y="678.1" width="1.8" height="1.8" fill="#2e3a92" stroke="none" stroke-width="1" fill-opacity="0.9"/>
<rect x="155.0" y="667.8000000000001" width="1.8" height="1.8" fill="#2e3a92" stroke="none" stroke-width="1" fill-opacity="0.9"/>
<rect x="153.29999999999998" y="662.2" width="1.8" height="1.8" fill="#2e3a92" stroke="none" stroke-width="1" fill-opacity="0.9"/>
<rect x="106.89999999999999" y="686.0" width="1.8" height="1.8" fill="#2e3a92" stroke="none" stroke-width="1" fill-opacity="0.9"/>
<rect x="110.39999999999999" y="685.2" width="1.8" height="1.8" fill="#2e3a92" stroke="none" stroke-width="1" fill-opacity="0.9"/>
<line x1="18.4" y1="703.5" x2="346.8" y2="539.3" stroke="#e0242b" stroke-width="1.6" />
<line x1="18.4" y1="678.5" x2="346.8" y2="514.3" stroke="#e0242b" stroke-width="0.8" />
<line x1="18.4" y1="728.5" x2="346.8" y2="564.3" stroke="#e0242b" stroke-width="0.8" />
</g>
<rect x="23.4" y="550.8" width="318.40000000000003" height="155.20000000000005" fill="none" stroke="#8a8a8a" stroke-width="1" />
<text x="21.9" y="686.0" font-size="5.6" fill="#444" text-anchor="end">10<tspan dy="-2" font-size="3.5">1</tspan></text>
<text x="56.1" y="712.6" font-size="5.6" fill="#444">10<tspan dy="-2" font-size="3.5">1</tspan></text>
<text x="21.9" y="633.8" font-size="5.6" fill="#444" text-anchor="end">10<tspan dy="-2" font-size="3.5">2</tspan></text>
<text x="160.2" y="712.6" font-size="5.6" fill="#444">10<tspan dy="-2" font-size="3.5">2</tspan></text>
<text x="21.9" y="581.5" font-size="5.6" fill="#444" text-anchor="end">10<tspan dy="-2" font-size="3.5">3</tspan></text>
<text x="264.3" y="712.6" font-size="5.6" fill="#444">10<tspan dy="-2" font-size="3.5">3</tspan></text>
<line x1="23.4" y1="704.8" x2="24.9" y2="704.8" stroke="#777" stroke-width="0.6" />
<line x1="27.4" y1="706" x2="27.4" y2="704.5" stroke="#777" stroke-width="0.6" />
<line x1="23.4" y1="699.7" x2="24.9" y2="699.7" stroke="#777" stroke-width="0.6" />
<line x1="35.7" y1="706" x2="35.7" y2="704.5" stroke="#777" stroke-width="0.6" />
<line x1="23.4" y1="695.6" x2="24.9" y2="695.6" stroke="#777" stroke-width="0.6" />
<line x1="42.6" y1="706" x2="42.6" y2="704.5" stroke="#777" stroke-width="0.6" />
<line x1="23.4" y1="692.1" x2="24.9" y2="692.1" stroke="#777" stroke-width="0.6" />
<line x1="48.7" y1="706" x2="48.7" y2="704.5" stroke="#777" stroke-width="0.6" />
<line x1="23.4" y1="689.1" x2="24.9" y2="689.1" stroke="#777" stroke-width="0.6" />
<line x1="54.0" y1="706" x2="54.0" y2="704.5" stroke="#777" stroke-width="0.6" />
<line x1="23.4" y1="686.4" x2="24.9" y2="686.4" stroke="#777" stroke-width="0.6" />
<line x1="58.8" y1="706" x2="58.8" y2="703" stroke="#777" stroke-width="0.6" />
<line x1="23.4" y1="684.0" x2="26.4" y2="684.0" stroke="#777" stroke-width="0.6" />
<line x1="90.1" y1="706" x2="90.1" y2="704.5" stroke="#777" stroke-width="0.6" />
<line x1="23.4" y1="668.3" x2="24.9" y2="668.3" stroke="#777" stroke-width="0.6" />
<line x1="108.4" y1="706" x2="108.4" y2="704.5" stroke="#777" stroke-width="0.6" />
<line x1="23.4" y1="659.1" x2="24.9" y2="659.1" stroke="#777" stroke-width="0.6" />
<line x1="121.4" y1="706" x2="121.4" y2="704.5" stroke="#777" stroke-width="0.6" />
<line x1="23.4" y1="652.5" x2="24.9" y2="652.5" stroke="#777" stroke-width="0.6" />
<line x1="131.5" y1="706" x2="131.5" y2="704.5" stroke="#777" stroke-width="0.6" />
<line x1="23.4" y1="647.5" x2="24.9" y2="647.5" stroke="#777" stroke-width="0.6" />
<line x1="139.8" y1="706" x2="139.8" y2="704.5" stroke="#777" stroke-width="0.6" />
<line x1="23.4" y1="643.3" x2="24.9" y2="643.3" stroke="#777" stroke-width="0.6" />
<line x1="146.7" y1="706" x2="146.7" y2="704.5" stroke="#777" stroke-width="0.6" />
<line x1="23.4" y1="639.8" x2="24.9" y2="639.8" stroke="#777" stroke-width="0.6" />
<line x1="152.8" y1="706" x2="152.8" y2="704.5" stroke="#777" stroke-width="0.6" />
<line x1="23.4" y1="636.8" x2="24.9" y2="636.8" stroke="#777" stroke-width="0.6" />
<line x1="158.1" y1="706" x2="158.1" y2="704.5" stroke="#777" stroke-width="0.6" />
<line x1="23.4" y1="634.1" x2="24.9" y2="634.1" stroke="#777" stroke-width="0.6" />
<line x1="162.8" y1="706" x2="162.8" y2="703" stroke="#777" stroke-width="0.6" />
<line x1="23.4" y1="631.8" x2="26.4" y2="631.8" stroke="#777" stroke-width="0.6" />
<line x1="194.2" y1="706" x2="194.2" y2="704.5" stroke="#777" stroke-width="0.6" />
<line x1="23.4" y1="616.0" x2="24.9" y2="616.0" stroke="#777" stroke-width="0.6" />
<line x1="212.5" y1="706" x2="212.5" y2="704.5" stroke="#777" stroke-width="0.6" />
<line x1="23.4" y1="606.8" x2="24.9" y2="606.8" stroke="#777" stroke-width="0.6" />
<line x1="225.5" y1="706" x2="225.5" y2="704.5" stroke="#777" stroke-width="0.6" />
<line x1="23.4" y1="600.3" x2="24.9" y2="600.3" stroke="#777" stroke-width="0.6" />
<line x1="235.6" y1="706" x2="235.6" y2="704.5" stroke="#777" stroke-width="0.6" />
<line x1="23.4" y1="595.2" x2="24.9" y2="595.2" stroke="#777" stroke-width="0.6" />
<line x1="243.9" y1="706" x2="243.9" y2="704.5" stroke="#777" stroke-width="0.6" />
<line x1="23.4" y1="591.1" x2="24.9" y2="591.1" stroke="#777" stroke-width="0.6" />
<line x1="250.8" y1="706" x2="250.8" y2="704.5" stroke="#777" stroke-width="0.6" />
<line x1="23.4" y1="587.6" x2="24.9" y2="587.6" stroke="#777" stroke-width="0.6" />
<line x1="256.9" y1="706" x2="256.9" y2="704.5" stroke="#777" stroke-width="0.6" />
<line x1="23.4" y1="584.6" x2="24.9" y2="584.6" stroke="#777" stroke-width="0.6" />
<line x1="262.2" y1="706" x2="262.2" y2="704.5" stroke="#777" stroke-width="0.6" />
<line x1="23.4" y1="581.9" x2="24.9" y2="581.9" stroke="#777" stroke-width="0.6" />
<line x1="266.9" y1="706" x2="266.9" y2="703" stroke="#777" stroke-width="0.6" />
<line x1="23.4" y1="579.5" x2="26.4" y2="579.5" stroke="#777" stroke-width="0.6" />
<line x1="298.3" y1="706" x2="298.3" y2="704.5" stroke="#777" stroke-width="0.6" />
<line x1="23.4" y1="563.8" x2="24.9" y2="563.8" stroke="#777" stroke-width="0.6" />
<line x1="316.6" y1="706" x2="316.6" y2="704.5" stroke="#777" stroke-width="0.6" />
<line x1="23.4" y1="554.6" x2="24.9" y2="554.6" stroke="#777" stroke-width="0.6" />
<line x1="329.6" y1="706" x2="329.6" y2="704.5" stroke="#777" stroke-width="0.6" />
<line x1="339.7" y1="706" x2="339.7" y2="704.5" stroke="#777" stroke-width="0.6" />
<text x="-0.5" y="155.9" font-size="13.5" font-weight="bold" fill="#111" text-anchor="start" >D</text>
<text x="40" y="155.4" font-size="10" font-weight="bold" fill="#111" text-anchor="start" textLength="127" lengthAdjust="spacingAndGlyphs" >BVS (posterior mesoderm)</text>
<text x="23.7" y="178.7" font-size="10" font-weight="bold" fill="#84c256" text-anchor="start" textLength="175.8" lengthAdjust="spacingAndGlyphs" >265 probe sets upregulated ≥ 3.0 fold</text>
<text x="164.4" y="317.8" font-size="10" font-weight="bold" fill="#2b3990" text-anchor="start" textLength="175" lengthAdjust="spacingAndGlyphs" >165 probe sets upregulated ≥ 3.0 fold</text>
<text x="0.2" y="357.3" font-size="13.5" font-weight="bold" fill="#111" text-anchor="start" >E</text>
<text x="41" y="357.5" font-size="10" font-weight="bold" fill="#111" textLength="159.5" lengthAdjust="spacingAndGlyphs">B<tspan dy="-3" font-size="7.5">lo</tspan><tspan dy="3">VSA</tspan><tspan dy="-3" font-size="7.5">hi</tspan><tspan dy="3"> (anterior mesendoderm)</tspan></text>
<text x="32" y="374.5" font-size="10" font-weight="bold" fill="#84c256" text-anchor="start" textLength="170.5" lengthAdjust="spacingAndGlyphs" >82 probe sets upregulated ≥ 3.0 fold</text>
<text x="170.2" y="510.4" font-size="9.8" font-weight="bold" fill="#2b3990" text-anchor="start" textLength="165.5" lengthAdjust="spacingAndGlyphs" >83 probe sets upregulated ≥ 3.0 fold</text>
<text x="-0.5" y="545.4" font-size="13.5" font-weight="bold" fill="#111" text-anchor="start" >G</text>
<text x="27" y="564.3" font-size="10" font-weight="bold" fill="#84c256" text-anchor="start" textLength="176" lengthAdjust="spacingAndGlyphs" >61 probe sets upregulated ≥ 3.0 fold</text>
<text x="170.5" y="700.5" font-size="9.8" font-weight="bold" fill="#2b3990" text-anchor="start" textLength="166.3" lengthAdjust="spacingAndGlyphs" >83 probe sets upregulated ≥ 3.0 fold</text>
<text x="279.2" y="340" font-size="10.5" font-weight="bold" fill="#111" textLength="37.7" lengthAdjust="spacingAndGlyphs">Ep<tspan dy="-3.1" font-size="8.9">-</tspan><tspan dy="3.1">AR</tspan><tspan dy="-1.8" font-size="8.9">+</tspan></text>
<text x="276.6" y="531.2" font-size="10.5" font-weight="bold" fill="#111" textLength="38" lengthAdjust="spacingAndGlyphs">Ep<tspan dy="-3.1" font-size="8.9">-</tspan><tspan dy="3.1">AR</tspan><tspan dy="-1.8" font-size="8.9">+</tspan></text>
<text x="0" y="0" font-size="10.5" font-weight="bold" fill="#111" transform="translate(12.2 240.6) rotate(-90)" textLength="35.3" lengthAdjust="spacingAndGlyphs">Ep<tspan dy="-1.8" font-size="8.9">+</tspan><tspan dy="1.8">AR</tspan><tspan dy="-3.1" font-size="8.9">-</tspan></text>
<text x="0" y="0" font-size="10.5" font-weight="bold" fill="#111" transform="translate(11.5 437.5) rotate(-90)" textLength="36" lengthAdjust="spacingAndGlyphs">Ep<tspan dy="-1.8" font-size="8.9">+</tspan><tspan dy="1.8">AR</tspan><tspan dy="-3.1" font-size="8.9">-</tspan></text>
<text x="0" y="0" font-size="10.5" font-weight="bold" fill="#111" transform="translate(12.6 701) rotate(-90)" textLength="150" lengthAdjust="spacingAndGlyphs">posterior mesoderm (Ep<tspan dy="-3.1" font-size="8.9">-</tspan><tspan dy="3.1">AR</tspan><tspan dy="-1.8" font-size="8.9">+</tspan><tspan dy="1.8">)</tspan></text>
<text x="172.7" y="723.5" font-size="10.5" font-weight="bold" fill="#111" textLength="164" lengthAdjust="spacingAndGlyphs">anterior mesendoderm (Ep<tspan dy="-3.1" font-size="8.9">-</tspan><tspan dy="3.1">AR</tspan><tspan dy="-1.8" font-size="8.9">+</tspan><tspan dy="1.8">)</tspan></text>
<text x="274.7" y="245.4" font-size="8.5" font-weight="bold" fill="#111" text-anchor="start" >HOXB5</text>
<text x="315" y="245.4" font-size="8.5" font-weight="bold" fill="#111" text-anchor="start" >11.9</text>
<text x="274.7" y="255.5" font-size="8.5" font-weight="bold" fill="#111" text-anchor="start" >HOXB2</text>
<text x="315" y="255.5" font-size="8.5" font-weight="bold" fill="#111" text-anchor="start" >10.8</text>
<text x="274.7" y="265.6" font-size="8.5" font-weight="bold" fill="#111" text-anchor="start" >BMP4</text>
<text x="315" y="265.6" font-size="8.5" font-weight="bold" fill="#111" text-anchor="start" >8.5</text>
<text x="274.7" y="275.7" font-size="8.5" font-weight="bold" fill="#111" text-anchor="start" >APLNR</text>
<text x="315" y="275.7" font-size="8.5" font-weight="bold" fill="#111" text-anchor="start" >7.3</text>
<text x="274.7" y="285.8" font-size="8.5" font-weight="bold" fill="#111" text-anchor="start" >ELMO1</text>
<text x="315" y="285.8" font-size="8.5" font-weight="bold" fill="#111" text-anchor="start" >5.5</text>
<text x="274.7" y="295.9" font-size="8.5" font-weight="bold" fill="#111">PDGFR<tspan font-family="Liberation Serif" font-weight="normal">α</tspan></text>
<text x="315" y="295.9" font-size="8.5" font-weight="bold" fill="#111" text-anchor="start" >5.3</text>
<text x="274.7" y="306.0" font-size="8.5" font-weight="bold" fill="#111" text-anchor="start" >WNT3</text>
<text x="315" y="306.0" font-size="8.5" font-weight="bold" fill="#111" text-anchor="start" >3.0</text>
<text x="279.6" y="436.8" font-size="8.5" font-weight="bold" fill="#111" text-anchor="start" >HAND1</text>
<text x="318.8" y="436.8" font-size="8.5" font-weight="bold" fill="#111" text-anchor="start" >31.9</text>
<text x="279.6" y="447.0" font-size="8.5" font-weight="bold" fill="#111" text-anchor="start" >HAPLN1</text>
<text x="318.8" y="447.0" font-size="8.5" font-weight="bold" fill="#111" text-anchor="start" >21.8</text>
<text x="279.6" y="457.2" font-size="8.5" font-weight="bold" fill="#111" text-anchor="start" >APLNR</text>
<text x="318.8" y="457.2" font-size="8.5" font-weight="bold" fill="#111" text-anchor="start" >16.0</text>
<text x="279.6" y="467.4" font-size="8.5" font-weight="bold" fill="#111" text-anchor="start" >MESP1</text>
<text x="318.8" y="467.4" font-size="8.5" font-weight="bold" fill="#111" text-anchor="start" >7.79</text>
<text x="279.6" y="477.6" font-size="8.5" font-weight="bold" fill="#111" text-anchor="start" >FST</text>
<text x="318.8" y="477.6" font-size="8.5" font-weight="bold" fill="#111" text-anchor="start" >4.0</text>
<text x="279.6" y="487.8" font-size="8.5" font-weight="bold" fill="#111" text-anchor="start" >FZD2</text>
<text x="318.8" y="487.8" font-size="8.5" font-weight="bold" fill="#111" text-anchor="start" >3.7</text>
<text x="279.6" y="498.0" font-size="8.5" font-weight="bold" fill="#111" text-anchor="start" >FOXN4</text>
<text x="318.8" y="498.0" font-size="8.5" font-weight="bold" fill="#111" text-anchor="start" >3.1</text>
<text x="34" y="576.5" font-size="8.5" font-weight="bold" fill="#111" text-anchor="start" >HOXB5</text>
<text x="73.8" y="576.5" font-size="8.5" font-weight="bold" fill="#111" text-anchor="start" >13.3</text>
<text x="34" y="586.6" font-size="8.5" font-weight="bold" fill="#111" text-anchor="start" >HOXB2</text>
<text x="73.8" y="586.6" font-size="8.5" font-weight="bold" fill="#111" text-anchor="start" >10.8</text>
<text x="34" y="596.7" font-size="8.5" font-weight="bold" fill="#111" text-anchor="start" >MSX1</text>
<text x="73.8" y="596.7" font-size="8.5" font-weight="bold" fill="#111" text-anchor="start" >10.6</text>
<text x="34" y="606.8" font-size="8.5" font-weight="bold" fill="#111" text-anchor="start" >LEF1</text>
<text x="73.8" y="606.8" font-size="8.5" font-weight="bold" fill="#111" text-anchor="start" >8.8</text>
<text x="34" y="616.9" font-size="8.5" font-weight="bold" fill="#111" text-anchor="start" >HOXB8</text>
<text x="73.8" y="616.9" font-size="8.5" font-weight="bold" fill="#111" text-anchor="start" >6.8</text>
<text x="34" y="627.0" font-size="8.5" font-weight="bold" fill="#111" text-anchor="start" >HOXB6</text>
<text x="73.8" y="627.0" font-size="8.5" font-weight="bold" fill="#111" text-anchor="start" >5.0</text>
<text x="98.8" y="576.5" font-size="8.5" font-weight="bold" fill="#111" text-anchor="start" >HOXB7</text>
<text x="138" y="576.5" font-size="8.5" font-weight="bold" fill="#111" text-anchor="start" >3.0</text>
<text x="98.8" y="586.6" font-size="8.5" font-weight="bold" fill="#111">PDGFR<tspan font-family="Liberation Serif" font-weight="normal">β</tspan></text>
<text x="138" y="586.6" font-size="8.5" font-weight="bold" fill="#111" text-anchor="start" >3.0</text>
<text x="280.8" y="626.8" font-size="8.5" font-weight="bold" fill="#111" text-anchor="start" >SOX17</text>
<text x="319.5" y="626.8" font-size="8.5" font-weight="bold" fill="#111" text-anchor="start" >13.2</text>
<text x="280.8" y="637.1" font-size="8.5" font-weight="bold" fill="#111" text-anchor="start" >NODAL</text>
<text x="319.5" y="637.1" font-size="8.5" font-weight="bold" fill="#111" text-anchor="start" >12.9</text>
<text x="280.8" y="647.4" font-size="8.5" font-weight="bold" fill="#111" text-anchor="start" >CXCR4</text>
<text x="319.5" y="647.4" font-size="8.5" font-weight="bold" fill="#111" text-anchor="start" >10.3</text>
<text x="280.8" y="657.7" font-size="8.5" font-weight="bold" fill="#111" text-anchor="start" >GSC</text>
<text x="319.5" y="657.7" font-size="8.5" font-weight="bold" fill="#111" text-anchor="start" >8.0</text>
<text x="280.8" y="668.0" font-size="8.5" font-weight="bold" fill="#111" text-anchor="start" >FOXA2</text>
<text x="319.5" y="668.0" font-size="8.5" font-weight="bold" fill="#111" text-anchor="start" >7.5</text>
<text x="280.8" y="678.3" font-size="8.5" font-weight="bold" fill="#111" text-anchor="start" >CER1</text>
<text x="319.5" y="678.3" font-size="8.5" font-weight="bold" fill="#111" text-anchor="start" >6.4</text>
<text x="280.8" y="688.6" font-size="8.5" font-weight="bold" fill="#111" text-anchor="start" >EOMES</text>
<text x="319.5" y="688.6" font-size="8.5" font-weight="bold" fill="#111" text-anchor="start" >6.2</text>
<text x="363.2" y="158.9" font-size="13.5" font-weight="bold" fill="#111" text-anchor="start" >F</text>
<g shape-rendering="auto"><rect x="367.5" y="236.5" width="151.70" height="474.20" fill="#2c2f80"/><rect x="367.50" y="238.0" width="25.33" height="1.20" fill="#f8a11e"/><rect x="367.50" y="239.2" width="25.33" height="1.80" fill="#f4e51f"/><rect x="367.50" y="241.0" width="25.33" height="2.30" fill="#ec1f26"/><rect x="367.50" y="245.2" width="25.33" height="1.50" fill="#263a98"/><rect x="367.50" y="246.7" width="25.33" height="2.30" fill="#3b5cb6"/><rect x="367.50" y="249.0" width="25.33" height="1.50" fill="#5cc6e0"/><rect x="367.50" y="250.5" width="25.33" height="3.70" fill="#6dd3c4"/><rect x="367.50" y="254.2" width="25.33" height="1.50" fill="#2ba596"/><rect x="367.50" y="256.8" width="25.33" height="1.90" fill="#3b5cb6"/><rect x="367.50" y="258.7" width="25.33" height="4.50" fill="#4f86c8"/><rect x="367.50" y="263.2" width="25.33" height="1.30" fill="#2ba596"/><rect x="367.50" y="264.5" width="25.33" height="1.70" fill="#5cc6e0"/><rect x="367.50" y="266.2" width="25.33" height="3.00" fill="#3b5cb6"/><rect x="367.50" y="272.0" width="25.33" height="1.80" fill="#3b5cb6"/><rect x="367.50" y="293.0" width="25.33" height="1.50" fill="#4f86c8"/><rect x="367.50" y="334.7" width="25.33" height="1.50" fill="#4f86c8"/><rect x="367.50" y="401.9" width="25.33" height="2.30" fill="#5cc6e0"/><rect x="367.50" y="404.2" width="25.33" height="4.50" fill="#4f86c8"/><rect x="367.50" y="408.7" width="25.33" height="2.00" fill="#5cc6e0"/><rect x="367.50" y="410.7" width="25.33" height="0.60" fill="#4f86c8"/><rect x="367.50" y="411.3" width="25.33" height="3.70" fill="#5cc6e0"/><rect x="367.50" y="415.0" width="25.33" height="4.50" fill="#4f86c8"/><rect x="367.50" y="419.5" width="25.33" height="7.90" fill="#6dd3c4"/><rect x="367.50" y="427.4" width="25.33" height="17.80" fill="#4f86c8"/><rect x="367.50" y="445.2" width="25.33" height="2.00" fill="#5cc6e0"/><rect x="367.50" y="447.2" width="25.33" height="15.80" fill="#4f86c8"/><rect x="367.50" y="464.4" width="25.33" height="10.60" fill="#4f86c8"/><rect x="367.50" y="494.0" width="25.33" height="24.10" fill="#4f86c8"/><rect x="367.50" y="523.1" width="25.33" height="7.40" fill="#4f86c8"/><rect x="367.50" y="535.0" width="25.33" height="2.00" fill="#4f86c8"/><rect x="367.50" y="545.3" width="25.33" height="6.00" fill="#22a04e"/><rect x="367.50" y="551.3" width="25.33" height="2.90" fill="#6dd3c4"/><rect x="367.50" y="554.2" width="25.33" height="3.00" fill="#5cc6e0"/><rect x="367.50" y="557.2" width="25.33" height="8.80" fill="#6dd3c4"/><rect x="367.50" y="566.0" width="25.33" height="4.50" fill="#4f86c8"/><rect x="367.50" y="570.5" width="25.33" height="1.90" fill="#5cc6e0"/><rect x="367.50" y="572.4" width="25.33" height="2.90" fill="#3b5cb6"/><rect x="367.50" y="575.3" width="25.33" height="3.00" fill="#2ba596"/><rect x="367.50" y="578.3" width="25.33" height="3.00" fill="#4f86c8"/><rect x="367.50" y="581.3" width="25.33" height="2.90" fill="#5cc6e0"/><rect x="367.50" y="584.2" width="25.33" height="3.00" fill="#3b5cb6"/><rect x="367.50" y="587.2" width="25.33" height="2.90" fill="#4f86c8"/><rect x="367.50" y="590.1" width="25.33" height="3.60" fill="#a9d13f"/><rect x="367.50" y="593.7" width="25.33" height="8.90" fill="#22a04e"/><rect x="367.50" y="602.6" width="25.33" height="7.10" fill="#6dd3c4"/><rect x="367.50" y="609.7" width="25.33" height="1.50" fill="#5cc6e0"/><rect x="367.50" y="611.2" width="25.33" height="2.30" fill="#2ba596"/><rect x="367.50" y="615.0" width="25.33" height="3.00" fill="#4f86c8"/><rect x="367.50" y="618.0" width="25.33" height="1.50" fill="#2ba596"/><rect x="367.50" y="619.5" width="25.33" height="5.20" fill="#22a04e"/><rect x="367.50" y="624.7" width="25.33" height="2.30" fill="#6dd3c4"/><rect x="367.50" y="627.0" width="25.33" height="5.20" fill="#f4e51f"/><rect x="367.50" y="632.2" width="25.33" height="1.50" fill="#a9d13f"/><rect x="367.50" y="633.7" width="25.33" height="2.30" fill="#22a04e"/><rect x="367.50" y="636.0" width="25.33" height="4.20" fill="#f4e51f"/><rect x="367.50" y="640.2" width="25.33" height="1.50" fill="#a9d13f"/><rect x="367.50" y="641.7" width="25.33" height="1.50" fill="#f8a11e"/><rect x="367.50" y="643.2" width="25.33" height="2.30" fill="#f26a24"/><rect x="367.50" y="645.5" width="25.33" height="1.50" fill="#a9d13f"/><rect x="367.50" y="647.0" width="25.33" height="3.00" fill="#f4e51f"/><rect x="367.50" y="650.0" width="25.33" height="2.20" fill="#f8a11e"/><rect x="367.50" y="652.2" width="25.33" height="2.30" fill="#f4e51f"/><rect x="367.50" y="654.5" width="25.33" height="3.70" fill="#f8a11e"/><rect x="367.50" y="658.2" width="25.33" height="6.00" fill="#f26a24"/><rect x="367.50" y="664.2" width="25.33" height="1.50" fill="#a9d13f"/><rect x="367.50" y="667.2" width="25.33" height="2.30" fill="#3b5cb6"/><rect x="367.50" y="671.7" width="25.33" height="2.30" fill="#3b5cb6"/><rect x="367.50" y="676.5" width="25.33" height="2.20" fill="#3b5cb6"/><rect x="367.50" y="681.0" width="25.33" height="1.50" fill="#3b5cb6"/><rect x="367.50" y="685.5" width="25.33" height="1.50" fill="#3b5cb6"/><rect x="367.50" y="691.2" width="25.33" height="19.50" fill="#ec1f26"/><rect x="392.78" y="236.5" width="25.33" height="2.00" fill="#ec1f26"/><rect x="392.78" y="238.5" width="25.33" height="2.20" fill="#f26a24"/><rect x="392.78" y="240.7" width="25.33" height="2.30" fill="#f8a11e"/><rect x="392.78" y="243.0" width="25.33" height="1.50" fill="#f9c21b"/><rect x="392.78" y="244.5" width="25.33" height="1.50" fill="#2ba596"/><rect x="392.78" y="246.0" width="25.33" height="2.20" fill="#22a04e"/><rect x="392.78" y="249.7" width="25.33" height="2.00" fill="#ec1f26"/><rect x="392.78" y="251.7" width="25.33" height="2.50" fill="#f9c21b"/><rect x="392.78" y="254.2" width="25.33" height="2.30" fill="#a9d13f"/><rect x="392.78" y="256.5" width="25.33" height="1.50" fill="#2ba596"/><rect x="392.78" y="258.0" width="25.33" height="1.80" fill="#f8a11e"/><rect x="392.78" y="259.8" width="25.33" height="1.20" fill="#f9c21b"/><rect x="392.78" y="261.0" width="25.33" height="2.20" fill="#f8a11e"/><rect x="392.78" y="263.2" width="25.33" height="1.50" fill="#f9c21b"/><rect x="392.78" y="264.7" width="25.33" height="3.00" fill="#ec1f26"/><rect x="392.78" y="267.7" width="25.33" height="3.80" fill="#22a04e"/><rect x="392.78" y="271.5" width="25.33" height="2.00" fill="#5cc6e0"/><rect x="392.78" y="273.5" width="25.33" height="2.20" fill="#2ba596"/><rect x="392.78" y="275.7" width="25.33" height="2.30" fill="#22a04e"/><rect x="392.78" y="278.0" width="25.33" height="1.50" fill="#2ba596"/><rect x="392.78" y="279.5" width="25.33" height="2.20" fill="#22a04e"/><rect x="392.78" y="281.7" width="25.33" height="2.30" fill="#5cc6e0"/><rect x="392.78" y="284.0" width="25.33" height="3.00" fill="#66abe0"/><rect x="392.78" y="288.5" width="25.33" height="2.20" fill="#3b5cb6"/><rect x="392.78" y="290.7" width="25.33" height="2.30" fill="#66abe0"/><rect x="392.78" y="293.0" width="25.33" height="1.50" fill="#5cc6e0"/><rect x="392.78" y="298.2" width="25.33" height="1.50" fill="#3b5cb6"/><rect x="392.78" y="302.0" width="25.33" height="1.50" fill="#66abe0"/><rect x="392.78" y="307.2" width="25.33" height="3.00" fill="#4f86c8"/><rect x="392.78" y="310.2" width="25.33" height="1.00" fill="#3b5cb6"/><rect x="392.78" y="312.7" width="25.33" height="2.50" fill="#4f86c8"/><rect x="392.78" y="319.7" width="25.33" height="12.00" fill="#4f86c8"/><rect x="392.78" y="331.7" width="25.33" height="3.00" fill="#22a04e"/><rect x="392.78" y="334.7" width="25.33" height="1.50" fill="#3b5cb6"/><rect x="392.78" y="377.6" width="25.33" height="1.80" fill="#4f86c8"/><rect x="392.78" y="382.0" width="25.33" height="1.50" fill="#4f86c8"/><rect x="392.78" y="392.4" width="25.33" height="2.10" fill="#4f86c8"/><rect x="392.78" y="397.7" width="25.33" height="2.10" fill="#4f86c8"/><rect x="392.78" y="401.9" width="25.33" height="8.80" fill="#4f86c8"/><rect x="392.78" y="544.7" width="25.33" height="3.00" fill="#4f86c8"/><rect x="392.78" y="552.7" width="25.33" height="1.50" fill="#4f86c8"/><rect x="392.78" y="557.8" width="25.33" height="2.30" fill="#4f86c8"/><rect x="392.78" y="563.1" width="25.33" height="4.40" fill="#4f86c8"/><rect x="392.78" y="570.5" width="25.33" height="1.90" fill="#4f86c8"/><rect x="392.78" y="581.3" width="25.33" height="2.00" fill="#4f86c8"/><rect x="392.78" y="583.3" width="25.33" height="3.90" fill="#3b5cb6"/><rect x="392.78" y="587.2" width="25.33" height="3.50" fill="#4f86c8"/><rect x="392.78" y="590.7" width="25.33" height="3.00" fill="#66abe0"/><rect x="392.78" y="593.7" width="25.33" height="3.00" fill="#4f86c8"/><rect x="392.78" y="596.7" width="25.33" height="2.90" fill="#5cc6e0"/><rect x="392.78" y="599.6" width="25.33" height="8.60" fill="#4f86c8"/><rect x="392.78" y="608.2" width="25.33" height="1.50" fill="#66abe0"/><rect x="392.78" y="618.0" width="25.33" height="1.50" fill="#3b5cb6"/><rect x="392.78" y="621.7" width="25.33" height="2.30" fill="#4f86c8"/><rect x="392.78" y="626.2" width="25.33" height="3.80" fill="#5cc6e0"/><rect x="392.78" y="631.5" width="25.33" height="2.20" fill="#4f86c8"/><rect x="392.78" y="633.7" width="25.33" height="2.30" fill="#66abe0"/><rect x="392.78" y="636.0" width="25.33" height="3.50" fill="#4f86c8"/><rect x="392.78" y="644.0" width="25.33" height="3.00" fill="#5cc6e0"/><rect x="392.78" y="647.0" width="25.33" height="3.70" fill="#4f86c8"/><rect x="392.78" y="650.7" width="25.33" height="9.80" fill="#6dd3c4"/><rect x="392.78" y="660.5" width="25.33" height="3.70" fill="#22a04e"/><rect x="392.78" y="664.2" width="25.33" height="5.30" fill="#a9d13f"/><rect x="392.78" y="669.5" width="25.33" height="1.50" fill="#2ba596"/><rect x="392.78" y="674.0" width="25.33" height="1.50" fill="#3b5cb6"/><rect x="392.78" y="675.5" width="25.33" height="1.70" fill="#a9d13f"/><rect x="392.78" y="677.2" width="25.33" height="4.50" fill="#22a04e"/><rect x="392.78" y="681.7" width="25.33" height="4.50" fill="#5cc6e0"/><rect x="392.78" y="686.2" width="25.33" height="1.50" fill="#f9c21b"/><rect x="392.78" y="689.2" width="25.33" height="2.30" fill="#3b5cb6"/><rect x="392.78" y="691.5" width="25.33" height="1.50" fill="#5cc6e0"/><rect x="392.78" y="693.0" width="25.33" height="2.20" fill="#22a04e"/><rect x="392.78" y="695.2" width="25.33" height="2.30" fill="#2ba596"/><rect x="392.78" y="697.5" width="25.33" height="2.20" fill="#22a04e"/><rect x="392.78" y="699.7" width="25.33" height="2.30" fill="#a9d13f"/><rect x="392.78" y="702.0" width="25.33" height="2.20" fill="#22a04e"/><rect x="392.78" y="704.2" width="25.33" height="2.30" fill="#a9d13f"/><rect x="392.78" y="706.5" width="25.33" height="2.20" fill="#f4e51f"/><rect x="392.78" y="708.7" width="25.33" height="2.00" fill="#f8a11e"/><rect x="418.07" y="236.5" width="25.33" height="4.20" fill="#ec1f26"/><rect x="418.07" y="240.7" width="25.33" height="1.50" fill="#8fc6b8"/><rect x="418.07" y="242.2" width="25.33" height="2.30" fill="#6dd3c4"/><rect x="418.07" y="246.0" width="25.33" height="1.50" fill="#a9d13f"/><rect x="418.07" y="247.5" width="25.33" height="2.20" fill="#7fcf6a"/><rect x="418.07" y="249.7" width="25.33" height="18.00" fill="#ec1f26"/><rect x="418.07" y="267.7" width="25.33" height="1.50" fill="#f8a11e"/><rect x="418.07" y="269.2" width="25.33" height="3.00" fill="#f4e51f"/><rect x="418.07" y="272.2" width="25.33" height="2.00" fill="#f9c21b"/><rect x="418.07" y="274.2" width="25.33" height="2.30" fill="#22a04e"/><rect x="418.07" y="276.5" width="25.33" height="2.20" fill="#f4e51f"/><rect x="418.07" y="278.7" width="25.33" height="2.30" fill="#22a04e"/><rect x="418.07" y="281.0" width="25.33" height="2.20" fill="#2ba596"/><rect x="418.07" y="283.2" width="25.33" height="2.30" fill="#5cc6e0"/><rect x="418.07" y="285.5" width="25.33" height="1.50" fill="#22a04e"/><rect x="418.07" y="287.0" width="25.33" height="4.50" fill="#a9d13f"/><rect x="418.07" y="291.5" width="25.33" height="2.20" fill="#22a04e"/><rect x="418.07" y="293.7" width="25.33" height="2.30" fill="#2ba596"/><rect x="418.07" y="296.0" width="25.33" height="2.20" fill="#3b5cb6"/><rect x="418.07" y="298.2" width="25.33" height="2.30" fill="#5cc6e0"/><rect x="418.07" y="300.5" width="25.33" height="1.50" fill="#66abe0"/><rect x="418.07" y="302.0" width="25.33" height="2.20" fill="#2ba596"/><rect x="418.07" y="304.2" width="25.33" height="2.30" fill="#5cc6e0"/><rect x="418.07" y="306.5" width="25.33" height="2.20" fill="#3b5cb6"/><rect x="418.07" y="308.7" width="25.33" height="2.80" fill="#5cc6e0"/><rect x="418.07" y="311.5" width="25.33" height="1.50" fill="#66abe0"/><rect x="418.07" y="313.0" width="25.33" height="2.20" fill="#4f86c8"/><rect x="418.07" y="315.2" width="25.33" height="2.30" fill="#3b5cb6"/><rect x="418.07" y="317.5" width="25.33" height="2.20" fill="#4f86c8"/><rect x="418.07" y="319.7" width="25.33" height="8.30" fill="#5cc6e0"/><rect x="418.07" y="328.0" width="25.33" height="1.50" fill="#4f86c8"/><rect x="418.07" y="329.5" width="25.33" height="2.20" fill="#5cc6e0"/><rect x="418.07" y="331.7" width="25.33" height="3.00" fill="#5cc6e0"/><rect x="418.07" y="334.7" width="25.33" height="1.50" fill="#3b5cb6"/><rect x="418.07" y="346.5" width="25.33" height="2.00" fill="#4f86c8"/><rect x="418.07" y="374.6" width="25.33" height="4.40" fill="#4f86c8"/><rect x="418.07" y="382.9" width="25.33" height="8.90" fill="#4f86c8"/><rect x="418.07" y="393.9" width="25.33" height="5.90" fill="#4f86c8"/><rect x="418.07" y="535.0" width="25.33" height="3.00" fill="#4f86c8"/><rect x="418.07" y="608.2" width="25.33" height="1.50" fill="#4f86c8"/><rect x="418.07" y="612.7" width="25.33" height="2.30" fill="#3b5cb6"/><rect x="418.07" y="618.0" width="25.33" height="2.20" fill="#3b5cb6"/><rect x="418.07" y="622.5" width="25.33" height="2.20" fill="#3b5cb6"/><rect x="418.07" y="627.0" width="25.33" height="3.00" fill="#4f86c8"/><rect x="418.07" y="632.2" width="25.33" height="3.80" fill="#4f86c8"/><rect x="418.07" y="644.7" width="25.33" height="2.30" fill="#4f86c8"/><rect x="418.07" y="650.0" width="25.33" height="10.50" fill="#4f86c8"/><rect x="418.07" y="660.5" width="25.33" height="3.00" fill="#5cc6e0"/><rect x="418.07" y="663.5" width="25.33" height="2.20" fill="#4f86c8"/><rect x="418.07" y="665.7" width="25.33" height="2.30" fill="#f8a11e"/><rect x="418.07" y="668.0" width="25.33" height="2.20" fill="#ec1f26"/><rect x="418.07" y="670.2" width="25.33" height="1.50" fill="#a9d13f"/><rect x="418.07" y="671.7" width="25.33" height="5.50" fill="#6dd3c4"/><rect x="418.07" y="677.2" width="25.33" height="4.50" fill="#22a04e"/><rect x="418.07" y="681.7" width="25.33" height="1.50" fill="#a9d13f"/><rect x="418.07" y="683.2" width="25.33" height="2.30" fill="#2ba596"/><rect x="418.07" y="685.5" width="25.33" height="3.00" fill="#22a04e"/><rect x="418.07" y="688.5" width="25.33" height="2.20" fill="#4f86c8"/><rect x="418.07" y="690.7" width="25.33" height="2.30" fill="#3b5cb6"/><rect x="418.07" y="693.0" width="25.33" height="2.20" fill="#4f86c8"/><rect x="418.07" y="695.2" width="25.33" height="2.30" fill="#5cc6e0"/><rect x="418.07" y="697.5" width="25.33" height="2.20" fill="#4f86c8"/><rect x="418.07" y="699.7" width="25.33" height="2.30" fill="#5cc6e0"/><rect x="418.07" y="702.0" width="25.33" height="2.20" fill="#22a04e"/><rect x="418.07" y="704.2" width="25.33" height="4.50" fill="#6dd3c4"/><rect x="443.35" y="236.5" width="25.33" height="8.00" fill="#ec1f26"/><rect x="443.35" y="244.5" width="25.33" height="3.00" fill="#f8a11e"/><rect x="443.35" y="247.5" width="25.33" height="4.50" fill="#ec1f26"/><rect x="443.35" y="252.0" width="25.33" height="3.00" fill="#a9d13f"/><rect x="443.35" y="258.0" width="25.33" height="2.20" fill="#3b5cb6"/><rect x="443.35" y="263.2" width="25.33" height="2.30" fill="#66abe0"/><rect x="443.35" y="265.5" width="25.33" height="2.20" fill="#3b5cb6"/><rect x="443.35" y="293.0" width="25.33" height="2.20" fill="#3b5cb6"/><rect x="443.35" y="295.2" width="25.33" height="1.10" fill="#66abe0"/><rect x="443.35" y="296.3" width="25.33" height="1.90" fill="#3b5cb6"/><rect x="443.35" y="298.2" width="25.33" height="1.10" fill="#66abe0"/><rect x="443.35" y="317.5" width="25.33" height="2.20" fill="#3b5cb6"/><rect x="443.35" y="322.7" width="25.33" height="3.00" fill="#3b5cb6"/><rect x="443.35" y="325.7" width="25.33" height="3.80" fill="#4f86c8"/><rect x="443.35" y="329.5" width="25.33" height="2.20" fill="#5cc6e0"/><rect x="443.35" y="412.5" width="25.33" height="2.10" fill="#4f86c8"/><rect x="443.35" y="428.0" width="25.33" height="8.30" fill="#4f86c8"/><rect x="443.35" y="453.2" width="25.33" height="2.30" fill="#4f86c8"/><rect x="443.35" y="532.9" width="25.33" height="3.00" fill="#4f86c8"/><rect x="443.35" y="538.8" width="25.33" height="2.10" fill="#4f86c8"/><rect x="443.35" y="540.9" width="25.33" height="4.40" fill="#5cc6e0"/><rect x="443.35" y="548.3" width="25.33" height="3.60" fill="#4f86c8"/><rect x="443.35" y="551.9" width="25.33" height="2.90" fill="#5cc6e0"/><rect x="443.35" y="554.8" width="25.33" height="26.50" fill="#4f86c8"/><rect x="443.35" y="581.3" width="25.33" height="2.90" fill="#5cc6e0"/><rect x="443.35" y="584.2" width="25.33" height="3.00" fill="#4f86c8"/><rect x="443.35" y="587.2" width="25.33" height="2.90" fill="#5cc6e0"/><rect x="443.35" y="590.1" width="25.33" height="2.90" fill="#3b5cb6"/><rect x="443.35" y="593.0" width="25.33" height="3.70" fill="#5cc6e0"/><rect x="443.35" y="596.7" width="25.33" height="2.90" fill="#2ba596"/><rect x="443.35" y="599.6" width="25.33" height="1.90" fill="#5cc6e0"/><rect x="443.35" y="601.5" width="25.33" height="2.20" fill="#4f86c8"/><rect x="443.35" y="603.7" width="25.33" height="3.00" fill="#5cc6e0"/><rect x="443.35" y="606.7" width="25.33" height="2.30" fill="#4f86c8"/><rect x="443.35" y="609.0" width="25.33" height="2.20" fill="#22a04e"/><rect x="443.35" y="611.2" width="25.33" height="1.50" fill="#a9d13f"/><rect x="443.35" y="612.7" width="25.33" height="2.30" fill="#2ba596"/><rect x="443.35" y="615.0" width="25.33" height="1.50" fill="#5cc6e0"/><rect x="443.35" y="616.5" width="25.33" height="2.20" fill="#4f86c8"/><rect x="443.35" y="618.7" width="25.33" height="2.30" fill="#a9d13f"/><rect x="443.35" y="621.0" width="25.33" height="2.20" fill="#2ba596"/><rect x="443.35" y="623.2" width="25.33" height="3.00" fill="#22a04e"/><rect x="443.35" y="626.2" width="25.33" height="2.30" fill="#5cc6e0"/><rect x="443.35" y="628.5" width="25.33" height="1.50" fill="#a9d13f"/><rect x="443.35" y="630.0" width="25.33" height="2.20" fill="#5cc6e0"/><rect x="443.35" y="632.2" width="25.33" height="2.30" fill="#4f86c8"/><rect x="443.35" y="634.5" width="25.33" height="5.30" fill="#22a04e"/><rect x="443.35" y="639.8" width="25.33" height="2.40" fill="#5cc6e0"/><rect x="443.35" y="642.2" width="25.33" height="4.00" fill="#22a04e"/><rect x="443.35" y="646.2" width="25.33" height="3.00" fill="#f4e51f"/><rect x="443.35" y="649.2" width="25.33" height="5.30" fill="#a9d13f"/><rect x="443.35" y="654.5" width="25.33" height="2.20" fill="#22a04e"/><rect x="443.35" y="656.7" width="25.33" height="2.30" fill="#a9d13f"/><rect x="443.35" y="659.0" width="25.33" height="2.20" fill="#22a04e"/><rect x="443.35" y="661.2" width="25.33" height="1.50" fill="#f8a11e"/><rect x="443.35" y="662.7" width="25.33" height="1.50" fill="#a9d13f"/><rect x="443.35" y="664.2" width="25.33" height="5.30" fill="#4f86c8"/><rect x="443.35" y="669.5" width="25.33" height="2.20" fill="#22a04e"/><rect x="443.35" y="671.7" width="25.33" height="2.30" fill="#5cc6e0"/><rect x="443.35" y="674.0" width="25.33" height="4.70" fill="#4f86c8"/><rect x="443.35" y="678.7" width="25.33" height="3.00" fill="#5cc6e0"/><rect x="443.35" y="681.7" width="25.33" height="2.30" fill="#2ba596"/><rect x="443.35" y="686.2" width="25.33" height="2.30" fill="#5cc6e0"/><rect x="443.35" y="688.5" width="25.33" height="1.50" fill="#a9d13f"/><rect x="443.35" y="690.0" width="25.33" height="2.20" fill="#f4e51f"/><rect x="443.35" y="692.2" width="25.33" height="1.50" fill="#f8a11e"/><rect x="443.35" y="693.7" width="25.33" height="2.30" fill="#a9d13f"/><rect x="443.35" y="696.0" width="25.33" height="6.70" fill="#ec1f26"/><rect x="443.35" y="702.7" width="25.33" height="1.50" fill="#a9d13f"/><rect x="443.35" y="704.2" width="25.33" height="1.50" fill="#f8a11e"/><rect x="443.35" y="705.7" width="25.33" height="3.00" fill="#f26a24"/><rect x="468.63" y="236.5" width="25.33" height="15.50" fill="#ec1f26"/><rect x="468.63" y="252.0" width="25.33" height="2.20" fill="#f26a24"/><rect x="468.63" y="254.2" width="25.33" height="2.30" fill="#66abe0"/><rect x="468.63" y="256.5" width="25.33" height="2.20" fill="#3b5cb6"/><rect x="468.63" y="261.0" width="25.33" height="1.50" fill="#5cc6e0"/><rect x="468.63" y="262.5" width="25.33" height="1.50" fill="#a9d13f"/><rect x="468.63" y="264.0" width="25.33" height="1.50" fill="#f4e51f"/><rect x="468.63" y="265.5" width="25.33" height="2.20" fill="#f8a11e"/><rect x="468.63" y="267.7" width="25.33" height="2.30" fill="#3b5cb6"/><rect x="468.63" y="270.0" width="25.33" height="5.70" fill="#4f86c8"/><rect x="468.63" y="290.7" width="25.33" height="2.30" fill="#3b5cb6"/><rect x="468.63" y="293.0" width="25.33" height="1.50" fill="#66abe0"/><rect x="468.63" y="294.5" width="25.33" height="3.70" fill="#5cc6e0"/><rect x="468.63" y="298.2" width="25.33" height="7.50" fill="#4f86c8"/><rect x="468.63" y="308.7" width="25.33" height="3.30" fill="#3b5cb6"/><rect x="468.63" y="315.2" width="25.33" height="1.10" fill="#66abe0"/><rect x="468.63" y="319.3" width="25.33" height="1.90" fill="#66abe0"/><rect x="468.63" y="321.2" width="25.33" height="7.50" fill="#4f86c8"/><rect x="468.63" y="328.7" width="25.33" height="2.30" fill="#5cc6e0"/><rect x="468.63" y="331.0" width="25.33" height="0.70" fill="#4f86c8"/><rect x="468.63" y="428.9" width="25.33" height="0.90" fill="#4f86c8"/><rect x="468.63" y="540.0" width="25.33" height="3.90" fill="#4f86c8"/><rect x="468.63" y="553.6" width="25.33" height="2.10" fill="#4f86c8"/><rect x="468.63" y="557.8" width="25.33" height="2.30" fill="#4f86c8"/><rect x="468.63" y="563.7" width="25.33" height="2.40" fill="#4f86c8"/><rect x="468.63" y="581.3" width="25.33" height="5.90" fill="#4f86c8"/><rect x="468.63" y="587.2" width="25.33" height="2.90" fill="#3b5cb6"/><rect x="468.63" y="590.1" width="25.33" height="17.40" fill="#4f86c8"/><rect x="468.63" y="609.3" width="25.33" height="1.90" fill="#4f86c8"/><rect x="468.63" y="611.2" width="25.33" height="2.30" fill="#5cc6e0"/><rect x="468.63" y="613.5" width="25.33" height="3.00" fill="#22a04e"/><rect x="468.63" y="616.5" width="25.33" height="2.20" fill="#5cc6e0"/><rect x="468.63" y="618.7" width="25.33" height="2.30" fill="#22a04e"/><rect x="468.63" y="621.0" width="25.33" height="1.50" fill="#2ba596"/><rect x="468.63" y="622.5" width="25.33" height="2.20" fill="#22a04e"/><rect x="468.63" y="624.7" width="25.33" height="1.50" fill="#5cc6e0"/><rect x="468.63" y="626.2" width="25.33" height="10.50" fill="#4f86c8"/><rect x="468.63" y="639.8" width="25.33" height="1.90" fill="#3b5cb6"/><rect x="468.63" y="644.0" width="25.33" height="1.50" fill="#5cc6e0"/><rect x="468.63" y="645.5" width="25.33" height="3.70" fill="#22a04e"/><rect x="468.63" y="649.2" width="25.33" height="3.00" fill="#2ba596"/><rect x="468.63" y="652.2" width="25.33" height="1.50" fill="#5cc6e0"/><rect x="468.63" y="653.7" width="25.33" height="3.00" fill="#22a04e"/><rect x="468.63" y="656.7" width="25.33" height="2.30" fill="#5cc6e0"/><rect x="468.63" y="659.0" width="25.33" height="2.20" fill="#4f86c8"/><rect x="468.63" y="661.2" width="25.33" height="2.30" fill="#5cc6e0"/><rect x="468.63" y="663.5" width="25.33" height="2.20" fill="#7fcf6a"/><rect x="468.63" y="665.7" width="25.33" height="2.30" fill="#22a04e"/><rect x="468.63" y="668.0" width="25.33" height="1.50" fill="#a9d13f"/><rect x="468.63" y="669.5" width="25.33" height="2.20" fill="#22a04e"/><rect x="468.63" y="671.7" width="25.33" height="1.50" fill="#a9d13f"/><rect x="468.63" y="673.2" width="25.33" height="2.30" fill="#22a04e"/><rect x="468.63" y="675.5" width="25.33" height="1.00" fill="#5cc6e0"/><rect x="468.63" y="676.5" width="25.33" height="6.00" fill="#22a04e"/><rect x="468.63" y="682.5" width="25.33" height="1.50" fill="#2ba596"/><rect x="468.63" y="684.0" width="25.33" height="4.50" fill="#a9d13f"/><rect x="468.63" y="688.5" width="25.33" height="2.20" fill="#f4e51f"/><rect x="468.63" y="690.7" width="25.33" height="2.30" fill="#5cc6e0"/><rect x="468.63" y="693.0" width="25.33" height="2.20" fill="#22a04e"/><rect x="468.63" y="695.2" width="25.33" height="2.30" fill="#5cc6e0"/><rect x="468.63" y="697.5" width="25.33" height="2.20" fill="#22a04e"/><rect x="468.63" y="699.7" width="25.33" height="2.30" fill="#a9d13f"/><rect x="468.63" y="702.0" width="25.33" height="2.20" fill="#22a04e"/><rect x="468.63" y="704.2" width="25.33" height="2.30" fill="#f8a11e"/><rect x="468.63" y="706.5" width="25.33" height="4.20" fill="#f26a24"/><rect x="493.92" y="236.5" width="25.33" height="7.20" fill="#ec1f26"/><rect x="493.92" y="243.7" width="25.33" height="2.30" fill="#f8a11e"/><rect x="493.92" y="246.0" width="25.33" height="10.50" fill="#ec1f26"/><rect x="493.92" y="256.5" width="25.33" height="2.20" fill="#6dd3c4"/><rect x="493.92" y="258.7" width="25.33" height="2.30" fill="#f8a11e"/><rect x="493.92" y="261.0" width="25.33" height="1.50" fill="#ec1f26"/><rect x="493.92" y="262.5" width="25.33" height="1.50" fill="#a9d13f"/><rect x="493.92" y="264.0" width="25.33" height="3.00" fill="#ec1f26"/><rect x="493.92" y="267.0" width="25.33" height="2.20" fill="#22a04e"/><rect x="493.92" y="269.2" width="25.33" height="2.30" fill="#2ba596"/><rect x="493.92" y="271.5" width="25.33" height="0.50" fill="#3b5cb6"/><rect x="493.92" y="272.0" width="25.33" height="1.50" fill="#2ba596"/><rect x="493.92" y="273.5" width="25.33" height="2.20" fill="#5cc6e0"/><rect x="493.92" y="289.2" width="25.33" height="2.30" fill="#66abe0"/><rect x="493.92" y="293.7" width="25.33" height="3.00" fill="#a9d13f"/><rect x="493.92" y="296.7" width="25.33" height="2.30" fill="#22a04e"/><rect x="493.92" y="299.0" width="25.33" height="1.50" fill="#2ba596"/><rect x="493.92" y="300.5" width="25.33" height="2.20" fill="#6dd3c4"/><rect x="493.92" y="302.7" width="25.33" height="1.50" fill="#5cc6e0"/><rect x="493.92" y="304.2" width="25.33" height="2.30" fill="#4f86c8"/><rect x="493.92" y="306.5" width="25.33" height="2.20" fill="#6dd3c4"/><rect x="493.92" y="308.7" width="25.33" height="11.80" fill="#4f86c8"/><rect x="493.92" y="320.5" width="25.33" height="1.50" fill="#5cc6e0"/><rect x="493.92" y="322.0" width="25.33" height="2.20" fill="#22a04e"/><rect x="493.92" y="324.2" width="25.33" height="2.30" fill="#4f86c8"/><rect x="493.92" y="326.5" width="25.33" height="1.50" fill="#5cc6e0"/><rect x="493.92" y="328.0" width="25.33" height="3.00" fill="#2ba596"/><rect x="493.92" y="331.0" width="25.33" height="4.50" fill="#4f86c8"/><rect x="493.92" y="335.5" width="25.33" height="3.00" fill="#5cc6e0"/><rect x="493.92" y="338.5" width="25.33" height="12.50" fill="#4f86c8"/><rect x="493.92" y="560.7" width="25.33" height="1.80" fill="#4f86c8"/><rect x="493.92" y="577.4" width="25.33" height="3.00" fill="#4f86c8"/><rect x="493.92" y="583.3" width="25.33" height="3.00" fill="#4f86c8"/><rect x="493.92" y="590.1" width="25.33" height="3.60" fill="#4f86c8"/><rect x="493.92" y="596.7" width="25.33" height="2.90" fill="#5cc6e0"/><rect x="493.92" y="599.6" width="25.33" height="2.60" fill="#4f86c8"/><rect x="493.92" y="604.5" width="25.33" height="2.20" fill="#4f86c8"/><rect x="493.92" y="613.5" width="25.33" height="1.50" fill="#5cc6e0"/><rect x="493.92" y="615.0" width="25.33" height="3.70" fill="#22a04e"/><rect x="493.92" y="618.7" width="25.33" height="2.30" fill="#5cc6e0"/><rect x="493.92" y="621.0" width="25.33" height="2.20" fill="#4f86c8"/><rect x="493.92" y="623.2" width="25.33" height="3.00" fill="#5cc6e0"/><rect x="493.92" y="626.2" width="25.33" height="10.50" fill="#4f86c8"/><rect x="493.92" y="644.7" width="25.33" height="4.50" fill="#5cc6e0"/><rect x="493.92" y="649.2" width="25.33" height="2.30" fill="#2ba596"/><rect x="493.92" y="651.5" width="25.33" height="7.50" fill="#6dd3c4"/><rect x="493.92" y="659.0" width="25.33" height="2.20" fill="#4f86c8"/><rect x="493.92" y="661.2" width="25.33" height="2.30" fill="#5cc6e0"/><rect x="493.92" y="663.5" width="25.33" height="1.50" fill="#22a04e"/><rect x="493.92" y="665.0" width="25.33" height="2.20" fill="#f26a24"/><rect x="493.92" y="667.2" width="25.33" height="3.00" fill="#f9c21b"/><rect x="493.92" y="670.2" width="25.33" height="2.30" fill="#f4e51f"/><rect x="493.92" y="672.5" width="25.33" height="3.00" fill="#ec1f26"/><rect x="493.92" y="675.5" width="25.33" height="1.00" fill="#f26a24"/><rect x="493.92" y="676.5" width="25.33" height="6.70" fill="#f4e51f"/><rect x="493.92" y="683.2" width="25.33" height="3.00" fill="#a9d13f"/><rect x="493.92" y="686.2" width="25.33" height="1.50" fill="#f8a11e"/><rect x="493.92" y="687.7" width="25.33" height="3.00" fill="#f26a24"/><rect x="493.92" y="690.7" width="25.33" height="1.50" fill="#2ba596"/><rect x="493.92" y="692.2" width="25.33" height="3.00" fill="#4f86c8"/><rect x="493.92" y="695.2" width="25.33" height="2.30" fill="#5cc6e0"/><rect x="493.92" y="697.5" width="25.33" height="2.20" fill="#4f86c8"/><rect x="493.92" y="699.7" width="25.33" height="4.50" fill="#22a04e"/><rect x="493.92" y="704.2" width="25.33" height="2.30" fill="#a9d13f"/><rect x="493.92" y="706.5" width="25.33" height="4.20" fill="#f8a11e"/></g>
<text x="0" y="0" font-size="10.4" font-weight="bold" fill="#111" transform="translate(384.2 232.3) rotate(-90)" textLength="50.8" lengthAdjust="spacingAndGlyphs">BVS Ep<tspan dy="-1.6" font-size="9">+</tspan><tspan dy="1.6">AR</tspan><tspan dy="-3.2" font-size="9">-</tspan></text>
<text x="0" y="0" font-size="10.4" font-weight="bold" fill="#111" transform="translate(409.3 232.3) rotate(-90)" textLength="53.8" lengthAdjust="spacingAndGlyphs">BVS Ep<tspan dy="-1.6" font-size="9">+</tspan><tspan dy="1.6">AR</tspan><tspan dy="-1.6" font-size="9">+</tspan></text>
<text x="0" y="0" font-size="10.4" font-weight="bold" fill="#111" transform="translate(432.4 232.3) rotate(-90)" textLength="52.3" lengthAdjust="spacingAndGlyphs">BVS Ep<tspan dy="-3.2" font-size="9">-</tspan><tspan dy="3.2">AR</tspan><tspan dy="-1.6" font-size="9">+</tspan></text>
<text x="0" y="0" font-size="10.4" font-weight="bold" fill="#111" transform="translate(460 230.8) rotate(-90)" textLength="67.8" lengthAdjust="spacingAndGlyphs">B<tspan dy="-4.3" font-size="7.6">lo</tspan><tspan dy="4.3">VSA</tspan><tspan dy="-4.3" font-size="7.6">hi</tspan><tspan dy="4.3"> </tspan>Ep<tspan dy="-1.6" font-size="9">+</tspan><tspan dy="1.6">AR</tspan><tspan dy="-3.2" font-size="9">-</tspan></text>
<text x="0" y="0" font-size="10.4" font-weight="bold" fill="#111" transform="translate(486 230.8) rotate(-90)" textLength="70" lengthAdjust="spacingAndGlyphs">B<tspan dy="-4.3" font-size="7.6">lo</tspan><tspan dy="4.3">VSA</tspan><tspan dy="-4.3" font-size="7.6">hi</tspan><tspan dy="4.3"> </tspan>Ep<tspan dy="-1.6" font-size="9">+</tspan><tspan dy="1.6">AR</tspan><tspan dy="-1.6" font-size="9">+</tspan></text>
<text x="0" y="0" font-size="10.4" font-weight="bold" fill="#111" transform="translate(511.3 231.5) rotate(-90)" textLength="70.7" lengthAdjust="spacingAndGlyphs">B<tspan dy="-4.3" font-size="7.6">lo</tspan><tspan dy="4.3">VSA</tspan><tspan dy="-4.3" font-size="7.6">hi</tspan><tspan dy="4.3"> </tspan>Ep<tspan dy="-3.2" font-size="9">-</tspan><tspan dy="3.2">AR</tspan><tspan dy="-1.6" font-size="9">+</tspan></text>
</g></svg></body></html>
